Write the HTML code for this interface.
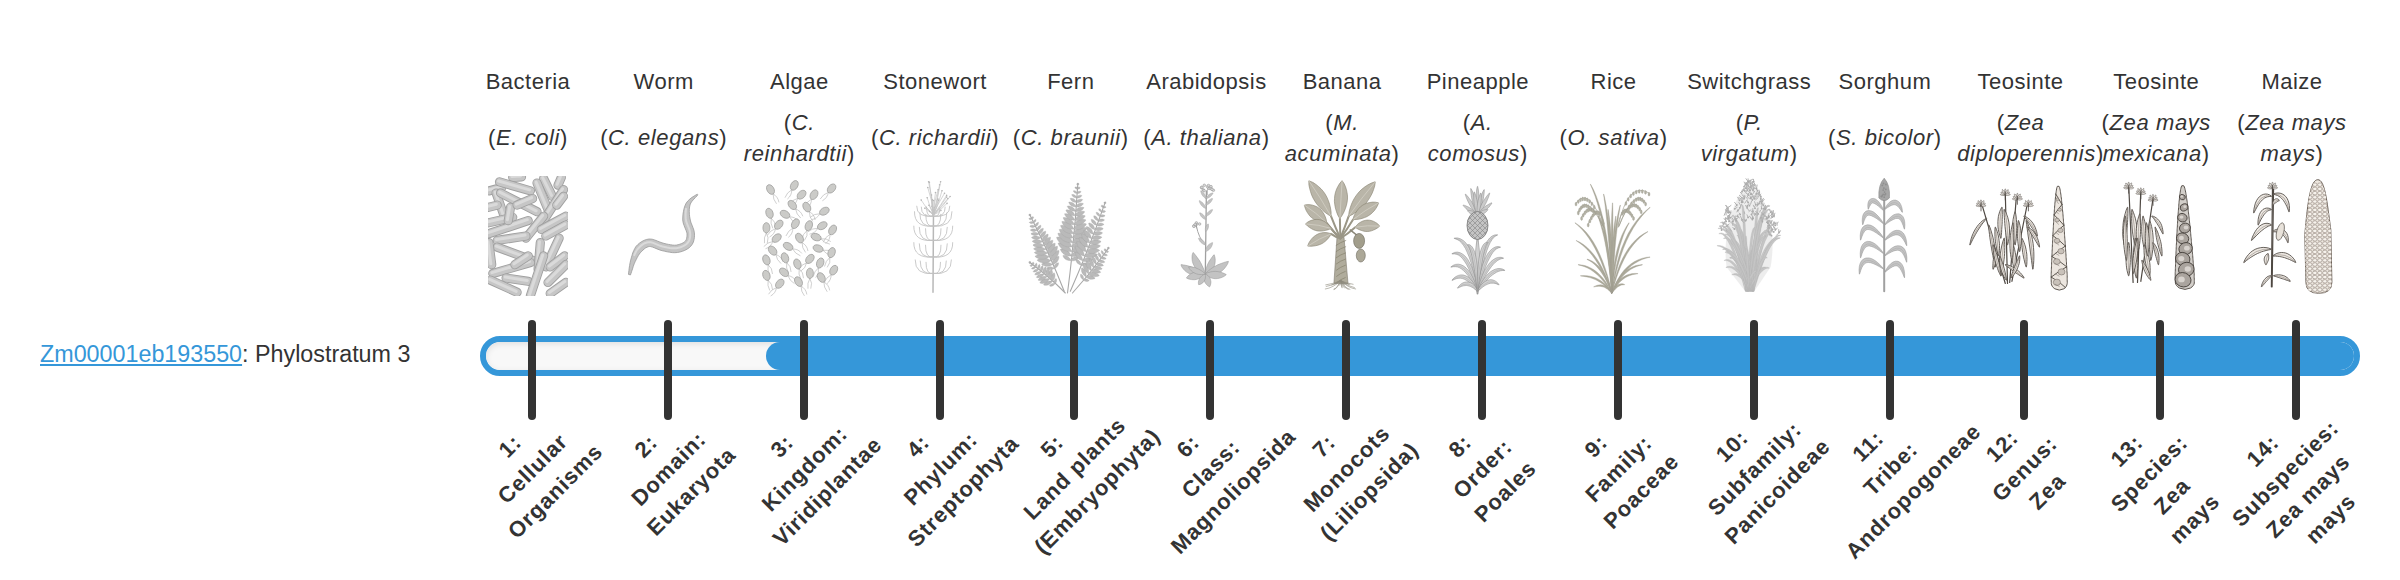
<!DOCTYPE html><html><head><meta charset="utf-8"><style>
*{margin:0;padding:0;box-sizing:border-box}
html,body{width:2400px;height:580px;background:#fff;overflow:hidden}
body{position:relative;font-family:"Liberation Sans",sans-serif;color:#333}
.t{position:absolute;width:200px;margin-left:-100px;text-align:center;font-size:22px;line-height:32px;top:66px;white-space:nowrap;letter-spacing:0.5px}
.s{position:absolute;width:200px;margin-left:-100px;text-align:center;font-size:22px;line-height:31px;white-space:nowrap;letter-spacing:0.6px}
.img{position:absolute;top:172px;width:130px;height:128px;margin-left:-65px}
.bar{position:absolute;left:480px;top:336px;width:1880px;height:40px;border:6px solid #3597d9;border-radius:20px;background:#f7f7f7;overflow:hidden}
.track{position:absolute;left:0;top:0;right:0;bottom:0;border-radius:14px;box-shadow:inset 0 2px 6px rgba(0,0,0,0.10);background:#f8f8f8}
.fill{position:absolute;left:280px;top:0;right:0;bottom:0;background:#3597d9;border-radius:14px 0 0 14px}
.tick{position:absolute;top:320px;width:8px;height:100px;border-radius:4px;background:#333}
.lab{position:absolute;width:600px;transform:rotate(-45deg)}
.lab div{text-align:center;font-weight:bold;font-size:22px;line-height:32px;white-space:nowrap;color:#333;letter-spacing:0.9px}
.left{position:absolute;left:40px;top:338px;font-size:23.3px;line-height:32px;white-space:nowrap;color:#333}
.left a{color:#3597d9;text-decoration:underline}
</style></head><body><div class="left"><a>Zm00001eb193550</a>: Phylostratum 3</div>
<div class="t" style="left:528.00px">Bacteria</div>
<div class="s" style="left:528.00px;top:122.1px">(<i>E. coli</i>)</div>
<div class="t" style="left:663.69px">Worm</div>
<div class="s" style="left:663.69px;top:122.1px">(<i>C. elegans</i>)</div>
<div class="t" style="left:799.38px">Algae</div>
<div class="s" style="left:799.38px;top:106.6px">(<i>C.</i><br><i>reinhardtii</i>)</div>
<div class="t" style="left:935.07px">Stonewort</div>
<div class="s" style="left:935.07px;top:122.1px">(<i>C. richardii</i>)</div>
<div class="t" style="left:1070.76px">Fern</div>
<div class="s" style="left:1070.76px;top:122.1px">(<i>C. braunii</i>)</div>
<div class="t" style="left:1206.45px">Arabidopsis</div>
<div class="s" style="left:1206.45px;top:122.1px">(<i>A. thaliana</i>)</div>
<div class="t" style="left:1342.14px">Banana</div>
<div class="s" style="left:1342.14px;top:106.6px">(<i>M.</i><br><i>acuminata</i>)</div>
<div class="t" style="left:1477.83px">Pineapple</div>
<div class="s" style="left:1477.83px;top:106.6px">(<i>A.</i><br><i>comosus</i>)</div>
<div class="t" style="left:1613.52px">Rice</div>
<div class="s" style="left:1613.52px;top:122.1px">(<i>O. sativa</i>)</div>
<div class="t" style="left:1749.21px">Switchgrass</div>
<div class="s" style="left:1749.21px;top:106.6px">(<i>P.</i><br><i>virgatum</i>)</div>
<div class="t" style="left:1884.90px">Sorghum</div>
<div class="s" style="left:1884.90px;top:122.1px">(<i>S. bicolor</i>)</div>
<div class="t" style="left:2020.59px">Teosinte</div>
<div class="s" style="left:2020.59px;top:106.6px">(<i>Zea</i><br><span style="position:relative;left:10px"><i>diploperennis</i>)</span></div>
<div class="t" style="left:2156.28px">Teosinte</div>
<div class="s" style="left:2156.28px;top:106.6px">(<i>Zea mays</i><br><i>mexicana</i>)</div>
<div class="t" style="left:2291.97px">Maize</div>
<div class="s" style="left:2291.97px;top:106.6px">(<i>Zea mays</i><br><i>mays</i>)</div>
<svg style="position:absolute;left:0;top:0" width="2400" height="580" viewBox="0 0 2400 580"><clipPath id="cb"><rect x="488" y="176" width="80" height="120"/></clipPath><g clip-path="url(#cb)"><line x1="489.5" y1="190.8" x2="501.7" y2="187.5" stroke="#a0a0a0" stroke-width="9.2" stroke-linecap="round" opacity="1"/><line x1="489.5" y1="190.8" x2="501.7" y2="187.5" stroke="#c6c6c6" stroke-width="7.4" stroke-linecap="round" opacity="1"/><line x1="488.6" y1="189.9" x2="500.8" y2="186.6" stroke="#dadada" stroke-width="3" stroke-linecap="round" opacity="1"/><line x1="512.7" y1="177.5" x2="521.5" y2="176.9" stroke="#a0a0a0" stroke-width="9.2" stroke-linecap="round" opacity="1"/><line x1="512.7" y1="177.5" x2="521.5" y2="176.9" stroke="#c6c6c6" stroke-width="7.4" stroke-linecap="round" opacity="1"/><line x1="511.8" y1="176.6" x2="520.6" y2="176.0" stroke="#dadada" stroke-width="3" stroke-linecap="round" opacity="1"/><line x1="543.6" y1="178.6" x2="552.4" y2="196.3" stroke="#a0a0a0" stroke-width="9.2" stroke-linecap="round" opacity="1"/><line x1="543.6" y1="178.6" x2="552.4" y2="196.3" stroke="#c6c6c6" stroke-width="7.4" stroke-linecap="round" opacity="1"/><line x1="542.7" y1="177.7" x2="551.5" y2="195.4" stroke="#dadada" stroke-width="3" stroke-linecap="round" opacity="1"/><line x1="561.3" y1="177.5" x2="558.0" y2="185.2" stroke="#a0a0a0" stroke-width="9.2" stroke-linecap="round" opacity="1"/><line x1="561.3" y1="177.5" x2="558.0" y2="185.2" stroke="#c6c6c6" stroke-width="7.4" stroke-linecap="round" opacity="1"/><line x1="560.4" y1="176.6" x2="557.1" y2="184.3" stroke="#dadada" stroke-width="3" stroke-linecap="round" opacity="1"/><line x1="499.5" y1="181.9" x2="530.4" y2="190.8" stroke="#a0a0a0" stroke-width="9.2" stroke-linecap="round" opacity="1"/><line x1="499.5" y1="181.9" x2="530.4" y2="190.8" stroke="#c6c6c6" stroke-width="7.4" stroke-linecap="round" opacity="1"/><line x1="498.6" y1="181.0" x2="529.5" y2="189.9" stroke="#dadada" stroke-width="3" stroke-linecap="round" opacity="1"/><line x1="496.1" y1="193.0" x2="505.0" y2="218.4" stroke="#a0a0a0" stroke-width="9.2" stroke-linecap="round" opacity="1"/><line x1="496.1" y1="193.0" x2="505.0" y2="218.4" stroke="#c6c6c6" stroke-width="7.4" stroke-linecap="round" opacity="1"/><line x1="495.2" y1="192.1" x2="504.1" y2="217.5" stroke="#dadada" stroke-width="3" stroke-linecap="round" opacity="1"/><line x1="500.6" y1="193.0" x2="537.0" y2="211.7" stroke="#a0a0a0" stroke-width="9.2" stroke-linecap="round" opacity="1"/><line x1="500.6" y1="193.0" x2="537.0" y2="211.7" stroke="#c6c6c6" stroke-width="7.4" stroke-linecap="round" opacity="1"/><line x1="499.7" y1="192.1" x2="536.1" y2="210.8" stroke="#dadada" stroke-width="3" stroke-linecap="round" opacity="1"/><line x1="537.0" y1="183.0" x2="548.0" y2="209.5" stroke="#a0a0a0" stroke-width="9.2" stroke-linecap="round" opacity="1"/><line x1="537.0" y1="183.0" x2="548.0" y2="209.5" stroke="#c6c6c6" stroke-width="7.4" stroke-linecap="round" opacity="1"/><line x1="536.1" y1="182.1" x2="547.1" y2="208.6" stroke="#dadada" stroke-width="3" stroke-linecap="round" opacity="1"/><line x1="563.5" y1="189.7" x2="543.6" y2="220.6" stroke="#a0a0a0" stroke-width="9.2" stroke-linecap="round" opacity="1"/><line x1="563.5" y1="189.7" x2="543.6" y2="220.6" stroke="#c6c6c6" stroke-width="7.4" stroke-linecap="round" opacity="1"/><line x1="562.6" y1="188.8" x2="542.7" y2="219.7" stroke="#dadada" stroke-width="3" stroke-linecap="round" opacity="1"/><line x1="488.4" y1="207.3" x2="497.2" y2="205.1" stroke="#a0a0a0" stroke-width="9.2" stroke-linecap="round" opacity="1"/><line x1="488.4" y1="207.3" x2="497.2" y2="205.1" stroke="#c6c6c6" stroke-width="7.4" stroke-linecap="round" opacity="1"/><line x1="487.5" y1="206.4" x2="496.3" y2="204.2" stroke="#dadada" stroke-width="3" stroke-linecap="round" opacity="1"/><line x1="488.4" y1="222.8" x2="512.7" y2="217.3" stroke="#a0a0a0" stroke-width="9.2" stroke-linecap="round" opacity="1"/><line x1="488.4" y1="222.8" x2="512.7" y2="217.3" stroke="#c6c6c6" stroke-width="7.4" stroke-linecap="round" opacity="1"/><line x1="487.5" y1="221.9" x2="511.8" y2="216.4" stroke="#dadada" stroke-width="3" stroke-linecap="round" opacity="1"/><line x1="488.4" y1="233.8" x2="528.2" y2="220.6" stroke="#a0a0a0" stroke-width="9.2" stroke-linecap="round" opacity="1"/><line x1="488.4" y1="233.8" x2="528.2" y2="220.6" stroke="#c6c6c6" stroke-width="7.4" stroke-linecap="round" opacity="1"/><line x1="487.5" y1="232.9" x2="527.3" y2="219.7" stroke="#dadada" stroke-width="3" stroke-linecap="round" opacity="1"/><line x1="525.9" y1="238.2" x2="543.6" y2="216.2" stroke="#a0a0a0" stroke-width="9.2" stroke-linecap="round" opacity="1"/><line x1="525.9" y1="238.2" x2="543.6" y2="216.2" stroke="#c6c6c6" stroke-width="7.4" stroke-linecap="round" opacity="1"/><line x1="525.0" y1="237.3" x2="542.7" y2="215.3" stroke="#dadada" stroke-width="3" stroke-linecap="round" opacity="1"/><line x1="541.4" y1="229.4" x2="565.7" y2="216.2" stroke="#a0a0a0" stroke-width="9.2" stroke-linecap="round" opacity="1"/><line x1="541.4" y1="229.4" x2="565.7" y2="216.2" stroke="#c6c6c6" stroke-width="7.4" stroke-linecap="round" opacity="1"/><line x1="540.5" y1="228.5" x2="564.8" y2="215.3" stroke="#dadada" stroke-width="3" stroke-linecap="round" opacity="1"/><line x1="545.8" y1="236.0" x2="565.7" y2="225.0" stroke="#a0a0a0" stroke-width="9.2" stroke-linecap="round" opacity="1"/><line x1="545.8" y1="236.0" x2="565.7" y2="225.0" stroke="#c6c6c6" stroke-width="7.4" stroke-linecap="round" opacity="1"/><line x1="544.9" y1="235.1" x2="564.8" y2="224.1" stroke="#dadada" stroke-width="3" stroke-linecap="round" opacity="1"/><line x1="497.2" y1="240.4" x2="525.9" y2="236.0" stroke="#a0a0a0" stroke-width="9.2" stroke-linecap="round" opacity="1"/><line x1="497.2" y1="240.4" x2="525.9" y2="236.0" stroke="#c6c6c6" stroke-width="7.4" stroke-linecap="round" opacity="1"/><line x1="496.3" y1="239.5" x2="525.0" y2="235.1" stroke="#dadada" stroke-width="3" stroke-linecap="round" opacity="1"/><line x1="497.2" y1="247.1" x2="532.6" y2="260.3" stroke="#a0a0a0" stroke-width="9.2" stroke-linecap="round" opacity="1"/><line x1="497.2" y1="247.1" x2="532.6" y2="260.3" stroke="#c6c6c6" stroke-width="7.4" stroke-linecap="round" opacity="1"/><line x1="496.3" y1="246.2" x2="531.7" y2="259.4" stroke="#dadada" stroke-width="3" stroke-linecap="round" opacity="1"/><line x1="488.9" y1="242.6" x2="491.7" y2="264.7" stroke="#a0a0a0" stroke-width="9.2" stroke-linecap="round" opacity="1"/><line x1="488.9" y1="242.6" x2="491.7" y2="264.7" stroke="#c6c6c6" stroke-width="7.4" stroke-linecap="round" opacity="1"/><line x1="488.0" y1="241.7" x2="490.8" y2="263.8" stroke="#dadada" stroke-width="3" stroke-linecap="round" opacity="1"/><line x1="540.3" y1="242.6" x2="538.1" y2="269.1" stroke="#a0a0a0" stroke-width="9.2" stroke-linecap="round" opacity="1"/><line x1="540.3" y1="242.6" x2="538.1" y2="269.1" stroke="#c6c6c6" stroke-width="7.4" stroke-linecap="round" opacity="1"/><line x1="539.4" y1="241.7" x2="537.2" y2="268.2" stroke="#dadada" stroke-width="3" stroke-linecap="round" opacity="1"/><line x1="559.1" y1="238.2" x2="545.8" y2="266.9" stroke="#a0a0a0" stroke-width="9.2" stroke-linecap="round" opacity="1"/><line x1="559.1" y1="238.2" x2="545.8" y2="266.9" stroke="#c6c6c6" stroke-width="7.4" stroke-linecap="round" opacity="1"/><line x1="558.2" y1="237.3" x2="544.9" y2="266.0" stroke="#dadada" stroke-width="3" stroke-linecap="round" opacity="1"/><line x1="564.6" y1="255.9" x2="550.2" y2="266.9" stroke="#a0a0a0" stroke-width="9.2" stroke-linecap="round" opacity="1"/><line x1="564.6" y1="255.9" x2="550.2" y2="266.9" stroke="#c6c6c6" stroke-width="7.4" stroke-linecap="round" opacity="1"/><line x1="563.7" y1="255.0" x2="549.3" y2="266.0" stroke="#dadada" stroke-width="3" stroke-linecap="round" opacity="1"/><line x1="492.8" y1="273.5" x2="530.4" y2="262.5" stroke="#a0a0a0" stroke-width="9.2" stroke-linecap="round" opacity="1"/><line x1="492.8" y1="273.5" x2="530.4" y2="262.5" stroke="#c6c6c6" stroke-width="7.4" stroke-linecap="round" opacity="1"/><line x1="491.9" y1="272.6" x2="529.5" y2="261.6" stroke="#dadada" stroke-width="3" stroke-linecap="round" opacity="1"/><line x1="506.1" y1="278.0" x2="528.2" y2="281.3" stroke="#a0a0a0" stroke-width="9.2" stroke-linecap="round" opacity="1"/><line x1="506.1" y1="278.0" x2="528.2" y2="281.3" stroke="#c6c6c6" stroke-width="7.4" stroke-linecap="round" opacity="1"/><line x1="505.2" y1="277.1" x2="527.3" y2="280.4" stroke="#dadada" stroke-width="3" stroke-linecap="round" opacity="1"/><line x1="530.4" y1="295.6" x2="543.6" y2="255.9" stroke="#a0a0a0" stroke-width="9.2" stroke-linecap="round" opacity="1"/><line x1="530.4" y1="295.6" x2="543.6" y2="255.9" stroke="#c6c6c6" stroke-width="7.4" stroke-linecap="round" opacity="1"/><line x1="529.5" y1="294.7" x2="542.7" y2="255.0" stroke="#dadada" stroke-width="3" stroke-linecap="round" opacity="1"/><line x1="548.0" y1="282.4" x2="565.7" y2="264.7" stroke="#a0a0a0" stroke-width="9.2" stroke-linecap="round" opacity="1"/><line x1="548.0" y1="282.4" x2="565.7" y2="264.7" stroke="#c6c6c6" stroke-width="7.4" stroke-linecap="round" opacity="1"/><line x1="547.1" y1="281.5" x2="564.8" y2="263.8" stroke="#dadada" stroke-width="3" stroke-linecap="round" opacity="1"/><line x1="490.6" y1="280.2" x2="517.1" y2="292.3" stroke="#a0a0a0" stroke-width="9.2" stroke-linecap="round" opacity="1"/><line x1="490.6" y1="280.2" x2="517.1" y2="292.3" stroke="#c6c6c6" stroke-width="7.4" stroke-linecap="round" opacity="1"/><line x1="489.7" y1="279.3" x2="516.2" y2="291.4" stroke="#dadada" stroke-width="3" stroke-linecap="round" opacity="1"/><line x1="550.2" y1="293.4" x2="565.7" y2="282.4" stroke="#a0a0a0" stroke-width="9.2" stroke-linecap="round" opacity="1"/><line x1="550.2" y1="293.4" x2="565.7" y2="282.4" stroke="#c6c6c6" stroke-width="7.4" stroke-linecap="round" opacity="1"/><line x1="549.3" y1="292.5" x2="564.8" y2="281.5" stroke="#dadada" stroke-width="3" stroke-linecap="round" opacity="1"/><line x1="508.3" y1="220.6" x2="510.5" y2="207.3" stroke="#a0a0a0" stroke-width="9.2" stroke-linecap="round" opacity="1"/><line x1="508.3" y1="220.6" x2="510.5" y2="207.3" stroke="#c6c6c6" stroke-width="7.4" stroke-linecap="round" opacity="1"/><line x1="507.4" y1="219.7" x2="509.6" y2="206.4" stroke="#dadada" stroke-width="3" stroke-linecap="round" opacity="1"/><line x1="517.1" y1="205.1" x2="532.6" y2="198.5" stroke="#a0a0a0" stroke-width="9.2" stroke-linecap="round" opacity="1"/><line x1="517.1" y1="205.1" x2="532.6" y2="198.5" stroke="#c6c6c6" stroke-width="7.4" stroke-linecap="round" opacity="1"/><line x1="516.2" y1="204.2" x2="531.7" y2="197.6" stroke="#dadada" stroke-width="3" stroke-linecap="round" opacity="1"/><line x1="556.8" y1="205.1" x2="563.5" y2="196.3" stroke="#a0a0a0" stroke-width="9.2" stroke-linecap="round" opacity="1"/><line x1="556.8" y1="205.1" x2="563.5" y2="196.3" stroke="#c6c6c6" stroke-width="7.4" stroke-linecap="round" opacity="1"/><line x1="555.9" y1="204.2" x2="562.6" y2="195.4" stroke="#dadada" stroke-width="3" stroke-linecap="round" opacity="1"/><line x1="514.9" y1="264.7" x2="528.2" y2="255.9" stroke="#a0a0a0" stroke-width="9.2" stroke-linecap="round" opacity="1"/><line x1="514.9" y1="264.7" x2="528.2" y2="255.9" stroke="#c6c6c6" stroke-width="7.4" stroke-linecap="round" opacity="1"/><line x1="514.0" y1="263.8" x2="527.3" y2="255.0" stroke="#dadada" stroke-width="3" stroke-linecap="round" opacity="1"/></g><path d="M697.3,194.2 L696.0,194.9 L694.2,196.0 L692.1,197.3 L690.0,198.9 L687.9,200.9 L686.2,203.1 L685.0,205.6 L684.1,208.3 L683.5,211.2 L683.0,214.1 L682.8,217.0 L682.7,219.9 L683.2,222.9 L684.1,225.6 L685.1,228.1 L686.0,230.3 L686.7,232.2 L687.0,233.7 L687.0,235.2 L686.9,236.8 L686.7,238.2 L686.4,239.3 L685.9,240.3 L685.3,241.1 L684.4,241.9 L683.2,242.8 L681.7,243.5 L679.9,244.2 L678.1,244.7 L676.4,245.1 L674.7,245.2 L672.8,245.1 L670.7,244.8 L668.5,244.4 L666.2,243.9 L664.0,243.4 L662.0,242.8 L659.8,242.0 L657.4,241.0 L654.8,240.0 L652.1,239.2 L649.1,239.0 L646.4,239.5 L643.9,240.4 L641.7,241.6 L639.6,243.0 L637.8,244.6 L636.1,246.3 L634.8,248.4 L633.7,250.7 L632.7,253.0 L632.0,255.4 L631.3,257.8 L630.7,260.1 L630.1,262.6 L629.6,265.4 L629.2,268.1 L628.9,270.7 L628.6,272.9 L628.5,274.4 L630.5,274.9 L631.0,273.4 L631.7,271.3 L632.5,268.9 L633.3,266.3 L634.2,263.8 L635.2,261.6 L636.2,259.6 L637.2,257.6 L638.3,255.6 L639.4,253.9 L640.6,252.4 L641.8,251.3 L643.0,250.0 L644.3,248.9 L645.6,247.9 L647.0,247.2 L648.3,246.7 L649.5,246.5 L650.8,246.6 L652.5,247.1 L654.6,247.9 L657.0,248.9 L659.5,249.9 L662.2,250.7 L664.6,251.2 L667.1,251.8 L669.6,252.2 L672.2,252.6 L674.8,252.7 L677.4,252.5 L679.9,252.0 L682.4,251.3 L684.7,250.4 L687.0,249.2 L689.1,247.8 L690.9,246.1 L692.3,244.2 L693.4,242.0 L694.0,239.8 L694.4,237.6 L694.5,235.3 L694.4,232.9 L693.9,230.2 L693.0,227.7 L692.1,225.3 L691.1,223.0 L690.5,221.0 L690.1,219.0 L689.7,216.8 L689.4,214.3 L689.3,211.7 L689.3,209.2 L689.6,206.9 L690.0,204.9 L690.8,203.0 L692.1,201.1 L693.8,199.2 L695.4,197.5 L696.9,196.0 L697.8,194.8Z" fill="#c4c4c4" stroke="#999" stroke-width="0.8"/><path d="M686.1,208.2 L685.8,210.9 L685.6,213.6 L685.6,216.3 L685.8,218.9 L686.2,221.3 L687.0,223.7 L688.0,226.1 L688.9,228.4 L689.7,230.6 L690.1,232.7 L690.2,234.7 L690.1,236.6 L689.8,238.4 L689.3,240.1 L688.5,241.6 L687.5,243.0 L686.2,244.3 L684.5,245.4 L682.6,246.4 L680.5,247.2 L678.4,247.8 L676.3,248.2 L674.1,248.3 L671.9,248.2 L669.6,247.9 L667.2,247.5 L664.8,247.0 L662.5,246.5 L660.2,245.8 L657.8,244.8 L655.4,243.8 L653.1,242.9 L650.8,242.3 L648.7,242.2 L646.7,242.5 L644.8,243.2 L643.1,244.2 L641.4,245.4 L639.8,246.7 L638.4,248.2 L637.1,249.8 L635.9,251.7 L634.9,253.7 L634.0,255.9" fill="none" stroke="#dadada" stroke-width="2"/><path d="M773.0,193.8 Q778.1,196.7 778.9,202.0" fill="none" stroke="#b0b0b0" stroke-width="0.6" stroke-linecap="round" opacity="1"/><path d="M773.0,193.8 Q772.9,199.7 776.3,203.5" fill="none" stroke="#b0b0b0" stroke-width="0.6" stroke-linecap="round" opacity="1"/><ellipse cx="770.5" cy="189.5" rx="3.5" ry="5.2" transform="rotate(-30 770.5 189.5)" fill="#cbcbc8" stroke="#9c9c9a" stroke-width="0.7"/><path d="M791.8,189.7 Q791.9,195.5 787.7,198.8" fill="none" stroke="#b0b0b0" stroke-width="0.6" stroke-linecap="round" opacity="1"/><path d="M791.8,189.7 Q786.7,192.5 785.1,197.3" fill="none" stroke="#b0b0b0" stroke-width="0.6" stroke-linecap="round" opacity="1"/><ellipse cx="794.3" cy="185.4" rx="3.5" ry="5.2" transform="rotate(30 794.3 185.4)" fill="#cbcbc8" stroke="#9c9c9a" stroke-width="0.7"/><path d="M798.0,198.2 Q796.6,203.9 791.7,206.0" fill="none" stroke="#b0b0b0" stroke-width="0.6" stroke-linecap="round" opacity="1"/><path d="M798.0,198.2 Q792.4,199.6 789.6,203.9" fill="none" stroke="#b0b0b0" stroke-width="0.6" stroke-linecap="round" opacity="1"/><ellipse cx="801.6" cy="194.7" rx="3.5" ry="5.2" transform="rotate(45 801.6 194.7)" fill="#cbcbc8" stroke="#9c9c9a" stroke-width="0.7"/><path d="M811.5,199.0 Q811.6,204.8 807.4,208.2" fill="none" stroke="#b0b0b0" stroke-width="0.6" stroke-linecap="round" opacity="1"/><path d="M811.5,199.0 Q806.4,201.8 804.8,206.7" fill="none" stroke="#b0b0b0" stroke-width="0.6" stroke-linecap="round" opacity="1"/><ellipse cx="814.0" cy="194.7" rx="3.5" ry="5.2" transform="rotate(30 814.0 194.7)" fill="#cbcbc8" stroke="#9c9c9a" stroke-width="0.7"/><path d="M828.4,192.3 Q827.5,198.0 822.7,200.6" fill="none" stroke="#b0b0b0" stroke-width="0.6" stroke-linecap="round" opacity="1"/><path d="M828.4,192.3 Q822.9,194.2 820.4,198.7" fill="none" stroke="#b0b0b0" stroke-width="0.6" stroke-linecap="round" opacity="1"/><ellipse cx="831.6" cy="188.5" rx="3.5" ry="5.2" transform="rotate(40 831.6 188.5)" fill="#cbcbc8" stroke="#9c9c9a" stroke-width="0.7"/><path d="M771.2,218.0 Q775.7,221.7 775.6,227.1" fill="none" stroke="#b0b0b0" stroke-width="0.6" stroke-linecap="round" opacity="1"/><path d="M771.2,218.0 Q770.1,223.7 772.7,228.1" fill="none" stroke="#b0b0b0" stroke-width="0.6" stroke-linecap="round" opacity="1"/><ellipse cx="769.5" cy="213.3" rx="3.5" ry="5.2" transform="rotate(-20 769.5 213.3)" fill="#cbcbc8" stroke="#9c9c9a" stroke-width="0.7"/><path d="M789.4,216.8 Q795.2,216.7 798.5,221.0" fill="none" stroke="#b0b0b0" stroke-width="0.6" stroke-linecap="round" opacity="1"/><path d="M789.4,216.8 Q792.2,221.9 797.0,223.6" fill="none" stroke="#b0b0b0" stroke-width="0.6" stroke-linecap="round" opacity="1"/><ellipse cx="785.0" cy="214.3" rx="3.5" ry="5.2" transform="rotate(-60 785.0 214.3)" fill="#cbcbc8" stroke="#9c9c9a" stroke-width="0.7"/><path d="M795.5,208.9 Q801.0,210.8 802.7,215.9" fill="none" stroke="#b0b0b0" stroke-width="0.6" stroke-linecap="round" opacity="1"/><path d="M795.5,208.9 Q796.4,214.6 800.4,217.8" fill="none" stroke="#b0b0b0" stroke-width="0.6" stroke-linecap="round" opacity="1"/><ellipse cx="792.3" cy="205.0" rx="3.5" ry="5.2" transform="rotate(-40 792.3 205.0)" fill="#cbcbc8" stroke="#9c9c9a" stroke-width="0.7"/><path d="M809.3,211.4 Q814.4,214.3 815.1,219.6" fill="none" stroke="#b0b0b0" stroke-width="0.6" stroke-linecap="round" opacity="1"/><path d="M809.3,211.4 Q809.2,217.3 812.5,221.1" fill="none" stroke="#b0b0b0" stroke-width="0.6" stroke-linecap="round" opacity="1"/><ellipse cx="806.8" cy="207.1" rx="3.5" ry="5.2" transform="rotate(-30 806.8 207.1)" fill="#cbcbc8" stroke="#9c9c9a" stroke-width="0.7"/><path d="M820.0,213.7 Q817.2,218.8 811.9,219.6" fill="none" stroke="#b0b0b0" stroke-width="0.6" stroke-linecap="round" opacity="1"/><path d="M820.0,213.7 Q814.2,213.6 810.4,217.0" fill="none" stroke="#b0b0b0" stroke-width="0.6" stroke-linecap="round" opacity="1"/><ellipse cx="824.4" cy="211.2" rx="3.5" ry="5.2" transform="rotate(60 824.4 211.2)" fill="#cbcbc8" stroke="#9c9c9a" stroke-width="0.7"/><path d="M766.4,232.8 Q769.4,237.8 767.4,242.8" fill="none" stroke="#b0b0b0" stroke-width="0.6" stroke-linecap="round" opacity="1"/><path d="M766.4,232.8 Q763.4,237.8 764.4,242.8" fill="none" stroke="#b0b0b0" stroke-width="0.6" stroke-linecap="round" opacity="1"/><ellipse cx="766.4" cy="227.8" rx="3.5" ry="5.2" transform="rotate(0 766.4 227.8)" fill="#cbcbc8" stroke="#9c9c9a" stroke-width="0.7"/><path d="M775.6,228.5 Q774.7,234.3 769.9,236.8" fill="none" stroke="#b0b0b0" stroke-width="0.6" stroke-linecap="round" opacity="1"/><path d="M775.6,228.5 Q770.1,230.4 767.6,234.9" fill="none" stroke="#b0b0b0" stroke-width="0.6" stroke-linecap="round" opacity="1"/><ellipse cx="778.8" cy="224.7" rx="3.5" ry="5.2" transform="rotate(40 778.8 224.7)" fill="#cbcbc8" stroke="#9c9c9a" stroke-width="0.7"/><path d="M792.9,228.0 Q793.0,233.8 788.7,237.1" fill="none" stroke="#b0b0b0" stroke-width="0.6" stroke-linecap="round" opacity="1"/><path d="M792.9,228.0 Q787.8,230.8 786.1,235.6" fill="none" stroke="#b0b0b0" stroke-width="0.6" stroke-linecap="round" opacity="1"/><ellipse cx="795.4" cy="223.7" rx="3.5" ry="5.2" transform="rotate(30 795.4 223.7)" fill="#cbcbc8" stroke="#9c9c9a" stroke-width="0.7"/><path d="M807.1,230.4 Q808.2,236.1 804.6,240.2" fill="none" stroke="#b0b0b0" stroke-width="0.6" stroke-linecap="round" opacity="1"/><path d="M807.1,230.4 Q802.6,234.1 801.8,239.1" fill="none" stroke="#b0b0b0" stroke-width="0.6" stroke-linecap="round" opacity="1"/><ellipse cx="808.8" cy="225.7" rx="3.5" ry="5.2" transform="rotate(20 808.8 225.7)" fill="#cbcbc8" stroke="#9c9c9a" stroke-width="0.7"/><path d="M818.0,228.2 Q815.1,233.3 809.8,234.1" fill="none" stroke="#b0b0b0" stroke-width="0.6" stroke-linecap="round" opacity="1"/><path d="M818.0,228.2 Q812.1,228.1 808.3,231.5" fill="none" stroke="#b0b0b0" stroke-width="0.6" stroke-linecap="round" opacity="1"/><ellipse cx="822.3" cy="225.7" rx="3.5" ry="5.2" transform="rotate(60 822.3 225.7)" fill="#cbcbc8" stroke="#9c9c9a" stroke-width="0.7"/><path d="M830.1,234.2 Q830.2,240.0 826.0,243.4" fill="none" stroke="#b0b0b0" stroke-width="0.6" stroke-linecap="round" opacity="1"/><path d="M830.1,234.2 Q825.0,237.0 823.4,241.9" fill="none" stroke="#b0b0b0" stroke-width="0.6" stroke-linecap="round" opacity="1"/><ellipse cx="832.6" cy="229.9" rx="3.5" ry="5.2" transform="rotate(30 832.6 229.9)" fill="#cbcbc8" stroke="#9c9c9a" stroke-width="0.7"/><path d="M772.9,241.4 Q771.0,246.9 765.9,248.6" fill="none" stroke="#b0b0b0" stroke-width="0.6" stroke-linecap="round" opacity="1"/><path d="M772.9,241.4 Q767.2,242.3 764.0,246.3" fill="none" stroke="#b0b0b0" stroke-width="0.6" stroke-linecap="round" opacity="1"/><ellipse cx="776.7" cy="238.1" rx="3.5" ry="5.2" transform="rotate(50 776.7 238.1)" fill="#cbcbc8" stroke="#9c9c9a" stroke-width="0.7"/><path d="M802.0,242.5 Q807.1,245.3 807.9,250.6" fill="none" stroke="#b0b0b0" stroke-width="0.6" stroke-linecap="round" opacity="1"/><path d="M802.0,242.5 Q801.9,248.3 805.3,252.1" fill="none" stroke="#b0b0b0" stroke-width="0.6" stroke-linecap="round" opacity="1"/><ellipse cx="799.5" cy="238.1" rx="3.5" ry="5.2" transform="rotate(-30 799.5 238.1)" fill="#cbcbc8" stroke="#9c9c9a" stroke-width="0.7"/><path d="M820.8,238.8 Q826.5,237.7 830.5,241.3" fill="none" stroke="#b0b0b0" stroke-width="0.6" stroke-linecap="round" opacity="1"/><path d="M820.8,238.8 Q824.4,243.4 829.5,244.1" fill="none" stroke="#b0b0b0" stroke-width="0.6" stroke-linecap="round" opacity="1"/><ellipse cx="816.1" cy="237.1" rx="3.5" ry="5.2" transform="rotate(-70 816.1 237.1)" fill="#cbcbc8" stroke="#9c9c9a" stroke-width="0.7"/><path d="M775.8,254.4 Q781.3,256.3 783.0,261.4" fill="none" stroke="#b0b0b0" stroke-width="0.6" stroke-linecap="round" opacity="1"/><path d="M775.8,254.4 Q776.7,260.2 780.7,263.3" fill="none" stroke="#b0b0b0" stroke-width="0.6" stroke-linecap="round" opacity="1"/><ellipse cx="772.6" cy="250.6" rx="3.5" ry="5.2" transform="rotate(-40 772.6 250.6)" fill="#cbcbc8" stroke="#9c9c9a" stroke-width="0.7"/><path d="M792.5,248.9 Q798.3,248.8 801.6,253.1" fill="none" stroke="#b0b0b0" stroke-width="0.6" stroke-linecap="round" opacity="1"/><path d="M792.5,248.9 Q795.3,254.0 800.1,255.7" fill="none" stroke="#b0b0b0" stroke-width="0.6" stroke-linecap="round" opacity="1"/><ellipse cx="788.1" cy="246.4" rx="3.5" ry="5.2" transform="rotate(-60 788.1 246.4)" fill="#cbcbc8" stroke="#9c9c9a" stroke-width="0.7"/><path d="M822.8,250.2 Q828.6,249.1 832.6,252.7" fill="none" stroke="#b0b0b0" stroke-width="0.6" stroke-linecap="round" opacity="1"/><path d="M822.8,250.2 Q826.5,254.7 831.6,255.5" fill="none" stroke="#b0b0b0" stroke-width="0.6" stroke-linecap="round" opacity="1"/><ellipse cx="818.1" cy="248.5" rx="3.5" ry="5.2" transform="rotate(-70 818.1 248.5)" fill="#cbcbc8" stroke="#9c9c9a" stroke-width="0.7"/><path d="M829.9,257.3 Q831.0,263.1 827.4,267.1" fill="none" stroke="#b0b0b0" stroke-width="0.6" stroke-linecap="round" opacity="1"/><path d="M829.9,257.3 Q825.4,261.0 824.6,266.1" fill="none" stroke="#b0b0b0" stroke-width="0.6" stroke-linecap="round" opacity="1"/><ellipse cx="831.6" cy="252.6" rx="3.5" ry="5.2" transform="rotate(20 831.6 252.6)" fill="#cbcbc8" stroke="#9c9c9a" stroke-width="0.7"/><path d="M768.1,264.6 Q772.6,268.3 772.5,273.6" fill="none" stroke="#b0b0b0" stroke-width="0.6" stroke-linecap="round" opacity="1"/><path d="M768.1,264.6 Q767.0,270.3 769.6,274.7" fill="none" stroke="#b0b0b0" stroke-width="0.6" stroke-linecap="round" opacity="1"/><ellipse cx="766.4" cy="259.9" rx="3.5" ry="5.2" transform="rotate(-20 766.4 259.9)" fill="#cbcbc8" stroke="#9c9c9a" stroke-width="0.7"/><path d="M786.7,262.5 Q791.3,266.2 791.1,271.6" fill="none" stroke="#b0b0b0" stroke-width="0.6" stroke-linecap="round" opacity="1"/><path d="M786.7,262.5 Q785.6,268.2 788.3,272.6" fill="none" stroke="#b0b0b0" stroke-width="0.6" stroke-linecap="round" opacity="1"/><ellipse cx="785.0" cy="257.8" rx="3.5" ry="5.2" transform="rotate(-20 785.0 257.8)" fill="#cbcbc8" stroke="#9c9c9a" stroke-width="0.7"/><path d="M799.2,268.7 Q803.7,272.4 803.5,277.8" fill="none" stroke="#b0b0b0" stroke-width="0.6" stroke-linecap="round" opacity="1"/><path d="M799.2,268.7 Q798.0,274.4 800.7,278.8" fill="none" stroke="#b0b0b0" stroke-width="0.6" stroke-linecap="round" opacity="1"/><ellipse cx="797.4" cy="264.0" rx="3.5" ry="5.2" transform="rotate(-20 797.4 264.0)" fill="#cbcbc8" stroke="#9c9c9a" stroke-width="0.7"/><path d="M806.7,262.7 Q805.7,268.4 801.0,271.0" fill="none" stroke="#b0b0b0" stroke-width="0.6" stroke-linecap="round" opacity="1"/><path d="M806.7,262.7 Q801.1,264.6 798.7,269.1" fill="none" stroke="#b0b0b0" stroke-width="0.6" stroke-linecap="round" opacity="1"/><ellipse cx="809.9" cy="258.9" rx="3.5" ry="5.2" transform="rotate(40 809.9 258.9)" fill="#cbcbc8" stroke="#9c9c9a" stroke-width="0.7"/><path d="M818.5,267.7 Q819.6,273.4 816.0,277.4" fill="none" stroke="#b0b0b0" stroke-width="0.6" stroke-linecap="round" opacity="1"/><path d="M818.5,267.7 Q814.0,271.4 813.2,276.4" fill="none" stroke="#b0b0b0" stroke-width="0.6" stroke-linecap="round" opacity="1"/><ellipse cx="820.2" cy="263.0" rx="3.5" ry="5.2" transform="rotate(20 820.2 263.0)" fill="#cbcbc8" stroke="#9c9c9a" stroke-width="0.7"/><path d="M768.1,280.1 Q772.6,283.8 772.5,289.2" fill="none" stroke="#b0b0b0" stroke-width="0.6" stroke-linecap="round" opacity="1"/><path d="M768.1,280.1 Q767.0,285.8 769.6,290.2" fill="none" stroke="#b0b0b0" stroke-width="0.6" stroke-linecap="round" opacity="1"/><ellipse cx="766.4" cy="275.4" rx="3.5" ry="5.2" transform="rotate(-20 766.4 275.4)" fill="#cbcbc8" stroke="#9c9c9a" stroke-width="0.7"/><path d="M787.8,275.5 Q793.6,276.4 796.1,281.2" fill="none" stroke="#b0b0b0" stroke-width="0.6" stroke-linecap="round" opacity="1"/><path d="M787.8,275.5 Q789.7,281.0 794.2,283.5" fill="none" stroke="#b0b0b0" stroke-width="0.6" stroke-linecap="round" opacity="1"/><ellipse cx="784.0" cy="272.3" rx="3.5" ry="5.2" transform="rotate(-50 784.0 272.3)" fill="#cbcbc8" stroke="#9c9c9a" stroke-width="0.7"/><path d="M809.9,278.3 Q812.9,283.3 810.9,288.3" fill="none" stroke="#b0b0b0" stroke-width="0.6" stroke-linecap="round" opacity="1"/><path d="M809.9,278.3 Q806.9,283.3 807.9,288.3" fill="none" stroke="#b0b0b0" stroke-width="0.6" stroke-linecap="round" opacity="1"/><ellipse cx="809.9" cy="273.3" rx="3.5" ry="5.2" transform="rotate(0 809.9 273.3)" fill="#cbcbc8" stroke="#9c9c9a" stroke-width="0.7"/><path d="M823.8,281.8 Q828.9,284.6 829.6,290.0" fill="none" stroke="#b0b0b0" stroke-width="0.6" stroke-linecap="round" opacity="1"/><path d="M823.8,281.8 Q823.7,287.6 827.0,291.5" fill="none" stroke="#b0b0b0" stroke-width="0.6" stroke-linecap="round" opacity="1"/><ellipse cx="821.3" cy="277.5" rx="3.5" ry="5.2" transform="rotate(-30 821.3 277.5)" fill="#cbcbc8" stroke="#9c9c9a" stroke-width="0.7"/><path d="M831.2,274.6 Q831.3,280.4 827.0,283.7" fill="none" stroke="#b0b0b0" stroke-width="0.6" stroke-linecap="round" opacity="1"/><path d="M831.2,274.6 Q826.1,277.4 824.4,282.2" fill="none" stroke="#b0b0b0" stroke-width="0.6" stroke-linecap="round" opacity="1"/><ellipse cx="833.7" cy="270.2" rx="3.5" ry="5.2" transform="rotate(30 833.7 270.2)" fill="#cbcbc8" stroke="#9c9c9a" stroke-width="0.7"/><path d="M776.6,287.5 Q775.7,293.3 771.0,295.8" fill="none" stroke="#b0b0b0" stroke-width="0.6" stroke-linecap="round" opacity="1"/><path d="M776.6,287.5 Q771.1,289.4 768.7,293.9" fill="none" stroke="#b0b0b0" stroke-width="0.6" stroke-linecap="round" opacity="1"/><ellipse cx="779.8" cy="283.7" rx="3.5" ry="5.2" transform="rotate(40 779.8 283.7)" fill="#cbcbc8" stroke="#9c9c9a" stroke-width="0.7"/><path d="M801.0,286.0 Q806.1,288.8 806.8,294.1" fill="none" stroke="#b0b0b0" stroke-width="0.6" stroke-linecap="round" opacity="1"/><path d="M801.0,286.0 Q800.9,291.8 804.2,295.6" fill="none" stroke="#b0b0b0" stroke-width="0.6" stroke-linecap="round" opacity="1"/><ellipse cx="798.5" cy="281.6" rx="3.5" ry="5.2" transform="rotate(-30 798.5 281.6)" fill="#cbcbc8" stroke="#9c9c9a" stroke-width="0.7"/><line x1="933.0" y1="292.3" x2="933.5" y2="209.5" stroke="#b8b8b8" stroke-width="1.5" stroke-linecap="round" opacity="1"/><path d="M933.3,216.2 Q926.5,217.9 926.6,208.0" fill="none" stroke="#c0c0c0" stroke-width="0.85" stroke-linecap="round" opacity="1"/><path d="M933.3,216.2 Q921.1,217.9 921.3,207.1" fill="none" stroke="#c0c0c0" stroke-width="0.85" stroke-linecap="round" opacity="1"/><path d="M933.3,216.2 Q916.4,217.9 916.7,206.2" fill="none" stroke="#c0c0c0" stroke-width="0.85" stroke-linecap="round" opacity="1"/><path d="M933.3,216.2 Q940.0,217.9 939.9,208.0" fill="none" stroke="#c0c0c0" stroke-width="0.85" stroke-linecap="round" opacity="1"/><path d="M933.3,216.2 Q945.4,217.9 945.2,207.1" fill="none" stroke="#c0c0c0" stroke-width="0.85" stroke-linecap="round" opacity="1"/><path d="M933.3,216.2 Q950.2,217.9 949.8,206.2" fill="none" stroke="#c0c0c0" stroke-width="0.85" stroke-linecap="round" opacity="1"/><path d="M933.3,226.1 Q925.6,227.8 925.8,214.3" fill="none" stroke="#c0c0c0" stroke-width="0.85" stroke-linecap="round" opacity="1"/><path d="M933.3,226.1 Q919.5,227.8 919.8,212.9" fill="none" stroke="#c0c0c0" stroke-width="0.85" stroke-linecap="round" opacity="1"/><path d="M933.3,226.1 Q914.1,227.8 914.5,211.7" fill="none" stroke="#c0c0c0" stroke-width="0.85" stroke-linecap="round" opacity="1"/><path d="M933.3,226.1 Q940.9,227.8 940.8,214.3" fill="none" stroke="#c0c0c0" stroke-width="0.85" stroke-linecap="round" opacity="1"/><path d="M933.3,226.1 Q947.0,227.8 946.8,212.9" fill="none" stroke="#c0c0c0" stroke-width="0.85" stroke-linecap="round" opacity="1"/><path d="M933.3,226.1 Q952.4,227.8 952.0,211.7" fill="none" stroke="#c0c0c0" stroke-width="0.85" stroke-linecap="round" opacity="1"/><path d="M933.3,240.4 Q925.3,242.2 925.5,228.7" fill="none" stroke="#c0c0c0" stroke-width="0.85" stroke-linecap="round" opacity="1"/><path d="M933.3,240.4 Q919.0,242.2 919.3,227.3" fill="none" stroke="#c0c0c0" stroke-width="0.85" stroke-linecap="round" opacity="1"/><path d="M933.3,240.4 Q913.5,242.2 913.8,226.1" fill="none" stroke="#c0c0c0" stroke-width="0.85" stroke-linecap="round" opacity="1"/><path d="M933.3,240.4 Q941.2,242.2 941.0,228.7" fill="none" stroke="#c0c0c0" stroke-width="0.85" stroke-linecap="round" opacity="1"/><path d="M933.3,240.4 Q947.5,242.2 947.3,227.3" fill="none" stroke="#c0c0c0" stroke-width="0.85" stroke-linecap="round" opacity="1"/><path d="M933.3,240.4 Q953.1,242.2 952.7,226.1" fill="none" stroke="#c0c0c0" stroke-width="0.85" stroke-linecap="round" opacity="1"/><path d="M933.3,257.0 Q925.3,258.8 925.5,245.2" fill="none" stroke="#c0c0c0" stroke-width="0.85" stroke-linecap="round" opacity="1"/><path d="M933.3,257.0 Q919.0,258.8 919.3,243.8" fill="none" stroke="#c0c0c0" stroke-width="0.85" stroke-linecap="round" opacity="1"/><path d="M933.3,257.0 Q913.5,258.8 913.8,242.6" fill="none" stroke="#c0c0c0" stroke-width="0.85" stroke-linecap="round" opacity="1"/><path d="M933.3,257.0 Q941.2,258.8 941.0,245.2" fill="none" stroke="#c0c0c0" stroke-width="0.85" stroke-linecap="round" opacity="1"/><path d="M933.3,257.0 Q947.5,258.8 947.3,243.8" fill="none" stroke="#c0c0c0" stroke-width="0.85" stroke-linecap="round" opacity="1"/><path d="M933.3,257.0 Q953.1,258.8 952.7,242.6" fill="none" stroke="#c0c0c0" stroke-width="0.85" stroke-linecap="round" opacity="1"/><path d="M933.3,273.5 Q925.9,275.3 926.0,262.3" fill="none" stroke="#c0c0c0" stroke-width="0.85" stroke-linecap="round" opacity="1"/><path d="M933.3,273.5 Q920.0,275.3 920.2,261.0" fill="none" stroke="#c0c0c0" stroke-width="0.85" stroke-linecap="round" opacity="1"/><path d="M933.3,273.5 Q914.8,275.3 915.2,259.9" fill="none" stroke="#c0c0c0" stroke-width="0.85" stroke-linecap="round" opacity="1"/><path d="M933.3,273.5 Q940.7,275.3 940.5,262.3" fill="none" stroke="#c0c0c0" stroke-width="0.85" stroke-linecap="round" opacity="1"/><path d="M933.3,273.5 Q946.6,275.3 946.3,261.0" fill="none" stroke="#c0c0c0" stroke-width="0.85" stroke-linecap="round" opacity="1"/><path d="M933.3,273.5 Q951.7,275.3 951.4,259.9" fill="none" stroke="#c0c0c0" stroke-width="0.85" stroke-linecap="round" opacity="1"/><path d="M933.3,215.0 Q929.6,206.4 927.2,197.7" fill="none" stroke="#c4c4c4" stroke-width="0.7" stroke-linecap="round" opacity="1"/><circle cx="927.2" cy="197.7" r="0.8" fill="#b5b5b5"/><path d="M933.3,215.0 Q933.9,207.7 938.5,200.4" fill="none" stroke="#c4c4c4" stroke-width="0.7" stroke-linecap="round" opacity="1"/><circle cx="938.5" cy="200.4" r="0.8" fill="#b5b5b5"/><path d="M933.3,215.0 Q932.7,201.3 927.8,187.5" fill="none" stroke="#c4c4c4" stroke-width="0.7" stroke-linecap="round" opacity="1"/><circle cx="927.8" cy="187.5" r="0.8" fill="#b5b5b5"/><path d="M933.3,215.0 Q933.7,211.2 934.3,207.4" fill="none" stroke="#c4c4c4" stroke-width="0.7" stroke-linecap="round" opacity="1"/><circle cx="934.3" cy="207.4" r="0.8" fill="#b5b5b5"/><path d="M933.3,215.0 Q937.0,199.9 939.6,184.7" fill="none" stroke="#c4c4c4" stroke-width="0.7" stroke-linecap="round" opacity="1"/><circle cx="939.6" cy="184.7" r="0.8" fill="#b5b5b5"/><path d="M933.3,215.0 Q941.0,206.0 946.6,197.1" fill="none" stroke="#c4c4c4" stroke-width="0.7" stroke-linecap="round" opacity="1"/><circle cx="946.6" cy="197.1" r="0.8" fill="#b5b5b5"/><path d="M933.3,215.0 Q938.0,198.4 940.6,181.8" fill="none" stroke="#c4c4c4" stroke-width="0.7" stroke-linecap="round" opacity="1"/><circle cx="940.6" cy="181.8" r="0.8" fill="#b5b5b5"/><path d="M933.3,215.0 Q933.6,202.4 938.1,189.7" fill="none" stroke="#c4c4c4" stroke-width="0.7" stroke-linecap="round" opacity="1"/><circle cx="938.1" cy="189.7" r="0.8" fill="#b5b5b5"/><path d="M933.3,215.0 Q940.9,205.2 946.6,195.4" fill="none" stroke="#c4c4c4" stroke-width="0.7" stroke-linecap="round" opacity="1"/><circle cx="946.6" cy="195.4" r="0.8" fill="#b5b5b5"/><path d="M933.3,215.0 Q942.0,209.2 947.0,203.4" fill="none" stroke="#c4c4c4" stroke-width="0.7" stroke-linecap="round" opacity="1"/><circle cx="947.0" cy="203.4" r="0.8" fill="#b5b5b5"/><path d="M933.3,215.0 Q932.4,210.6 932.0,206.2" fill="none" stroke="#c4c4c4" stroke-width="0.7" stroke-linecap="round" opacity="1"/><circle cx="932.0" cy="206.2" r="0.8" fill="#b5b5b5"/><path d="M933.3,215.0 Q932.4,207.8 933.3,200.5" fill="none" stroke="#c4c4c4" stroke-width="0.7" stroke-linecap="round" opacity="1"/><circle cx="933.3" cy="200.5" r="0.8" fill="#b5b5b5"/><path d="M933.3,215.0 Q933.7,203.8 935.5,192.5" fill="none" stroke="#c4c4c4" stroke-width="0.7" stroke-linecap="round" opacity="1"/><circle cx="935.5" cy="192.5" r="0.8" fill="#b5b5b5"/><path d="M933.3,215.0 Q937.4,207.1 937.9,199.1" fill="none" stroke="#c4c4c4" stroke-width="0.7" stroke-linecap="round" opacity="1"/><circle cx="937.9" cy="199.1" r="0.8" fill="#b5b5b5"/><path d="M933.3,215.0 Q938.6,212.8 940.9,210.5" fill="none" stroke="#c4c4c4" stroke-width="0.7" stroke-linecap="round" opacity="1"/><circle cx="940.9" cy="210.5" r="0.8" fill="#b5b5b5"/><path d="M933.3,215.0 Q931.1,211.6 924.8,208.2" fill="none" stroke="#c4c4c4" stroke-width="0.7" stroke-linecap="round" opacity="1"/><circle cx="924.8" cy="208.2" r="0.8" fill="#b5b5b5"/><path d="M933.3,215.0 Q941.5,206.8 947.8,198.6" fill="none" stroke="#c4c4c4" stroke-width="0.7" stroke-linecap="round" opacity="1"/><circle cx="947.8" cy="198.6" r="0.8" fill="#b5b5b5"/><path d="M933.3,215.0 Q930.1,211.2 926.3,207.3" fill="none" stroke="#c4c4c4" stroke-width="0.7" stroke-linecap="round" opacity="1"/><circle cx="926.3" cy="207.3" r="0.8" fill="#b5b5b5"/><path d="M933.3,215.0 Q932.5,198.4 928.6,181.8" fill="none" stroke="#c4c4c4" stroke-width="0.7" stroke-linecap="round" opacity="1"/><circle cx="928.6" cy="181.8" r="0.8" fill="#b5b5b5"/><path d="M933.3,215.0 Q937.4,204.2 944.5,193.3" fill="none" stroke="#c4c4c4" stroke-width="0.7" stroke-linecap="round" opacity="1"/><circle cx="944.5" cy="193.3" r="0.8" fill="#b5b5b5"/><path d="M933.3,215.0 Q932.7,210.1 928.9,205.2" fill="none" stroke="#c4c4c4" stroke-width="0.7" stroke-linecap="round" opacity="1"/><circle cx="928.9" cy="205.2" r="0.8" fill="#b5b5b5"/><path d="M933.3,215.0 Q925.2,207.6 921.2,200.1" fill="none" stroke="#c4c4c4" stroke-width="0.7" stroke-linecap="round" opacity="1"/><circle cx="921.2" cy="200.1" r="0.8" fill="#b5b5b5"/><path d="M933.3,215.0 Q939.3,202.9 942.0,190.7" fill="none" stroke="#c4c4c4" stroke-width="0.7" stroke-linecap="round" opacity="1"/><circle cx="942.0" cy="190.7" r="0.8" fill="#b5b5b5"/><path d="M933.3,215.0 Q943.9,205.8 950.1,196.5" fill="none" stroke="#c4c4c4" stroke-width="0.7" stroke-linecap="round" opacity="1"/><circle cx="950.1" cy="196.5" r="0.8" fill="#b5b5b5"/><path d="M933.3,215.0 Q931.8,198.7 929.4,182.3" fill="none" stroke="#c4c4c4" stroke-width="0.7" stroke-linecap="round" opacity="1"/><circle cx="929.4" cy="182.3" r="0.8" fill="#b5b5b5"/><path d="M933.3,215.0 Q931.3,207.5 932.4,199.9" fill="none" stroke="#c4c4c4" stroke-width="0.7" stroke-linecap="round" opacity="1"/><circle cx="932.4" cy="199.9" r="0.8" fill="#b5b5b5"/><path d="M933.3,215.0 Q933.1,213.3 929.5,211.5" fill="none" stroke="#c4c4c4" stroke-width="0.7" stroke-linecap="round" opacity="1"/><circle cx="929.5" cy="211.5" r="0.8" fill="#b5b5b5"/><path d="M933.3,215.0 Q932.5,205.0 931.5,195.0" fill="none" stroke="#c4c4c4" stroke-width="0.7" stroke-linecap="round" opacity="1"/><circle cx="931.5" cy="195.0" r="0.8" fill="#b5b5b5"/><path d="M1067.5,293.0 Q1074.6,238.7 1077.8,184.1" fill="none" stroke="#a8a8a8" stroke-width="1.1" stroke-linecap="round" opacity="1"/><path d="M1070.7,260.2 L1070.3,259.3 L1069.9,258.6 L1069.4,258.0 L1068.9,257.4 L1068.3,256.9 L1067.7,256.4 L1067.0,256.1 L1066.3,255.8 L1065.6,255.6 L1064.8,255.4 L1063.9,255.4 L1063.0,255.4 L1062.9,255.7 L1063.2,256.5 L1063.6,257.3 L1064.1,257.9 L1064.6,258.5 L1065.2,259.0 L1065.8,259.4 L1066.5,259.8 L1067.2,260.1 L1067.9,260.3 L1068.7,260.4 L1069.6,260.5 L1070.5,260.4Z" fill="#bababa" stroke="#a2a2a2" stroke-width="0.35" opacity="1"/><path d="M1070.6,260.5 L1071.5,260.7 L1072.4,260.8 L1073.2,260.8 L1073.9,260.7 L1074.7,260.6 L1075.4,260.3 L1076.1,260.0 L1076.7,259.6 L1077.4,259.2 L1078.0,258.6 L1078.5,258.0 L1079.0,257.2 L1078.9,256.9 L1078.0,256.7 L1077.2,256.6 L1076.4,256.6 L1075.6,256.7 L1074.9,256.8 L1074.1,257.1 L1073.5,257.4 L1072.8,257.8 L1072.2,258.2 L1071.6,258.8 L1071.0,259.4 L1070.5,260.2Z" fill="#bababa" stroke="#a2a2a2" stroke-width="0.35" opacity="1"/><path d="M1071.1,255.7 L1070.6,254.5 L1070.0,253.5 L1069.3,252.6 L1068.6,251.8 L1067.8,251.1 L1067.0,250.5 L1066.0,250.0 L1065.1,249.6 L1064.0,249.3 L1062.9,249.1 L1061.8,249.0 L1060.5,249.1 L1060.3,249.3 L1060.8,250.5 L1061.4,251.5 L1062.1,252.4 L1062.8,253.2 L1063.6,253.9 L1064.4,254.6 L1065.3,255.1 L1066.3,255.4 L1067.4,255.7 L1068.5,256.0 L1069.6,256.1 L1070.9,256.0Z" fill="#bababa" stroke="#a2a2a2" stroke-width="0.35" opacity="1"/><path d="M1071.1,256.0 L1072.3,256.3 L1073.5,256.4 L1074.6,256.4 L1075.7,256.3 L1076.7,256.1 L1077.7,255.8 L1078.6,255.4 L1079.6,254.8 L1080.4,254.2 L1081.2,253.4 L1082.0,252.6 L1082.7,251.5 L1082.6,251.2 L1081.4,250.9 L1080.2,250.7 L1079.1,250.7 L1078.0,250.8 L1077.0,251.0 L1076.0,251.4 L1075.0,251.8 L1074.1,252.3 L1073.3,253.0 L1072.4,253.8 L1071.6,254.6 L1070.9,255.7Z" fill="#bababa" stroke="#a2a2a2" stroke-width="0.35" opacity="1"/><path d="M1071.5,251.2 L1070.9,249.7 L1070.2,248.5 L1069.3,247.4 L1068.4,246.4 L1067.4,245.5 L1066.4,244.7 L1065.2,244.1 L1064.0,243.6 L1062.7,243.2 L1061.3,243.0 L1059.9,242.9 L1058.3,243.0 L1058.1,243.2 L1058.7,244.7 L1059.5,246.0 L1060.3,247.1 L1061.2,248.1 L1062.2,249.0 L1063.3,249.7 L1064.4,250.3 L1065.6,250.8 L1066.9,251.2 L1068.3,251.5 L1069.7,251.6 L1071.3,251.5Z" fill="#bababa" stroke="#a2a2a2" stroke-width="0.35" opacity="1"/><path d="M1071.5,251.5 L1073.0,251.9 L1074.5,252.1 L1075.9,252.1 L1077.2,251.9 L1078.5,251.7 L1079.8,251.3 L1080.9,250.8 L1082.1,250.1 L1083.2,249.3 L1084.2,248.3 L1085.2,247.2 L1086.0,245.9 L1085.9,245.6 L1084.4,245.2 L1082.9,245.0 L1081.5,245.0 L1080.2,245.2 L1078.9,245.4 L1077.6,245.8 L1076.5,246.3 L1075.3,247.0 L1074.2,247.8 L1073.2,248.8 L1072.2,249.9 L1071.4,251.2Z" fill="#bababa" stroke="#a2a2a2" stroke-width="0.35" opacity="1"/><path d="M1071.9,246.8 L1071.2,245.0 L1070.4,243.6 L1069.4,242.3 L1068.4,241.2 L1067.2,240.1 L1066.0,239.3 L1064.7,238.5 L1063.3,238.0 L1061.8,237.5 L1060.2,237.3 L1058.6,237.1 L1056.7,237.2 L1056.6,237.5 L1057.2,239.2 L1058.1,240.6 L1059.1,241.9 L1060.1,243.1 L1061.2,244.1 L1062.5,245.0 L1063.8,245.7 L1065.2,246.3 L1066.7,246.7 L1068.3,247.0 L1069.9,247.1 L1071.8,247.0Z" fill="#bababa" stroke="#a2a2a2" stroke-width="0.35" opacity="1"/><path d="M1071.9,247.0 L1073.7,247.5 L1075.4,247.7 L1077.0,247.7 L1078.5,247.5 L1080.0,247.2 L1081.4,246.8 L1082.8,246.2 L1084.1,245.4 L1085.3,244.4 L1086.5,243.3 L1087.7,242.1 L1088.7,240.5 L1088.6,240.3 L1086.8,239.8 L1085.1,239.6 L1083.5,239.6 L1081.9,239.8 L1080.4,240.1 L1079.0,240.5 L1077.7,241.1 L1076.4,241.9 L1075.1,242.9 L1073.9,243.9 L1072.8,245.2 L1071.8,246.7Z" fill="#bababa" stroke="#a2a2a2" stroke-width="0.35" opacity="1"/><path d="M1072.4,242.3 L1071.7,240.7 L1070.9,239.3 L1070.0,238.1 L1069.0,237.0 L1067.9,236.0 L1066.8,235.2 L1065.6,234.5 L1064.2,234.0 L1062.8,233.6 L1061.3,233.3 L1059.8,233.2 L1058.0,233.3 L1057.9,233.6 L1058.5,235.2 L1059.3,236.5 L1060.2,237.7 L1061.2,238.8 L1062.3,239.8 L1063.4,240.6 L1064.7,241.3 L1066.0,241.8 L1067.4,242.2 L1068.9,242.5 L1070.5,242.6 L1072.2,242.5Z" fill="#bababa" stroke="#a2a2a2" stroke-width="0.35" opacity="1"/><path d="M1072.3,242.5 L1074.0,243.0 L1075.6,243.1 L1077.1,243.2 L1078.6,243.0 L1080.0,242.7 L1081.3,242.3 L1082.6,241.7 L1083.8,241.0 L1085.0,240.1 L1086.1,239.1 L1087.2,237.9 L1088.1,236.4 L1088.0,236.2 L1086.3,235.7 L1084.8,235.6 L1083.2,235.5 L1081.8,235.7 L1080.4,236.0 L1079.0,236.4 L1077.7,237.0 L1076.5,237.7 L1075.3,238.6 L1074.2,239.6 L1073.2,240.8 L1072.2,242.3Z" fill="#bababa" stroke="#a2a2a2" stroke-width="0.35" opacity="1"/><path d="M1072.8,237.8 L1072.2,236.3 L1071.4,235.0 L1070.6,233.9 L1069.6,232.8 L1068.6,231.9 L1067.6,231.2 L1066.4,230.5 L1065.2,230.0 L1063.8,229.7 L1062.4,229.4 L1061.0,229.3 L1059.3,229.4 L1059.2,229.6 L1059.8,231.1 L1060.5,232.4 L1061.4,233.6 L1062.3,234.6 L1063.3,235.5 L1064.4,236.2 L1065.6,236.9 L1066.8,237.4 L1068.1,237.8 L1069.5,238.0 L1071.0,238.2 L1072.6,238.0Z" fill="#bababa" stroke="#a2a2a2" stroke-width="0.35" opacity="1"/><path d="M1072.8,238.1 L1074.3,238.5 L1075.8,238.6 L1077.2,238.6 L1078.6,238.5 L1079.9,238.2 L1081.2,237.8 L1082.4,237.3 L1083.5,236.6 L1084.6,235.8 L1085.7,234.8 L1086.7,233.7 L1087.6,232.3 L1087.5,232.1 L1085.9,231.6 L1084.4,231.5 L1083.0,231.5 L1081.6,231.6 L1080.3,231.9 L1079.0,232.3 L1077.8,232.8 L1076.7,233.5 L1075.6,234.3 L1074.5,235.3 L1073.5,236.4 L1072.7,237.8Z" fill="#bababa" stroke="#a2a2a2" stroke-width="0.35" opacity="1"/><path d="M1073.2,233.3 L1072.6,231.9 L1071.9,230.7 L1071.1,229.6 L1070.3,228.7 L1069.3,227.8 L1068.3,227.1 L1067.3,226.5 L1066.1,226.1 L1064.9,225.7 L1063.6,225.5 L1062.2,225.3 L1060.7,225.5 L1060.5,225.7 L1061.1,227.1 L1061.8,228.3 L1062.6,229.4 L1063.4,230.3 L1064.4,231.2 L1065.4,231.9 L1066.5,232.5 L1067.6,232.9 L1068.9,233.3 L1070.2,233.5 L1071.5,233.7 L1073.1,233.6Z" fill="#bababa" stroke="#a2a2a2" stroke-width="0.35" opacity="1"/><path d="M1073.2,233.6 L1074.7,234.0 L1076.0,234.1 L1077.4,234.1 L1078.6,234.0 L1079.9,233.8 L1081.1,233.4 L1082.2,232.9 L1083.3,232.2 L1084.3,231.4 L1085.3,230.5 L1086.2,229.5 L1087.0,228.2 L1086.9,228.0 L1085.4,227.6 L1084.1,227.4 L1082.7,227.4 L1081.4,227.5 L1080.2,227.8 L1079.0,228.2 L1077.9,228.7 L1076.8,229.3 L1075.8,230.1 L1074.8,231.0 L1073.9,232.0 L1073.1,233.3Z" fill="#bababa" stroke="#a2a2a2" stroke-width="0.35" opacity="1"/><path d="M1073.6,228.8 L1073.1,227.5 L1072.5,226.4 L1071.7,225.4 L1070.9,224.5 L1070.1,223.8 L1069.1,223.1 L1068.1,222.6 L1067.0,222.1 L1065.9,221.8 L1064.7,221.6 L1063.4,221.4 L1062.0,221.5 L1061.8,221.8 L1062.4,223.1 L1063.0,224.2 L1063.8,225.2 L1064.6,226.1 L1065.4,226.9 L1066.4,227.5 L1067.4,228.1 L1068.4,228.5 L1069.6,228.8 L1070.8,229.1 L1072.1,229.2 L1073.5,229.1Z" fill="#bababa" stroke="#a2a2a2" stroke-width="0.35" opacity="1"/><path d="M1073.6,229.1 L1075.0,229.5 L1076.3,229.6 L1077.5,229.6 L1078.7,229.5 L1079.8,229.3 L1080.9,228.9 L1082.0,228.4 L1083.0,227.8 L1083.9,227.1 L1084.8,226.3 L1085.7,225.3 L1086.4,224.1 L1086.3,223.9 L1085.0,223.5 L1083.7,223.4 L1082.5,223.4 L1081.3,223.5 L1080.1,223.7 L1079.0,224.0 L1078.0,224.5 L1077.0,225.1 L1076.0,225.8 L1075.1,226.7 L1074.3,227.6 L1073.5,228.8Z" fill="#bababa" stroke="#a2a2a2" stroke-width="0.35" opacity="1"/><path d="M1074.1,224.3 L1073.6,223.1 L1073.0,222.1 L1072.3,221.2 L1071.6,220.4 L1070.8,219.7 L1069.9,219.1 L1069.0,218.6 L1068.0,218.2 L1066.9,217.9 L1065.8,217.7 L1064.6,217.5 L1063.3,217.6 L1063.2,217.9 L1063.7,219.1 L1064.3,220.1 L1065.0,221.0 L1065.7,221.8 L1066.5,222.6 L1067.3,223.2 L1068.3,223.7 L1069.3,224.1 L1070.3,224.4 L1071.4,224.6 L1072.6,224.7 L1073.9,224.6Z" fill="#bababa" stroke="#a2a2a2" stroke-width="0.35" opacity="1"/><path d="M1074.0,224.6 L1075.3,224.9 L1076.5,225.1 L1077.6,225.1 L1078.7,225.0 L1079.8,224.8 L1080.8,224.4 L1081.7,224.0 L1082.6,223.5 L1083.5,222.8 L1084.3,222.0 L1085.1,221.2 L1085.8,220.1 L1085.7,219.8 L1084.5,219.4 L1083.3,219.3 L1082.2,219.3 L1081.1,219.4 L1080.0,219.6 L1079.0,219.9 L1078.1,220.4 L1077.1,220.9 L1076.3,221.6 L1075.4,222.4 L1074.6,223.2 L1073.9,224.3Z" fill="#bababa" stroke="#a2a2a2" stroke-width="0.35" opacity="1"/><path d="M1074.5,219.9 L1074.1,218.8 L1073.5,217.8 L1072.9,217.0 L1072.2,216.3 L1071.5,215.6 L1070.7,215.1 L1069.9,214.6 L1069.0,214.2 L1068.0,213.9 L1067.0,213.8 L1065.9,213.7 L1064.7,213.7 L1064.6,214.0 L1065.0,215.1 L1065.6,216.0 L1066.2,216.9 L1066.8,217.6 L1067.6,218.3 L1068.4,218.8 L1069.2,219.3 L1070.1,219.6 L1071.1,219.9 L1072.1,220.1 L1073.2,220.2 L1074.3,220.1Z" fill="#bababa" stroke="#a2a2a2" stroke-width="0.35" opacity="1"/><path d="M1074.5,220.1 L1075.6,220.4 L1076.7,220.5 L1077.7,220.6 L1078.7,220.5 L1079.7,220.3 L1080.6,220.0 L1081.5,219.6 L1082.3,219.1 L1083.1,218.5 L1083.9,217.8 L1084.6,217.0 L1085.2,216.0 L1085.1,215.7 L1084.0,215.4 L1082.9,215.3 L1081.9,215.3 L1080.9,215.4 L1079.9,215.6 L1079.0,215.8 L1078.1,216.2 L1077.3,216.7 L1076.5,217.4 L1075.7,218.1 L1075.0,218.9 L1074.4,219.9Z" fill="#bababa" stroke="#a2a2a2" stroke-width="0.35" opacity="1"/><path d="M1074.9,215.4 L1074.5,214.4 L1074.0,213.6 L1073.5,212.8 L1072.9,212.1 L1072.2,211.5 L1071.5,211.0 L1070.7,210.6 L1069.9,210.3 L1069.1,210.0 L1068.1,209.9 L1067.2,209.8 L1066.1,209.9 L1065.9,210.1 L1066.3,211.1 L1066.8,211.9 L1067.4,212.7 L1068.0,213.4 L1068.7,214.0 L1069.4,214.5 L1070.1,214.9 L1070.9,215.2 L1071.8,215.5 L1072.7,215.6 L1073.7,215.7 L1074.8,215.6Z" fill="#bababa" stroke="#a2a2a2" stroke-width="0.35" opacity="1"/><path d="M1074.9,215.6 L1075.9,215.9 L1076.9,216.0 L1077.8,216.0 L1078.7,215.9 L1079.6,215.8 L1080.4,215.5 L1081.2,215.2 L1082.0,214.7 L1082.7,214.2 L1083.4,213.5 L1084.0,212.8 L1084.6,211.9 L1084.5,211.6 L1083.5,211.3 L1082.5,211.2 L1081.6,211.2 L1080.7,211.3 L1079.8,211.5 L1079.0,211.8 L1078.2,212.1 L1077.4,212.6 L1076.7,213.1 L1076.0,213.7 L1075.4,214.5 L1074.8,215.4Z" fill="#bababa" stroke="#a2a2a2" stroke-width="0.35" opacity="1"/><path d="M1075.4,210.9 L1075.0,210.0 L1074.5,209.3 L1074.1,208.6 L1073.5,208.0 L1072.9,207.5 L1072.3,207.0 L1071.6,206.7 L1070.9,206.4 L1070.1,206.2 L1069.3,206.0 L1068.5,205.9 L1067.5,206.0 L1067.3,206.3 L1067.7,207.1 L1068.1,207.9 L1068.6,208.5 L1069.2,209.1 L1069.8,209.7 L1070.4,210.1 L1071.1,210.5 L1071.8,210.8 L1072.6,211.0 L1073.4,211.1 L1074.2,211.2 L1075.2,211.2Z" fill="#bababa" stroke="#a2a2a2" stroke-width="0.35" opacity="1"/><path d="M1075.3,211.2 L1076.2,211.4 L1077.1,211.5 L1077.9,211.5 L1078.7,211.4 L1079.5,211.3 L1080.2,211.0 L1080.9,210.7 L1081.6,210.3 L1082.3,209.8 L1082.9,209.3 L1083.4,208.6 L1084.0,207.8 L1083.9,207.6 L1082.9,207.3 L1082.1,207.2 L1081.2,207.2 L1080.4,207.3 L1079.7,207.4 L1078.9,207.7 L1078.2,208.0 L1077.6,208.4 L1076.9,208.9 L1076.3,209.4 L1075.7,210.1 L1075.2,210.9Z" fill="#bababa" stroke="#a2a2a2" stroke-width="0.35" opacity="1"/><path d="M1075.8,206.4 L1075.5,205.6 L1075.1,205.0 L1074.6,204.4 L1074.2,203.9 L1073.7,203.4 L1073.1,203.1 L1072.5,202.7 L1071.9,202.5 L1071.2,202.3 L1070.5,202.2 L1069.8,202.1 L1068.9,202.1 L1068.8,202.4 L1069.1,203.2 L1069.5,203.8 L1069.9,204.4 L1070.4,204.9 L1070.9,205.4 L1071.4,205.8 L1072.0,206.1 L1072.7,206.3 L1073.3,206.5 L1074.0,206.7 L1074.8,206.7 L1075.6,206.7Z" fill="#bababa" stroke="#a2a2a2" stroke-width="0.35" opacity="1"/><path d="M1075.8,206.7 L1076.6,206.9 L1077.3,207.0 L1078.0,207.0 L1078.7,206.9 L1079.4,206.8 L1080.0,206.6 L1080.7,206.3 L1081.2,205.9 L1081.8,205.5 L1082.3,205.0 L1082.8,204.5 L1083.3,203.8 L1083.2,203.5 L1082.4,203.3 L1081.6,203.2 L1080.9,203.2 L1080.2,203.3 L1079.5,203.4 L1078.9,203.6 L1078.3,203.9 L1077.7,204.2 L1077.1,204.7 L1076.6,205.1 L1076.1,205.7 L1075.6,206.4Z" fill="#bababa" stroke="#a2a2a2" stroke-width="0.35" opacity="1"/><path d="M1076.2,201.9 L1075.9,201.3 L1075.6,200.7 L1075.2,200.2 L1074.9,199.8 L1074.4,199.4 L1074.0,199.1 L1073.5,198.8 L1072.9,198.6 L1072.3,198.4 L1071.7,198.3 L1071.1,198.3 L1070.4,198.3 L1070.2,198.6 L1070.5,199.2 L1070.8,199.8 L1071.2,200.3 L1071.6,200.7 L1072.0,201.1 L1072.5,201.4 L1073.0,201.7 L1073.5,201.9 L1074.1,202.1 L1074.7,202.2 L1075.3,202.2 L1076.0,202.2Z" fill="#bababa" stroke="#a2a2a2" stroke-width="0.35" opacity="1"/><path d="M1076.2,202.2 L1076.9,202.4 L1077.5,202.5 L1078.1,202.5 L1078.7,202.4 L1079.3,202.3 L1079.8,202.1 L1080.3,201.9 L1080.8,201.6 L1081.3,201.2 L1081.8,200.8 L1082.2,200.3 L1082.6,199.7 L1082.5,199.5 L1081.8,199.3 L1081.1,199.2 L1080.5,199.2 L1079.9,199.3 L1079.4,199.4 L1078.8,199.5 L1078.3,199.8 L1077.8,200.1 L1077.3,200.4 L1076.9,200.9 L1076.5,201.3 L1076.1,201.9Z" fill="#bababa" stroke="#a2a2a2" stroke-width="0.35" opacity="1"/><path d="M1076.6,197.5 L1076.4,196.9 L1076.1,196.5 L1075.9,196.1 L1075.5,195.7 L1075.2,195.4 L1074.8,195.1 L1074.4,194.9 L1074.0,194.7 L1073.5,194.6 L1073.0,194.5 L1072.5,194.5 L1071.9,194.5 L1071.7,194.8 L1072.0,195.3 L1072.2,195.7 L1072.5,196.1 L1072.8,196.5 L1073.2,196.8 L1073.6,197.1 L1074.0,197.3 L1074.4,197.5 L1074.9,197.6 L1075.4,197.7 L1075.9,197.8 L1076.5,197.7Z" fill="#bababa" stroke="#a2a2a2" stroke-width="0.35" opacity="1"/><path d="M1076.6,197.7 L1077.2,197.9 L1077.7,197.9 L1078.2,197.9 L1078.7,197.9 L1079.1,197.8 L1079.6,197.7 L1080.0,197.5 L1080.4,197.2 L1080.8,196.9 L1081.2,196.6 L1081.5,196.2 L1081.8,195.7 L1081.7,195.4 L1081.2,195.3 L1080.6,195.2 L1080.1,195.2 L1079.7,195.3 L1079.2,195.4 L1078.7,195.5 L1078.3,195.7 L1077.9,195.9 L1077.5,196.2 L1077.2,196.6 L1076.8,197.0 L1076.5,197.4Z" fill="#bababa" stroke="#a2a2a2" stroke-width="0.35" opacity="1"/><path d="M1077.1,193.0 L1076.9,192.6 L1076.7,192.2 L1076.5,191.9 L1076.2,191.6 L1076.0,191.4 L1075.7,191.2 L1075.4,191.0 L1075.0,190.9 L1074.7,190.8 L1074.3,190.7 L1073.9,190.7 L1073.5,190.7 L1073.3,191.0 L1073.5,191.4 L1073.7,191.7 L1073.9,192.1 L1074.1,192.3 L1074.4,192.6 L1074.7,192.8 L1075.0,193.0 L1075.3,193.1 L1075.7,193.2 L1076.1,193.2 L1076.5,193.3 L1076.9,193.2Z" fill="#bababa" stroke="#a2a2a2" stroke-width="0.35" opacity="1"/><path d="M1077.0,193.2 L1077.5,193.4 L1077.9,193.4 L1078.2,193.4 L1078.6,193.4 L1079.0,193.3 L1079.3,193.2 L1079.6,193.1 L1079.9,192.9 L1080.2,192.7 L1080.5,192.4 L1080.8,192.1 L1081.0,191.7 L1080.9,191.4 L1080.5,191.3 L1080.1,191.3 L1079.7,191.3 L1079.3,191.3 L1079.0,191.3 L1078.6,191.5 L1078.3,191.6 L1078.0,191.8 L1077.7,192.0 L1077.4,192.3 L1077.2,192.6 L1076.9,193.0Z" fill="#bababa" stroke="#a2a2a2" stroke-width="0.35" opacity="1"/><path d="M1077.5,188.5 L1077.4,188.1 L1077.3,187.9 L1077.2,187.6 L1077.1,187.4 L1076.9,187.2 L1076.7,187.1 L1076.5,187.0 L1076.3,186.9 L1076.0,186.9 L1075.8,186.9 L1075.5,186.9 L1075.1,187.0 L1075.0,187.3 L1075.0,187.6 L1075.1,187.9 L1075.2,188.1 L1075.4,188.4 L1075.5,188.5 L1075.7,188.7 L1075.9,188.8 L1076.2,188.9 L1076.4,188.9 L1076.7,188.9 L1077.0,188.9 L1077.3,188.7Z" fill="#bababa" stroke="#a2a2a2" stroke-width="0.35" opacity="1"/><path d="M1077.5,188.8 L1077.8,188.9 L1078.1,189.0 L1078.3,189.1 L1078.6,189.1 L1078.8,189.1 L1079.1,189.0 L1079.3,188.9 L1079.5,188.8 L1079.6,188.6 L1079.8,188.3 L1080.0,188.1 L1080.1,187.8 L1080.0,187.5 L1079.7,187.3 L1079.4,187.2 L1079.1,187.2 L1078.8,187.1 L1078.6,187.2 L1078.4,187.2 L1078.2,187.3 L1078.0,187.5 L1077.8,187.7 L1077.6,187.9 L1077.5,188.1 L1077.4,188.5Z" fill="#bababa" stroke="#a2a2a2" stroke-width="0.35" opacity="1"/><path d="M1077.9,184.0 L1078.0,183.7 L1078.0,183.5 L1078.0,183.4 L1078.0,183.2 L1078.0,183.1 L1077.9,183.1 L1077.8,183.0 L1077.7,183.1 L1077.6,183.1 L1077.4,183.2 L1077.3,183.3 L1077.1,183.5 L1076.9,183.7 L1076.8,184.0 L1076.8,184.2 L1076.8,184.4 L1076.8,184.5 L1076.8,184.6 L1076.9,184.7 L1077.0,184.7 L1077.1,184.7 L1077.2,184.6 L1077.4,184.6 L1077.5,184.5 L1077.8,184.3Z" fill="#bababa" stroke="#a2a2a2" stroke-width="0.35" opacity="1"/><path d="M1077.9,184.3 L1078.1,184.5 L1078.2,184.6 L1078.3,184.8 L1078.5,184.8 L1078.6,184.9 L1078.6,184.8 L1078.7,184.8 L1078.8,184.7 L1078.8,184.6 L1078.8,184.4 L1078.8,184.2 L1078.8,183.9 L1078.7,183.6 L1078.5,183.4 L1078.4,183.3 L1078.3,183.2 L1078.2,183.1 L1078.0,183.1 L1078.0,183.1 L1077.9,183.1 L1077.8,183.2 L1077.8,183.3 L1077.8,183.5 L1077.8,183.7 L1077.8,184.0Z" fill="#bababa" stroke="#a2a2a2" stroke-width="0.35" opacity="1"/><path d="M1064.2,291.2 Q1048.9,252.3 1029.9,215.0" fill="none" stroke="#a8a8a8" stroke-width="1.1" stroke-linecap="round" opacity="1"/><path d="M1053.9,268.2 L1053.3,267.7 L1052.7,267.4 L1052.1,267.2 L1051.5,267.0 L1050.9,266.8 L1050.3,266.8 L1049.7,266.8 L1049.1,266.9 L1048.5,267.0 L1047.9,267.2 L1047.3,267.5 L1046.7,267.9 L1046.7,268.2 L1047.2,268.7 L1047.8,269.0 L1048.4,269.3 L1049.0,269.5 L1049.6,269.6 L1050.2,269.6 L1050.8,269.6 L1051.4,269.6 L1052.0,269.4 L1052.6,269.2 L1053.3,268.9 L1053.9,268.5Z" fill="#bababa" stroke="#a2a2a2" stroke-width="0.35" opacity="1"/><path d="M1054.0,268.5 L1054.7,268.3 L1055.3,268.0 L1055.9,267.7 L1056.4,267.3 L1056.9,266.9 L1057.3,266.5 L1057.6,266.0 L1057.9,265.5 L1058.2,264.9 L1058.4,264.3 L1058.5,263.6 L1058.6,262.9 L1058.3,262.7 L1057.6,262.9 L1057.0,263.1 L1056.4,263.4 L1055.9,263.8 L1055.5,264.2 L1055.1,264.6 L1054.7,265.1 L1054.4,265.7 L1054.2,266.2 L1054.0,266.9 L1053.8,267.5 L1053.8,268.3Z" fill="#bababa" stroke="#a2a2a2" stroke-width="0.35" opacity="1"/><path d="M1052.2,264.4 L1051.3,263.7 L1050.5,263.2 L1049.6,262.9 L1048.8,262.6 L1047.9,262.4 L1047.0,262.3 L1046.1,262.3 L1045.3,262.4 L1044.4,262.7 L1043.5,263.0 L1042.6,263.4 L1041.7,264.0 L1041.7,264.3 L1042.5,264.9 L1043.4,265.4 L1044.2,265.8 L1045.1,266.1 L1046.0,266.3 L1046.8,266.4 L1047.7,266.3 L1048.6,266.2 L1049.5,266.0 L1050.4,265.7 L1051.3,265.3 L1052.2,264.7Z" fill="#bababa" stroke="#a2a2a2" stroke-width="0.35" opacity="1"/><path d="M1052.3,264.6 L1053.3,264.4 L1054.2,264.0 L1055.1,263.5 L1055.8,263.0 L1056.5,262.4 L1057.1,261.8 L1057.6,261.1 L1058.0,260.3 L1058.4,259.4 L1058.7,258.6 L1058.9,257.6 L1058.9,256.5 L1058.7,256.3 L1057.7,256.6 L1056.8,257.0 L1055.9,257.5 L1055.2,258.0 L1054.5,258.6 L1053.9,259.2 L1053.4,259.9 L1053.0,260.7 L1052.6,261.5 L1052.3,262.4 L1052.1,263.4 L1052.1,264.5Z" fill="#bababa" stroke="#a2a2a2" stroke-width="0.35" opacity="1"/><path d="M1050.5,260.6 L1049.4,259.7 L1048.3,259.1 L1047.2,258.7 L1046.1,258.3 L1045.0,258.1 L1043.9,257.9 L1042.8,258.0 L1041.7,258.1 L1040.6,258.4 L1039.5,258.8 L1038.3,259.3 L1037.2,260.0 L1037.2,260.3 L1038.3,261.2 L1039.3,261.8 L1040.4,262.3 L1041.5,262.6 L1042.6,262.9 L1043.7,263.0 L1044.8,263.0 L1045.9,262.8 L1047.1,262.6 L1048.2,262.2 L1049.3,261.7 L1050.5,260.9Z" fill="#bababa" stroke="#a2a2a2" stroke-width="0.35" opacity="1"/><path d="M1050.6,260.8 L1051.9,260.5 L1053.0,260.0 L1054.1,259.4 L1055.0,258.7 L1055.9,258.0 L1056.6,257.2 L1057.3,256.3 L1057.8,255.3 L1058.3,254.3 L1058.6,253.1 L1058.9,251.9 L1059.0,250.6 L1058.7,250.4 L1057.4,250.7 L1056.3,251.2 L1055.3,251.8 L1054.3,252.4 L1053.5,253.2 L1052.7,254.0 L1052.1,254.9 L1051.5,255.9 L1051.1,256.9 L1050.7,258.1 L1050.4,259.3 L1050.3,260.6Z" fill="#bababa" stroke="#a2a2a2" stroke-width="0.35" opacity="1"/><path d="M1048.8,256.8 L1047.7,255.9 L1046.5,255.3 L1045.4,254.8 L1044.3,254.4 L1043.2,254.2 L1042.0,254.1 L1040.9,254.1 L1039.7,254.2 L1038.6,254.5 L1037.4,254.9 L1036.3,255.4 L1035.1,256.2 L1035.1,256.5 L1036.2,257.4 L1037.3,258.0 L1038.4,258.5 L1039.5,258.9 L1040.7,259.1 L1041.8,259.2 L1043.0,259.2 L1044.1,259.1 L1045.3,258.8 L1046.4,258.4 L1047.6,257.9 L1048.7,257.1Z" fill="#bababa" stroke="#a2a2a2" stroke-width="0.35" opacity="1"/><path d="M1048.9,257.0 L1050.2,256.7 L1051.4,256.2 L1052.5,255.6 L1053.4,254.9 L1054.3,254.1 L1055.1,253.3 L1055.8,252.4 L1056.3,251.3 L1056.8,250.3 L1057.2,249.1 L1057.4,247.8 L1057.5,246.4 L1057.3,246.2 L1055.9,246.6 L1054.8,247.1 L1053.7,247.7 L1052.7,248.4 L1051.8,249.2 L1051.1,250.0 L1050.4,250.9 L1049.8,251.9 L1049.4,253.0 L1049.0,254.2 L1048.7,255.4 L1048.6,256.8Z" fill="#bababa" stroke="#a2a2a2" stroke-width="0.35" opacity="1"/><path d="M1047.0,253.0 L1046.0,252.2 L1045.0,251.6 L1044.0,251.1 L1042.9,250.8 L1041.9,250.6 L1040.8,250.4 L1039.7,250.5 L1038.7,250.6 L1037.6,250.9 L1036.5,251.2 L1035.5,251.7 L1034.4,252.5 L1034.4,252.8 L1035.4,253.6 L1036.4,254.1 L1037.5,254.6 L1038.5,254.9 L1039.5,255.2 L1040.6,255.3 L1041.7,255.3 L1042.7,255.1 L1043.8,254.9 L1044.9,254.5 L1045.9,254.0 L1047.0,253.3Z" fill="#bababa" stroke="#a2a2a2" stroke-width="0.35" opacity="1"/><path d="M1047.2,253.2 L1048.4,252.9 L1049.5,252.4 L1050.5,251.9 L1051.4,251.2 L1052.2,250.5 L1052.9,249.7 L1053.5,248.9 L1054.1,247.9 L1054.5,246.9 L1054.9,245.9 L1055.1,244.7 L1055.2,243.4 L1055.0,243.2 L1053.7,243.5 L1052.6,244.0 L1051.6,244.6 L1050.7,245.2 L1049.9,245.9 L1049.2,246.7 L1048.6,247.5 L1048.0,248.5 L1047.6,249.5 L1047.3,250.6 L1047.0,251.7 L1046.9,253.0Z" fill="#bababa" stroke="#a2a2a2" stroke-width="0.35" opacity="1"/><path d="M1045.3,249.2 L1044.4,248.4 L1043.4,247.9 L1042.5,247.5 L1041.5,247.1 L1040.6,246.9 L1039.6,246.8 L1038.6,246.9 L1037.6,247.0 L1036.6,247.2 L1035.7,247.6 L1034.7,248.0 L1033.7,248.7 L1033.6,249.0 L1034.6,249.7 L1035.5,250.3 L1036.5,250.7 L1037.5,251.0 L1038.4,251.2 L1039.4,251.3 L1040.4,251.3 L1041.4,251.2 L1042.3,250.9 L1043.3,250.6 L1044.3,250.1 L1045.3,249.5Z" fill="#bababa" stroke="#a2a2a2" stroke-width="0.35" opacity="1"/><path d="M1045.4,249.4 L1046.6,249.1 L1047.6,248.7 L1048.5,248.2 L1049.4,247.6 L1050.1,246.9 L1050.8,246.2 L1051.3,245.4 L1051.8,244.6 L1052.2,243.6 L1052.5,242.6 L1052.8,241.6 L1052.8,240.4 L1052.6,240.2 L1051.4,240.5 L1050.4,240.9 L1049.5,241.4 L1048.7,242.0 L1048.0,242.7 L1047.3,243.4 L1046.7,244.2 L1046.2,245.0 L1045.8,246.0 L1045.5,247.0 L1045.3,248.0 L1045.2,249.2Z" fill="#bababa" stroke="#a2a2a2" stroke-width="0.35" opacity="1"/><path d="M1043.6,245.4 L1042.8,244.7 L1041.9,244.2 L1041.0,243.8 L1040.1,243.5 L1039.3,243.3 L1038.4,243.2 L1037.5,243.2 L1036.6,243.4 L1035.7,243.6 L1034.8,243.9 L1033.9,244.3 L1033.0,244.9 L1033.0,245.2 L1033.8,245.9 L1034.7,246.4 L1035.6,246.8 L1036.4,247.1 L1037.3,247.3 L1038.2,247.3 L1039.1,247.3 L1040.0,247.2 L1040.9,247.0 L1041.8,246.7 L1042.7,246.3 L1043.6,245.7Z" fill="#bababa" stroke="#a2a2a2" stroke-width="0.35" opacity="1"/><path d="M1043.7,245.6 L1044.8,245.3 L1045.7,244.9 L1046.5,244.5 L1047.3,243.9 L1048.0,243.3 L1048.6,242.7 L1049.1,242.0 L1049.6,241.2 L1049.9,240.3 L1050.2,239.4 L1050.4,238.4 L1050.5,237.3 L1050.3,237.2 L1049.2,237.4 L1048.3,237.8 L1047.4,238.3 L1046.7,238.8 L1046.0,239.4 L1045.4,240.1 L1044.9,240.8 L1044.4,241.6 L1044.1,242.4 L1043.8,243.3 L1043.6,244.3 L1043.5,245.4Z" fill="#bababa" stroke="#a2a2a2" stroke-width="0.35" opacity="1"/><path d="M1041.9,241.6 L1041.1,240.9 L1040.4,240.5 L1039.6,240.1 L1038.8,239.9 L1038.0,239.7 L1037.2,239.6 L1036.4,239.6 L1035.6,239.8 L1034.8,239.9 L1033.9,240.2 L1033.1,240.6 L1032.3,241.2 L1032.3,241.5 L1033.1,242.1 L1033.8,242.5 L1034.6,242.9 L1035.4,243.1 L1036.2,243.3 L1037.0,243.4 L1037.8,243.4 L1038.6,243.3 L1039.4,243.1 L1040.3,242.8 L1041.1,242.4 L1041.9,241.9Z" fill="#bababa" stroke="#a2a2a2" stroke-width="0.35" opacity="1"/><path d="M1042.0,241.8 L1043.0,241.5 L1043.8,241.2 L1044.6,240.8 L1045.2,240.3 L1045.9,239.7 L1046.4,239.2 L1046.9,238.5 L1047.3,237.8 L1047.6,237.0 L1047.9,236.2 L1048.1,235.3 L1048.1,234.3 L1047.9,234.1 L1046.9,234.4 L1046.1,234.8 L1045.4,235.2 L1044.7,235.7 L1044.0,236.2 L1043.5,236.8 L1043.0,237.4 L1042.6,238.1 L1042.3,238.9 L1042.0,239.7 L1041.8,240.6 L1041.8,241.6Z" fill="#bababa" stroke="#a2a2a2" stroke-width="0.35" opacity="1"/><path d="M1040.2,237.7 L1039.5,237.2 L1038.8,236.8 L1038.1,236.5 L1037.4,236.3 L1036.7,236.1 L1036.0,236.0 L1035.3,236.0 L1034.6,236.1 L1033.8,236.3 L1033.1,236.6 L1032.4,236.9 L1031.6,237.4 L1031.6,237.7 L1032.3,238.2 L1033.0,238.6 L1033.7,238.9 L1034.4,239.2 L1035.1,239.3 L1035.8,239.4 L1036.6,239.4 L1037.3,239.3 L1038.0,239.1 L1038.7,238.9 L1039.5,238.5 L1040.2,238.0Z" fill="#bababa" stroke="#a2a2a2" stroke-width="0.35" opacity="1"/><path d="M1040.3,238.0 L1041.2,237.8 L1041.9,237.4 L1042.6,237.1 L1043.2,236.6 L1043.7,236.2 L1044.2,235.6 L1044.6,235.1 L1045.0,234.4 L1045.3,233.7 L1045.5,233.0 L1045.7,232.2 L1045.7,231.3 L1045.5,231.2 L1044.7,231.4 L1043.9,231.7 L1043.2,232.1 L1042.6,232.5 L1042.1,233.0 L1041.6,233.5 L1041.2,234.1 L1040.8,234.7 L1040.5,235.4 L1040.3,236.1 L1040.1,236.9 L1040.1,237.8Z" fill="#bababa" stroke="#a2a2a2" stroke-width="0.35" opacity="1"/><path d="M1038.5,233.9 L1037.9,233.5 L1037.3,233.1 L1036.7,232.8 L1036.1,232.6 L1035.4,232.5 L1034.8,232.4 L1034.2,232.5 L1033.6,232.5 L1032.9,232.7 L1032.3,232.9 L1031.7,233.2 L1031.0,233.6 L1031.0,233.9 L1031.6,234.4 L1032.2,234.7 L1032.8,235.0 L1033.4,235.2 L1034.1,235.4 L1034.7,235.4 L1035.3,235.4 L1035.9,235.3 L1036.6,235.2 L1037.2,235.0 L1037.8,234.7 L1038.5,234.2Z" fill="#bababa" stroke="#a2a2a2" stroke-width="0.35" opacity="1"/><path d="M1038.6,234.2 L1039.4,234.0 L1040.0,233.7 L1040.6,233.4 L1041.1,233.0 L1041.6,232.6 L1042.0,232.1 L1042.4,231.6 L1042.7,231.1 L1042.9,230.5 L1043.1,229.8 L1043.3,229.2 L1043.3,228.4 L1043.1,228.2 L1042.4,228.4 L1041.7,228.7 L1041.1,229.0 L1040.6,229.4 L1040.1,229.8 L1039.7,230.2 L1039.3,230.8 L1039.0,231.3 L1038.8,231.9 L1038.6,232.5 L1038.4,233.2 L1038.4,234.0Z" fill="#bababa" stroke="#a2a2a2" stroke-width="0.35" opacity="1"/><path d="M1036.8,230.1 L1036.3,229.7 L1035.8,229.4 L1035.2,229.2 L1034.7,229.0 L1034.2,228.9 L1033.6,228.9 L1033.1,228.9 L1032.6,228.9 L1032.0,229.1 L1031.5,229.3 L1031.0,229.5 L1030.4,229.9 L1030.4,230.2 L1030.9,230.6 L1031.4,230.9 L1032.0,231.1 L1032.5,231.3 L1033.0,231.4 L1033.5,231.4 L1034.1,231.4 L1034.6,231.4 L1035.1,231.2 L1035.7,231.0 L1036.2,230.8 L1036.8,230.4Z" fill="#bababa" stroke="#a2a2a2" stroke-width="0.35" opacity="1"/><path d="M1036.9,230.4 L1037.5,230.2 L1038.1,230.0 L1038.6,229.7 L1039.0,229.4 L1039.4,229.0 L1039.8,228.6 L1040.1,228.2 L1040.4,227.7 L1040.6,227.2 L1040.8,226.7 L1040.9,226.1 L1040.9,225.4 L1040.7,225.3 L1040.1,225.4 L1039.5,225.7 L1039.0,225.9 L1038.6,226.3 L1038.2,226.6 L1037.8,227.0 L1037.5,227.4 L1037.2,227.9 L1037.0,228.4 L1036.8,228.9 L1036.7,229.5 L1036.7,230.2Z" fill="#bababa" stroke="#a2a2a2" stroke-width="0.35" opacity="1"/><path d="M1035.1,226.3 L1034.7,226.0 L1034.2,225.8 L1033.8,225.6 L1033.4,225.4 L1032.9,225.3 L1032.5,225.3 L1032.1,225.3 L1031.6,225.3 L1031.2,225.5 L1030.8,225.6 L1030.3,225.8 L1029.9,226.1 L1029.9,226.4 L1030.3,226.7 L1030.7,227.0 L1031.1,227.2 L1031.6,227.3 L1032.0,227.4 L1032.4,227.4 L1032.9,227.4 L1033.3,227.4 L1033.7,227.3 L1034.2,227.1 L1034.6,226.9 L1035.1,226.6Z" fill="#bababa" stroke="#a2a2a2" stroke-width="0.35" opacity="1"/><path d="M1035.2,226.6 L1035.7,226.4 L1036.1,226.2 L1036.6,226.0 L1036.9,225.7 L1037.3,225.5 L1037.5,225.1 L1037.8,224.8 L1038.0,224.4 L1038.2,224.0 L1038.3,223.5 L1038.4,223.1 L1038.5,222.5 L1038.2,222.3 L1037.7,222.5 L1037.3,222.7 L1036.9,222.9 L1036.5,223.2 L1036.2,223.5 L1035.9,223.8 L1035.6,224.1 L1035.4,224.5 L1035.2,224.9 L1035.1,225.4 L1035.0,225.8 L1035.0,226.4Z" fill="#bababa" stroke="#a2a2a2" stroke-width="0.35" opacity="1"/><path d="M1033.4,222.5 L1033.0,222.2 L1032.7,222.0 L1032.4,221.9 L1032.1,221.7 L1031.7,221.7 L1031.4,221.6 L1031.1,221.6 L1030.7,221.7 L1030.4,221.8 L1030.1,221.9 L1029.7,222.1 L1029.4,222.3 L1029.4,222.6 L1029.7,222.9 L1030.0,223.1 L1030.3,223.3 L1030.7,223.4 L1031.0,223.5 L1031.3,223.5 L1031.7,223.5 L1032.0,223.5 L1032.3,223.4 L1032.7,223.2 L1033.0,223.1 L1033.3,222.8Z" fill="#bababa" stroke="#a2a2a2" stroke-width="0.35" opacity="1"/><path d="M1033.5,222.8 L1033.9,222.7 L1034.2,222.5 L1034.6,222.4 L1034.9,222.2 L1035.1,222.0 L1035.4,221.7 L1035.5,221.5 L1035.7,221.2 L1035.8,220.8 L1035.9,220.5 L1036.0,220.1 L1036.0,219.7 L1035.8,219.5 L1035.3,219.6 L1035.0,219.7 L1034.7,219.9 L1034.4,220.1 L1034.1,220.3 L1033.9,220.5 L1033.7,220.8 L1033.5,221.1 L1033.4,221.4 L1033.3,221.8 L1033.2,222.1 L1033.2,222.6Z" fill="#bababa" stroke="#a2a2a2" stroke-width="0.35" opacity="1"/><path d="M1031.7,218.7 L1031.4,218.4 L1031.2,218.2 L1031.0,218.1 L1030.8,218.0 L1030.6,217.9 L1030.4,217.9 L1030.1,217.9 L1029.9,217.9 L1029.7,218.0 L1029.5,218.2 L1029.2,218.3 L1029.0,218.6 L1029.0,218.9 L1029.2,219.2 L1029.4,219.4 L1029.6,219.5 L1029.8,219.6 L1030.1,219.7 L1030.3,219.7 L1030.5,219.7 L1030.7,219.7 L1030.9,219.6 L1031.2,219.4 L1031.4,219.3 L1031.6,219.0Z" fill="#bababa" stroke="#a2a2a2" stroke-width="0.35" opacity="1"/><path d="M1031.8,218.9 L1032.1,218.9 L1032.4,218.9 L1032.7,218.8 L1032.9,218.7 L1033.1,218.6 L1033.2,218.4 L1033.3,218.2 L1033.4,218.0 L1033.5,217.8 L1033.5,217.5 L1033.5,217.2 L1033.4,216.9 L1033.2,216.7 L1032.9,216.7 L1032.6,216.8 L1032.3,216.8 L1032.1,216.9 L1031.9,217.1 L1031.7,217.2 L1031.6,217.4 L1031.5,217.6 L1031.5,217.9 L1031.5,218.1 L1031.5,218.4 L1031.5,218.8Z" fill="#bababa" stroke="#a2a2a2" stroke-width="0.35" opacity="1"/><path d="M1029.9,214.9 L1029.9,214.6 L1029.8,214.4 L1029.7,214.3 L1029.6,214.2 L1029.6,214.1 L1029.5,214.1 L1029.4,214.1 L1029.3,214.2 L1029.2,214.3 L1029.1,214.4 L1029.0,214.6 L1028.9,214.9 L1028.9,215.2 L1029.0,215.4 L1029.1,215.6 L1029.1,215.8 L1029.2,215.9 L1029.3,215.9 L1029.4,216.0 L1029.5,216.0 L1029.6,215.9 L1029.7,215.8 L1029.7,215.6 L1029.8,215.5 L1029.9,215.2Z" fill="#bababa" stroke="#a2a2a2" stroke-width="0.35" opacity="1"/><path d="M1030.0,215.1 L1030.3,215.2 L1030.5,215.3 L1030.7,215.3 L1030.8,215.3 L1030.9,215.3 L1031.0,215.3 L1031.0,215.2 L1031.0,215.1 L1031.0,214.9 L1030.9,214.8 L1030.8,214.6 L1030.7,214.4 L1030.5,214.2 L1030.2,214.1 L1030.0,214.0 L1029.8,214.0 L1029.7,214.0 L1029.6,214.0 L1029.5,214.1 L1029.5,214.1 L1029.5,214.2 L1029.5,214.4 L1029.6,214.5 L1029.7,214.7 L1029.8,215.0Z" fill="#bababa" stroke="#a2a2a2" stroke-width="0.35" opacity="1"/><path d="M1070.3,291.2 Q1089.5,247.8 1105.0,202.9" fill="none" stroke="#a8a8a8" stroke-width="1.1" stroke-linecap="round" opacity="1"/><path d="M1080.8,264.6 L1080.8,263.9 L1080.6,263.2 L1080.4,262.6 L1080.1,262.1 L1079.8,261.5 L1079.4,261.1 L1079.0,260.6 L1078.5,260.3 L1077.9,259.9 L1077.4,259.6 L1076.7,259.4 L1076.0,259.2 L1075.8,259.4 L1075.9,260.2 L1076.0,260.8 L1076.3,261.4 L1076.5,262.0 L1076.9,262.5 L1077.2,263.0 L1077.7,263.4 L1078.1,263.8 L1078.7,264.1 L1079.3,264.4 L1079.9,264.7 L1080.6,264.8Z" fill="#bababa" stroke="#a2a2a2" stroke-width="0.35" opacity="1"/><path d="M1080.7,264.9 L1081.4,265.2 L1082.0,265.5 L1082.6,265.7 L1083.2,265.8 L1083.9,265.8 L1084.5,265.8 L1085.1,265.7 L1085.6,265.6 L1086.2,265.4 L1086.8,265.1 L1087.4,264.7 L1087.9,264.2 L1087.9,263.9 L1087.3,263.5 L1086.6,263.3 L1086.0,263.1 L1085.4,263.0 L1084.8,262.9 L1084.2,263.0 L1083.6,263.0 L1083.0,263.2 L1082.4,263.4 L1081.8,263.7 L1081.3,264.1 L1080.7,264.6Z" fill="#bababa" stroke="#a2a2a2" stroke-width="0.35" opacity="1"/><path d="M1082.6,260.2 L1082.5,259.1 L1082.2,258.2 L1081.9,257.3 L1081.5,256.5 L1081.0,255.7 L1080.5,255.0 L1079.8,254.4 L1079.1,253.9 L1078.4,253.4 L1077.5,253.0 L1076.6,252.6 L1075.5,252.4 L1075.3,252.6 L1075.4,253.7 L1075.7,254.6 L1076.0,255.5 L1076.4,256.3 L1076.9,257.1 L1077.4,257.8 L1078.1,258.4 L1078.8,258.9 L1079.5,259.4 L1080.4,259.8 L1081.3,260.2 L1082.3,260.4Z" fill="#bababa" stroke="#a2a2a2" stroke-width="0.35" opacity="1"/><path d="M1082.5,260.4 L1083.4,261.0 L1084.3,261.4 L1085.2,261.6 L1086.1,261.8 L1087.0,261.9 L1087.9,261.8 L1088.7,261.7 L1089.6,261.5 L1090.4,261.2 L1091.3,260.7 L1092.1,260.2 L1092.9,259.5 L1092.9,259.2 L1092.0,258.7 L1091.1,258.3 L1090.2,258.0 L1089.3,257.9 L1088.4,257.8 L1087.5,257.8 L1086.6,257.9 L1085.8,258.2 L1084.9,258.5 L1084.1,258.9 L1083.3,259.4 L1082.4,260.2Z" fill="#bababa" stroke="#a2a2a2" stroke-width="0.35" opacity="1"/><path d="M1084.3,255.8 L1084.2,254.4 L1083.8,253.2 L1083.4,252.1 L1082.9,251.1 L1082.3,250.1 L1081.6,249.3 L1080.8,248.5 L1080.0,247.8 L1079.0,247.2 L1077.9,246.6 L1076.8,246.2 L1075.4,245.9 L1075.2,246.1 L1075.3,247.5 L1075.7,248.7 L1076.1,249.8 L1076.6,250.8 L1077.2,251.8 L1077.9,252.6 L1078.7,253.4 L1079.5,254.1 L1080.5,254.7 L1081.6,255.3 L1082.7,255.7 L1084.1,256.0Z" fill="#bababa" stroke="#a2a2a2" stroke-width="0.35" opacity="1"/><path d="M1084.2,256.0 L1085.4,256.7 L1086.5,257.2 L1087.7,257.5 L1088.8,257.7 L1089.9,257.8 L1091.0,257.8 L1092.1,257.6 L1093.2,257.4 L1094.3,256.9 L1095.4,256.4 L1096.4,255.7 L1097.4,254.8 L1097.4,254.5 L1096.2,253.8 L1095.1,253.4 L1093.9,253.1 L1092.8,252.8 L1091.7,252.7 L1090.6,252.8 L1089.5,252.9 L1088.4,253.2 L1087.3,253.6 L1086.3,254.2 L1085.2,254.8 L1084.2,255.7Z" fill="#bababa" stroke="#a2a2a2" stroke-width="0.35" opacity="1"/><path d="M1086.0,251.4 L1085.9,250.0 L1085.6,248.7 L1085.1,247.6 L1084.6,246.5 L1084.0,245.5 L1083.3,244.7 L1082.5,243.9 L1081.6,243.1 L1080.6,242.5 L1079.5,242.0 L1078.3,241.5 L1076.9,241.2 L1076.7,241.4 L1076.8,242.8 L1077.1,244.0 L1077.6,245.2 L1078.1,246.3 L1078.7,247.2 L1079.4,248.1 L1080.2,248.9 L1081.1,249.6 L1082.2,250.3 L1083.2,250.8 L1084.4,251.3 L1085.8,251.6Z" fill="#bababa" stroke="#a2a2a2" stroke-width="0.35" opacity="1"/><path d="M1085.9,251.6 L1087.1,252.3 L1088.3,252.8 L1089.5,253.2 L1090.7,253.4 L1091.8,253.5 L1093.0,253.4 L1094.1,253.3 L1095.2,253.0 L1096.3,252.5 L1097.4,252.0 L1098.5,251.3 L1099.6,250.4 L1099.5,250.1 L1098.3,249.4 L1097.1,248.9 L1096.0,248.6 L1094.8,248.3 L1093.6,248.2 L1092.5,248.3 L1091.4,248.4 L1090.3,248.7 L1089.2,249.2 L1088.1,249.7 L1087.0,250.4 L1085.9,251.3Z" fill="#bababa" stroke="#a2a2a2" stroke-width="0.35" opacity="1"/><path d="M1087.8,247.0 L1087.6,245.7 L1087.3,244.5 L1086.9,243.4 L1086.4,242.5 L1085.9,241.5 L1085.2,240.7 L1084.5,240.0 L1083.6,239.3 L1082.7,238.7 L1081.7,238.2 L1080.6,237.8 L1079.3,237.5 L1079.1,237.7 L1079.2,239.0 L1079.5,240.2 L1079.9,241.2 L1080.4,242.2 L1081.0,243.1 L1081.6,244.0 L1082.4,244.7 L1083.2,245.4 L1084.1,245.9 L1085.2,246.5 L1086.3,246.9 L1087.5,247.2Z" fill="#bababa" stroke="#a2a2a2" stroke-width="0.35" opacity="1"/><path d="M1087.7,247.2 L1088.8,247.9 L1089.9,248.3 L1091.0,248.6 L1092.1,248.8 L1093.1,248.9 L1094.2,248.9 L1095.2,248.7 L1096.3,248.5 L1097.3,248.1 L1098.3,247.6 L1099.3,246.9 L1100.3,246.1 L1100.3,245.8 L1099.2,245.1 L1098.1,244.7 L1097.0,244.3 L1095.9,244.1 L1094.8,244.0 L1093.8,244.1 L1092.7,244.2 L1091.7,244.5 L1090.7,244.9 L1089.6,245.4 L1088.6,246.0 L1087.6,246.9Z" fill="#bababa" stroke="#a2a2a2" stroke-width="0.35" opacity="1"/><path d="M1089.5,242.5 L1089.4,241.3 L1089.1,240.3 L1088.7,239.3 L1088.3,238.4 L1087.8,237.6 L1087.1,236.8 L1086.5,236.1 L1085.7,235.5 L1084.8,235.0 L1083.9,234.5 L1082.9,234.1 L1081.7,233.9 L1081.5,234.1 L1081.6,235.3 L1081.9,236.3 L1082.2,237.3 L1082.7,238.2 L1083.2,239.0 L1083.8,239.8 L1084.5,240.5 L1085.3,241.1 L1086.1,241.6 L1087.1,242.1 L1088.1,242.5 L1089.3,242.7Z" fill="#bababa" stroke="#a2a2a2" stroke-width="0.35" opacity="1"/><path d="M1089.4,242.8 L1090.4,243.4 L1091.5,243.8 L1092.5,244.1 L1093.5,244.3 L1094.4,244.4 L1095.4,244.3 L1096.4,244.2 L1097.3,243.9 L1098.3,243.6 L1099.2,243.1 L1100.1,242.5 L1101.0,241.7 L1101.0,241.4 L1100.0,240.8 L1099.0,240.4 L1098.0,240.1 L1097.0,239.9 L1096.0,239.9 L1095.0,239.9 L1094.0,240.0 L1093.1,240.3 L1092.1,240.7 L1091.2,241.1 L1090.3,241.7 L1089.4,242.5Z" fill="#bababa" stroke="#a2a2a2" stroke-width="0.35" opacity="1"/><path d="M1091.2,238.1 L1091.1,237.0 L1090.9,236.1 L1090.5,235.2 L1090.1,234.3 L1089.6,233.6 L1089.1,232.9 L1088.5,232.3 L1087.7,231.7 L1087.0,231.2 L1086.1,230.8 L1085.2,230.4 L1084.1,230.2 L1083.9,230.4 L1084.0,231.5 L1084.2,232.5 L1084.6,233.3 L1085.0,234.2 L1085.5,234.9 L1086.0,235.6 L1086.7,236.3 L1087.4,236.8 L1088.2,237.3 L1089.0,237.7 L1089.9,238.1 L1091.0,238.3Z" fill="#bababa" stroke="#a2a2a2" stroke-width="0.35" opacity="1"/><path d="M1091.1,238.4 L1092.1,238.9 L1093.0,239.3 L1093.9,239.6 L1094.8,239.8 L1095.7,239.8 L1096.6,239.8 L1097.5,239.7 L1098.4,239.4 L1099.2,239.1 L1100.1,238.7 L1100.9,238.1 L1101.8,237.4 L1101.7,237.1 L1100.8,236.6 L1099.9,236.2 L1099.0,235.9 L1098.0,235.7 L1097.1,235.7 L1096.3,235.7 L1095.4,235.8 L1094.5,236.1 L1093.6,236.4 L1092.8,236.8 L1091.9,237.4 L1091.1,238.1Z" fill="#bababa" stroke="#a2a2a2" stroke-width="0.35" opacity="1"/><path d="M1093.0,233.7 L1092.9,232.7 L1092.6,231.9 L1092.3,231.0 L1092.0,230.3 L1091.5,229.6 L1091.0,229.0 L1090.5,228.4 L1089.8,227.9 L1089.1,227.5 L1088.3,227.1 L1087.5,226.8 L1086.5,226.6 L1086.3,226.8 L1086.4,227.7 L1086.6,228.6 L1086.9,229.4 L1087.3,230.2 L1087.7,230.9 L1088.2,231.5 L1088.8,232.0 L1089.5,232.6 L1090.2,233.0 L1090.9,233.4 L1091.8,233.7 L1092.7,233.9Z" fill="#bababa" stroke="#a2a2a2" stroke-width="0.35" opacity="1"/><path d="M1092.9,234.0 L1093.7,234.5 L1094.6,234.8 L1095.4,235.0 L1096.2,235.2 L1097.0,235.3 L1097.8,235.2 L1098.6,235.1 L1099.4,234.9 L1100.2,234.6 L1101.0,234.2 L1101.7,233.8 L1102.5,233.1 L1102.4,232.8 L1101.6,232.3 L1100.8,232.0 L1099.9,231.7 L1099.1,231.6 L1098.3,231.5 L1097.5,231.5 L1096.7,231.6 L1095.9,231.8 L1095.1,232.1 L1094.4,232.5 L1093.6,233.0 L1092.8,233.7Z" fill="#bababa" stroke="#a2a2a2" stroke-width="0.35" opacity="1"/><path d="M1094.7,229.3 L1094.6,228.4 L1094.4,227.6 L1094.1,226.9 L1093.8,226.3 L1093.4,225.6 L1093.0,225.1 L1092.5,224.6 L1091.9,224.1 L1091.3,223.7 L1090.6,223.4 L1089.8,223.1 L1089.0,222.9 L1088.7,223.1 L1088.8,224.0 L1089.0,224.8 L1089.3,225.5 L1089.6,226.2 L1090.0,226.8 L1090.5,227.3 L1091.0,227.8 L1091.6,228.3 L1092.2,228.7 L1092.9,229.0 L1093.6,229.3 L1094.5,229.5Z" fill="#bababa" stroke="#a2a2a2" stroke-width="0.35" opacity="1"/><path d="M1094.6,229.5 L1095.4,230.0 L1096.1,230.3 L1096.8,230.5 L1097.6,230.7 L1098.3,230.7 L1099.0,230.7 L1099.7,230.6 L1100.4,230.4 L1101.1,230.1 L1101.8,229.8 L1102.5,229.4 L1103.1,228.8 L1103.1,228.5 L1102.4,228.0 L1101.6,227.7 L1100.9,227.5 L1100.1,227.4 L1099.4,227.3 L1098.7,227.3 L1098.0,227.4 L1097.3,227.6 L1096.6,227.9 L1095.9,228.2 L1095.2,228.7 L1094.6,229.2Z" fill="#bababa" stroke="#a2a2a2" stroke-width="0.35" opacity="1"/><path d="M1096.4,224.9 L1096.4,224.1 L1096.2,223.4 L1095.9,222.8 L1095.7,222.2 L1095.3,221.7 L1094.9,221.2 L1094.5,220.8 L1094.0,220.4 L1093.4,220.0 L1092.8,219.7 L1092.2,219.5 L1091.4,219.3 L1091.2,219.5 L1091.3,220.3 L1091.5,221.0 L1091.7,221.6 L1092.0,222.2 L1092.3,222.7 L1092.7,223.2 L1093.2,223.6 L1093.7,224.0 L1094.2,224.4 L1094.8,224.7 L1095.5,224.9 L1096.2,225.1Z" fill="#bababa" stroke="#a2a2a2" stroke-width="0.35" opacity="1"/><path d="M1096.3,225.1 L1097.0,225.5 L1097.6,225.8 L1098.3,226.0 L1098.9,226.1 L1099.6,226.1 L1100.2,226.1 L1100.8,226.0 L1101.4,225.9 L1102.0,225.6 L1102.6,225.3 L1103.2,225.0 L1103.8,224.5 L1103.8,224.2 L1103.1,223.8 L1102.5,223.5 L1101.8,223.3 L1101.2,223.2 L1100.5,223.1 L1099.9,223.2 L1099.3,223.3 L1098.7,223.4 L1098.1,223.7 L1097.5,224.0 L1096.9,224.3 L1096.3,224.8Z" fill="#bababa" stroke="#a2a2a2" stroke-width="0.35" opacity="1"/><path d="M1098.2,220.5 L1098.1,219.8 L1097.9,219.2 L1097.7,218.7 L1097.5,218.2 L1097.2,217.8 L1096.9,217.3 L1096.5,217.0 L1096.1,216.6 L1095.6,216.3 L1095.1,216.1 L1094.6,215.9 L1093.9,215.7 L1093.7,215.9 L1093.8,216.6 L1093.9,217.2 L1094.1,217.7 L1094.4,218.2 L1094.6,218.6 L1095.0,219.1 L1095.3,219.4 L1095.8,219.8 L1096.2,220.1 L1096.7,220.3 L1097.3,220.5 L1097.9,220.7Z" fill="#bababa" stroke="#a2a2a2" stroke-width="0.35" opacity="1"/><path d="M1098.1,220.7 L1098.6,221.1 L1099.2,221.3 L1099.7,221.4 L1100.3,221.5 L1100.8,221.6 L1101.3,221.6 L1101.9,221.5 L1102.4,221.3 L1102.9,221.1 L1103.4,220.9 L1103.9,220.6 L1104.4,220.1 L1104.4,219.8 L1103.8,219.5 L1103.3,219.3 L1102.7,219.1 L1102.2,219.0 L1101.6,219.0 L1101.1,219.0 L1100.6,219.1 L1100.1,219.2 L1099.6,219.4 L1099.0,219.7 L1098.5,220.0 L1098.0,220.4Z" fill="#bababa" stroke="#a2a2a2" stroke-width="0.35" opacity="1"/><path d="M1099.9,216.0 L1099.8,215.5 L1099.7,215.0 L1099.6,214.6 L1099.4,214.2 L1099.1,213.8 L1098.9,213.5 L1098.5,213.2 L1098.2,212.9 L1097.8,212.7 L1097.4,212.5 L1096.9,212.3 L1096.4,212.2 L1096.2,212.4 L1096.3,212.9 L1096.4,213.4 L1096.5,213.8 L1096.7,214.2 L1097.0,214.6 L1097.2,214.9 L1097.6,215.2 L1097.9,215.5 L1098.3,215.8 L1098.7,216.0 L1099.2,216.1 L1099.7,216.3Z" fill="#bababa" stroke="#a2a2a2" stroke-width="0.35" opacity="1"/><path d="M1099.8,216.3 L1100.3,216.6 L1100.7,216.8 L1101.2,216.9 L1101.6,217.0 L1102.0,217.0 L1102.5,217.0 L1102.9,216.9 L1103.3,216.8 L1103.8,216.7 L1104.2,216.4 L1104.6,216.2 L1105.0,215.8 L1105.0,215.5 L1104.5,215.3 L1104.0,215.1 L1103.6,214.9 L1103.2,214.9 L1102.7,214.8 L1102.3,214.8 L1101.9,214.9 L1101.4,215.0 L1101.0,215.2 L1100.6,215.4 L1100.2,215.6 L1099.8,216.0Z" fill="#bababa" stroke="#a2a2a2" stroke-width="0.35" opacity="1"/><path d="M1101.6,211.6 L1101.6,211.2 L1101.5,210.8 L1101.4,210.5 L1101.3,210.2 L1101.1,209.9 L1100.9,209.6 L1100.7,209.4 L1100.4,209.2 L1100.1,209.0 L1099.8,208.9 L1099.4,208.7 L1099.0,208.7 L1098.7,208.9 L1098.8,209.3 L1098.9,209.7 L1099.0,210.0 L1099.1,210.3 L1099.3,210.6 L1099.5,210.9 L1099.7,211.1 L1100.0,211.3 L1100.3,211.5 L1100.6,211.6 L1101.0,211.8 L1101.4,211.8Z" fill="#bababa" stroke="#a2a2a2" stroke-width="0.35" opacity="1"/><path d="M1101.5,211.9 L1101.9,212.1 L1102.2,212.3 L1102.6,212.4 L1102.9,212.5 L1103.3,212.5 L1103.6,212.5 L1103.9,212.5 L1104.2,212.4 L1104.6,212.2 L1104.9,212.0 L1105.2,211.8 L1105.5,211.5 L1105.5,211.2 L1105.1,211.0 L1104.8,210.8 L1104.4,210.7 L1104.1,210.6 L1103.8,210.6 L1103.4,210.6 L1103.1,210.7 L1102.8,210.8 L1102.4,210.9 L1102.1,211.1 L1101.8,211.3 L1101.5,211.6Z" fill="#bababa" stroke="#a2a2a2" stroke-width="0.35" opacity="1"/><path d="M1103.4,207.2 L1103.4,206.9 L1103.4,206.6 L1103.4,206.3 L1103.3,206.1 L1103.2,205.9 L1103.1,205.7 L1102.9,205.5 L1102.7,205.4 L1102.5,205.3 L1102.2,205.3 L1101.9,205.2 L1101.6,205.2 L1101.4,205.4 L1101.3,205.8 L1101.3,206.1 L1101.4,206.3 L1101.4,206.6 L1101.5,206.8 L1101.7,207.0 L1101.8,207.1 L1102.0,207.2 L1102.2,207.3 L1102.5,207.4 L1102.8,207.4 L1103.1,207.4Z" fill="#bababa" stroke="#a2a2a2" stroke-width="0.35" opacity="1"/><path d="M1103.3,207.5 L1103.5,207.7 L1103.8,207.9 L1104.0,208.0 L1104.2,208.1 L1104.4,208.1 L1104.7,208.1 L1104.9,208.1 L1105.1,208.0 L1105.3,207.9 L1105.5,207.7 L1105.7,207.5 L1105.9,207.2 L1105.9,206.9 L1105.6,206.7 L1105.4,206.5 L1105.2,206.4 L1104.9,206.3 L1104.7,206.3 L1104.5,206.3 L1104.3,206.3 L1104.1,206.4 L1103.8,206.5 L1103.6,206.7 L1103.4,206.9 L1103.2,207.2Z" fill="#bababa" stroke="#a2a2a2" stroke-width="0.35" opacity="1"/><path d="M1105.1,202.8 L1105.2,202.6 L1105.3,202.4 L1105.4,202.2 L1105.4,202.1 L1105.4,202.0 L1105.4,201.9 L1105.3,201.8 L1105.2,201.8 L1105.0,201.8 L1104.9,201.9 L1104.7,201.9 L1104.4,202.1 L1104.2,202.3 L1104.1,202.5 L1104.0,202.7 L1103.9,202.9 L1103.9,203.0 L1103.9,203.1 L1103.9,203.2 L1104.0,203.2 L1104.1,203.2 L1104.3,203.2 L1104.4,203.2 L1104.6,203.1 L1104.9,203.0Z" fill="#bababa" stroke="#a2a2a2" stroke-width="0.35" opacity="1"/><path d="M1105.0,203.1 L1105.1,203.3 L1105.2,203.5 L1105.3,203.6 L1105.4,203.7 L1105.5,203.8 L1105.6,203.8 L1105.7,203.8 L1105.7,203.7 L1105.8,203.6 L1105.9,203.4 L1105.9,203.2 L1106.0,203.0 L1106.0,202.7 L1105.9,202.4 L1105.8,202.2 L1105.7,202.1 L1105.6,202.0 L1105.5,201.9 L1105.4,201.9 L1105.3,201.9 L1105.2,202.0 L1105.2,202.1 L1105.1,202.3 L1105.0,202.5 L1105.0,202.8Z" fill="#bababa" stroke="#a2a2a2" stroke-width="0.35" opacity="1"/><path d="M1065.3,293.0 Q1048.9,276.2 1029.9,262.5" fill="none" stroke="#a8a8a8" stroke-width="1.1" stroke-linecap="round" opacity="1"/><path d="M1054.6,283.7 L1054.1,283.6 L1053.5,283.5 L1053.1,283.5 L1052.6,283.6 L1052.1,283.7 L1051.7,283.8 L1051.3,284.0 L1050.9,284.3 L1050.5,284.6 L1050.2,284.9 L1049.9,285.3 L1049.6,285.8 L1049.7,286.1 L1050.2,286.2 L1050.7,286.2 L1051.2,286.2 L1051.7,286.2 L1052.1,286.1 L1052.6,285.9 L1053.0,285.7 L1053.4,285.5 L1053.7,285.2 L1054.1,284.8 L1054.4,284.5 L1054.7,284.0Z" fill="#bababa" stroke="#a2a2a2" stroke-width="0.35" opacity="1"/><path d="M1054.8,283.9 L1055.2,283.5 L1055.6,283.1 L1055.9,282.7 L1056.1,282.3 L1056.3,281.9 L1056.4,281.5 L1056.5,281.0 L1056.5,280.6 L1056.5,280.1 L1056.5,279.6 L1056.4,279.1 L1056.1,278.6 L1055.9,278.5 L1055.4,278.9 L1055.1,279.3 L1054.8,279.7 L1054.6,280.1 L1054.4,280.5 L1054.2,280.9 L1054.2,281.4 L1054.1,281.8 L1054.1,282.3 L1054.2,282.8 L1054.3,283.3 L1054.5,283.8Z" fill="#bababa" stroke="#a2a2a2" stroke-width="0.35" opacity="1"/><path d="M1051.9,281.3 L1051.0,281.1 L1050.1,281.1 L1049.3,281.1 L1048.6,281.2 L1047.8,281.3 L1047.1,281.6 L1046.4,281.9 L1045.8,282.3 L1045.2,282.8 L1044.6,283.3 L1044.1,284.0 L1043.6,284.8 L1043.7,285.0 L1044.6,285.3 L1045.5,285.3 L1046.3,285.3 L1047.0,285.2 L1047.8,285.0 L1048.5,284.8 L1049.1,284.5 L1049.8,284.1 L1050.4,283.6 L1050.9,283.0 L1051.5,282.4 L1052.0,281.6Z" fill="#bababa" stroke="#a2a2a2" stroke-width="0.35" opacity="1"/><path d="M1052.1,281.5 L1052.8,280.9 L1053.3,280.3 L1053.8,279.6 L1054.2,279.0 L1054.5,278.3 L1054.7,277.6 L1054.8,276.8 L1054.9,276.1 L1054.9,275.3 L1054.8,274.5 L1054.6,273.7 L1054.2,272.8 L1054.0,272.8 L1053.3,273.4 L1052.7,274.0 L1052.2,274.6 L1051.8,275.3 L1051.5,276.0 L1051.3,276.7 L1051.2,277.4 L1051.1,278.2 L1051.1,279.0 L1051.2,279.8 L1051.4,280.6 L1051.8,281.4Z" fill="#bababa" stroke="#a2a2a2" stroke-width="0.35" opacity="1"/><path d="M1049.1,279.0 L1048.1,278.7 L1047.2,278.6 L1046.3,278.7 L1045.4,278.8 L1044.6,279.0 L1043.8,279.2 L1043.1,279.6 L1042.4,280.0 L1041.7,280.6 L1041.0,281.2 L1040.4,281.9 L1039.9,282.8 L1040.0,283.1 L1041.0,283.3 L1041.9,283.4 L1042.8,283.4 L1043.7,283.3 L1044.5,283.1 L1045.3,282.8 L1046.1,282.4 L1046.8,282.0 L1047.4,281.4 L1048.1,280.8 L1048.7,280.1 L1049.2,279.2Z" fill="#bababa" stroke="#a2a2a2" stroke-width="0.35" opacity="1"/><path d="M1049.3,279.1 L1050.1,278.5 L1050.7,277.8 L1051.2,277.0 L1051.7,276.3 L1052.0,275.5 L1052.3,274.7 L1052.4,273.9 L1052.5,273.1 L1052.5,272.2 L1052.3,271.3 L1052.1,270.4 L1051.8,269.5 L1051.5,269.4 L1050.7,270.0 L1050.1,270.7 L1049.5,271.5 L1049.1,272.2 L1048.8,273.0 L1048.5,273.8 L1048.4,274.6 L1048.3,275.4 L1048.3,276.3 L1048.4,277.2 L1048.6,278.1 L1049.0,279.1Z" fill="#bababa" stroke="#a2a2a2" stroke-width="0.35" opacity="1"/><path d="M1046.4,276.6 L1045.5,276.4 L1044.6,276.3 L1043.8,276.3 L1043.1,276.4 L1042.4,276.6 L1041.7,276.8 L1041.0,277.2 L1040.4,277.6 L1039.8,278.0 L1039.2,278.6 L1038.6,279.2 L1038.2,280.0 L1038.3,280.3 L1039.2,280.5 L1040.0,280.6 L1040.8,280.5 L1041.6,280.4 L1042.3,280.3 L1043.0,280.0 L1043.7,279.7 L1044.3,279.3 L1044.9,278.8 L1045.5,278.3 L1046.0,277.6 L1046.5,276.9Z" fill="#bababa" stroke="#a2a2a2" stroke-width="0.35" opacity="1"/><path d="M1046.6,276.8 L1047.3,276.2 L1047.8,275.6 L1048.3,274.9 L1048.7,274.2 L1049.0,273.6 L1049.2,272.8 L1049.3,272.1 L1049.4,271.4 L1049.4,270.6 L1049.3,269.8 L1049.1,269.0 L1048.7,268.2 L1048.5,268.1 L1047.7,268.7 L1047.2,269.3 L1046.7,269.9 L1046.4,270.6 L1046.0,271.3 L1045.8,272.0 L1045.7,272.7 L1045.6,273.5 L1045.6,274.2 L1045.8,275.0 L1045.9,275.8 L1046.3,276.7Z" fill="#bababa" stroke="#a2a2a2" stroke-width="0.35" opacity="1"/><path d="M1043.6,274.2 L1042.8,274.0 L1042.1,274.0 L1041.4,274.0 L1040.8,274.1 L1040.1,274.2 L1039.5,274.4 L1038.9,274.7 L1038.4,275.1 L1037.8,275.5 L1037.3,276.0 L1036.9,276.5 L1036.5,277.2 L1036.6,277.5 L1037.4,277.7 L1038.1,277.7 L1038.8,277.7 L1039.4,277.6 L1040.1,277.5 L1040.7,277.3 L1041.3,277.0 L1041.8,276.6 L1042.3,276.2 L1042.8,275.7 L1043.3,275.2 L1043.7,274.5Z" fill="#bababa" stroke="#a2a2a2" stroke-width="0.35" opacity="1"/><path d="M1043.8,274.4 L1044.4,273.9 L1044.9,273.3 L1045.3,272.8 L1045.6,272.2 L1045.9,271.6 L1046.1,271.0 L1046.2,270.3 L1046.3,269.7 L1046.3,269.0 L1046.2,268.3 L1046.0,267.6 L1045.7,266.9 L1045.4,266.8 L1044.8,267.3 L1044.3,267.9 L1043.9,268.4 L1043.6,269.0 L1043.3,269.6 L1043.1,270.2 L1043.0,270.9 L1043.0,271.5 L1043.0,272.2 L1043.1,272.9 L1043.2,273.6 L1043.5,274.3Z" fill="#bababa" stroke="#a2a2a2" stroke-width="0.35" opacity="1"/><path d="M1040.9,271.8 L1040.2,271.7 L1039.6,271.6 L1039.0,271.7 L1038.4,271.7 L1037.9,271.8 L1037.4,272.0 L1036.9,272.3 L1036.4,272.6 L1036.0,272.9 L1035.5,273.3 L1035.1,273.8 L1034.8,274.4 L1034.9,274.7 L1035.6,274.8 L1036.2,274.9 L1036.8,274.8 L1037.3,274.8 L1037.9,274.7 L1038.4,274.5 L1038.9,274.2 L1039.4,273.9 L1039.8,273.6 L1040.2,273.2 L1040.6,272.7 L1041.0,272.1Z" fill="#bababa" stroke="#a2a2a2" stroke-width="0.35" opacity="1"/><path d="M1041.1,272.0 L1041.6,271.6 L1042.0,271.1 L1042.3,270.6 L1042.6,270.2 L1042.9,269.6 L1043.0,269.1 L1043.1,268.6 L1043.2,268.0 L1043.1,267.5 L1043.1,266.9 L1042.9,266.3 L1042.7,265.6 L1042.4,265.6 L1041.9,266.0 L1041.5,266.5 L1041.1,266.9 L1040.8,267.4 L1040.6,267.9 L1040.4,268.5 L1040.3,269.0 L1040.3,269.6 L1040.3,270.1 L1040.4,270.7 L1040.5,271.3 L1040.8,271.9Z" fill="#bababa" stroke="#a2a2a2" stroke-width="0.35" opacity="1"/><path d="M1038.1,269.5 L1037.6,269.3 L1037.1,269.3 L1036.6,269.3 L1036.1,269.4 L1035.7,269.5 L1035.3,269.6 L1034.9,269.8 L1034.5,270.1 L1034.1,270.4 L1033.8,270.7 L1033.4,271.1 L1033.2,271.5 L1033.3,271.8 L1033.8,272.0 L1034.3,272.0 L1034.8,272.0 L1035.3,271.9 L1035.7,271.8 L1036.1,271.7 L1036.5,271.5 L1036.9,271.2 L1037.3,270.9 L1037.6,270.6 L1037.9,270.2 L1038.2,269.8Z" fill="#bababa" stroke="#a2a2a2" stroke-width="0.35" opacity="1"/><path d="M1038.3,269.7 L1038.7,269.3 L1039.1,268.9 L1039.4,268.5 L1039.6,268.1 L1039.8,267.7 L1039.9,267.3 L1040.0,266.8 L1040.0,266.4 L1040.0,265.9 L1040.0,265.4 L1039.8,265.0 L1039.6,264.4 L1039.3,264.4 L1038.9,264.7 L1038.6,265.1 L1038.3,265.5 L1038.1,265.9 L1037.9,266.3 L1037.8,266.7 L1037.7,267.2 L1037.6,267.6 L1037.7,268.1 L1037.7,268.6 L1037.8,269.1 L1038.0,269.6Z" fill="#bababa" stroke="#a2a2a2" stroke-width="0.35" opacity="1"/><path d="M1035.4,267.1 L1035.0,267.0 L1034.6,266.9 L1034.2,266.9 L1033.8,267.0 L1033.5,267.0 L1033.2,267.2 L1032.9,267.3 L1032.6,267.5 L1032.3,267.7 L1032.0,268.0 L1031.8,268.3 L1031.6,268.7 L1031.7,269.0 L1032.1,269.1 L1032.5,269.1 L1032.9,269.1 L1033.2,269.1 L1033.6,269.0 L1033.9,268.9 L1034.2,268.8 L1034.5,268.6 L1034.8,268.3 L1035.0,268.1 L1035.3,267.8 L1035.5,267.4Z" fill="#bababa" stroke="#a2a2a2" stroke-width="0.35" opacity="1"/><path d="M1035.6,267.3 L1035.9,267.0 L1036.2,266.7 L1036.4,266.4 L1036.6,266.1 L1036.7,265.8 L1036.9,265.5 L1036.9,265.2 L1036.9,264.8 L1036.9,264.5 L1036.9,264.1 L1036.8,263.7 L1036.6,263.3 L1036.3,263.2 L1035.9,263.5 L1035.7,263.8 L1035.4,264.1 L1035.3,264.4 L1035.1,264.7 L1035.0,265.0 L1034.9,265.4 L1034.9,265.7 L1034.9,266.1 L1035.0,266.4 L1035.1,266.8 L1035.3,267.2Z" fill="#bababa" stroke="#a2a2a2" stroke-width="0.35" opacity="1"/><path d="M1032.6,264.7 L1032.3,264.6 L1032.0,264.5 L1031.8,264.4 L1031.5,264.4 L1031.3,264.5 L1031.1,264.5 L1030.9,264.6 L1030.7,264.8 L1030.5,265.0 L1030.4,265.2 L1030.2,265.4 L1030.1,265.8 L1030.2,266.1 L1030.5,266.2 L1030.8,266.3 L1031.1,266.4 L1031.3,266.4 L1031.6,266.3 L1031.8,266.3 L1032.0,266.2 L1032.2,266.0 L1032.3,265.8 L1032.5,265.6 L1032.6,265.4 L1032.7,265.0Z" fill="#bababa" stroke="#a2a2a2" stroke-width="0.35" opacity="1"/><path d="M1032.8,264.9 L1033.1,264.8 L1033.4,264.6 L1033.6,264.4 L1033.7,264.2 L1033.9,264.0 L1033.9,263.8 L1034.0,263.6 L1034.0,263.3 L1033.9,263.1 L1033.8,262.8 L1033.7,262.6 L1033.5,262.3 L1033.2,262.2 L1032.9,262.4 L1032.6,262.5 L1032.4,262.7 L1032.3,262.9 L1032.2,263.1 L1032.1,263.3 L1032.1,263.5 L1032.1,263.8 L1032.1,264.0 L1032.2,264.3 L1032.3,264.6 L1032.5,264.8Z" fill="#bababa" stroke="#a2a2a2" stroke-width="0.35" opacity="1"/><path d="M1029.9,262.4 L1029.7,262.2 L1029.5,262.0 L1029.4,261.9 L1029.3,261.8 L1029.2,261.8 L1029.1,261.8 L1029.0,261.9 L1029.0,262.0 L1028.9,262.1 L1028.9,262.3 L1028.9,262.5 L1028.9,262.8 L1029.1,263.0 L1029.2,263.3 L1029.4,263.4 L1029.5,263.5 L1029.6,263.6 L1029.7,263.6 L1029.8,263.6 L1029.9,263.5 L1030.0,263.4 L1030.0,263.3 L1030.0,263.1 L1030.0,262.9 L1030.0,262.6Z" fill="#bababa" stroke="#a2a2a2" stroke-width="0.35" opacity="1"/><path d="M1030.1,262.5 L1030.4,262.5 L1030.6,262.5 L1030.7,262.4 L1030.9,262.4 L1030.9,262.3 L1031.0,262.3 L1031.0,262.2 L1030.9,262.1 L1030.9,262.0 L1030.7,261.8 L1030.6,261.7 L1030.3,261.6 L1030.0,261.5 L1029.8,261.5 L1029.5,261.5 L1029.4,261.6 L1029.3,261.6 L1029.2,261.7 L1029.1,261.8 L1029.1,261.9 L1029.2,262.0 L1029.3,262.1 L1029.4,262.2 L1029.5,262.3 L1029.8,262.5Z" fill="#bababa" stroke="#a2a2a2" stroke-width="0.35" opacity="1"/><path d="M1072.5,293.0 Q1092.0,271.8 1108.3,248.2" fill="none" stroke="#a8a8a8" stroke-width="1.1" stroke-linecap="round" opacity="1"/><path d="M1083.4,279.5 L1083.5,278.9 L1083.5,278.3 L1083.5,277.8 L1083.4,277.3 L1083.3,276.8 L1083.1,276.3 L1082.9,275.9 L1082.6,275.5 L1082.3,275.1 L1081.9,274.8 L1081.5,274.4 L1080.9,274.1 L1080.7,274.2 L1080.5,274.8 L1080.5,275.4 L1080.5,275.9 L1080.6,276.4 L1080.8,276.9 L1080.9,277.4 L1081.2,277.8 L1081.5,278.2 L1081.8,278.6 L1082.2,279.0 L1082.6,279.3 L1083.1,279.6Z" fill="#bababa" stroke="#a2a2a2" stroke-width="0.35" opacity="1"/><path d="M1083.2,279.7 L1083.6,280.1 L1084.1,280.5 L1084.5,280.8 L1085.0,281.0 L1085.4,281.2 L1085.9,281.3 L1086.4,281.4 L1086.9,281.4 L1087.4,281.4 L1087.9,281.3 L1088.4,281.1 L1089.0,280.9 L1089.1,280.6 L1088.7,280.2 L1088.2,279.8 L1087.8,279.5 L1087.3,279.3 L1086.9,279.1 L1086.4,279.0 L1085.9,278.9 L1085.4,278.9 L1084.9,278.9 L1084.4,279.0 L1083.9,279.1 L1083.3,279.4Z" fill="#bababa" stroke="#a2a2a2" stroke-width="0.35" opacity="1"/><path d="M1085.9,276.3 L1086.1,275.4 L1086.1,274.5 L1086.1,273.7 L1086.0,272.9 L1085.7,272.1 L1085.5,271.4 L1085.1,270.7 L1084.6,270.0 L1084.1,269.4 L1083.5,268.8 L1082.8,268.3 L1082.0,267.8 L1081.7,267.9 L1081.5,268.9 L1081.5,269.8 L1081.5,270.6 L1081.6,271.4 L1081.9,272.2 L1082.1,272.9 L1082.5,273.6 L1083.0,274.2 L1083.5,274.9 L1084.1,275.4 L1084.8,276.0 L1085.6,276.5Z" fill="#bababa" stroke="#a2a2a2" stroke-width="0.35" opacity="1"/><path d="M1085.7,276.5 L1086.4,277.3 L1087.1,277.8 L1087.8,278.3 L1088.5,278.7 L1089.2,278.9 L1090.0,279.2 L1090.8,279.3 L1091.5,279.3 L1092.4,279.2 L1093.2,279.1 L1094.0,278.9 L1094.9,278.5 L1095.0,278.2 L1094.3,277.5 L1093.7,276.9 L1093.0,276.5 L1092.2,276.1 L1091.5,275.8 L1090.7,275.6 L1090.0,275.5 L1089.2,275.4 L1088.4,275.5 L1087.5,275.6 L1086.7,275.9 L1085.8,276.2Z" fill="#bababa" stroke="#a2a2a2" stroke-width="0.35" opacity="1"/><path d="M1088.4,273.2 L1088.6,272.1 L1088.7,271.0 L1088.6,270.0 L1088.5,269.1 L1088.2,268.2 L1087.9,267.3 L1087.4,266.5 L1086.9,265.7 L1086.3,265.0 L1085.6,264.3 L1084.7,263.7 L1083.7,263.1 L1083.5,263.2 L1083.2,264.4 L1083.2,265.4 L1083.3,266.4 L1083.4,267.3 L1083.7,268.2 L1084.0,269.1 L1084.4,269.9 L1085.0,270.7 L1085.6,271.4 L1086.3,272.1 L1087.1,272.8 L1088.1,273.3Z" fill="#bababa" stroke="#a2a2a2" stroke-width="0.35" opacity="1"/><path d="M1088.2,273.4 L1089.0,274.3 L1089.8,274.9 L1090.6,275.5 L1091.5,275.9 L1092.4,276.3 L1093.3,276.5 L1094.2,276.6 L1095.1,276.7 L1096.1,276.6 L1097.1,276.4 L1098.1,276.2 L1099.1,275.7 L1099.2,275.4 L1098.4,274.6 L1097.6,273.9 L1096.8,273.4 L1095.9,272.9 L1095.0,272.6 L1094.2,272.3 L1093.2,272.2 L1092.3,272.1 L1091.3,272.2 L1090.4,272.4 L1089.4,272.6 L1088.3,273.1Z" fill="#bababa" stroke="#a2a2a2" stroke-width="0.35" opacity="1"/><path d="M1090.9,270.1 L1091.1,269.0 L1091.1,268.1 L1091.1,267.2 L1091.0,266.3 L1090.7,265.5 L1090.4,264.8 L1090.0,264.0 L1089.6,263.3 L1089.0,262.7 L1088.3,262.0 L1087.6,261.5 L1086.7,261.0 L1086.4,261.1 L1086.2,262.1 L1086.2,263.0 L1086.2,263.9 L1086.4,264.8 L1086.6,265.6 L1086.9,266.4 L1087.3,267.1 L1087.8,267.8 L1088.4,268.5 L1089.0,269.1 L1089.7,269.7 L1090.6,270.2Z" fill="#bababa" stroke="#a2a2a2" stroke-width="0.35" opacity="1"/><path d="M1090.7,270.3 L1091.4,271.0 L1092.2,271.6 L1092.9,272.1 L1093.7,272.5 L1094.5,272.8 L1095.3,273.1 L1096.1,273.2 L1097.0,273.2 L1097.8,273.2 L1098.7,273.0 L1099.6,272.8 L1100.6,272.4 L1100.6,272.1 L1099.9,271.3 L1099.2,270.7 L1098.4,270.2 L1097.7,269.8 L1096.9,269.5 L1096.1,269.3 L1095.3,269.1 L1094.4,269.1 L1093.5,269.2 L1092.7,269.3 L1091.8,269.5 L1090.8,270.0Z" fill="#bababa" stroke="#a2a2a2" stroke-width="0.35" opacity="1"/><path d="M1093.4,266.9 L1093.6,266.0 L1093.6,265.2 L1093.6,264.4 L1093.5,263.6 L1093.3,262.9 L1093.0,262.2 L1092.6,261.5 L1092.2,260.9 L1091.7,260.3 L1091.1,259.8 L1090.5,259.3 L1089.7,258.8 L1089.4,258.9 L1089.2,259.9 L1089.2,260.7 L1089.2,261.5 L1089.4,262.2 L1089.5,263.0 L1089.8,263.7 L1090.2,264.3 L1090.6,264.9 L1091.1,265.5 L1091.7,266.1 L1092.3,266.6 L1093.1,267.0Z" fill="#bababa" stroke="#a2a2a2" stroke-width="0.35" opacity="1"/><path d="M1093.2,267.1 L1093.9,267.8 L1094.5,268.3 L1095.2,268.8 L1095.9,269.1 L1096.6,269.4 L1097.3,269.6 L1098.0,269.7 L1098.8,269.8 L1099.5,269.7 L1100.3,269.6 L1101.1,269.4 L1102.0,269.0 L1102.0,268.7 L1101.4,268.0 L1100.8,267.5 L1100.1,267.0 L1099.4,266.7 L1098.7,266.4 L1098.0,266.2 L1097.3,266.1 L1096.5,266.1 L1095.7,266.1 L1095.0,266.2 L1094.2,266.5 L1093.3,266.8Z" fill="#bababa" stroke="#a2a2a2" stroke-width="0.35" opacity="1"/><path d="M1095.9,263.8 L1096.1,263.0 L1096.1,262.3 L1096.1,261.6 L1096.0,260.9 L1095.8,260.3 L1095.5,259.7 L1095.2,259.1 L1094.9,258.5 L1094.4,258.0 L1093.9,257.6 L1093.4,257.1 L1092.6,256.7 L1092.4,256.8 L1092.2,257.6 L1092.2,258.4 L1092.2,259.1 L1092.3,259.7 L1092.5,260.4 L1092.7,261.0 L1093.1,261.5 L1093.4,262.1 L1093.9,262.6 L1094.4,263.1 L1094.9,263.5 L1095.6,263.9Z" fill="#bababa" stroke="#a2a2a2" stroke-width="0.35" opacity="1"/><path d="M1095.8,264.0 L1096.3,264.6 L1096.9,265.0 L1097.4,265.4 L1098.0,265.7 L1098.6,266.0 L1099.3,266.2 L1099.9,266.3 L1100.6,266.3 L1101.2,266.2 L1101.9,266.1 L1102.6,265.9 L1103.4,265.6 L1103.4,265.3 L1102.9,264.7 L1102.3,264.3 L1101.7,263.9 L1101.1,263.6 L1100.5,263.3 L1099.9,263.1 L1099.3,263.0 L1098.6,263.0 L1097.9,263.1 L1097.3,263.2 L1096.5,263.4 L1095.8,263.7Z" fill="#bababa" stroke="#a2a2a2" stroke-width="0.35" opacity="1"/><path d="M1098.4,260.6 L1098.6,260.0 L1098.6,259.4 L1098.5,258.8 L1098.5,258.2 L1098.3,257.7 L1098.1,257.1 L1097.8,256.7 L1097.5,256.2 L1097.2,255.8 L1096.7,255.4 L1096.2,255.0 L1095.6,254.6 L1095.4,254.8 L1095.2,255.4 L1095.2,256.1 L1095.3,256.6 L1095.3,257.2 L1095.5,257.8 L1095.7,258.3 L1095.9,258.8 L1096.3,259.2 L1096.6,259.6 L1097.1,260.1 L1097.6,260.4 L1098.2,260.8Z" fill="#bababa" stroke="#a2a2a2" stroke-width="0.35" opacity="1"/><path d="M1098.3,260.9 L1098.7,261.4 L1099.2,261.7 L1099.7,262.1 L1100.2,262.3 L1100.7,262.6 L1101.2,262.7 L1101.8,262.8 L1102.3,262.8 L1102.9,262.8 L1103.5,262.7 L1104.1,262.5 L1104.7,262.2 L1104.8,261.9 L1104.3,261.4 L1103.8,261.0 L1103.4,260.7 L1102.8,260.4 L1102.3,260.2 L1101.8,260.1 L1101.3,260.0 L1100.7,260.0 L1100.1,260.0 L1099.5,260.1 L1098.9,260.3 L1098.3,260.6Z" fill="#bababa" stroke="#a2a2a2" stroke-width="0.35" opacity="1"/><path d="M1100.9,257.5 L1101.0,257.0 L1101.1,256.5 L1101.0,256.0 L1101.0,255.5 L1100.8,255.1 L1100.7,254.7 L1100.5,254.3 L1100.2,253.9 L1099.9,253.5 L1099.5,253.2 L1099.1,252.9 L1098.7,252.6 L1098.4,252.7 L1098.3,253.3 L1098.3,253.8 L1098.3,254.3 L1098.4,254.7 L1098.5,255.2 L1098.6,255.6 L1098.9,256.0 L1099.1,256.4 L1099.4,256.7 L1099.8,257.0 L1100.2,257.4 L1100.7,257.6Z" fill="#bababa" stroke="#a2a2a2" stroke-width="0.35" opacity="1"/><path d="M1100.8,257.7 L1101.1,258.1 L1101.5,258.4 L1101.9,258.7 L1102.3,258.9 L1102.8,259.1 L1103.2,259.2 L1103.6,259.3 L1104.1,259.3 L1104.6,259.3 L1105.0,259.2 L1105.5,259.1 L1106.0,258.8 L1106.1,258.5 L1105.7,258.1 L1105.3,257.8 L1104.9,257.6 L1104.5,257.3 L1104.1,257.2 L1103.7,257.0 L1103.2,257.0 L1102.8,257.0 L1102.3,257.0 L1101.8,257.1 L1101.3,257.2 L1100.8,257.4Z" fill="#bababa" stroke="#a2a2a2" stroke-width="0.35" opacity="1"/><path d="M1103.4,254.4 L1103.5,253.9 L1103.6,253.6 L1103.5,253.2 L1103.5,252.8 L1103.4,252.5 L1103.3,252.2 L1103.1,251.9 L1102.9,251.6 L1102.7,251.3 L1102.4,251.1 L1102.1,250.8 L1101.7,250.6 L1101.4,250.8 L1101.3,251.2 L1101.3,251.6 L1101.3,251.9 L1101.4,252.3 L1101.4,252.6 L1101.6,253.0 L1101.7,253.3 L1101.9,253.6 L1102.2,253.8 L1102.5,254.1 L1102.8,254.3 L1103.2,254.5Z" fill="#bababa" stroke="#a2a2a2" stroke-width="0.35" opacity="1"/><path d="M1103.3,254.6 L1103.5,254.9 L1103.8,255.2 L1104.1,255.4 L1104.5,255.6 L1104.8,255.7 L1105.1,255.8 L1105.4,255.8 L1105.8,255.8 L1106.2,255.8 L1106.5,255.7 L1106.9,255.6 L1107.3,255.4 L1107.4,255.1 L1107.1,254.8 L1106.8,254.6 L1106.5,254.3 L1106.2,254.2 L1105.8,254.0 L1105.5,253.9 L1105.2,253.9 L1104.8,253.9 L1104.5,253.9 L1104.1,254.0 L1103.7,254.1 L1103.3,254.3Z" fill="#bababa" stroke="#a2a2a2" stroke-width="0.35" opacity="1"/><path d="M1105.9,251.2 L1106.1,250.9 L1106.2,250.6 L1106.2,250.4 L1106.2,250.1 L1106.2,249.9 L1106.1,249.7 L1106.0,249.5 L1105.8,249.3 L1105.6,249.1 L1105.4,249.0 L1105.1,248.8 L1104.8,248.8 L1104.5,248.9 L1104.4,249.2 L1104.3,249.5 L1104.2,249.8 L1104.2,250.0 L1104.3,250.2 L1104.4,250.5 L1104.5,250.7 L1104.6,250.8 L1104.8,251.0 L1105.1,251.1 L1105.3,251.3 L1105.7,251.4Z" fill="#bababa" stroke="#a2a2a2" stroke-width="0.35" opacity="1"/><path d="M1105.8,251.4 L1105.9,251.8 L1106.1,252.0 L1106.3,252.2 L1106.5,252.3 L1106.7,252.4 L1106.9,252.5 L1107.2,252.5 L1107.4,252.5 L1107.6,252.5 L1107.9,252.4 L1108.2,252.2 L1108.4,252.0 L1108.5,251.7 L1108.3,251.4 L1108.2,251.2 L1108.0,251.0 L1107.8,250.8 L1107.5,250.7 L1107.3,250.7 L1107.1,250.6 L1106.9,250.6 L1106.6,250.7 L1106.4,250.8 L1106.1,250.9 L1105.8,251.1Z" fill="#bababa" stroke="#a2a2a2" stroke-width="0.35" opacity="1"/><path d="M1108.4,248.1 L1108.6,247.9 L1108.8,247.8 L1108.9,247.6 L1108.9,247.5 L1109.0,247.4 L1109.0,247.3 L1108.9,247.2 L1108.8,247.2 L1108.7,247.2 L1108.5,247.1 L1108.3,247.1 L1108.0,247.2 L1107.7,247.3 L1107.5,247.5 L1107.4,247.7 L1107.3,247.8 L1107.2,247.9 L1107.2,248.0 L1107.2,248.1 L1107.3,248.2 L1107.4,248.2 L1107.5,248.2 L1107.7,248.3 L1107.9,248.3 L1108.2,248.2Z" fill="#bababa" stroke="#a2a2a2" stroke-width="0.35" opacity="1"/><path d="M1108.3,248.3 L1108.3,248.6 L1108.3,248.8 L1108.4,249.0 L1108.4,249.1 L1108.5,249.2 L1108.6,249.2 L1108.7,249.2 L1108.8,249.1 L1108.9,249.1 L1109.0,248.9 L1109.1,248.8 L1109.3,248.5 L1109.3,248.2 L1109.3,247.9 L1109.2,247.7 L1109.2,247.6 L1109.1,247.5 L1109.1,247.4 L1109.0,247.3 L1108.9,247.3 L1108.8,247.4 L1108.7,247.5 L1108.6,247.6 L1108.5,247.8 L1108.3,248.0Z" fill="#bababa" stroke="#a2a2a2" stroke-width="0.35" opacity="1"/><line x1="1205.3" y1="274.6" x2="1206.4" y2="190.8" stroke="#a0a0a0" stroke-width="1.3" stroke-linecap="round" opacity="1"/><path d="M1205.3,244.8 Q1198.6,238.2 1196.4,226.1" fill="none" stroke="#a5a5a5" stroke-width="1.0" stroke-linecap="round" opacity="1"/><path d="M1206.0,198.4 L1205.9,197.6 L1205.7,196.8 L1205.5,196.0 L1205.2,195.3 L1204.8,194.6 L1204.4,193.9 L1204.0,193.3 L1203.5,192.7 L1202.9,192.2 L1202.3,191.6 L1201.7,191.1 L1201.0,190.7 L1200.7,190.8 L1200.8,191.7 L1201.0,192.5 L1201.3,193.2 L1201.6,194.0 L1201.9,194.7 L1202.3,195.3 L1202.8,195.9 L1203.3,196.5 L1203.8,197.1 L1204.4,197.6 L1205.1,198.1 L1205.8,198.6Z" fill="#c4c4c4" stroke="#9a9a9a" stroke-width="0.4" opacity="1"/><path d="M1206.0,198.6 L1206.8,198.4 L1207.6,198.2 L1208.3,197.9 L1209.0,197.5 L1209.6,197.2 L1210.2,196.7 L1210.8,196.2 L1211.3,195.7 L1211.8,195.1 L1212.3,194.5 L1212.7,193.8 L1213.1,193.1 L1212.9,192.9 L1212.1,193.0 L1211.3,193.3 L1210.6,193.6 L1209.9,193.9 L1209.3,194.3 L1208.7,194.7 L1208.1,195.2 L1207.6,195.8 L1207.1,196.3 L1206.6,197.0 L1206.2,197.6 L1205.8,198.4Z" fill="#c4c4c4" stroke="#9a9a9a" stroke-width="0.4" opacity="1"/><path d="M1205.8,208.3 L1205.6,207.4 L1205.3,206.6 L1204.9,205.8 L1204.5,205.1 L1204.0,204.4 L1203.5,203.7 L1203.0,203.1 L1202.4,202.5 L1201.7,202.0 L1201.0,201.4 L1200.3,201.0 L1199.4,200.6 L1199.2,200.8 L1199.4,201.7 L1199.7,202.5 L1200.1,203.3 L1200.5,204.1 L1200.9,204.8 L1201.5,205.4 L1202.0,206.0 L1202.6,206.6 L1203.3,207.2 L1204.0,207.7 L1204.7,208.1 L1205.6,208.5Z" fill="#c4c4c4" stroke="#9a9a9a" stroke-width="0.4" opacity="1"/><path d="M1206.0,205.2 L1206.9,205.0 L1207.6,204.6 L1208.3,204.2 L1209.0,203.8 L1209.6,203.3 L1210.2,202.8 L1210.7,202.2 L1211.2,201.6 L1211.6,200.9 L1212.0,200.2 L1212.4,199.4 L1212.6,198.6 L1212.4,198.4 L1211.6,198.6 L1210.8,199.0 L1210.1,199.4 L1209.5,199.8 L1208.8,200.3 L1208.3,200.8 L1207.7,201.4 L1207.3,202.0 L1206.8,202.7 L1206.4,203.4 L1206.1,204.2 L1205.8,205.0Z" fill="#c4c4c4" stroke="#9a9a9a" stroke-width="0.4" opacity="1"/><path d="M1205.8,219.4 L1205.6,218.5 L1205.3,217.8 L1205.0,217.1 L1204.6,216.4 L1204.2,215.8 L1203.7,215.2 L1203.2,214.7 L1202.6,214.2 L1202.0,213.8 L1201.4,213.4 L1200.6,213.0 L1199.8,212.7 L1199.6,212.9 L1199.8,213.8 L1200.1,214.5 L1200.4,215.2 L1200.8,215.9 L1201.2,216.5 L1201.7,217.1 L1202.2,217.6 L1202.8,218.1 L1203.4,218.5 L1204.1,218.9 L1204.8,219.3 L1205.6,219.6Z" fill="#c4c4c4" stroke="#9a9a9a" stroke-width="0.4" opacity="1"/><path d="M1206.0,216.3 L1206.9,216.0 L1207.6,215.6 L1208.3,215.2 L1209.0,214.8 L1209.6,214.3 L1210.2,213.8 L1210.7,213.2 L1211.2,212.6 L1211.6,211.9 L1212.0,211.2 L1212.4,210.5 L1212.6,209.6 L1212.4,209.4 L1211.6,209.7 L1210.8,210.0 L1210.1,210.4 L1209.5,210.9 L1208.8,211.4 L1208.3,211.9 L1207.7,212.5 L1207.3,213.1 L1206.8,213.7 L1206.4,214.5 L1206.1,215.2 L1205.8,216.0Z" fill="#c4c4c4" stroke="#9a9a9a" stroke-width="0.4" opacity="1"/><path d="M1205.8,231.6 L1206.4,231.1 L1206.9,230.6 L1207.3,230.0 L1207.7,229.4 L1208.0,228.8 L1208.2,228.1 L1208.4,227.5 L1208.5,226.8 L1208.5,226.1 L1208.5,225.4 L1208.5,224.7 L1208.3,223.9 L1208.0,223.8 L1207.4,224.4 L1206.9,224.9 L1206.5,225.5 L1206.2,226.1 L1205.9,226.7 L1205.6,227.3 L1205.5,228.0 L1205.3,228.7 L1205.3,229.4 L1205.3,230.1 L1205.4,230.8 L1205.6,231.6Z" fill="#c4c4c4" stroke="#9a9a9a" stroke-width="0.4" opacity="1"/><path d="M1205.6,244.7 L1205.3,243.9 L1205.0,243.1 L1204.6,242.4 L1204.1,241.7 L1203.6,241.1 L1203.1,240.5 L1202.5,240.0 L1201.8,239.5 L1201.1,239.1 L1200.4,238.7 L1199.6,238.4 L1198.7,238.1 L1198.5,238.3 L1198.8,239.2 L1199.1,240.0 L1199.6,240.7 L1200.0,241.4 L1200.5,242.0 L1201.0,242.6 L1201.6,243.1 L1202.3,243.6 L1203.0,244.0 L1203.7,244.4 L1204.5,244.7 L1205.4,245.0Z" fill="#c4c4c4" stroke="#9a9a9a" stroke-width="0.4" opacity="1"/><path d="M1205.6,251.6 L1206.6,251.2 L1207.6,250.7 L1208.4,250.2 L1209.2,249.6 L1209.9,248.9 L1210.5,248.2 L1211.0,247.5 L1211.5,246.7 L1211.9,245.8 L1212.3,244.8 L1212.5,243.8 L1212.7,242.7 L1212.4,242.5 L1211.4,242.9 L1210.5,243.4 L1209.6,243.9 L1208.8,244.5 L1208.1,245.2 L1207.5,245.9 L1207.0,246.6 L1206.5,247.5 L1206.1,248.3 L1205.7,249.3 L1205.5,250.3 L1205.4,251.4Z" fill="#c4c4c4" stroke="#9a9a9a" stroke-width="0.4" opacity="1"/><circle cx="1203.4" cy="189.9" r="1.3" fill="#d8d8d8" stroke="#8e8e8e" stroke-width="0.5"/><circle cx="1209.1" cy="188.4" r="1.3" fill="#d8d8d8" stroke="#8e8e8e" stroke-width="0.5"/><circle cx="1204.1" cy="190.7" r="1.3" fill="#d8d8d8" stroke="#8e8e8e" stroke-width="0.5"/><circle cx="1211.2" cy="188.6" r="1.3" fill="#d8d8d8" stroke="#8e8e8e" stroke-width="0.5"/><circle cx="1207.5" cy="186.7" r="1.3" fill="#d8d8d8" stroke="#8e8e8e" stroke-width="0.5"/><circle cx="1201.5" cy="187.6" r="1.3" fill="#d8d8d8" stroke="#8e8e8e" stroke-width="0.5"/><circle cx="1208.5" cy="185.5" r="1.3" fill="#d8d8d8" stroke="#8e8e8e" stroke-width="0.5"/><circle cx="1211.0" cy="186.6" r="1.3" fill="#d8d8d8" stroke="#8e8e8e" stroke-width="0.5"/><circle cx="1204.3" cy="185.3" r="1.3" fill="#d8d8d8" stroke="#8e8e8e" stroke-width="0.5"/><circle cx="1213.4" cy="190.3" r="1.3" fill="#d8d8d8" stroke="#8e8e8e" stroke-width="0.5"/><circle cx="1212.0" cy="189.4" r="1.3" fill="#d8d8d8" stroke="#8e8e8e" stroke-width="0.5"/><circle cx="1201.9" cy="187.3" r="1.3" fill="#d8d8d8" stroke="#8e8e8e" stroke-width="0.5"/><line x1="1207.5" y1="188.6" x2="1207.5" y2="194.6" stroke="#999" stroke-width="0.6" stroke-linecap="round" opacity="1"/><circle cx="1196.4" cy="222.9" r="1.3" fill="#d8d8d8" stroke="#8e8e8e" stroke-width="0.5"/><circle cx="1199.6" cy="224.0" r="1.3" fill="#d8d8d8" stroke="#8e8e8e" stroke-width="0.5"/><circle cx="1194.0" cy="225.9" r="1.3" fill="#d8d8d8" stroke="#8e8e8e" stroke-width="0.5"/><circle cx="1193.8" cy="226.3" r="1.3" fill="#d8d8d8" stroke="#8e8e8e" stroke-width="0.5"/><circle cx="1196.1" cy="224.8" r="1.3" fill="#d8d8d8" stroke="#8e8e8e" stroke-width="0.5"/><circle cx="1195.3" cy="224.5" r="1.3" fill="#d8d8d8" stroke="#8e8e8e" stroke-width="0.5"/><line x1="1196.4" y1="224.5" x2="1196.4" y2="228.0" stroke="#999" stroke-width="0.6" stroke-linecap="round" opacity="1"/><path d="M1205.3,273.8 L1203.1,272.4 L1201.0,271.2 L1199.0,270.1 L1197.1,269.1 L1195.2,268.3 L1193.3,267.5 L1191.4,266.8 L1189.5,266.3 L1187.6,265.7 L1185.6,265.3 L1183.4,264.9 L1181.1,264.6 L1180.9,264.8 L1181.9,267.1 L1183.3,268.9 L1184.8,270.6 L1186.6,272.1 L1188.6,273.3 L1190.7,274.3 L1193.0,275.0 L1195.3,275.4 L1197.7,275.6 L1200.2,275.4 L1202.7,275.0 L1205.2,274.1Z" fill="#c3c3c3" stroke="#939393" stroke-width="0.5" opacity="1"/><path d="M1205.4,273.9 L1204.6,271.5 L1203.8,269.4 L1203.0,267.4 L1202.1,265.6 L1201.3,263.8 L1200.4,262.2 L1199.5,260.6 L1198.4,259.1 L1197.3,257.5 L1196.1,255.9 L1194.8,254.3 L1193.3,252.5 L1193.0,252.6 L1192.2,254.9 L1192.0,257.2 L1192.1,259.4 L1192.4,261.6 L1193.1,263.8 L1194.1,265.8 L1195.3,267.7 L1196.8,269.4 L1198.6,270.9 L1200.5,272.2 L1202.7,273.4 L1205.1,274.1Z" fill="#c3c3c3" stroke="#939393" stroke-width="0.5" opacity="1"/><path d="M1205.4,274.1 L1207.3,273.6 L1209.0,272.7 L1210.5,271.6 L1211.8,270.3 L1212.9,268.7 L1213.9,267.1 L1214.5,265.3 L1215.0,263.3 L1215.2,261.3 L1215.2,259.2 L1214.9,257.0 L1214.2,254.8 L1213.9,254.8 L1212.5,256.5 L1211.3,258.2 L1210.2,259.8 L1209.2,261.3 L1208.4,262.8 L1207.7,264.2 L1207.1,265.7 L1206.6,267.2 L1206.1,268.7 L1205.7,270.3 L1205.4,272.0 L1205.1,273.9Z" fill="#c3c3c3" stroke="#939393" stroke-width="0.5" opacity="1"/><path d="M1205.3,274.1 L1207.6,274.9 L1210.0,275.1 L1212.3,275.0 L1214.6,274.6 L1216.8,273.9 L1219.0,272.9 L1221.0,271.7 L1222.9,270.1 L1224.6,268.3 L1226.1,266.3 L1227.5,264.1 L1228.5,261.5 L1228.3,261.3 L1225.7,261.9 L1223.3,262.7 L1221.1,263.5 L1219.0,264.3 L1217.1,265.2 L1215.3,266.1 L1213.5,267.1 L1211.8,268.2 L1210.2,269.4 L1208.6,270.7 L1206.9,272.1 L1205.2,273.8Z" fill="#c3c3c3" stroke="#939393" stroke-width="0.5" opacity="1"/><path d="M1205.2,274.1 L1206.7,275.6 L1208.3,276.6 L1210.0,277.5 L1211.7,278.1 L1213.5,278.5 L1215.3,278.7 L1217.2,278.6 L1219.0,278.3 L1220.9,277.8 L1222.7,277.1 L1224.5,276.1 L1226.2,274.8 L1226.2,274.5 L1224.3,273.5 L1222.5,272.8 L1220.7,272.2 L1218.9,271.8 L1217.2,271.5 L1215.6,271.4 L1213.9,271.4 L1212.3,271.6 L1210.6,271.9 L1208.9,272.4 L1207.1,272.9 L1205.3,273.8Z" fill="#c3c3c3" stroke="#939393" stroke-width="0.5" opacity="1"/><path d="M1205.2,273.8 L1203.4,273.0 L1201.6,272.5 L1199.8,272.1 L1198.1,272.0 L1196.5,272.1 L1194.8,272.3 L1193.3,272.7 L1191.8,273.3 L1190.3,274.2 L1189.0,275.1 L1187.7,276.3 L1186.5,277.8 L1186.5,278.1 L1188.3,278.9 L1190.0,279.3 L1191.6,279.6 L1193.2,279.7 L1194.8,279.7 L1196.4,279.4 L1197.9,279.0 L1199.4,278.4 L1200.9,277.6 L1202.4,276.7 L1203.8,275.6 L1205.3,274.1Z" fill="#c3c3c3" stroke="#939393" stroke-width="0.5" opacity="1"/><path d="M1205.1,274.0 L1204.5,275.4 L1204.2,276.7 L1204.1,277.9 L1204.1,279.1 L1204.2,280.2 L1204.5,281.3 L1204.9,282.3 L1205.5,283.3 L1206.3,284.3 L1207.2,285.2 L1208.2,286.1 L1209.5,286.8 L1209.8,286.7 L1210.4,285.3 L1210.7,284.0 L1210.9,282.7 L1210.9,281.5 L1210.7,280.4 L1210.4,279.3 L1210.0,278.2 L1209.4,277.2 L1208.6,276.3 L1207.8,275.4 L1206.7,274.6 L1205.4,273.9Z" fill="#c3c3c3" stroke="#939393" stroke-width="0.5" opacity="1"/><path d="M1205.1,273.9 L1203.8,274.5 L1202.8,275.2 L1201.8,275.9 L1201.0,276.7 L1200.3,277.5 L1199.7,278.3 L1199.2,279.2 L1198.9,280.1 L1198.6,281.1 L1198.4,282.1 L1198.4,283.2 L1198.5,284.5 L1198.8,284.7 L1200.0,284.4 L1201.0,284.0 L1202.0,283.4 L1202.8,282.8 L1203.6,282.0 L1204.2,281.1 L1204.7,280.2 L1205.1,279.1 L1205.4,278.0 L1205.5,276.8 L1205.6,275.5 L1205.4,274.1Z" fill="#c3c3c3" stroke="#939393" stroke-width="0.5" opacity="1"/><path d="M1205.3,273.8 L1203.9,272.6 L1202.5,271.5 L1201.2,270.6 L1199.8,269.8 L1198.5,269.1 L1197.2,268.5 L1195.9,267.9 L1194.5,267.5 L1193.2,267.2 L1191.8,267.0 L1190.3,266.8 L1188.8,266.8 L1188.6,267.0 L1189.3,268.5 L1190.2,269.7 L1191.3,270.8 L1192.4,271.8 L1193.7,272.6 L1195.1,273.3 L1196.6,273.9 L1198.2,274.3 L1199.8,274.5 L1201.6,274.6 L1203.3,274.5 L1205.2,274.1Z" fill="#c3c3c3" stroke="#939393" stroke-width="0.5" opacity="1"/><path d="M1333.9,283.6 L1348.0,283.6 L1344.0,237.2 L1337.0,237.2Z" fill="#b0ac9c" stroke="#7f7b6f" stroke-width="0.6"/><path d="M1336.1,245.4 Q1340.3,242.3 1345.8,240.5" fill="none" stroke="#86826f" stroke-width="0.7" stroke-linecap="round" opacity="1"/><path d="M1336.2,251.5 Q1340.3,248.4 1345.7,246.7" fill="none" stroke="#86826f" stroke-width="0.7" stroke-linecap="round" opacity="1"/><path d="M1336.3,257.7 Q1340.3,254.6 1345.6,252.9" fill="none" stroke="#86826f" stroke-width="0.7" stroke-linecap="round" opacity="1"/><path d="M1336.4,263.9 Q1340.3,260.8 1345.5,259.1" fill="none" stroke="#86826f" stroke-width="0.7" stroke-linecap="round" opacity="1"/><path d="M1336.5,270.1 Q1340.3,267.0 1345.4,265.2" fill="none" stroke="#86826f" stroke-width="0.7" stroke-linecap="round" opacity="1"/><path d="M1336.6,276.3 Q1340.3,273.2 1345.3,271.4" fill="none" stroke="#86826f" stroke-width="0.7" stroke-linecap="round" opacity="1"/><path d="M1336.8,282.5 Q1340.3,279.4 1345.2,277.6" fill="none" stroke="#86826f" stroke-width="0.7" stroke-linecap="round" opacity="1"/><path d="M1340.3,238.3 Q1335.7,228.3 1331.0,216.2" fill="none" stroke="#9a9686" stroke-width="2.0" stroke-linecap="round" opacity="1"/><path d="M1331.1,216.1 L1331.1,211.9 L1330.5,208.0 L1329.6,204.2 L1328.4,200.7 L1327.0,197.4 L1325.3,194.3 L1323.3,191.4 L1321.0,188.8 L1318.4,186.4 L1315.6,184.2 L1312.6,182.3 L1309.0,180.8 L1308.8,180.9 L1308.9,184.8 L1309.6,188.3 L1310.5,191.6 L1311.6,194.9 L1313.0,198.0 L1314.7,200.9 L1316.6,203.8 L1318.9,206.5 L1321.4,209.1 L1324.2,211.7 L1327.3,214.1 L1330.9,216.3Z" fill="#b9b5a8" stroke="#86826f" stroke-width="0.6" opacity="1"/><path d="M1331.0,216.2 Q1320.0,196.7 1308.9,180.8" fill="none" stroke="#d6d3c9" stroke-width="0.7" stroke-linecap="round" opacity="1"/><path d="M1340.3,238.3 Q1344.5,228.3 1348.7,216.2" fill="none" stroke="#9a9686" stroke-width="2.0" stroke-linecap="round" opacity="1"/><path d="M1348.8,216.3 L1352.7,214.4 L1356.1,212.1 L1359.2,209.8 L1362.0,207.3 L1364.6,204.7 L1366.9,202.0 L1368.9,199.1 L1370.7,196.1 L1372.3,192.9 L1373.6,189.5 L1374.7,186.0 L1375.3,182.0 L1375.1,181.8 L1371.3,183.1 L1368.0,184.8 L1364.9,186.8 L1362.0,189.1 L1359.4,191.6 L1357.0,194.4 L1354.9,197.4 L1353.1,200.6 L1351.5,204.1 L1350.2,207.8 L1349.1,211.8 L1348.6,216.1Z" fill="#b9b5a8" stroke="#86826f" stroke-width="0.6" opacity="1"/><path d="M1348.7,216.2 Q1361.9,197.3 1375.2,181.9" fill="none" stroke="#d6d3c9" stroke-width="0.7" stroke-linecap="round" opacity="1"/><path d="M1340.3,238.3 Q1333.4,231.7 1326.6,222.8" fill="none" stroke="#9a9686" stroke-width="2.0" stroke-linecap="round" opacity="1"/><path d="M1326.7,222.7 L1326.2,219.5 L1325.3,216.8 L1324.1,214.3 L1322.7,212.1 L1321.1,210.1 L1319.3,208.4 L1317.3,207.0 L1315.1,206.0 L1312.7,205.2 L1310.2,204.7 L1307.5,204.6 L1304.6,205.0 L1304.4,205.3 L1305.2,208.1 L1306.2,210.5 L1307.4,212.6 L1308.7,214.5 L1310.1,216.3 L1311.8,217.8 L1313.7,219.1 L1315.8,220.2 L1318.1,221.2 L1320.6,222.0 L1323.3,222.6 L1326.5,222.9Z" fill="#b9b5a8" stroke="#86826f" stroke-width="0.6" opacity="1"/><path d="M1326.6,222.8 Q1315.5,212.2 1304.5,205.1" fill="none" stroke="#d6d3c9" stroke-width="0.7" stroke-linecap="round" opacity="1"/><path d="M1340.3,238.3 Q1346.7,230.0 1353.1,219.5" fill="none" stroke="#9a9686" stroke-width="2.0" stroke-linecap="round" opacity="1"/><path d="M1353.2,219.6 L1356.5,219.5 L1359.4,219.1 L1362.1,218.4 L1364.6,217.6 L1367.0,216.6 L1369.1,215.3 L1371.0,213.9 L1372.8,212.2 L1374.5,210.4 L1376.0,208.3 L1377.4,205.9 L1378.6,203.1 L1378.4,202.8 L1375.4,202.2 L1372.6,202.1 L1369.9,202.5 L1367.3,203.1 L1364.8,204.0 L1362.5,205.3 L1360.4,206.9 L1358.5,208.8 L1356.8,211.0 L1355.3,213.4 L1353.9,216.2 L1353.0,219.4Z" fill="#b9b5a8" stroke="#86826f" stroke-width="0.6" opacity="1"/><path d="M1353.1,219.5 Q1365.8,209.5 1378.5,202.9" fill="none" stroke="#d6d3c9" stroke-width="0.7" stroke-linecap="round" opacity="1"/><path d="M1340.3,238.3 Q1335.7,234.4 1331.0,228.3" fill="none" stroke="#9a9686" stroke-width="2.0" stroke-linecap="round" opacity="1"/><path d="M1331.1,228.2 L1329.5,225.7 L1327.6,223.9 L1325.7,222.3 L1323.6,221.1 L1321.5,220.2 L1319.3,219.6 L1317.0,219.4 L1314.7,219.5 L1312.4,220.0 L1310.1,220.8 L1307.8,222.0 L1305.6,223.8 L1305.6,224.1 L1307.6,226.1 L1309.6,227.5 L1311.5,228.7 L1313.4,229.7 L1315.4,230.4 L1317.3,230.9 L1319.4,231.1 L1321.4,231.1 L1323.6,230.8 L1325.9,230.3 L1328.3,229.7 L1331.0,228.5Z" fill="#b9b5a8" stroke="#86826f" stroke-width="0.6" opacity="1"/><path d="M1331.0,228.3 Q1318.3,224.4 1305.6,223.9" fill="none" stroke="#d6d3c9" stroke-width="0.7" stroke-linecap="round" opacity="1"/><path d="M1340.3,238.3 Q1347.8,233.9 1355.3,227.2" fill="none" stroke="#9a9686" stroke-width="2.0" stroke-linecap="round" opacity="1"/><path d="M1355.3,227.4 L1357.7,228.9 L1359.8,229.9 L1361.9,230.6 L1363.9,231.2 L1365.8,231.5 L1367.7,231.5 L1369.6,231.3 L1371.5,230.8 L1373.4,230.1 L1375.4,229.2 L1377.4,228.0 L1379.6,226.3 L1379.6,226.0 L1377.8,223.9 L1375.7,222.5 L1373.7,221.4 L1371.5,220.6 L1369.4,220.2 L1367.2,220.1 L1365.1,220.4 L1362.9,221.0 L1360.9,222.0 L1358.9,223.2 L1357.0,224.9 L1355.3,227.1Z" fill="#b9b5a8" stroke="#86826f" stroke-width="0.6" opacity="1"/><path d="M1355.3,227.2 Q1367.5,224.9 1379.6,226.1" fill="none" stroke="#d6d3c9" stroke-width="0.7" stroke-linecap="round" opacity="1"/><path d="M1340.3,238.3 Q1335.7,237.2 1331.0,233.9" fill="none" stroke="#9a9686" stroke-width="2.0" stroke-linecap="round" opacity="1"/><path d="M1331.0,233.7 L1328.4,232.9 L1326.0,232.6 L1323.6,232.6 L1321.3,232.9 L1319.1,233.5 L1317.0,234.5 L1315.1,235.7 L1313.2,237.2 L1311.6,238.9 L1310.1,240.9 L1308.7,243.2 L1307.7,245.9 L1307.9,246.1 L1310.8,246.3 L1313.3,246.1 L1315.7,245.7 L1317.9,245.2 L1319.9,244.5 L1321.8,243.7 L1323.6,242.6 L1325.3,241.3 L1326.8,239.9 L1328.3,238.2 L1329.8,236.3 L1331.1,234.0Z" fill="#b9b5a8" stroke="#86826f" stroke-width="0.6" opacity="1"/><path d="M1331.0,233.9 Q1319.4,238.2 1307.8,246.0" fill="none" stroke="#d6d3c9" stroke-width="0.7" stroke-linecap="round" opacity="1"/><path d="M1340.3,238.3 Q1340.1,229.4 1339.9,218.4" fill="none" stroke="#9a9686" stroke-width="2.0" stroke-linecap="round" opacity="1"/><path d="M1340.0,218.4 L1342.3,215.1 L1344.0,211.9 L1345.4,208.6 L1346.4,205.4 L1347.1,202.3 L1347.5,199.1 L1347.5,196.0 L1347.1,192.9 L1346.5,189.9 L1345.5,186.8 L1344.2,183.8 L1342.2,180.8 L1341.9,180.8 L1339.6,183.6 L1337.9,186.4 L1336.5,189.3 L1335.5,192.2 L1334.8,195.3 L1334.5,198.4 L1334.4,201.5 L1334.8,204.8 L1335.4,208.1 L1336.4,211.4 L1337.7,214.9 L1339.7,218.4Z" fill="#b9b5a8" stroke="#86826f" stroke-width="0.6" opacity="1"/><path d="M1339.9,218.4 Q1341.0,197.9 1342.1,180.8" fill="none" stroke="#d6d3c9" stroke-width="0.7" stroke-linecap="round" opacity="1"/><line x1="1350.2" y1="229.9" x2="1358.0" y2="236.1" stroke="#8b8778" stroke-width="1.4" stroke-linecap="round" opacity="1"/><ellipse cx="1359.1" cy="240.9" rx="5.5" ry="7.5" fill="#a29e8c" stroke="#6f6b5f" stroke-width="0.6"/><ellipse cx="1360.8" cy="255.5" rx="4.5" ry="6.5" fill="#aca898" stroke="#6f6b5f" stroke-width="0.6"/><path d="M1340.7,280.7 Q1342.6,287.2 1344.5,288.2" fill="none" stroke="#8d897c" stroke-width="0.6" stroke-linecap="round" opacity="1"/><path d="M1340.7,280.7 Q1345.3,288.4 1349.9,289.4" fill="none" stroke="#8d897c" stroke-width="0.6" stroke-linecap="round" opacity="1"/><path d="M1340.7,280.7 Q1344.4,288.3 1348.2,289.3" fill="none" stroke="#8d897c" stroke-width="0.6" stroke-linecap="round" opacity="1"/><path d="M1340.7,280.7 Q1333.5,285.5 1326.2,286.5" fill="none" stroke="#8d897c" stroke-width="0.6" stroke-linecap="round" opacity="1"/><path d="M1340.7,280.7 Q1347.6,286.6 1354.4,287.6" fill="none" stroke="#8d897c" stroke-width="0.6" stroke-linecap="round" opacity="1"/><path d="M1340.7,280.7 Q1346.9,283.3 1353.1,284.3" fill="none" stroke="#8d897c" stroke-width="0.6" stroke-linecap="round" opacity="1"/><path d="M1340.7,280.7 Q1340.3,284.1 1339.8,285.1" fill="none" stroke="#8d897c" stroke-width="0.6" stroke-linecap="round" opacity="1"/><path d="M1340.7,280.7 Q1341.4,286.1 1342.1,287.1" fill="none" stroke="#8d897c" stroke-width="0.6" stroke-linecap="round" opacity="1"/><path d="M1340.7,280.7 Q1333.2,283.9 1325.7,284.9" fill="none" stroke="#8d897c" stroke-width="0.6" stroke-linecap="round" opacity="1"/><path d="M1340.7,280.7 Q1337.3,288.2 1333.9,289.2" fill="none" stroke="#8d897c" stroke-width="0.6" stroke-linecap="round" opacity="1"/><path d="M1340.7,280.7 Q1344.8,283.6 1349.0,284.6" fill="none" stroke="#8d897c" stroke-width="0.6" stroke-linecap="round" opacity="1"/><path d="M1340.7,280.7 Q1345.3,283.4 1349.9,284.4" fill="none" stroke="#8d897c" stroke-width="0.6" stroke-linecap="round" opacity="1"/><path d="M1340.7,280.7 Q1342.6,283.4 1344.4,284.4" fill="none" stroke="#8d897c" stroke-width="0.6" stroke-linecap="round" opacity="1"/><path d="M1340.7,280.7 Q1333.0,288.0 1325.3,289.0" fill="none" stroke="#8d897c" stroke-width="0.6" stroke-linecap="round" opacity="1"/><path d="M1340.7,280.7 Q1336.2,283.9 1331.7,284.9" fill="none" stroke="#8d897c" stroke-width="0.6" stroke-linecap="round" opacity="1"/><path d="M1340.7,280.7 Q1348.2,288.0 1355.7,289.0" fill="none" stroke="#8d897c" stroke-width="0.6" stroke-linecap="round" opacity="1"/><path d="M1340.7,280.7 Q1337.5,288.5 1334.2,289.5" fill="none" stroke="#8d897c" stroke-width="0.6" stroke-linecap="round" opacity="1"/><path d="M1340.7,280.7 Q1341.3,286.8 1341.9,287.8" fill="none" stroke="#8d897c" stroke-width="0.6" stroke-linecap="round" opacity="1"/><line x1="1477.5" y1="238.3" x2="1477.5" y2="293.5" stroke="#9a9a9a" stroke-width="1.8" stroke-linecap="round" opacity="1"/><path d="M1477.7,293.5 L1478.5,288.9 L1479.1,284.3 L1479.5,279.7 L1479.9,275.1 L1480.1,270.5 L1480.2,265.9 L1480.1,261.3 L1479.9,256.7 L1479.5,252.1 L1479.1,247.5 L1478.5,242.9 L1477.7,238.3 L1477.4,238.3 L1476.5,242.9 L1475.9,247.5 L1475.5,252.1 L1475.1,256.7 L1474.9,261.3 L1474.9,265.9 L1474.9,270.5 L1475.1,275.1 L1475.5,279.7 L1475.9,284.3 L1476.5,288.9 L1477.4,293.5Z" fill="#d0d0d0" stroke="#8a8a8a" stroke-width="0.5" opacity="1"/><path d="M1477.7,291.3 L1477.2,282.7 L1476.4,274.9 L1475.4,267.8 L1474.1,261.4 L1472.5,255.7 L1470.6,250.8 L1468.5,246.6 L1466.1,243.2 L1463.3,240.5 L1460.4,238.8 L1457.4,237.9 L1454.3,238.1 L1454.3,238.4 L1457.0,239.4 L1459.3,240.7 L1461.4,242.7 L1463.4,245.2 L1465.4,248.4 L1467.2,252.3 L1469.1,256.9 L1470.9,262.3 L1472.6,268.4 L1474.2,275.3 L1475.8,282.9 L1477.4,291.3Z" fill="#d2d2d2" stroke="#858585" stroke-width="0.5" opacity="1"/><path d="M1477.5,291.3 Q1472.0,238.3 1454.3,238.3" fill="none" stroke="#a0a0a0" stroke-width="0.4" stroke-linecap="round" opacity="1"/><path d="M1477.6,291.3 L1476.5,284.3 L1475.1,278.0 L1473.5,272.3 L1471.8,267.3 L1469.8,263.0 L1467.7,259.3 L1465.4,256.4 L1462.8,254.2 L1460.1,252.7 L1457.3,252.1 L1454.6,252.4 L1452.1,253.6 L1452.1,253.9 L1454.7,253.9 L1456.9,254.4 L1458.9,255.3 L1460.8,256.8 L1462.7,258.8 L1464.6,261.4 L1466.7,264.7 L1468.7,268.7 L1470.8,273.3 L1473.0,278.6 L1475.1,284.7 L1477.4,291.3Z" fill="#d2d2d2" stroke="#858585" stroke-width="0.5" opacity="1"/><path d="M1477.5,291.3 Q1467.6,248.2 1452.1,253.7" fill="none" stroke="#a0a0a0" stroke-width="0.4" stroke-linecap="round" opacity="1"/><path d="M1477.6,291.3 L1476.1,286.0 L1474.4,281.2 L1472.5,277.1 L1470.5,273.4 L1468.4,270.4 L1466.0,267.9 L1463.6,266.0 L1460.9,264.7 L1458.3,264.2 L1455.6,264.4 L1453.2,265.3 L1450.9,266.9 L1451.0,267.1 L1453.6,266.7 L1455.8,266.7 L1457.8,267.0 L1459.7,267.8 L1461.6,269.0 L1463.5,270.6 L1465.6,272.7 L1467.8,275.3 L1470.0,278.5 L1472.4,282.2 L1474.8,286.5 L1477.4,291.4Z" fill="#d2d2d2" stroke="#858585" stroke-width="0.5" opacity="1"/><path d="M1477.5,291.3 Q1465.4,259.3 1451.0,267.0" fill="none" stroke="#a0a0a0" stroke-width="0.4" stroke-linecap="round" opacity="1"/><path d="M1477.6,291.2 L1476.1,287.5 L1474.3,284.2 L1472.4,281.4 L1470.4,279.0 L1468.2,277.1 L1465.8,275.8 L1463.3,275.0 L1460.8,274.9 L1458.4,275.4 L1456.0,276.5 L1453.9,278.0 L1452.0,280.1 L1452.2,280.4 L1454.7,279.3 L1456.9,278.5 L1459.0,278.2 L1460.8,278.2 L1462.6,278.6 L1464.3,279.2 L1466.2,280.2 L1468.2,281.5 L1470.3,283.3 L1472.5,285.5 L1474.9,288.2 L1477.4,291.4Z" fill="#d2d2d2" stroke="#858585" stroke-width="0.5" opacity="1"/><path d="M1477.5,291.3 Q1465.4,269.2 1452.1,280.3" fill="none" stroke="#a0a0a0" stroke-width="0.4" stroke-linecap="round" opacity="1"/><path d="M1477.6,291.2 L1476.6,288.8 L1475.3,286.7 L1473.8,285.0 L1472.2,283.6 L1470.4,282.6 L1468.4,282.0 L1466.4,281.9 L1464.4,282.3 L1462.5,283.1 L1460.7,284.3 L1459.0,285.9 L1457.5,287.9 L1457.7,288.1 L1459.9,287.1 L1461.8,286.3 L1463.5,285.8 L1465.1,285.6 L1466.5,285.5 L1467.8,285.7 L1469.1,286.0 L1470.5,286.5 L1472.1,287.3 L1473.7,288.3 L1475.4,289.7 L1477.4,291.4Z" fill="#d2d2d2" stroke="#858585" stroke-width="0.5" opacity="1"/><path d="M1477.5,291.3 Q1468.7,278.1 1457.6,288.0" fill="none" stroke="#a0a0a0" stroke-width="0.4" stroke-linecap="round" opacity="1"/><path d="M1477.7,291.3 L1479.2,282.6 L1480.7,274.6 L1482.2,267.3 L1483.8,260.9 L1485.4,255.2 L1487.0,250.2 L1488.6,246.0 L1490.2,242.6 L1491.9,239.8 L1493.5,237.7 L1495.3,236.2 L1497.4,235.1 L1497.4,234.8 L1494.8,234.9 L1492.2,236.0 L1489.7,238.0 L1487.4,240.9 L1485.3,244.5 L1483.5,249.0 L1481.9,254.2 L1480.5,260.1 L1479.4,266.8 L1478.5,274.2 L1477.8,282.4 L1477.4,291.3Z" fill="#d2d2d2" stroke="#858585" stroke-width="0.5" opacity="1"/><path d="M1477.5,291.3 Q1483.0,236.1 1497.4,235.0" fill="none" stroke="#a0a0a0" stroke-width="0.4" stroke-linecap="round" opacity="1"/><path d="M1477.7,291.3 L1479.7,284.2 L1481.7,277.8 L1483.6,272.0 L1485.5,266.8 L1487.4,262.3 L1489.3,258.5 L1491.1,255.2 L1492.8,252.6 L1494.5,250.6 L1496.3,249.0 L1498.1,248.0 L1500.3,247.3 L1500.3,247.0 L1497.8,246.5 L1495.3,247.0 L1492.7,248.4 L1490.3,250.5 L1488.0,253.3 L1486.0,256.8 L1484.1,260.9 L1482.4,265.7 L1480.9,271.2 L1479.5,277.2 L1478.3,283.9 L1477.4,291.3Z" fill="#d2d2d2" stroke="#858585" stroke-width="0.5" opacity="1"/><path d="M1477.5,291.3 Q1486.3,246.0 1500.3,247.1" fill="none" stroke="#a0a0a0" stroke-width="0.4" stroke-linecap="round" opacity="1"/><path d="M1477.6,291.4 L1480.2,285.9 L1482.6,281.0 L1485.0,276.6 L1487.2,272.7 L1489.4,269.4 L1491.5,266.5 L1493.5,264.1 L1495.4,262.2 L1497.3,260.7 L1499.2,259.6 L1501.1,258.8 L1503.3,258.3 L1503.4,258.0 L1501.0,257.3 L1498.5,257.4 L1495.9,258.1 L1493.4,259.6 L1490.9,261.6 L1488.6,264.2 L1486.4,267.4 L1484.3,271.1 L1482.4,275.4 L1480.6,280.1 L1478.9,285.4 L1477.4,291.3Z" fill="#d2d2d2" stroke="#858585" stroke-width="0.5" opacity="1"/><path d="M1477.5,291.3 Q1489.7,256.0 1503.4,258.2" fill="none" stroke="#a0a0a0" stroke-width="0.4" stroke-linecap="round" opacity="1"/><path d="M1477.6,291.4 L1480.5,287.7 L1483.2,284.3 L1485.7,281.4 L1488.1,278.8 L1490.4,276.6 L1492.6,274.8 L1494.7,273.4 L1496.6,272.2 L1498.5,271.4 L1500.4,270.8 L1502.4,270.5 L1504.6,270.5 L1504.7,270.2 L1502.6,269.1 L1500.3,268.6 L1497.9,268.6 L1495.3,269.2 L1492.8,270.3 L1490.3,271.9 L1488.0,274.0 L1485.7,276.6 L1483.5,279.6 L1481.3,283.0 L1479.3,286.9 L1477.4,291.2Z" fill="#d2d2d2" stroke="#858585" stroke-width="0.5" opacity="1"/><path d="M1477.5,291.3 Q1491.9,265.9 1504.7,270.3" fill="none" stroke="#a0a0a0" stroke-width="0.4" stroke-linecap="round" opacity="1"/><path d="M1477.6,291.4 L1479.9,289.4 L1482.0,287.6 L1483.9,286.2 L1485.7,285.1 L1487.4,284.3 L1488.9,283.7 L1490.4,283.3 L1491.8,283.2 L1493.3,283.2 L1495.0,283.4 L1496.8,284.0 L1498.8,284.8 L1499.0,284.6 L1497.6,282.8 L1495.9,281.4 L1494.1,280.4 L1492.1,279.8 L1489.9,279.7 L1487.8,280.2 L1485.8,281.0 L1483.9,282.3 L1482.0,284.0 L1480.4,286.1 L1478.8,288.4 L1477.4,291.2Z" fill="#d2d2d2" stroke="#858585" stroke-width="0.5" opacity="1"/><path d="M1477.5,291.3 Q1488.6,275.8 1498.9,284.7" fill="none" stroke="#a0a0a0" stroke-width="0.4" stroke-linecap="round" opacity="1"/><path d="M1477.7,291.3 L1477.8,283.9 L1477.7,277.0 L1477.5,270.9 L1477.1,265.3 L1476.5,260.4 L1475.7,256.1 L1474.8,252.5 L1473.7,249.5 L1472.3,247.1 L1470.8,245.5 L1469.2,244.6 L1467.6,244.8 L1467.5,245.1 L1468.5,245.9 L1469.1,246.9 L1469.8,248.5 L1470.5,250.7 L1471.3,253.5 L1472.1,256.9 L1472.9,261.0 L1473.8,265.7 L1474.6,271.2 L1475.5,277.2 L1476.4,283.9 L1477.4,291.3Z" fill="#d2d2d2" stroke="#858585" stroke-width="0.5" opacity="1"/><path d="M1477.5,291.3 Q1475.3,244.9 1467.6,244.9" fill="none" stroke="#a0a0a0" stroke-width="0.4" stroke-linecap="round" opacity="1"/><path d="M1477.7,291.3 L1478.7,283.6 L1479.7,276.6 L1480.7,270.2 L1481.6,264.5 L1482.5,259.5 L1483.3,255.2 L1484.2,251.6 L1485.0,248.7 L1485.7,246.4 L1486.4,244.8 L1487.0,243.7 L1487.9,242.8 L1487.8,242.6 L1486.3,242.4 L1484.6,243.3 L1483.1,245.1 L1481.8,247.5 L1480.7,250.7 L1479.7,254.5 L1478.9,258.9 L1478.3,264.1 L1477.8,269.9 L1477.5,276.4 L1477.3,283.5 L1477.4,291.3Z" fill="#d2d2d2" stroke="#858585" stroke-width="0.5" opacity="1"/><path d="M1477.5,291.3 Q1480.4,242.7 1487.9,242.7" fill="none" stroke="#a0a0a0" stroke-width="0.4" stroke-linecap="round" opacity="1"/><path d="M1477.6,215.0 L1477.1,213.0 L1476.4,211.1 L1475.6,209.2 L1474.7,207.3 L1473.8,205.5 L1472.9,203.8 L1471.8,202.0 L1470.7,200.3 L1469.5,198.7 L1468.3,197.1 L1466.9,195.5 L1465.5,194.0 L1465.2,194.2 L1465.8,196.2 L1466.5,198.1 L1467.3,200.0 L1468.1,201.8 L1469.0,203.6 L1470.0,205.4 L1471.0,207.1 L1472.2,208.8 L1473.4,210.5 L1474.6,212.1 L1475.9,213.7 L1477.4,215.2Z" fill="#cbcbcb" stroke="#8a8a8a" stroke-width="0.5" opacity="1"/><path d="M1477.6,215.0 L1477.6,212.7 L1477.4,210.4 L1477.1,208.1 L1476.7,205.9 L1476.3,203.6 L1475.8,201.4 L1475.2,199.2 L1474.5,197.0 L1473.8,194.9 L1473.0,192.7 L1472.1,190.6 L1471.0,188.5 L1470.7,188.6 L1470.8,190.9 L1471.0,193.2 L1471.3,195.5 L1471.6,197.8 L1472.1,200.0 L1472.6,202.2 L1473.2,204.4 L1473.9,206.6 L1474.6,208.8 L1475.4,210.9 L1476.3,213.0 L1477.4,215.1Z" fill="#cbcbcb" stroke="#8a8a8a" stroke-width="0.5" opacity="1"/><path d="M1477.7,215.1 L1478.2,212.7 L1478.5,210.3 L1478.8,207.9 L1479.0,205.5 L1479.1,203.1 L1479.2,200.7 L1479.1,198.3 L1479.0,195.9 L1478.8,193.5 L1478.5,191.1 L1478.2,188.8 L1477.7,186.4 L1477.4,186.4 L1476.8,188.8 L1476.5,191.1 L1476.2,193.5 L1476.0,195.9 L1475.9,198.3 L1475.9,200.7 L1475.9,203.1 L1476.0,205.5 L1476.2,207.9 L1476.5,210.3 L1476.8,212.7 L1477.4,215.1Z" fill="#cbcbcb" stroke="#8a8a8a" stroke-width="0.5" opacity="1"/><path d="M1477.6,215.1 L1478.7,213.1 L1479.6,211.1 L1480.4,209.1 L1481.2,207.0 L1481.8,204.9 L1482.4,202.8 L1482.9,200.7 L1483.4,198.5 L1483.7,196.4 L1484.0,194.2 L1484.2,192.0 L1484.3,189.7 L1484.0,189.6 L1482.9,191.6 L1482.0,193.7 L1481.2,195.7 L1480.5,197.8 L1479.8,199.9 L1479.2,202.0 L1478.7,204.1 L1478.3,206.2 L1477.9,208.4 L1477.6,210.6 L1477.4,212.8 L1477.4,215.0Z" fill="#cbcbcb" stroke="#8a8a8a" stroke-width="0.5" opacity="1"/><path d="M1477.6,215.2 L1479.1,213.6 L1480.4,211.9 L1481.7,210.2 L1482.9,208.4 L1484.0,206.7 L1485.0,204.8 L1486.0,203.0 L1486.9,201.1 L1487.7,199.1 L1488.5,197.2 L1489.2,195.1 L1489.8,193.1 L1489.5,192.9 L1488.1,194.5 L1486.7,196.2 L1485.5,197.9 L1484.3,199.6 L1483.2,201.4 L1482.1,203.2 L1481.2,205.1 L1480.3,207.0 L1479.4,208.9 L1478.6,210.9 L1477.9,212.9 L1477.4,215.0Z" fill="#cbcbcb" stroke="#8a8a8a" stroke-width="0.5" opacity="1"/><path d="M1477.6,215.0 L1476.7,213.7 L1475.7,212.6 L1474.6,211.5 L1473.6,210.5 L1472.4,209.6 L1471.3,208.8 L1470.0,208.0 L1468.8,207.2 L1467.5,206.6 L1466.1,206.0 L1464.7,205.4 L1463.2,205.0 L1463.1,205.3 L1464.0,206.5 L1465.0,207.6 L1466.0,208.7 L1467.1,209.7 L1468.2,210.6 L1469.4,211.5 L1470.6,212.3 L1471.9,213.0 L1473.2,213.7 L1474.5,214.3 L1475.9,214.8 L1477.4,215.2Z" fill="#cbcbcb" stroke="#8a8a8a" stroke-width="0.5" opacity="1"/><path d="M1477.6,215.2 L1479.1,214.6 L1480.6,213.8 L1481.9,213.0 L1483.3,212.2 L1484.5,211.2 L1485.7,210.3 L1486.9,209.2 L1488.0,208.1 L1489.1,207.0 L1490.1,205.7 L1491.1,204.4 L1492.0,203.0 L1491.8,202.8 L1490.2,203.4 L1488.8,204.2 L1487.4,205.0 L1486.1,205.8 L1484.8,206.8 L1483.6,207.7 L1482.4,208.8 L1481.3,209.9 L1480.3,211.1 L1479.2,212.3 L1478.3,213.6 L1477.4,215.0Z" fill="#cbcbcb" stroke="#8a8a8a" stroke-width="0.5" opacity="1"/><path d="M1477.6,214.9 L1476.9,214.1 L1476.3,213.4 L1475.5,212.8 L1474.8,212.3 L1474.0,211.8 L1473.2,211.4 L1472.4,211.0 L1471.5,210.8 L1470.6,210.6 L1469.6,210.5 L1468.7,210.4 L1467.6,210.5 L1467.5,210.8 L1468.1,211.6 L1468.8,212.3 L1469.5,212.9 L1470.3,213.5 L1471.1,214.0 L1471.9,214.4 L1472.7,214.7 L1473.6,215.0 L1474.5,215.2 L1475.4,215.3 L1476.4,215.3 L1477.4,215.2Z" fill="#cbcbcb" stroke="#8a8a8a" stroke-width="0.5" opacity="1"/><path d="M1477.6,215.2 L1478.7,215.2 L1479.7,215.1 L1480.7,214.8 L1481.7,214.6 L1482.6,214.2 L1483.5,213.8 L1484.3,213.3 L1485.1,212.7 L1485.9,212.1 L1486.6,211.4 L1487.3,210.6 L1488.0,209.7 L1487.8,209.4 L1486.7,209.4 L1485.7,209.6 L1484.7,209.8 L1483.7,210.1 L1482.8,210.4 L1481.9,210.9 L1481.1,211.4 L1480.3,211.9 L1479.5,212.6 L1478.8,213.3 L1478.1,214.0 L1477.4,215.0Z" fill="#cbcbcb" stroke="#8a8a8a" stroke-width="0.5" opacity="1"/><path d="M1477.7,215.1 L1477.9,213.1 L1478.0,211.1 L1477.9,209.1 L1477.9,207.1 L1477.7,205.2 L1477.5,203.3 L1477.2,201.3 L1476.8,199.4 L1476.3,197.5 L1475.7,195.6 L1475.1,193.7 L1474.3,191.9 L1474.0,191.9 L1473.8,193.9 L1473.7,195.9 L1473.7,197.9 L1473.8,199.8 L1474.0,201.8 L1474.2,203.7 L1474.5,205.6 L1474.9,207.6 L1475.4,209.5 L1475.9,211.4 L1476.6,213.2 L1477.4,215.1Z" fill="#cbcbcb" stroke="#8a8a8a" stroke-width="0.5" opacity="1"/><path d="M1477.7,215.1 L1478.4,213.3 L1479.1,211.6 L1479.6,209.8 L1480.1,207.9 L1480.5,206.1 L1480.8,204.3 L1481.0,202.4 L1481.2,200.6 L1481.3,198.7 L1481.3,196.8 L1481.2,194.9 L1481.0,193.0 L1480.7,193.0 L1479.9,194.7 L1479.3,196.5 L1478.7,198.3 L1478.2,200.1 L1477.8,202.0 L1477.5,203.8 L1477.3,205.6 L1477.1,207.5 L1477.1,209.4 L1477.1,211.3 L1477.1,213.1 L1477.4,215.1Z" fill="#cbcbcb" stroke="#8a8a8a" stroke-width="0.5" opacity="1"/><ellipse cx="1477.5" cy="225.5" rx="10.5" ry="14" fill="#c4c4c4" stroke="#777" stroke-width="0.8"/><clipPath id="cp"><ellipse cx="1477.5" cy="225.5" rx="10.5" ry="14"/></clipPath><g clip-path="url(#cp)"><line x1="1443.5" y1="211.5" x2="1471.5" y2="239.5" stroke="#858585" stroke-width="0.6" stroke-linecap="round" opacity="1"/><line x1="1471.5" y1="211.5" x2="1443.5" y2="239.5" stroke="#858585" stroke-width="0.6" stroke-linecap="round" opacity="1"/><line x1="1448.5" y1="211.5" x2="1476.5" y2="239.5" stroke="#858585" stroke-width="0.6" stroke-linecap="round" opacity="1"/><line x1="1476.5" y1="211.5" x2="1448.5" y2="239.5" stroke="#858585" stroke-width="0.6" stroke-linecap="round" opacity="1"/><line x1="1453.5" y1="211.5" x2="1481.5" y2="239.5" stroke="#858585" stroke-width="0.6" stroke-linecap="round" opacity="1"/><line x1="1481.5" y1="211.5" x2="1453.5" y2="239.5" stroke="#858585" stroke-width="0.6" stroke-linecap="round" opacity="1"/><line x1="1458.5" y1="211.5" x2="1486.5" y2="239.5" stroke="#858585" stroke-width="0.6" stroke-linecap="round" opacity="1"/><line x1="1486.5" y1="211.5" x2="1458.5" y2="239.5" stroke="#858585" stroke-width="0.6" stroke-linecap="round" opacity="1"/><line x1="1463.5" y1="211.5" x2="1491.5" y2="239.5" stroke="#858585" stroke-width="0.6" stroke-linecap="round" opacity="1"/><line x1="1491.5" y1="211.5" x2="1463.5" y2="239.5" stroke="#858585" stroke-width="0.6" stroke-linecap="round" opacity="1"/><line x1="1468.5" y1="211.5" x2="1496.5" y2="239.5" stroke="#858585" stroke-width="0.6" stroke-linecap="round" opacity="1"/><line x1="1496.5" y1="211.5" x2="1468.5" y2="239.5" stroke="#858585" stroke-width="0.6" stroke-linecap="round" opacity="1"/><line x1="1473.5" y1="211.5" x2="1501.5" y2="239.5" stroke="#858585" stroke-width="0.6" stroke-linecap="round" opacity="1"/><line x1="1501.5" y1="211.5" x2="1473.5" y2="239.5" stroke="#858585" stroke-width="0.6" stroke-linecap="round" opacity="1"/><line x1="1478.5" y1="211.5" x2="1506.5" y2="239.5" stroke="#858585" stroke-width="0.6" stroke-linecap="round" opacity="1"/><line x1="1506.5" y1="211.5" x2="1478.5" y2="239.5" stroke="#858585" stroke-width="0.6" stroke-linecap="round" opacity="1"/><line x1="1483.5" y1="211.5" x2="1511.5" y2="239.5" stroke="#858585" stroke-width="0.6" stroke-linecap="round" opacity="1"/><line x1="1511.5" y1="211.5" x2="1483.5" y2="239.5" stroke="#858585" stroke-width="0.6" stroke-linecap="round" opacity="1"/></g><path d="M1612.0,293.1 L1611.4,280.5 L1610.5,268.6 L1609.4,257.4 L1608.1,246.7 L1606.6,236.6 L1604.9,227.2 L1603.0,218.4 L1600.9,210.3 L1598.6,202.8 L1596.2,195.9 L1593.5,189.6 L1590.5,184.1 L1590.3,184.2 L1592.7,190.0 L1595.1,196.3 L1597.3,203.2 L1599.4,210.7 L1601.3,218.8 L1603.2,227.6 L1604.9,236.9 L1606.5,246.9 L1608.0,257.5 L1609.3,268.8 L1610.5,280.6 L1611.7,293.1Z" fill="#acaa9a" stroke="#9a988a" stroke-width="0.35" opacity="1"/><path d="M1612.0,293.1 L1612.0,282.3 L1611.8,272.0 L1611.5,262.2 L1611.1,252.8 L1610.5,243.8 L1609.9,235.3 L1609.2,227.3 L1608.3,219.7 L1607.4,212.6 L1606.3,206.0 L1605.1,199.8 L1603.8,194.1 L1603.5,194.1 L1604.3,199.9 L1605.2,206.1 L1605.9,212.8 L1606.7,219.9 L1607.4,227.5 L1608.1,235.5 L1608.8,243.9 L1609.4,252.9 L1610.0,262.2 L1610.6,272.1 L1611.1,282.3 L1611.7,293.1Z" fill="#acaa9a" stroke="#9a988a" stroke-width="0.35" opacity="1"/><path d="M1612.0,293.1 L1612.2,284.1 L1612.4,275.4 L1612.6,266.9 L1612.7,258.7 L1612.8,250.8 L1612.9,243.2 L1612.9,235.8 L1613.0,228.7 L1612.9,221.8 L1612.9,215.3 L1612.8,209.0 L1612.7,202.9 L1612.4,202.9 L1612.0,209.0 L1611.7,215.2 L1611.5,221.8 L1611.3,228.7 L1611.2,235.8 L1611.1,243.1 L1611.1,250.8 L1611.1,258.7 L1611.2,266.9 L1611.3,275.4 L1611.4,284.1 L1611.7,293.1Z" fill="#acaa9a" stroke="#9a988a" stroke-width="0.35" opacity="1"/><path d="M1612.0,293.0 L1609.9,284.1 L1607.6,275.7 L1605.1,267.9 L1602.4,260.6 L1599.6,253.9 L1596.6,247.7 L1593.4,242.1 L1590.0,237.0 L1586.5,232.6 L1582.8,228.7 L1579.0,225.4 L1575.0,222.7 L1574.9,222.9 L1578.5,226.0 L1582.0,229.5 L1585.4,233.5 L1588.7,238.0 L1591.9,243.0 L1595.0,248.5 L1598.0,254.6 L1600.9,261.2 L1603.7,268.4 L1606.5,276.1 L1609.1,284.3 L1611.7,293.1Z" fill="#acaa9a" stroke="#9a988a" stroke-width="0.35" opacity="1"/><path d="M1612.0,293.0 L1609.9,286.2 L1607.6,279.9 L1605.1,273.9 L1602.5,268.4 L1599.7,263.3 L1596.8,258.7 L1593.7,254.5 L1590.4,250.7 L1587.1,247.4 L1583.5,244.6 L1579.9,242.2 L1576.1,240.4 L1576.0,240.6 L1579.5,242.9 L1582.8,245.5 L1586.1,248.4 L1589.2,251.8 L1592.3,255.5 L1595.3,259.7 L1598.2,264.2 L1601.1,269.2 L1603.8,274.5 L1606.5,280.3 L1609.1,286.5 L1611.7,293.1Z" fill="#acaa9a" stroke="#9a988a" stroke-width="0.35" opacity="1"/><path d="M1612.0,293.0 L1610.6,288.4 L1609.1,284.1 L1607.5,280.0 L1605.7,276.4 L1603.8,273.0 L1601.7,270.0 L1599.6,267.3 L1597.3,264.9 L1594.9,262.9 L1592.4,261.3 L1589.8,260.0 L1587.2,259.1 L1587.0,259.4 L1589.4,260.7 L1591.8,262.2 L1594.0,264.0 L1596.1,266.1 L1598.2,268.4 L1600.3,271.0 L1602.3,273.9 L1604.2,277.1 L1606.2,280.7 L1608.0,284.5 L1609.9,288.7 L1611.7,293.1Z" fill="#acaa9a" stroke="#9a988a" stroke-width="0.35" opacity="1"/><path d="M1612.0,293.0 L1610.2,290.1 L1608.2,287.4 L1606.1,285.0 L1603.8,282.9 L1601.3,281.0 L1598.7,279.4 L1595.9,278.0 L1593.1,277.0 L1590.1,276.2 L1587.0,275.7 L1583.8,275.6 L1580.5,275.7 L1580.5,276.0 L1583.7,276.4 L1586.8,276.9 L1589.7,277.6 L1592.5,278.5 L1595.2,279.6 L1597.8,280.9 L1600.3,282.4 L1602.7,284.1 L1605.1,286.1 L1607.3,288.2 L1609.5,290.6 L1611.7,293.2Z" fill="#acaa9a" stroke="#9a988a" stroke-width="0.35" opacity="1"/><path d="M1612.0,293.0 L1611.0,291.2 L1609.8,289.6 L1608.5,288.2 L1607.1,287.0 L1605.7,286.1 L1604.1,285.4 L1602.4,285.0 L1600.7,284.8 L1599.0,284.9 L1597.2,285.3 L1595.4,285.9 L1593.7,286.8 L1593.8,287.0 L1595.7,286.6 L1597.4,286.4 L1599.0,286.3 L1600.6,286.4 L1602.1,286.7 L1603.5,287.1 L1604.9,287.6 L1606.2,288.4 L1607.6,289.3 L1609.0,290.4 L1610.3,291.7 L1611.7,293.2Z" fill="#acaa9a" stroke="#9a988a" stroke-width="0.35" opacity="1"/><path d="M1612.0,293.1 L1613.8,283.2 L1615.8,273.8 L1618.1,264.9 L1620.6,256.5 L1623.4,248.6 L1626.4,241.3 L1629.7,234.5 L1633.3,228.1 L1637.1,222.2 L1641.2,216.9 L1645.5,211.9 L1650.2,207.5 L1650.0,207.2 L1645.0,211.4 L1640.3,216.1 L1635.9,221.4 L1631.9,227.2 L1628.1,233.6 L1624.8,240.6 L1621.7,248.0 L1619.0,256.0 L1616.7,264.5 L1614.7,273.5 L1613.0,283.0 L1611.7,293.1Z" fill="#acaa9a" stroke="#9a988a" stroke-width="0.35" opacity="1"/><path d="M1612.0,293.1 L1614.1,285.4 L1616.3,278.2 L1618.7,271.4 L1621.3,265.2 L1624.0,259.4 L1626.9,254.1 L1630.0,249.3 L1633.2,244.9 L1636.6,241.0 L1640.2,237.5 L1643.9,234.4 L1647.9,231.8 L1647.8,231.5 L1643.5,233.8 L1639.4,236.6 L1635.6,240.0 L1631.9,243.9 L1628.5,248.3 L1625.4,253.2 L1622.5,258.6 L1619.8,264.5 L1617.4,270.9 L1615.2,277.8 L1613.3,285.2 L1611.7,293.0Z" fill="#acaa9a" stroke="#9a988a" stroke-width="0.35" opacity="1"/><path d="M1612.0,293.1 L1614.4,288.0 L1617.0,283.3 L1619.6,278.9 L1622.4,275.0 L1625.4,271.5 L1628.4,268.4 L1631.6,265.6 L1635.0,263.2 L1638.5,261.2 L1642.1,259.5 L1646.0,258.2 L1650.1,257.2 L1650.0,256.9 L1645.8,257.4 L1641.8,258.4 L1637.8,259.9 L1634.1,261.8 L1630.5,264.2 L1627.2,267.1 L1624.0,270.3 L1621.1,274.1 L1618.4,278.2 L1616.0,282.7 L1613.7,287.7 L1611.7,293.0Z" fill="#acaa9a" stroke="#9a988a" stroke-width="0.35" opacity="1"/><path d="M1612.0,293.1 L1613.7,290.2 L1615.4,287.4 L1617.2,285.0 L1619.1,282.8 L1621.0,280.9 L1623.1,279.2 L1625.2,277.8 L1627.5,276.5 L1629.9,275.5 L1632.4,274.7 L1635.1,274.2 L1637.9,273.8 L1637.9,273.5 L1635.0,273.4 L1632.2,273.6 L1629.4,274.2 L1626.8,275.0 L1624.3,276.3 L1622.0,277.8 L1619.9,279.6 L1617.9,281.7 L1616.0,284.1 L1614.4,286.8 L1612.9,289.8 L1611.7,293.0Z" fill="#acaa9a" stroke="#9a988a" stroke-width="0.35" opacity="1"/><path d="M1612.0,293.2 L1613.2,291.6 L1614.4,290.2 L1615.5,289.0 L1616.6,288.0 L1617.6,287.1 L1618.6,286.4 L1619.6,285.9 L1620.5,285.4 L1621.5,285.1 L1622.5,284.9 L1623.5,284.8 L1624.6,284.8 L1624.7,284.5 L1623.6,284.0 L1622.5,283.7 L1621.3,283.7 L1620.0,283.9 L1618.8,284.3 L1617.6,284.9 L1616.5,285.8 L1615.4,286.9 L1614.4,288.1 L1613.4,289.6 L1612.5,291.2 L1611.7,293.0Z" fill="#acaa9a" stroke="#9a988a" stroke-width="0.35" opacity="1"/><path d="M1612.0,293.1 L1612.8,285.3 L1613.7,277.8 L1614.7,270.7 L1615.8,264.0 L1617.1,257.6 L1618.5,251.6 L1619.9,246.0 L1621.6,240.7 L1623.3,235.8 L1625.1,231.2 L1627.1,226.9 L1629.2,222.9 L1628.9,222.7 L1626.4,226.5 L1624.1,230.7 L1621.9,235.2 L1620.0,240.2 L1618.3,245.5 L1616.7,251.2 L1615.4,257.3 L1614.2,263.7 L1613.3,270.5 L1612.5,277.7 L1612.0,285.2 L1611.7,293.1Z" fill="#acaa9a" stroke="#9a988a" stroke-width="0.35" opacity="1"/><path d="M1612.0,293.1 L1612.6,283.4 L1613.1,274.2 L1613.7,265.4 L1614.4,257.0 L1615.0,249.1 L1615.7,241.6 L1616.4,234.5 L1617.2,227.8 L1617.9,221.5 L1618.7,215.7 L1619.6,210.2 L1620.4,205.2 L1620.1,205.1 L1618.8,210.1 L1617.6,215.5 L1616.5,221.3 L1615.5,227.6 L1614.7,234.3 L1613.9,241.4 L1613.3,249.0 L1612.7,256.9 L1612.3,265.3 L1612.0,274.2 L1611.8,283.4 L1611.7,293.1Z" fill="#acaa9a" stroke="#9a988a" stroke-width="0.35" opacity="1"/><path d="M1612.0,293.1 L1611.7,284.8 L1611.3,276.9 L1610.7,269.3 L1610.0,262.0 L1609.0,255.1 L1608.0,248.5 L1606.8,242.2 L1605.4,236.3 L1603.8,230.7 L1602.1,225.5 L1600.3,220.6 L1598.3,216.1 L1598.0,216.2 L1599.5,220.9 L1601.0,225.9 L1602.4,231.1 L1603.8,236.7 L1605.0,242.6 L1606.2,248.8 L1607.3,255.4 L1608.3,262.3 L1609.3,269.5 L1610.1,277.0 L1610.9,284.9 L1611.7,293.1Z" fill="#acaa9a" stroke="#9a988a" stroke-width="0.35" opacity="1"/><path d="M1612.0,293.1 L1612.2,284.1 L1612.2,275.5 L1612.2,267.3 L1612.0,259.4 L1611.9,251.9 L1611.6,244.8 L1611.2,238.0 L1610.8,231.6 L1610.3,225.5 L1609.7,219.8 L1609.0,214.5 L1608.2,209.5 L1607.9,209.6 L1608.2,214.6 L1608.5,219.9 L1608.8,225.6 L1609.2,231.7 L1609.5,238.1 L1609.8,244.8 L1610.1,252.0 L1610.4,259.5 L1610.7,267.3 L1611.0,275.5 L1611.3,284.1 L1611.7,293.1Z" fill="#acaa9a" stroke="#9a988a" stroke-width="0.35" opacity="1"/><path d="M1612.0,293.1 L1612.4,284.9 L1612.7,277.0 L1613.1,269.4 L1613.4,262.2 L1613.7,255.3 L1614.1,248.7 L1614.4,242.5 L1614.7,236.6 L1615.0,231.0 L1615.4,225.7 L1615.7,220.8 L1616.0,216.2 L1615.7,216.2 L1614.9,220.7 L1614.2,225.6 L1613.6,230.9 L1613.1,236.5 L1612.6,242.4 L1612.3,248.6 L1612.0,255.2 L1611.8,262.1 L1611.6,269.4 L1611.6,276.9 L1611.6,284.8 L1611.7,293.1Z" fill="#acaa9a" stroke="#9a988a" stroke-width="0.35" opacity="1"/><path d="M1612.0,293.0 L1609.9,288.7 L1607.6,284.7 L1605.2,281.1 L1602.6,277.8 L1600.0,274.9 L1597.2,272.3 L1594.3,270.1 L1591.2,268.2 L1588.1,266.7 L1584.9,265.6 L1581.6,264.9 L1578.3,264.6 L1578.2,264.9 L1581.4,265.7 L1584.5,266.7 L1587.5,268.0 L1590.4,269.6 L1593.2,271.5 L1596.0,273.7 L1598.7,276.1 L1601.4,278.9 L1604.0,282.0 L1606.6,285.4 L1609.2,289.1 L1611.7,293.2Z" fill="#acaa9a" stroke="#9a988a" stroke-width="0.35" opacity="1"/><path d="M1612.0,293.1 L1614.0,289.1 L1616.1,285.3 L1618.3,281.9 L1620.6,278.8 L1622.9,276.1 L1625.4,273.6 L1627.9,271.5 L1630.5,269.6 L1633.3,268.0 L1636.1,266.7 L1639.2,265.7 L1642.4,264.9 L1642.3,264.6 L1639.0,264.9 L1635.8,265.6 L1632.7,266.7 L1629.7,268.2 L1626.8,270.1 L1624.2,272.3 L1621.6,274.9 L1619.3,277.9 L1617.1,281.1 L1615.1,284.8 L1613.3,288.7 L1611.7,293.0Z" fill="#acaa9a" stroke="#9a988a" stroke-width="0.35" opacity="1"/><path d="M1603.7,227.2 Q1589.3,185.3 1576.0,202.9" fill="none" stroke="#9f9d8f" stroke-width="0.7" stroke-linecap="round" opacity="1"/><ellipse cx="1594.2" cy="207.1" rx="1.0" ry="1.9" fill="#b3b1a3" stroke="#96948a" stroke-width="0.3"/><ellipse cx="1591.9" cy="203.8" rx="1.0" ry="1.9" fill="#b3b1a3" stroke="#96948a" stroke-width="0.3"/><ellipse cx="1589.6" cy="201.4" rx="1.0" ry="1.9" fill="#b3b1a3" stroke="#96948a" stroke-width="0.3"/><ellipse cx="1587.3" cy="199.8" rx="1.0" ry="1.9" fill="#b3b1a3" stroke="#96948a" stroke-width="0.3"/><ellipse cx="1585.0" cy="199.0" rx="1.0" ry="1.9" fill="#b3b1a3" stroke="#96948a" stroke-width="0.3"/><ellipse cx="1582.7" cy="199.0" rx="1.0" ry="1.9" fill="#b3b1a3" stroke="#96948a" stroke-width="0.3"/><ellipse cx="1580.5" cy="199.9" rx="1.0" ry="1.9" fill="#b3b1a3" stroke="#96948a" stroke-width="0.3"/><ellipse cx="1578.3" cy="201.6" rx="1.0" ry="1.9" fill="#b3b1a3" stroke="#96948a" stroke-width="0.3"/><ellipse cx="1576.0" cy="204.1" rx="1.0" ry="1.9" fill="#b3b1a3" stroke="#96948a" stroke-width="0.3"/><path d="M1602.6,225.0 Q1591.5,196.3 1581.6,217.3" fill="none" stroke="#9f9d8f" stroke-width="0.7" stroke-linecap="round" opacity="1"/><ellipse cx="1595.3" cy="212.6" rx="1.0" ry="1.9" fill="#b3b1a3" stroke="#96948a" stroke-width="0.3"/><ellipse cx="1593.5" cy="210.9" rx="1.0" ry="1.9" fill="#b3b1a3" stroke="#96948a" stroke-width="0.3"/><ellipse cx="1591.8" cy="209.9" rx="1.0" ry="1.9" fill="#b3b1a3" stroke="#96948a" stroke-width="0.3"/><ellipse cx="1590.0" cy="209.6" rx="1.0" ry="1.9" fill="#b3b1a3" stroke="#96948a" stroke-width="0.3"/><ellipse cx="1588.3" cy="210.0" rx="1.0" ry="1.9" fill="#b3b1a3" stroke="#96948a" stroke-width="0.3"/><ellipse cx="1586.6" cy="211.1" rx="1.0" ry="1.9" fill="#b3b1a3" stroke="#96948a" stroke-width="0.3"/><ellipse cx="1584.9" cy="212.9" rx="1.0" ry="1.9" fill="#b3b1a3" stroke="#96948a" stroke-width="0.3"/><ellipse cx="1583.2" cy="215.3" rx="1.0" ry="1.9" fill="#b3b1a3" stroke="#96948a" stroke-width="0.3"/><ellipse cx="1581.6" cy="218.5" rx="1.0" ry="1.9" fill="#b3b1a3" stroke="#96948a" stroke-width="0.3"/><path d="M1604.3,223.9 Q1598.1,198.5 1588.2,223.9" fill="none" stroke="#9f9d8f" stroke-width="0.7" stroke-linecap="round" opacity="1"/><ellipse cx="1599.8" cy="213.8" rx="1.0" ry="1.9" fill="#b3b1a3" stroke="#96948a" stroke-width="0.3"/><ellipse cx="1598.5" cy="212.8" rx="1.0" ry="1.9" fill="#b3b1a3" stroke="#96948a" stroke-width="0.3"/><ellipse cx="1597.2" cy="212.4" rx="1.0" ry="1.9" fill="#b3b1a3" stroke="#96948a" stroke-width="0.3"/><ellipse cx="1595.8" cy="212.8" rx="1.0" ry="1.9" fill="#b3b1a3" stroke="#96948a" stroke-width="0.3"/><ellipse cx="1594.4" cy="213.8" rx="1.0" ry="1.9" fill="#b3b1a3" stroke="#96948a" stroke-width="0.3"/><ellipse cx="1592.9" cy="215.6" rx="1.0" ry="1.9" fill="#b3b1a3" stroke="#96948a" stroke-width="0.3"/><ellipse cx="1591.4" cy="218.1" rx="1.0" ry="1.9" fill="#b3b1a3" stroke="#96948a" stroke-width="0.3"/><ellipse cx="1589.8" cy="221.2" rx="1.0" ry="1.9" fill="#b3b1a3" stroke="#96948a" stroke-width="0.3"/><ellipse cx="1588.2" cy="225.1" rx="1.0" ry="1.9" fill="#b3b1a3" stroke="#96948a" stroke-width="0.3"/><path d="M1603.0,226.1 Q1586.0,191.9 1578.3,211.8" fill="none" stroke="#9f9d8f" stroke-width="0.7" stroke-linecap="round" opacity="1"/><ellipse cx="1592.7" cy="210.5" rx="1.0" ry="1.9" fill="#b3b1a3" stroke="#96948a" stroke-width="0.3"/><ellipse cx="1590.4" cy="208.2" rx="1.0" ry="1.9" fill="#b3b1a3" stroke="#96948a" stroke-width="0.3"/><ellipse cx="1588.3" cy="206.6" rx="1.0" ry="1.9" fill="#b3b1a3" stroke="#96948a" stroke-width="0.3"/><ellipse cx="1586.3" cy="205.8" rx="1.0" ry="1.9" fill="#b3b1a3" stroke="#96948a" stroke-width="0.3"/><ellipse cx="1584.4" cy="205.7" rx="1.0" ry="1.9" fill="#b3b1a3" stroke="#96948a" stroke-width="0.3"/><ellipse cx="1582.7" cy="206.4" rx="1.0" ry="1.9" fill="#b3b1a3" stroke="#96948a" stroke-width="0.3"/><ellipse cx="1581.1" cy="207.8" rx="1.0" ry="1.9" fill="#b3b1a3" stroke="#96948a" stroke-width="0.3"/><ellipse cx="1579.6" cy="210.0" rx="1.0" ry="1.9" fill="#b3b1a3" stroke="#96948a" stroke-width="0.3"/><ellipse cx="1578.3" cy="213.0" rx="1.0" ry="1.9" fill="#b3b1a3" stroke="#96948a" stroke-width="0.3"/><path d="M1618.0,227.2 Q1628.0,179.7 1649.0,193.0" fill="none" stroke="#9f9d8f" stroke-width="0.7" stroke-linecap="round" opacity="1"/><ellipse cx="1625.9" cy="203.5" rx="1.0" ry="1.9" fill="#b3b1a3" stroke="#96948a" stroke-width="0.3"/><ellipse cx="1628.2" cy="199.4" rx="1.0" ry="1.9" fill="#b3b1a3" stroke="#96948a" stroke-width="0.3"/><ellipse cx="1630.7" cy="196.1" rx="1.0" ry="1.9" fill="#b3b1a3" stroke="#96948a" stroke-width="0.3"/><ellipse cx="1633.4" cy="193.7" rx="1.0" ry="1.9" fill="#b3b1a3" stroke="#96948a" stroke-width="0.3"/><ellipse cx="1636.2" cy="192.1" rx="1.0" ry="1.9" fill="#b3b1a3" stroke="#96948a" stroke-width="0.3"/><ellipse cx="1639.2" cy="191.4" rx="1.0" ry="1.9" fill="#b3b1a3" stroke="#96948a" stroke-width="0.3"/><ellipse cx="1642.3" cy="191.5" rx="1.0" ry="1.9" fill="#b3b1a3" stroke="#96948a" stroke-width="0.3"/><ellipse cx="1645.5" cy="192.4" rx="1.0" ry="1.9" fill="#b3b1a3" stroke="#96948a" stroke-width="0.3"/><ellipse cx="1649.0" cy="194.2" rx="1.0" ry="1.9" fill="#b3b1a3" stroke="#96948a" stroke-width="0.3"/><path d="M1619.1,226.1 Q1631.3,191.9 1641.2,210.7" fill="none" stroke="#9f9d8f" stroke-width="0.7" stroke-linecap="round" opacity="1"/><ellipse cx="1627.0" cy="210.4" rx="1.0" ry="1.9" fill="#b3b1a3" stroke="#96948a" stroke-width="0.3"/><ellipse cx="1628.9" cy="208.0" rx="1.0" ry="1.9" fill="#b3b1a3" stroke="#96948a" stroke-width="0.3"/><ellipse cx="1630.7" cy="206.3" rx="1.0" ry="1.9" fill="#b3b1a3" stroke="#96948a" stroke-width="0.3"/><ellipse cx="1632.6" cy="205.4" rx="1.0" ry="1.9" fill="#b3b1a3" stroke="#96948a" stroke-width="0.3"/><ellipse cx="1634.4" cy="205.2" rx="1.0" ry="1.9" fill="#b3b1a3" stroke="#96948a" stroke-width="0.3"/><ellipse cx="1636.1" cy="205.8" rx="1.0" ry="1.9" fill="#b3b1a3" stroke="#96948a" stroke-width="0.3"/><ellipse cx="1637.9" cy="207.1" rx="1.0" ry="1.9" fill="#b3b1a3" stroke="#96948a" stroke-width="0.3"/><ellipse cx="1639.6" cy="209.1" rx="1.0" ry="1.9" fill="#b3b1a3" stroke="#96948a" stroke-width="0.3"/><ellipse cx="1641.2" cy="211.9" rx="1.0" ry="1.9" fill="#b3b1a3" stroke="#96948a" stroke-width="0.3"/><path d="M1618.0,225.0 Q1623.6,198.5 1633.5,217.3" fill="none" stroke="#9f9d8f" stroke-width="0.7" stroke-linecap="round" opacity="1"/><ellipse cx="1622.2" cy="213.6" rx="1.0" ry="1.9" fill="#b3b1a3" stroke="#96948a" stroke-width="0.3"/><ellipse cx="1623.4" cy="212.0" rx="1.0" ry="1.9" fill="#b3b1a3" stroke="#96948a" stroke-width="0.3"/><ellipse cx="1624.7" cy="211.0" rx="1.0" ry="1.9" fill="#b3b1a3" stroke="#96948a" stroke-width="0.3"/><ellipse cx="1626.0" cy="210.7" rx="1.0" ry="1.9" fill="#b3b1a3" stroke="#96948a" stroke-width="0.3"/><ellipse cx="1627.4" cy="211.0" rx="1.0" ry="1.9" fill="#b3b1a3" stroke="#96948a" stroke-width="0.3"/><ellipse cx="1628.8" cy="211.9" rx="1.0" ry="1.9" fill="#b3b1a3" stroke="#96948a" stroke-width="0.3"/><ellipse cx="1630.3" cy="213.5" rx="1.0" ry="1.9" fill="#b3b1a3" stroke="#96948a" stroke-width="0.3"/><ellipse cx="1631.9" cy="215.7" rx="1.0" ry="1.9" fill="#b3b1a3" stroke="#96948a" stroke-width="0.3"/><ellipse cx="1633.5" cy="218.5" rx="1.0" ry="1.9" fill="#b3b1a3" stroke="#96948a" stroke-width="0.3"/><path d="M1618.5,226.8 Q1635.7,185.3 1645.6,202.9" fill="none" stroke="#9f9d8f" stroke-width="0.7" stroke-linecap="round" opacity="1"/><ellipse cx="1629.1" cy="206.9" rx="1.0" ry="1.9" fill="#b3b1a3" stroke="#96948a" stroke-width="0.3"/><ellipse cx="1631.6" cy="203.7" rx="1.0" ry="1.9" fill="#b3b1a3" stroke="#96948a" stroke-width="0.3"/><ellipse cx="1633.9" cy="201.3" rx="1.0" ry="1.9" fill="#b3b1a3" stroke="#96948a" stroke-width="0.3"/><ellipse cx="1636.1" cy="199.7" rx="1.0" ry="1.9" fill="#b3b1a3" stroke="#96948a" stroke-width="0.3"/><ellipse cx="1638.2" cy="198.9" rx="1.0" ry="1.9" fill="#b3b1a3" stroke="#96948a" stroke-width="0.3"/><ellipse cx="1640.2" cy="199.0" rx="1.0" ry="1.9" fill="#b3b1a3" stroke="#96948a" stroke-width="0.3"/><ellipse cx="1642.1" cy="199.9" rx="1.0" ry="1.9" fill="#b3b1a3" stroke="#96948a" stroke-width="0.3"/><ellipse cx="1643.9" cy="201.6" rx="1.0" ry="1.9" fill="#b3b1a3" stroke="#96948a" stroke-width="0.3"/><ellipse cx="1645.6" cy="204.1" rx="1.0" ry="1.9" fill="#b3b1a3" stroke="#96948a" stroke-width="0.3"/><path d="M1750.3,180.8 C1766.2,196.3 1777.3,229.4 1770.6,266.9 L1755.2,290.1 L1744.2,290.1 L1726.5,266.9 C1722.1,229.4 1734.2,196.3 1750.3,180.8Z" fill="#e6e6e6" stroke="none" opacity="0.7"/><path d="M1747.7,291.2 L1746.4,285.2 L1745.1,279.9 L1743.7,275.0 L1742.3,270.8 L1740.9,267.1 L1739.4,264.0 L1737.9,261.4 L1736.3,259.5 L1734.7,258.1 L1733.1,257.3 L1731.5,257.3 L1730.1,257.9 L1730.2,258.2 L1731.5,258.2 L1732.6,258.6 L1733.7,259.4 L1734.8,260.8 L1736.1,262.6 L1737.5,265.0 L1738.9,268.0 L1740.4,271.5 L1742.1,275.6 L1743.7,280.3 L1745.5,285.5 L1747.4,291.2Z" fill="#c5c5c5" stroke="#b0b0b0" stroke-width="0.3" opacity="1"/><path d="M1753.1,291.2 L1752.6,284.9 L1752.1,279.1 L1751.5,274.0 L1750.9,269.4 L1750.2,265.4 L1749.5,262.1 L1748.8,259.3 L1748.0,257.1 L1747.1,255.4 L1746.2,254.4 L1745.1,254.0 L1744.3,254.5 L1744.4,254.8 L1745.0,254.9 L1745.2,255.3 L1745.6,256.2 L1746.1,257.7 L1746.7,259.9 L1747.4,262.6 L1748.1,265.9 L1748.9,269.8 L1749.8,274.2 L1750.7,279.3 L1751.7,285.0 L1752.8,291.2Z" fill="#c5c5c5" stroke="#b0b0b0" stroke-width="0.3" opacity="1"/><path d="M1747.3,291.2 L1748.3,280.5 L1749.3,270.9 L1750.2,262.2 L1751.0,254.4 L1751.7,247.7 L1752.4,242.0 L1753.0,237.2 L1753.6,233.4 L1754.1,230.6 L1754.5,228.9 L1754.7,228.1 L1755.1,228.0 L1755.1,227.7 L1754.3,227.3 L1753.3,228.3 L1752.4,230.2 L1751.7,233.0 L1750.9,236.9 L1750.2,241.7 L1749.6,247.5 L1749.0,254.3 L1748.4,262.0 L1747.9,270.8 L1747.4,280.5 L1747.0,291.2Z" fill="#c5c5c5" stroke="#b0b0b0" stroke-width="0.3" opacity="1"/><path d="M1754.2,291.2 L1754.0,288.9 L1753.6,286.9 L1753.2,285.2 L1752.8,283.7 L1752.3,282.4 L1751.8,281.4 L1751.1,280.6 L1750.3,280.1 L1749.4,279.9 L1748.6,280.2 L1748.0,280.9 L1747.8,281.7 L1748.0,281.9 L1748.7,281.6 L1749.2,281.5 L1749.3,281.6 L1749.3,281.8 L1749.6,282.1 L1749.9,282.6 L1750.4,283.4 L1751.0,284.4 L1751.6,285.7 L1752.3,287.3 L1753.1,289.2 L1753.9,291.2Z" fill="#c5c5c5" stroke="#b0b0b0" stroke-width="0.3" opacity="1"/><path d="M1753.2,291.2 L1755.4,280.0 L1757.5,269.8 L1759.4,260.6 L1761.3,252.5 L1763.1,245.5 L1764.9,239.5 L1766.5,234.6 L1768.0,230.8 L1769.5,228.0 L1770.8,226.3 L1772.0,225.5 L1773.4,225.5 L1773.5,225.2 L1771.9,224.6 L1769.9,225.2 L1768.1,227.0 L1766.2,229.9 L1764.5,233.9 L1762.7,238.9 L1761.0,245.0 L1759.4,252.1 L1757.7,260.3 L1756.1,269.5 L1754.5,279.8 L1753.0,291.2Z" fill="#c5c5c5" stroke="#b0b0b0" stroke-width="0.3" opacity="1"/><path d="M1752.4,291.2 L1751.0,279.9 L1749.6,269.7 L1748.1,260.5 L1746.6,252.3 L1745.1,245.2 L1743.5,239.1 L1742.0,234.1 L1740.3,230.1 L1738.7,227.1 L1736.9,225.1 L1735.1,224.3 L1733.6,224.8 L1733.6,225.1 L1734.9,225.2 L1736.0,226.1 L1737.2,228.0 L1738.5,230.9 L1739.9,234.8 L1741.4,239.7 L1743.0,245.7 L1744.7,252.7 L1746.4,260.8 L1748.2,269.9 L1750.1,280.1 L1752.1,291.2Z" fill="#c5c5c5" stroke="#b0b0b0" stroke-width="0.3" opacity="1"/><path d="M1750.4,291.2 L1753.3,282.4 L1756.1,274.3 L1758.9,267.0 L1761.5,260.6 L1764.0,255.0 L1766.4,250.3 L1768.8,246.4 L1771.0,243.3 L1773.1,241.0 L1775.1,239.4 L1777.1,238.6 L1779.3,238.5 L1779.3,238.2 L1777.0,237.7 L1774.5,238.2 L1772.0,239.6 L1769.5,242.0 L1767.0,245.2 L1764.5,249.2 L1762.1,254.1 L1759.6,259.9 L1757.2,266.4 L1754.8,273.8 L1752.4,282.1 L1750.1,291.2Z" fill="#c5c5c5" stroke="#b0b0b0" stroke-width="0.3" opacity="1"/><path d="M1751.2,291.2 L1753.5,281.4 L1755.6,272.4 L1757.7,264.3 L1759.7,257.1 L1761.6,250.9 L1763.5,245.5 L1765.2,241.1 L1766.9,237.6 L1768.4,234.9 L1769.9,233.2 L1771.2,232.2 L1772.8,232.0 L1772.8,231.7 L1771.0,231.3 L1769.0,232.1 L1767.1,233.9 L1765.1,236.6 L1763.3,240.2 L1761.4,244.8 L1759.6,250.2 L1757.8,256.6 L1756.0,263.9 L1754.3,272.1 L1752.6,281.2 L1750.9,291.2Z" fill="#c5c5c5" stroke="#b0b0b0" stroke-width="0.3" opacity="1"/><path d="M1752.0,291.2 L1753.6,278.9 L1755.0,267.7 L1756.3,257.6 L1757.6,248.6 L1758.8,240.7 L1760.0,233.8 L1761.1,228.1 L1762.1,223.5 L1763.0,219.9 L1763.8,217.5 L1764.5,216.2 L1765.3,215.7 L1765.2,215.4 L1763.9,215.4 L1762.6,216.9 L1761.3,219.4 L1760.1,223.0 L1759.0,227.7 L1757.8,233.4 L1756.7,240.3 L1755.6,248.3 L1754.6,257.4 L1753.6,267.6 L1752.6,278.8 L1751.7,291.2Z" fill="#c5c5c5" stroke="#b0b0b0" stroke-width="0.3" opacity="1"/><path d="M1747.0,291.2 L1749.0,281.4 L1750.9,272.5 L1752.7,264.5 L1754.5,257.4 L1756.2,251.2 L1757.7,245.9 L1759.3,241.6 L1760.7,238.1 L1762.0,235.5 L1763.2,233.9 L1764.3,233.0 L1765.6,232.8 L1765.6,232.5 L1764.1,232.1 L1762.3,232.8 L1760.6,234.6 L1758.9,237.2 L1757.3,240.8 L1755.7,245.3 L1754.1,250.7 L1752.5,256.9 L1751.0,264.1 L1749.5,272.2 L1748.1,281.3 L1746.7,291.2Z" fill="#c5c5c5" stroke="#b0b0b0" stroke-width="0.3" opacity="1"/><path d="M1748.9,291.2 L1750.7,278.7 L1752.5,267.2 L1754.1,256.9 L1755.7,247.8 L1757.2,239.8 L1758.6,232.9 L1760.0,227.2 L1761.3,222.6 L1762.5,219.2 L1763.5,216.9 L1764.5,215.7 L1765.6,215.4 L1765.5,215.1 L1764.1,214.8 L1762.4,216.0 L1760.9,218.4 L1759.4,222.0 L1757.9,226.6 L1756.5,232.4 L1755.1,239.4 L1753.7,247.4 L1752.4,256.7 L1751.1,267.0 L1749.8,278.5 L1748.6,291.2Z" fill="#c5c5c5" stroke="#b0b0b0" stroke-width="0.3" opacity="1"/><path d="M1753.2,291.2 L1752.9,285.5 L1752.5,280.4 L1752.1,275.8 L1751.6,271.7 L1751.1,268.2 L1750.6,265.3 L1750.0,262.8 L1749.3,260.9 L1748.6,259.6 L1747.8,258.7 L1746.7,258.5 L1746.2,259.2 L1746.3,259.4 L1746.8,259.5 L1746.8,259.7 L1747.1,260.4 L1747.4,261.6 L1747.9,263.4 L1748.4,265.7 L1749.0,268.6 L1749.7,272.0 L1750.4,276.0 L1751.2,280.5 L1752.0,285.6 L1752.9,291.2Z" fill="#c5c5c5" stroke="#b0b0b0" stroke-width="0.3" opacity="1"/><path d="M1753.8,291.2 L1756.6,282.4 L1759.2,274.2 L1761.7,266.9 L1764.2,260.3 L1766.5,254.6 L1768.8,249.6 L1771.0,245.4 L1773.0,241.9 L1775.0,239.2 L1776.9,237.3 L1778.7,236.0 L1780.6,235.4 L1780.6,235.1 L1778.4,235.1 L1776.1,236.1 L1773.7,238.0 L1771.4,240.8 L1769.1,244.3 L1766.8,248.6 L1764.6,253.7 L1762.3,259.6 L1760.1,266.3 L1757.9,273.8 L1755.7,282.1 L1753.5,291.2Z" fill="#c5c5c5" stroke="#b0b0b0" stroke-width="0.3" opacity="1"/><path d="M1746.6,291.3 L1748.7,287.5 L1750.6,284.0 L1752.4,280.9 L1754.2,278.1 L1755.9,275.7 L1757.5,273.6 L1759.0,271.8 L1760.4,270.4 L1761.7,269.3 L1763.0,268.5 L1764.4,267.9 L1765.7,267.5 L1765.7,267.2 L1764.2,267.0 L1762.6,267.2 L1760.8,267.8 L1759.1,268.9 L1757.4,270.4 L1755.7,272.2 L1754.1,274.5 L1752.5,277.1 L1750.9,280.0 L1749.4,283.4 L1747.8,287.1 L1746.4,291.1Z" fill="#c5c5c5" stroke="#b0b0b0" stroke-width="0.3" opacity="1"/><path d="M1749.1,291.2 L1749.9,287.5 L1750.7,284.2 L1751.4,281.3 L1752.0,278.8 L1752.6,276.6 L1753.1,274.9 L1753.5,273.6 L1753.9,272.7 L1754.0,272.3 L1754.0,272.1 L1754.1,272.0 L1754.7,272.3 L1755.0,272.1 L1754.7,271.2 L1753.9,270.7 L1752.9,271.0 L1752.2,271.7 L1751.5,272.8 L1751.0,274.3 L1750.5,276.1 L1750.0,278.3 L1749.6,281.0 L1749.3,284.0 L1749.0,287.4 L1748.8,291.2Z" fill="#c5c5c5" stroke="#b0b0b0" stroke-width="0.3" opacity="1"/><path d="M1748.7,291.1 L1746.8,285.5 L1744.8,280.4 L1742.8,275.9 L1740.8,271.9 L1738.7,268.4 L1736.6,265.5 L1734.5,263.2 L1732.4,261.4 L1730.2,260.2 L1728.1,259.6 L1726.0,259.6 L1724.2,260.3 L1724.2,260.6 L1726.1,260.6 L1727.8,260.9 L1729.5,261.7 L1731.2,263.0 L1733.0,264.7 L1734.9,266.9 L1736.9,269.6 L1739.0,272.9 L1741.2,276.7 L1743.5,281.0 L1745.9,285.9 L1748.4,291.3Z" fill="#c5c5c5" stroke="#b0b0b0" stroke-width="0.3" opacity="1"/><path d="M1747.5,291.2 L1746.2,283.0 L1744.9,275.6 L1743.5,268.9 L1742.1,263.0 L1740.7,257.8 L1739.2,253.4 L1737.7,249.7 L1736.2,246.8 L1734.6,244.7 L1733.0,243.3 L1731.3,242.8 L1729.9,243.3 L1729.9,243.6 L1731.2,243.8 L1732.2,244.4 L1733.3,245.8 L1734.5,247.8 L1735.8,250.6 L1737.2,254.1 L1738.6,258.4 L1740.2,263.5 L1741.8,269.3 L1743.5,275.9 L1745.3,283.2 L1747.2,291.2Z" fill="#c5c5c5" stroke="#b0b0b0" stroke-width="0.3" opacity="1"/><path d="M1748.6,291.2 L1749.6,286.3 L1750.5,281.9 L1751.3,277.9 L1752.0,274.3 L1752.7,271.2 L1753.4,268.5 L1754.0,266.3 L1754.5,264.5 L1754.9,263.2 L1755.3,262.3 L1755.5,261.8 L1755.9,261.5 L1755.8,261.2 L1755.1,261.0 L1754.2,261.4 L1753.4,262.4 L1752.6,263.8 L1751.9,265.7 L1751.3,268.0 L1750.6,270.8 L1750.1,274.0 L1749.6,277.6 L1749.1,281.7 L1748.6,286.2 L1748.3,291.2Z" fill="#c5c5c5" stroke="#b0b0b0" stroke-width="0.3" opacity="1"/><path d="M1752.4,291.2 L1751.8,283.9 L1751.2,277.3 L1750.6,271.3 L1749.9,266.0 L1749.2,261.4 L1748.4,257.4 L1747.6,254.1 L1746.8,251.5 L1745.9,249.5 L1744.9,248.1 L1743.8,247.5 L1742.9,247.9 L1743.0,248.2 L1743.5,248.4 L1743.8,249.0 L1744.3,250.2 L1744.9,252.1 L1745.5,254.6 L1746.3,257.9 L1747.1,261.8 L1747.9,266.3 L1748.9,271.5 L1749.8,277.4 L1750.9,284.0 L1752.1,291.2Z" fill="#c5c5c5" stroke="#b0b0b0" stroke-width="0.3" opacity="1"/><path d="M1750.6,291.1 L1748.7,286.5 L1746.7,282.3 L1744.6,278.6 L1742.6,275.4 L1740.5,272.6 L1738.4,270.3 L1736.2,268.5 L1734.0,267.2 L1731.9,266.4 L1729.7,266.2 L1727.7,266.5 L1725.9,267.3 L1726.0,267.6 L1727.9,267.4 L1729.6,267.6 L1731.3,268.1 L1733.1,269.0 L1734.9,270.2 L1736.8,271.9 L1738.9,274.0 L1741.0,276.6 L1743.2,279.6 L1745.5,283.0 L1747.9,286.9 L1750.4,291.3Z" fill="#c5c5c5" stroke="#b0b0b0" stroke-width="0.3" opacity="1"/><path d="M1751.1,291.1 L1748.3,283.7 L1745.5,276.8 L1742.7,270.7 L1739.8,265.2 L1737.0,260.3 L1734.1,256.2 L1731.3,252.6 L1728.4,249.8 L1725.5,247.7 L1722.6,246.2 L1719.9,245.5 L1717.2,245.6 L1717.2,245.9 L1719.7,246.5 L1722.1,247.5 L1724.5,249.1 L1727.0,251.3 L1729.6,254.1 L1732.4,257.5 L1735.2,261.5 L1738.1,266.2 L1741.1,271.5 L1744.2,277.4 L1747.4,284.0 L1750.8,291.3Z" fill="#c5c5c5" stroke="#b0b0b0" stroke-width="0.3" opacity="1"/><path d="M1748.1,291.2 L1745.8,280.2 L1743.5,270.3 L1741.2,261.3 L1738.9,253.3 L1736.6,246.3 L1734.2,240.3 L1731.9,235.3 L1729.5,231.3 L1727.1,228.3 L1724.6,226.3 L1722.2,225.4 L1720.0,225.7 L1720.0,226.0 L1722.0,226.4 L1723.8,227.5 L1725.8,229.5 L1727.8,232.4 L1730.0,236.3 L1732.2,241.2 L1734.6,247.1 L1737.0,253.9 L1739.6,261.8 L1742.2,270.6 L1744.9,280.4 L1747.8,291.2Z" fill="#c5c5c5" stroke="#b0b0b0" stroke-width="0.3" opacity="1"/><path d="M1752.9,291.2 L1753.8,277.5 L1754.5,265.0 L1755.2,253.8 L1755.8,243.7 L1756.3,235.0 L1756.8,227.4 L1757.3,221.1 L1757.6,216.0 L1758.0,212.2 L1758.2,209.6 L1758.4,208.3 L1758.5,208.0 L1758.4,207.7 L1757.6,207.8 L1756.9,209.3 L1756.2,211.9 L1755.7,215.8 L1755.1,220.9 L1754.6,227.3 L1754.2,234.8 L1753.8,243.6 L1753.4,253.7 L1753.1,265.0 L1752.8,277.5 L1752.6,291.2Z" fill="#c5c5c5" stroke="#b0b0b0" stroke-width="0.3" opacity="1"/><path d="M1754.0,291.2 L1754.7,283.7 L1755.3,276.8 L1755.9,270.6 L1756.4,265.1 L1756.8,260.3 L1757.2,256.1 L1757.6,252.6 L1757.8,249.8 L1758.1,247.7 L1758.2,246.2 L1758.3,245.4 L1758.3,245.2 L1758.2,244.9 L1757.5,244.9 L1756.9,245.8 L1756.3,247.3 L1755.9,249.5 L1755.4,252.4 L1755.0,255.9 L1754.7,260.1 L1754.4,265.0 L1754.1,270.5 L1753.9,276.7 L1753.7,283.6 L1753.7,291.2Z" fill="#c5c5c5" stroke="#b0b0b0" stroke-width="0.3" opacity="1"/><path d="M1752.5,291.2 L1750.3,281.8 L1748.0,273.2 L1745.8,265.4 L1743.5,258.5 L1741.2,252.5 L1738.9,247.2 L1736.6,242.9 L1734.2,239.3 L1731.9,236.6 L1729.5,234.8 L1727.1,233.9 L1724.9,234.0 L1724.9,234.3 L1726.9,234.8 L1728.7,235.9 L1730.6,237.8 L1732.6,240.5 L1734.7,243.9 L1736.9,248.2 L1739.2,253.3 L1741.6,259.2 L1744.1,266.0 L1746.7,273.6 L1749.4,282.0 L1752.2,291.2Z" fill="#c5c5c5" stroke="#b0b0b0" stroke-width="0.3" opacity="1"/><path d="M1751.4,291.2 L1752.5,287.8 L1753.5,284.8 L1754.4,282.0 L1755.3,279.5 L1756.1,277.4 L1756.8,275.6 L1757.4,274.1 L1758.0,273.0 L1758.5,272.1 L1758.9,271.5 L1759.2,271.1 L1759.8,270.9 L1759.8,270.6 L1759.1,270.2 L1758.1,270.3 L1757.2,270.9 L1756.3,271.9 L1755.5,273.2 L1754.8,274.8 L1754.0,276.7 L1753.4,278.9 L1752.7,281.5 L1752.2,284.4 L1751.6,287.6 L1751.1,291.2Z" fill="#c5c5c5" stroke="#b0b0b0" stroke-width="0.3" opacity="1"/><path d="M1752.2,291.2 L1753.0,284.5 L1753.7,278.4 L1754.4,272.9 L1754.9,268.0 L1755.5,263.8 L1755.9,260.1 L1756.3,257.1 L1756.7,254.7 L1757.0,252.9 L1757.2,251.7 L1757.2,251.2 L1757.3,251.0 L1757.3,250.7 L1756.7,250.5 L1755.9,251.2 L1755.3,252.4 L1754.7,254.3 L1754.2,256.8 L1753.8,259.8 L1753.3,263.5 L1753.0,267.8 L1752.6,272.8 L1752.3,278.3 L1752.1,284.4 L1751.9,291.2Z" fill="#c5c5c5" stroke="#b0b0b0" stroke-width="0.3" opacity="1"/><path d="M1745.7,291.2 L1746.1,282.3 L1746.3,274.2 L1746.5,266.9 L1746.7,260.3 L1746.8,254.6 L1746.8,249.6 L1746.8,245.3 L1746.8,241.9 L1746.7,239.2 L1746.5,237.3 L1746.3,236.2 L1746.0,235.8 L1745.7,235.8 L1745.4,236.2 L1745.1,237.3 L1744.9,239.2 L1744.8,241.9 L1744.7,245.3 L1744.6,249.5 L1744.6,254.5 L1744.7,260.3 L1744.8,266.9 L1744.9,274.2 L1745.1,282.3 L1745.4,291.2Z" fill="#c5c5c5" stroke="#b0b0b0" stroke-width="0.3" opacity="1"/><path d="M1753.5,291.2 L1754.2,285.1 L1754.7,279.6 L1755.1,274.7 L1755.5,270.3 L1755.9,266.5 L1756.2,263.3 L1756.4,260.6 L1756.6,258.5 L1756.7,257.0 L1756.8,256.1 L1756.6,255.9 L1756.5,255.7 L1756.7,255.5 L1756.1,255.0 L1755.5,255.6 L1755.0,256.7 L1754.6,258.2 L1754.3,260.4 L1754.0,263.1 L1753.7,266.3 L1753.5,270.2 L1753.4,274.6 L1753.3,279.5 L1753.2,285.1 L1753.2,291.2Z" fill="#c5c5c5" stroke="#b0b0b0" stroke-width="0.3" opacity="1"/><path d="M1750.3,291.2 L1752.2,280.8 L1754.0,271.4 L1755.7,263.0 L1757.3,255.5 L1758.9,249.1 L1760.4,243.6 L1761.8,239.1 L1763.1,235.6 L1764.3,233.1 L1765.4,231.6 L1766.3,230.9 L1767.6,231.0 L1767.7,230.7 L1766.3,230.0 L1764.5,230.5 L1762.9,232.2 L1761.3,234.8 L1759.8,238.4 L1758.3,243.0 L1756.8,248.6 L1755.4,255.1 L1754.0,262.7 L1752.6,271.2 L1751.3,280.7 L1750.0,291.2Z" fill="#c5c5c5" stroke="#b0b0b0" stroke-width="0.3" opacity="1"/><path d="M1746.7,291.2 L1749.2,278.0 L1751.5,265.9 L1753.7,255.0 L1755.9,245.3 L1758.0,236.8 L1760.0,229.4 L1761.9,223.2 L1763.7,218.1 L1765.4,214.3 L1767.0,211.6 L1768.5,210.0 L1770.1,209.3 L1770.1,209.0 L1768.1,209.1 L1766.0,210.7 L1763.9,213.4 L1761.9,217.4 L1759.8,222.5 L1757.9,228.8 L1755.9,236.2 L1754.0,244.9 L1752.0,254.7 L1750.1,265.7 L1748.2,277.8 L1746.4,291.2Z" fill="#c5c5c5" stroke="#b0b0b0" stroke-width="0.3" opacity="1"/><path d="M1748.1,291.2 L1747.4,282.1 L1746.7,273.8 L1745.9,266.3 L1745.1,259.7 L1744.2,253.8 L1743.3,248.7 L1742.4,244.3 L1741.4,240.8 L1740.4,238.1 L1739.4,236.2 L1738.2,235.1 L1737.2,235.0 L1737.1,235.3 L1737.6,235.8 L1738.2,236.9 L1738.8,238.7 L1739.5,241.4 L1740.3,244.8 L1741.2,249.1 L1742.1,254.1 L1743.1,259.9 L1744.2,266.6 L1745.3,274.0 L1746.5,282.2 L1747.8,291.2Z" fill="#c5c5c5" stroke="#b0b0b0" stroke-width="0.3" opacity="1"/><path d="M1749.7,291.2 L1750.3,284.2 L1750.8,277.9 L1751.3,272.3 L1751.6,267.2 L1752.0,262.9 L1752.2,259.2 L1752.5,256.1 L1752.6,253.7 L1752.7,251.9 L1752.8,250.8 L1752.6,250.6 L1752.5,250.4 L1752.6,250.2 L1752.1,249.8 L1751.4,250.5 L1751.0,251.6 L1750.6,253.4 L1750.3,255.9 L1750.1,259.0 L1749.8,262.7 L1749.6,267.1 L1749.5,272.2 L1749.4,277.9 L1749.4,284.2 L1749.4,291.2Z" fill="#c5c5c5" stroke="#b0b0b0" stroke-width="0.3" opacity="1"/><path d="M1746.5,291.2 L1747.6,286.7 L1748.6,282.6 L1749.5,279.1 L1750.3,275.9 L1751.1,273.3 L1751.8,271.1 L1752.5,269.4 L1753.0,268.2 L1753.4,267.5 L1753.6,267.2 L1753.9,267.0 L1754.7,267.3 L1754.9,267.1 L1754.4,266.2 L1753.4,265.8 L1752.3,266.2 L1751.3,267.2 L1750.5,268.6 L1749.8,270.4 L1749.1,272.7 L1748.4,275.5 L1747.8,278.7 L1747.2,282.4 L1746.7,286.5 L1746.2,291.2Z" fill="#c5c5c5" stroke="#b0b0b0" stroke-width="0.3" opacity="1"/><path d="M1751.9,291.1 L1750.4,287.8 L1748.8,284.8 L1747.1,282.1 L1745.5,279.8 L1743.8,277.8 L1742.0,276.2 L1740.3,274.9 L1738.5,274.1 L1736.7,273.6 L1734.9,273.5 L1733.3,273.9 L1731.8,274.7 L1731.9,275.0 L1733.5,274.8 L1734.9,274.9 L1736.3,275.3 L1737.7,275.9 L1739.1,276.8 L1740.6,277.9 L1742.2,279.3 L1743.9,281.1 L1745.7,283.1 L1747.6,285.5 L1749.6,288.3 L1751.7,291.3Z" fill="#c5c5c5" stroke="#b0b0b0" stroke-width="0.3" opacity="1"/><path d="M1746.2,291.2 L1746.2,288.2 L1746.2,285.6 L1746.1,283.3 L1746.0,281.3 L1745.8,279.6 L1745.5,278.2 L1745.2,277.1 L1744.9,276.3 L1744.3,275.7 L1743.2,275.6 L1742.8,276.3 L1742.9,277.1 L1743.2,277.2 L1743.7,276.8 L1743.8,276.9 L1743.1,277.0 L1743.1,277.1 L1743.2,277.7 L1743.4,278.7 L1743.7,279.9 L1744.0,281.6 L1744.4,283.5 L1744.8,285.7 L1745.3,288.3 L1745.9,291.2Z" fill="#c5c5c5" stroke="#b0b0b0" stroke-width="0.3" opacity="1"/><path d="M1747.3,291.2 L1746.4,285.4 L1745.5,280.3 L1744.6,275.7 L1743.6,271.7 L1742.6,268.2 L1741.5,265.3 L1740.4,263.0 L1739.2,261.2 L1737.9,260.0 L1736.6,259.4 L1735.3,259.6 L1734.4,260.5 L1734.5,260.7 L1735.5,260.5 L1736.2,260.7 L1736.8,261.3 L1737.6,262.3 L1738.5,264.0 L1739.5,266.1 L1740.5,268.9 L1741.7,272.2 L1742.9,276.1 L1744.2,280.6 L1745.5,285.6 L1747.0,291.2Z" fill="#c5c5c5" stroke="#b0b0b0" stroke-width="0.3" opacity="1"/><path d="M1749.3,291.2 L1747.2,283.6 L1745.0,276.8 L1742.8,270.7 L1740.6,265.4 L1738.4,260.7 L1736.2,256.8 L1733.9,253.6 L1731.6,251.1 L1729.3,249.4 L1726.9,248.5 L1724.7,248.5 L1722.6,249.3 L1722.7,249.6 L1724.7,249.4 L1726.5,249.9 L1728.3,250.9 L1730.2,252.6 L1732.2,254.9 L1734.3,258.0 L1736.5,261.7 L1738.8,266.2 L1741.2,271.4 L1743.7,277.3 L1746.3,283.9 L1749.0,291.3Z" fill="#c5c5c5" stroke="#b0b0b0" stroke-width="0.3" opacity="1"/><path d="M1746.4,291.2 L1748.5,279.0 L1750.4,267.8 L1752.2,257.7 L1754.0,248.7 L1755.7,240.8 L1757.3,234.0 L1758.8,228.3 L1760.3,223.7 L1761.6,220.2 L1762.9,217.8 L1764.0,216.4 L1765.3,215.9 L1765.2,215.6 L1763.6,215.6 L1761.8,216.9 L1760.1,219.4 L1758.4,223.0 L1756.8,227.7 L1755.2,233.5 L1753.6,240.4 L1752.0,248.3 L1750.5,257.4 L1749.0,267.6 L1747.5,278.8 L1746.1,291.2Z" fill="#c5c5c5" stroke="#b0b0b0" stroke-width="0.3" opacity="1"/><path d="M1753.9,291.2 L1752.7,280.3 L1751.4,270.4 L1750.0,261.5 L1748.7,253.7 L1747.3,246.8 L1745.9,241.0 L1744.4,236.2 L1742.9,232.5 L1741.4,229.7 L1739.8,227.9 L1738.1,227.3 L1736.7,228.0 L1736.7,228.3 L1737.9,228.2 L1738.8,229.0 L1739.9,230.6 L1741.1,233.2 L1742.4,236.9 L1743.7,241.6 L1745.2,247.3 L1746.7,254.1 L1748.3,261.8 L1750.0,270.6 L1751.7,280.4 L1753.6,291.2Z" fill="#c5c5c5" stroke="#b0b0b0" stroke-width="0.3" opacity="1"/><path d="M1746.9,291.2 L1749.3,276.9 L1751.5,263.8 L1753.7,252.2 L1755.8,241.8 L1757.8,232.8 L1759.8,225.1 L1761.6,218.7 L1763.4,213.7 L1765.0,210.0 L1766.5,207.6 L1767.9,206.5 L1769.5,206.5 L1769.6,206.2 L1767.7,205.6 L1765.6,206.6 L1763.5,209.1 L1761.5,212.9 L1759.6,218.0 L1757.6,224.5 L1755.7,232.3 L1753.9,241.4 L1752.0,251.8 L1750.2,263.6 L1748.3,276.7 L1746.6,291.2Z" fill="#c5c5c5" stroke="#b0b0b0" stroke-width="0.3" opacity="1"/><path d="M1752.5,291.2 L1755.4,282.8 L1758.1,275.1 L1760.7,268.1 L1763.2,261.9 L1765.6,256.4 L1768.0,251.6 L1770.2,247.6 L1772.4,244.3 L1774.4,241.8 L1776.4,239.9 L1778.3,238.7 L1780.2,238.0 L1780.2,237.8 L1778.0,237.8 L1775.6,238.7 L1773.2,240.5 L1770.8,243.1 L1768.4,246.5 L1766.0,250.6 L1763.7,255.5 L1761.4,261.1 L1759.1,267.5 L1756.8,274.6 L1754.5,282.5 L1752.3,291.2Z" fill="#c5c5c5" stroke="#b0b0b0" stroke-width="0.3" opacity="1"/><path d="M1746.2,291.2 L1748.4,282.3 L1750.4,274.2 L1752.3,266.9 L1754.2,260.4 L1756.0,254.7 L1757.6,249.8 L1759.3,245.7 L1760.8,242.4 L1762.2,239.8 L1763.5,238.1 L1764.8,237.1 L1766.1,236.6 L1766.1,236.3 L1764.5,236.2 L1762.6,237.0 L1760.8,238.8 L1759.0,241.4 L1757.3,244.8 L1755.6,249.0 L1753.9,254.0 L1752.3,259.9 L1750.6,266.5 L1749.0,273.9 L1747.5,282.1 L1745.9,291.2Z" fill="#c5c5c5" stroke="#b0b0b0" stroke-width="0.3" opacity="1"/><path d="M1752.3,291.2 L1750.8,282.5 L1749.1,274.5 L1747.5,267.4 L1745.8,261.1 L1744.1,255.6 L1742.3,250.8 L1740.6,246.9 L1738.8,243.8 L1736.9,241.4 L1735.0,239.9 L1733.1,239.3 L1731.5,239.7 L1731.5,240.0 L1733.0,240.3 L1734.2,241.1 L1735.6,242.6 L1737.1,244.8 L1738.6,247.8 L1740.3,251.7 L1742.0,256.3 L1743.9,261.7 L1745.8,267.9 L1747.8,274.9 L1749.8,282.7 L1752.0,291.2Z" fill="#c5c5c5" stroke="#b0b0b0" stroke-width="0.3" opacity="1"/><path d="M1747.8,291.2 L1745.7,279.3 L1743.4,268.6 L1741.2,259.0 L1738.9,250.5 L1736.7,243.0 L1734.4,236.7 L1732.1,231.5 L1729.7,227.4 L1727.3,224.3 L1724.9,222.5 L1722.5,221.8 L1720.4,222.5 L1720.4,222.8 L1722.4,222.7 L1724.2,223.6 L1726.0,225.5 L1728.0,228.4 L1730.1,232.4 L1732.3,237.5 L1734.6,243.7 L1737.0,251.0 L1739.5,259.4 L1742.1,268.9 L1744.7,279.5 L1747.5,291.2Z" fill="#c5c5c5" stroke="#b0b0b0" stroke-width="0.3" opacity="1"/><path d="M1748.7,291.2 L1750.3,279.3 L1751.7,268.4 L1753.1,258.6 L1754.4,249.9 L1755.6,242.1 L1756.8,235.5 L1757.9,229.9 L1758.9,225.3 L1759.9,221.8 L1760.8,219.4 L1761.5,217.9 L1762.3,217.4 L1762.2,217.1 L1760.9,217.2 L1759.5,218.7 L1758.2,221.2 L1757.0,224.8 L1755.8,229.4 L1754.7,235.1 L1753.5,241.8 L1752.4,249.6 L1751.4,258.4 L1750.3,268.3 L1749.3,279.2 L1748.4,291.2Z" fill="#c5c5c5" stroke="#b0b0b0" stroke-width="0.3" opacity="1"/><path d="M1750.5,291.2 L1751.1,289.0 L1751.6,287.0 L1752.0,285.3 L1752.4,283.8 L1752.7,282.5 L1753.0,281.4 L1753.2,280.5 L1753.4,280.0 L1753.4,279.6 L1753.2,279.5 L1752.9,279.3 L1753.3,279.2 L1753.5,279.0 L1753.4,278.5 L1752.6,278.3 L1752.0,278.6 L1751.5,279.2 L1751.2,279.9 L1750.9,280.8 L1750.6,282.0 L1750.5,283.4 L1750.3,285.0 L1750.2,286.8 L1750.2,288.9 L1750.2,291.2Z" fill="#c5c5c5" stroke="#b0b0b0" stroke-width="0.3" opacity="1"/><path d="M1749.6,291.2 L1748.6,279.3 L1747.5,268.5 L1746.3,258.8 L1745.2,250.2 L1744.0,242.6 L1742.7,236.1 L1741.5,230.6 L1740.2,226.2 L1738.8,222.9 L1737.4,220.7 L1735.9,219.5 L1734.6,219.7 L1734.6,220.0 L1735.5,220.3 L1736.3,221.5 L1737.2,223.6 L1738.3,226.8 L1739.4,231.2 L1740.6,236.5 L1741.8,243.0 L1743.2,250.5 L1744.6,259.1 L1746.1,268.7 L1747.6,279.4 L1749.3,291.2Z" fill="#c5c5c5" stroke="#b0b0b0" stroke-width="0.3" opacity="1"/><path d="M1746.5,291.2 L1746.4,276.8 L1746.3,263.7 L1746.1,251.9 L1745.8,241.4 L1745.5,232.3 L1745.2,224.5 L1744.8,218.0 L1744.4,212.8 L1743.9,209.0 L1743.4,206.4 L1742.8,205.1 L1742.0,205.4 L1742.1,205.7 L1742.0,205.6 L1742.0,206.7 L1742.2,209.2 L1742.4,213.0 L1742.7,218.1 L1743.0,224.6 L1743.4,232.4 L1743.8,241.5 L1744.3,251.9 L1744.9,263.7 L1745.5,276.8 L1746.2,291.2Z" fill="#c5c5c5" stroke="#b0b0b0" stroke-width="0.3" opacity="1"/><path d="M1749.8,291.2 L1749.4,283.2 L1748.8,276.0 L1748.3,269.5 L1747.7,263.8 L1747.1,258.8 L1746.4,254.6 L1745.7,251.1 L1744.9,248.4 L1744.1,246.4 L1743.2,245.1 L1742.1,244.6 L1741.3,245.3 L1741.5,245.5 L1742.0,245.6 L1742.1,246.0 L1742.5,247.1 L1743.0,248.9 L1743.6,251.6 L1744.2,255.0 L1744.9,259.1 L1745.7,264.1 L1746.6,269.7 L1747.5,276.1 L1748.4,283.3 L1749.5,291.2Z" fill="#c5c5c5" stroke="#b0b0b0" stroke-width="0.3" opacity="1"/><path d="M1751.1,291.2 L1748.9,282.0 L1746.7,273.8 L1744.4,266.3 L1742.2,259.7 L1739.9,254.0 L1737.6,249.1 L1735.2,245.0 L1732.9,241.8 L1730.5,239.5 L1728.1,238.0 L1725.7,237.5 L1723.6,238.1 L1723.6,238.4 L1725.6,238.5 L1727.5,239.3 L1729.3,240.8 L1731.3,243.1 L1733.4,246.2 L1735.6,250.1 L1737.9,254.9 L1740.3,260.5 L1742.8,266.9 L1745.4,274.2 L1748.0,282.3 L1750.8,291.2Z" fill="#c5c5c5" stroke="#b0b0b0" stroke-width="0.3" opacity="1"/><path d="M1748.0,291.2 L1746.4,284.6 L1744.7,278.6 L1743.0,273.3 L1741.3,268.5 L1739.5,264.4 L1737.7,260.8 L1735.9,257.9 L1734.0,255.5 L1732.1,253.8 L1730.2,252.8 L1728.3,252.4 L1726.6,252.8 L1726.6,253.1 L1728.2,253.3 L1729.6,254.0 L1731.0,255.1 L1732.5,256.8 L1734.1,259.1 L1735.8,261.9 L1737.5,265.3 L1739.4,269.3 L1741.4,273.9 L1743.4,279.1 L1745.5,284.9 L1747.7,291.2Z" fill="#c5c5c5" stroke="#b0b0b0" stroke-width="0.3" opacity="1"/><path d="M1752.0,291.2 L1750.4,280.0 L1748.7,269.7 L1747.0,260.5 L1745.2,252.2 L1743.5,245.0 L1741.7,238.7 L1739.9,233.4 L1738.0,229.2 L1736.2,225.9 L1734.2,223.6 L1732.3,222.4 L1730.5,222.4 L1730.4,222.7 L1731.9,223.3 L1733.2,224.6 L1734.7,226.8 L1736.2,230.0 L1737.9,234.2 L1739.6,239.4 L1741.4,245.5 L1743.3,252.7 L1745.3,260.8 L1747.3,270.0 L1749.5,280.1 L1751.7,291.2Z" fill="#c5c5c5" stroke="#b0b0b0" stroke-width="0.3" opacity="1"/><path d="M1750.1,291.2 L1752.2,276.9 L1754.2,263.8 L1756.1,252.1 L1758.0,241.7 L1759.8,232.7 L1761.4,224.9 L1763.0,218.5 L1764.6,213.4 L1766.0,209.7 L1767.3,207.3 L1768.4,206.1 L1769.8,206.0 L1769.8,205.7 L1768.2,205.2 L1766.2,206.4 L1764.4,208.9 L1762.7,212.8 L1761.0,217.9 L1759.3,224.4 L1757.6,232.3 L1756.0,241.4 L1754.4,251.9 L1752.8,263.6 L1751.3,276.7 L1749.8,291.2Z" fill="#c5c5c5" stroke="#b0b0b0" stroke-width="0.3" opacity="1"/><path d="M1751.2,291.2 L1752.1,284.6 L1753.0,278.6 L1753.8,273.1 L1754.6,268.4 L1755.2,264.2 L1755.9,260.7 L1756.4,257.8 L1756.9,255.5 L1757.3,253.8 L1757.7,252.8 L1757.8,252.4 L1758.2,252.2 L1758.2,252.0 L1757.5,251.5 L1756.5,252.0 L1755.7,253.2 L1755.0,254.9 L1754.3,257.3 L1753.7,260.3 L1753.1,263.9 L1752.6,268.1 L1752.1,272.9 L1751.6,278.4 L1751.2,284.5 L1750.9,291.2Z" fill="#c5c5c5" stroke="#b0b0b0" stroke-width="0.3" opacity="1"/><path d="M1745.5,291.2 L1743.4,281.2 L1741.3,272.2 L1739.1,264.1 L1736.9,256.9 L1734.7,250.6 L1732.5,245.3 L1730.2,240.9 L1727.9,237.4 L1725.6,234.9 L1723.3,233.4 L1720.9,232.9 L1718.9,233.5 L1718.9,233.8 L1720.9,233.8 L1722.6,234.6 L1724.4,236.2 L1726.3,238.6 L1728.3,242.0 L1730.5,246.2 L1732.7,251.4 L1735.0,257.5 L1737.4,264.6 L1739.9,272.5 L1742.5,281.4 L1745.2,291.2Z" fill="#c5c5c5" stroke="#b0b0b0" stroke-width="0.3" opacity="1"/><path d="M1752.7,291.2 L1751.0,285.2 L1749.1,279.8 L1747.2,275.0 L1745.3,270.7 L1743.4,267.0 L1741.5,263.9 L1739.5,261.3 L1737.5,259.3 L1735.4,257.9 L1733.4,257.1 L1731.4,257.0 L1729.7,257.6 L1729.7,257.9 L1731.4,258.0 L1733.0,258.4 L1734.5,259.4 L1736.1,260.8 L1737.8,262.7 L1739.7,265.1 L1741.6,268.1 L1743.6,271.6 L1745.6,275.7 L1747.8,280.3 L1750.1,285.5 L1752.5,291.3Z" fill="#c5c5c5" stroke="#b0b0b0" stroke-width="0.3" opacity="1"/><path d="M1747.7,291.2 L1746.6,279.0 L1745.5,267.9 L1744.4,257.8 L1743.2,248.8 L1742.0,240.9 L1740.7,234.0 L1739.4,228.2 L1738.1,223.4 L1736.8,219.7 L1735.4,217.1 L1734.0,215.6 L1732.6,215.3 L1732.4,215.6 L1733.3,216.3 L1734.2,217.8 L1735.2,220.4 L1736.2,224.0 L1737.4,228.7 L1738.6,234.4 L1739.8,241.2 L1741.2,249.1 L1742.6,258.1 L1744.1,268.1 L1745.7,279.1 L1747.4,291.2Z" fill="#c5c5c5" stroke="#b0b0b0" stroke-width="0.3" opacity="1"/><path d="M1751.1,291.2 L1749.0,284.1 L1746.9,277.7 L1744.8,272.0 L1742.7,267.0 L1740.5,262.6 L1738.3,259.0 L1736.1,256.0 L1733.9,253.7 L1731.6,252.1 L1729.3,251.3 L1727.1,251.3 L1725.2,252.1 L1725.2,252.4 L1727.2,252.3 L1729.0,252.7 L1730.7,253.6 L1732.5,255.2 L1734.5,257.3 L1736.5,260.2 L1738.6,263.7 L1740.9,267.8 L1743.2,272.7 L1745.6,278.2 L1748.1,284.4 L1750.8,291.3Z" fill="#c5c5c5" stroke="#b0b0b0" stroke-width="0.3" opacity="1"/><path d="M1748.8,291.3 L1750.9,287.3 L1753.0,283.7 L1754.9,280.5 L1756.8,277.6 L1758.6,275.2 L1760.3,273.2 L1761.9,271.5 L1763.4,270.2 L1764.8,269.2 L1766.3,268.6 L1767.7,268.3 L1769.2,268.2 L1769.3,267.9 L1767.7,267.3 L1766.0,267.2 L1764.1,267.6 L1762.3,268.5 L1760.4,269.9 L1758.6,271.7 L1756.9,273.9 L1755.1,276.5 L1753.4,279.6 L1751.7,283.0 L1750.1,286.9 L1748.5,291.1Z" fill="#c5c5c5" stroke="#b0b0b0" stroke-width="0.3" opacity="1"/><path d="M1746.0,291.2 L1747.4,287.6 L1748.7,284.4 L1749.9,281.5 L1751.0,279.0 L1752.1,276.9 L1753.1,275.1 L1753.9,273.8 L1754.7,272.8 L1755.4,272.1 L1756.1,271.7 L1756.8,271.5 L1757.7,271.6 L1757.8,271.4 L1757.0,270.6 L1755.9,270.3 L1754.6,270.6 L1753.4,271.3 L1752.2,272.5 L1751.2,274.0 L1750.1,275.9 L1749.2,278.2 L1748.2,280.9 L1747.3,283.9 L1746.5,287.4 L1745.7,291.2Z" fill="#c5c5c5" stroke="#b0b0b0" stroke-width="0.3" opacity="1"/><path d="M1753.5,291.2 L1755.0,285.3 L1756.5,280.0 L1757.9,275.3 L1759.2,271.1 L1760.4,267.6 L1761.6,264.6 L1762.7,262.1 L1763.7,260.3 L1764.6,259.1 L1765.3,258.3 L1766.1,258.0 L1767.1,258.1 L1767.3,257.8 L1766.2,257.0 L1764.8,257.0 L1763.4,257.8 L1762.1,259.2 L1760.8,261.2 L1759.6,263.7 L1758.4,266.8 L1757.3,270.6 L1756.2,274.8 L1755.1,279.7 L1754.1,285.1 L1753.2,291.2Z" fill="#c5c5c5" stroke="#b0b0b0" stroke-width="0.3" opacity="1"/><path d="M1753.6,291.2 L1750.7,280.6 L1747.7,271.1 L1744.8,262.4 L1741.8,254.8 L1738.8,248.0 L1735.8,242.3 L1732.8,237.4 L1729.8,233.5 L1726.8,230.6 L1723.7,228.7 L1720.8,227.9 L1718.0,228.2 L1718.0,228.5 L1720.6,228.8 L1723.1,230.0 L1725.6,232.0 L1728.3,234.8 L1731.0,238.6 L1733.9,243.3 L1736.9,249.0 L1739.9,255.6 L1743.1,263.1 L1746.4,271.5 L1749.8,280.9 L1753.3,291.2Z" fill="#c5c5c5" stroke="#b0b0b0" stroke-width="0.3" opacity="1"/><path d="M1749.0,291.2 L1749.1,284.2 L1749.0,277.9 L1748.9,272.1 L1748.7,267.0 L1748.5,262.5 L1748.3,258.7 L1748.0,255.4 L1747.6,252.8 L1747.2,250.8 L1746.8,249.4 L1746.3,248.6 L1745.7,248.6 L1745.6,248.8 L1745.5,249.1 L1745.5,249.7 L1745.5,251.0 L1745.7,253.0 L1745.8,255.6 L1746.1,258.8 L1746.4,262.7 L1746.7,267.1 L1747.1,272.2 L1747.6,277.9 L1748.1,284.3 L1748.7,291.2Z" fill="#c5c5c5" stroke="#b0b0b0" stroke-width="0.3" opacity="1"/><line x1="1748.2" y1="186.0" x2="1747.1" y2="182.5" stroke="#b5b5b5" stroke-width="1.0" stroke-linecap="round" opacity="1"/><circle cx="1748.2" cy="186.0" r="0.9" fill="#aaaaaa"/><line x1="1742.1" y1="219.9" x2="1740.6" y2="216.4" stroke="#b5b5b5" stroke-width="1.0" stroke-linecap="round" opacity="1"/><circle cx="1742.1" cy="219.9" r="0.9" fill="#aaaaaa"/><line x1="1746.3" y1="184.6" x2="1744.0" y2="182.4" stroke="#b5b5b5" stroke-width="1.0" stroke-linecap="round" opacity="1"/><circle cx="1746.3" cy="184.6" r="0.9" fill="#aaaaaa"/><line x1="1744.1" y1="186.6" x2="1745.1" y2="185.1" stroke="#b5b5b5" stroke-width="1.0" stroke-linecap="round" opacity="1"/><circle cx="1744.1" cy="186.6" r="0.9" fill="#aaaaaa"/><line x1="1761.1" y1="204.1" x2="1762.0" y2="201.2" stroke="#b5b5b5" stroke-width="1.0" stroke-linecap="round" opacity="1"/><line x1="1762.9" y1="214.0" x2="1761.1" y2="212.6" stroke="#b5b5b5" stroke-width="1.0" stroke-linecap="round" opacity="1"/><line x1="1750.9" y1="202.1" x2="1752.4" y2="200.4" stroke="#b5b5b5" stroke-width="1.0" stroke-linecap="round" opacity="1"/><line x1="1748.5" y1="198.1" x2="1747.2" y2="196.1" stroke="#b5b5b5" stroke-width="1.0" stroke-linecap="round" opacity="1"/><line x1="1761.6" y1="203.6" x2="1760.4" y2="200.7" stroke="#b5b5b5" stroke-width="1.0" stroke-linecap="round" opacity="1"/><circle cx="1761.6" cy="203.6" r="0.9" fill="#aaaaaa"/><line x1="1739.8" y1="207.8" x2="1741.7" y2="204.3" stroke="#b5b5b5" stroke-width="1.0" stroke-linecap="round" opacity="1"/><circle cx="1739.8" cy="207.8" r="0.9" fill="#aaaaaa"/><line x1="1740.2" y1="214.5" x2="1739.2" y2="213.0" stroke="#b5b5b5" stroke-width="1.0" stroke-linecap="round" opacity="1"/><circle cx="1740.2" cy="214.5" r="0.9" fill="#aaaaaa"/><line x1="1752.5" y1="184.2" x2="1752.9" y2="182.0" stroke="#b5b5b5" stroke-width="1.0" stroke-linecap="round" opacity="1"/><line x1="1747.6" y1="189.8" x2="1746.9" y2="188.4" stroke="#b5b5b5" stroke-width="1.0" stroke-linecap="round" opacity="1"/><line x1="1746.5" y1="183.5" x2="1748.1" y2="180.4" stroke="#b5b5b5" stroke-width="1.0" stroke-linecap="round" opacity="1"/><circle cx="1746.5" cy="183.5" r="0.9" fill="#aaaaaa"/><line x1="1742.0" y1="197.9" x2="1739.4" y2="195.4" stroke="#b5b5b5" stroke-width="1.0" stroke-linecap="round" opacity="1"/><circle cx="1742.0" cy="197.9" r="0.9" fill="#aaaaaa"/><line x1="1755.4" y1="186.2" x2="1752.9" y2="184.1" stroke="#b5b5b5" stroke-width="1.0" stroke-linecap="round" opacity="1"/><line x1="1736.9" y1="211.9" x2="1738.2" y2="209.3" stroke="#b5b5b5" stroke-width="1.0" stroke-linecap="round" opacity="1"/><line x1="1762.3" y1="220.3" x2="1762.9" y2="217.3" stroke="#b5b5b5" stroke-width="1.0" stroke-linecap="round" opacity="1"/><circle cx="1762.3" cy="220.3" r="0.9" fill="#aaaaaa"/><line x1="1759.1" y1="203.5" x2="1759.7" y2="201.3" stroke="#b5b5b5" stroke-width="1.0" stroke-linecap="round" opacity="1"/><circle cx="1759.1" cy="203.5" r="0.9" fill="#aaaaaa"/><line x1="1744.7" y1="213.7" x2="1744.3" y2="211.8" stroke="#b5b5b5" stroke-width="1.0" stroke-linecap="round" opacity="1"/><line x1="1757.8" y1="197.0" x2="1758.3" y2="194.4" stroke="#b5b5b5" stroke-width="1.0" stroke-linecap="round" opacity="1"/><line x1="1751.2" y1="198.7" x2="1752.5" y2="195.8" stroke="#b5b5b5" stroke-width="1.0" stroke-linecap="round" opacity="1"/><line x1="1752.6" y1="218.1" x2="1752.9" y2="216.3" stroke="#b5b5b5" stroke-width="1.0" stroke-linecap="round" opacity="1"/><circle cx="1752.6" cy="218.1" r="0.9" fill="#aaaaaa"/><line x1="1750.3" y1="198.4" x2="1752.4" y2="197.0" stroke="#b5b5b5" stroke-width="1.0" stroke-linecap="round" opacity="1"/><circle cx="1750.3" cy="198.4" r="0.9" fill="#aaaaaa"/><line x1="1748.9" y1="211.6" x2="1750.8" y2="209.9" stroke="#b5b5b5" stroke-width="1.0" stroke-linecap="round" opacity="1"/><line x1="1751.9" y1="198.3" x2="1749.6" y2="196.1" stroke="#b5b5b5" stroke-width="1.0" stroke-linecap="round" opacity="1"/><line x1="1752.5" y1="211.4" x2="1752.1" y2="210.0" stroke="#b5b5b5" stroke-width="1.0" stroke-linecap="round" opacity="1"/><line x1="1755.7" y1="198.9" x2="1756.3" y2="196.7" stroke="#b5b5b5" stroke-width="1.0" stroke-linecap="round" opacity="1"/><line x1="1755.7" y1="185.4" x2="1753.5" y2="182.0" stroke="#b5b5b5" stroke-width="1.0" stroke-linecap="round" opacity="1"/><line x1="1760.8" y1="199.0" x2="1760.9" y2="196.6" stroke="#b5b5b5" stroke-width="1.0" stroke-linecap="round" opacity="1"/><circle cx="1760.8" cy="199.0" r="0.9" fill="#aaaaaa"/><line x1="1755.3" y1="214.1" x2="1753.9" y2="212.5" stroke="#b5b5b5" stroke-width="1.0" stroke-linecap="round" opacity="1"/><circle cx="1755.3" cy="214.1" r="0.9" fill="#aaaaaa"/><line x1="1765.1" y1="220.0" x2="1765.0" y2="218.6" stroke="#b5b5b5" stroke-width="1.0" stroke-linecap="round" opacity="1"/><line x1="1753.7" y1="188.4" x2="1753.7" y2="185.0" stroke="#b5b5b5" stroke-width="1.0" stroke-linecap="round" opacity="1"/><circle cx="1753.7" cy="188.4" r="0.9" fill="#aaaaaa"/><line x1="1758.2" y1="213.9" x2="1755.6" y2="211.3" stroke="#b5b5b5" stroke-width="1.0" stroke-linecap="round" opacity="1"/><circle cx="1758.2" cy="213.9" r="0.9" fill="#aaaaaa"/><line x1="1765.3" y1="209.7" x2="1766.2" y2="207.2" stroke="#b5b5b5" stroke-width="1.0" stroke-linecap="round" opacity="1"/><line x1="1749.8" y1="190.4" x2="1747.8" y2="187.5" stroke="#b5b5b5" stroke-width="1.0" stroke-linecap="round" opacity="1"/><circle cx="1749.8" cy="190.4" r="0.9" fill="#aaaaaa"/><line x1="1741.7" y1="202.4" x2="1742.1" y2="201.0" stroke="#b5b5b5" stroke-width="1.0" stroke-linecap="round" opacity="1"/><circle cx="1741.7" cy="202.4" r="0.9" fill="#aaaaaa"/><line x1="1756.9" y1="206.6" x2="1759.0" y2="203.8" stroke="#b5b5b5" stroke-width="1.0" stroke-linecap="round" opacity="1"/><line x1="1751.9" y1="185.9" x2="1752.6" y2="184.2" stroke="#b5b5b5" stroke-width="1.0" stroke-linecap="round" opacity="1"/><circle cx="1751.9" cy="185.9" r="0.9" fill="#aaaaaa"/><line x1="1750.7" y1="190.1" x2="1752.2" y2="187.2" stroke="#b5b5b5" stroke-width="1.0" stroke-linecap="round" opacity="1"/><line x1="1752.3" y1="183.1" x2="1752.4" y2="181.4" stroke="#b5b5b5" stroke-width="1.0" stroke-linecap="round" opacity="1"/><line x1="1747.2" y1="190.3" x2="1746.9" y2="187.3" stroke="#b5b5b5" stroke-width="1.0" stroke-linecap="round" opacity="1"/><circle cx="1747.2" cy="190.3" r="0.9" fill="#aaaaaa"/><line x1="1744.0" y1="198.8" x2="1744.9" y2="195.6" stroke="#b5b5b5" stroke-width="1.0" stroke-linecap="round" opacity="1"/><circle cx="1744.0" cy="198.8" r="0.9" fill="#aaaaaa"/><line x1="1749.1" y1="210.7" x2="1747.6" y2="208.8" stroke="#b5b5b5" stroke-width="1.0" stroke-linecap="round" opacity="1"/><line x1="1754.0" y1="214.5" x2="1751.3" y2="211.4" stroke="#b5b5b5" stroke-width="1.0" stroke-linecap="round" opacity="1"/><line x1="1744.3" y1="197.9" x2="1744.0" y2="195.1" stroke="#b5b5b5" stroke-width="1.0" stroke-linecap="round" opacity="1"/><circle cx="1744.3" cy="197.9" r="0.9" fill="#aaaaaa"/><line x1="1754.9" y1="185.7" x2="1754.6" y2="184.2" stroke="#b5b5b5" stroke-width="1.0" stroke-linecap="round" opacity="1"/><line x1="1748.9" y1="184.4" x2="1749.5" y2="181.6" stroke="#b5b5b5" stroke-width="1.0" stroke-linecap="round" opacity="1"/><line x1="1751.3" y1="187.3" x2="1753.3" y2="184.9" stroke="#b5b5b5" stroke-width="1.0" stroke-linecap="round" opacity="1"/><line x1="1755.7" y1="199.8" x2="1758.1" y2="197.7" stroke="#b5b5b5" stroke-width="1.0" stroke-linecap="round" opacity="1"/><line x1="1758.2" y1="194.6" x2="1759.6" y2="191.4" stroke="#b5b5b5" stroke-width="1.0" stroke-linecap="round" opacity="1"/><line x1="1763.4" y1="205.4" x2="1761.6" y2="202.8" stroke="#b5b5b5" stroke-width="1.0" stroke-linecap="round" opacity="1"/><circle cx="1763.4" cy="205.4" r="0.9" fill="#aaaaaa"/><line x1="1755.7" y1="204.8" x2="1754.6" y2="201.7" stroke="#b5b5b5" stroke-width="1.0" stroke-linecap="round" opacity="1"/><circle cx="1755.7" cy="204.8" r="0.9" fill="#aaaaaa"/><line x1="1745.9" y1="188.2" x2="1746.3" y2="186.1" stroke="#b5b5b5" stroke-width="1.0" stroke-linecap="round" opacity="1"/><circle cx="1745.9" cy="188.2" r="0.9" fill="#aaaaaa"/><line x1="1759.3" y1="192.9" x2="1759.1" y2="190.1" stroke="#b5b5b5" stroke-width="1.0" stroke-linecap="round" opacity="1"/><circle cx="1759.3" cy="192.9" r="0.9" fill="#aaaaaa"/><line x1="1751.3" y1="182.8" x2="1749.8" y2="181.2" stroke="#b5b5b5" stroke-width="1.0" stroke-linecap="round" opacity="1"/><line x1="1734.8" y1="208.8" x2="1737.1" y2="207.4" stroke="#b5b5b5" stroke-width="1.0" stroke-linecap="round" opacity="1"/><circle cx="1734.8" cy="208.8" r="0.9" fill="#aaaaaa"/><line x1="1756.2" y1="193.9" x2="1757.5" y2="190.9" stroke="#b5b5b5" stroke-width="1.0" stroke-linecap="round" opacity="1"/><circle cx="1756.2" cy="193.9" r="0.9" fill="#aaaaaa"/><line x1="1735.9" y1="219.0" x2="1738.4" y2="217.5" stroke="#b5b5b5" stroke-width="1.0" stroke-linecap="round" opacity="1"/><circle cx="1735.9" cy="219.0" r="0.9" fill="#aaaaaa"/><line x1="1759.6" y1="212.1" x2="1760.5" y2="210.2" stroke="#b5b5b5" stroke-width="1.0" stroke-linecap="round" opacity="1"/><line x1="1742.6" y1="201.9" x2="1740.4" y2="198.4" stroke="#b5b5b5" stroke-width="1.0" stroke-linecap="round" opacity="1"/><circle cx="1742.6" cy="201.9" r="0.9" fill="#aaaaaa"/><line x1="1748.1" y1="189.2" x2="1750.2" y2="186.0" stroke="#b5b5b5" stroke-width="1.0" stroke-linecap="round" opacity="1"/><line x1="1735.5" y1="206.9" x2="1736.8" y2="205.1" stroke="#b5b5b5" stroke-width="1.0" stroke-linecap="round" opacity="1"/><line x1="1732.5" y1="221.5" x2="1733.7" y2="219.6" stroke="#b5b5b5" stroke-width="1.0" stroke-linecap="round" opacity="1"/><circle cx="1732.5" cy="221.5" r="0.9" fill="#aaaaaa"/><line x1="1748.1" y1="217.4" x2="1747.0" y2="214.8" stroke="#b5b5b5" stroke-width="1.0" stroke-linecap="round" opacity="1"/><circle cx="1748.1" cy="217.4" r="0.9" fill="#aaaaaa"/><line x1="1753.8" y1="198.0" x2="1755.7" y2="196.4" stroke="#b5b5b5" stroke-width="1.0" stroke-linecap="round" opacity="1"/><line x1="1747.3" y1="184.3" x2="1746.4" y2="182.6" stroke="#b5b5b5" stroke-width="1.0" stroke-linecap="round" opacity="1"/><circle cx="1747.3" cy="184.3" r="0.9" fill="#aaaaaa"/><line x1="1747.2" y1="207.9" x2="1745.5" y2="205.5" stroke="#b5b5b5" stroke-width="1.0" stroke-linecap="round" opacity="1"/><circle cx="1747.2" cy="207.9" r="0.9" fill="#aaaaaa"/><line x1="1765.2" y1="209.1" x2="1765.0" y2="206.8" stroke="#b5b5b5" stroke-width="1.0" stroke-linecap="round" opacity="1"/><circle cx="1765.2" cy="209.1" r="0.9" fill="#aaaaaa"/><line x1="1748.5" y1="195.5" x2="1746.8" y2="193.5" stroke="#b5b5b5" stroke-width="1.0" stroke-linecap="round" opacity="1"/><line x1="1739.5" y1="200.4" x2="1737.6" y2="197.2" stroke="#b5b5b5" stroke-width="1.0" stroke-linecap="round" opacity="1"/><circle cx="1739.5" cy="200.4" r="0.9" fill="#aaaaaa"/><line x1="1754.6" y1="215.5" x2="1755.3" y2="213.3" stroke="#b5b5b5" stroke-width="1.0" stroke-linecap="round" opacity="1"/><line x1="1750.7" y1="197.6" x2="1753.1" y2="196.0" stroke="#b5b5b5" stroke-width="1.0" stroke-linecap="round" opacity="1"/><circle cx="1750.7" cy="197.6" r="0.9" fill="#aaaaaa"/><line x1="1767.0" y1="218.6" x2="1768.6" y2="215.4" stroke="#b5b5b5" stroke-width="1.0" stroke-linecap="round" opacity="1"/><circle cx="1767.0" cy="218.6" r="0.9" fill="#aaaaaa"/><line x1="1737.9" y1="210.7" x2="1739.7" y2="208.5" stroke="#b5b5b5" stroke-width="1.0" stroke-linecap="round" opacity="1"/><circle cx="1737.9" cy="210.7" r="0.9" fill="#aaaaaa"/><line x1="1742.5" y1="202.1" x2="1742.9" y2="198.9" stroke="#b5b5b5" stroke-width="1.0" stroke-linecap="round" opacity="1"/><circle cx="1742.5" cy="202.1" r="0.9" fill="#aaaaaa"/><line x1="1747.2" y1="198.6" x2="1745.5" y2="196.7" stroke="#b5b5b5" stroke-width="1.0" stroke-linecap="round" opacity="1"/><line x1="1745.2" y1="221.3" x2="1744.1" y2="219.2" stroke="#b5b5b5" stroke-width="1.0" stroke-linecap="round" opacity="1"/><line x1="1744.9" y1="191.0" x2="1743.9" y2="189.5" stroke="#b5b5b5" stroke-width="1.0" stroke-linecap="round" opacity="1"/><circle cx="1744.9" cy="191.0" r="0.9" fill="#aaaaaa"/><line x1="1752.7" y1="189.7" x2="1755.0" y2="187.8" stroke="#b5b5b5" stroke-width="1.0" stroke-linecap="round" opacity="1"/><circle cx="1752.7" cy="189.7" r="0.9" fill="#aaaaaa"/><line x1="1736.8" y1="205.0" x2="1734.6" y2="202.4" stroke="#b5b5b5" stroke-width="1.0" stroke-linecap="round" opacity="1"/><circle cx="1736.8" cy="205.0" r="0.9" fill="#aaaaaa"/><line x1="1748.6" y1="194.9" x2="1746.0" y2="193.0" stroke="#b5b5b5" stroke-width="1.0" stroke-linecap="round" opacity="1"/><circle cx="1748.6" cy="194.9" r="0.9" fill="#aaaaaa"/><line x1="1743.4" y1="190.0" x2="1745.0" y2="188.6" stroke="#b5b5b5" stroke-width="1.0" stroke-linecap="round" opacity="1"/><circle cx="1743.4" cy="190.0" r="0.9" fill="#aaaaaa"/><line x1="1746.4" y1="187.1" x2="1747.7" y2="183.7" stroke="#b5b5b5" stroke-width="1.0" stroke-linecap="round" opacity="1"/><line x1="1751.2" y1="194.0" x2="1750.8" y2="192.5" stroke="#b5b5b5" stroke-width="1.0" stroke-linecap="round" opacity="1"/><circle cx="1751.2" cy="194.0" r="0.9" fill="#aaaaaa"/><line x1="1747.3" y1="206.0" x2="1748.8" y2="203.7" stroke="#b5b5b5" stroke-width="1.0" stroke-linecap="round" opacity="1"/><circle cx="1747.3" cy="206.0" r="0.9" fill="#aaaaaa"/><line x1="1753.1" y1="218.3" x2="1751.8" y2="214.9" stroke="#b5b5b5" stroke-width="1.0" stroke-linecap="round" opacity="1"/><circle cx="1753.1" cy="218.3" r="0.9" fill="#aaaaaa"/><line x1="1749.4" y1="205.7" x2="1751.3" y2="202.7" stroke="#b5b5b5" stroke-width="1.0" stroke-linecap="round" opacity="1"/><circle cx="1749.4" cy="205.7" r="0.9" fill="#aaaaaa"/><line x1="1756.1" y1="195.5" x2="1757.9" y2="192.8" stroke="#b5b5b5" stroke-width="1.0" stroke-linecap="round" opacity="1"/><line x1="1748.1" y1="202.4" x2="1747.1" y2="200.5" stroke="#b5b5b5" stroke-width="1.0" stroke-linecap="round" opacity="1"/><circle cx="1748.1" cy="202.4" r="0.9" fill="#aaaaaa"/><line x1="1752.4" y1="219.5" x2="1750.2" y2="217.7" stroke="#b5b5b5" stroke-width="1.0" stroke-linecap="round" opacity="1"/><circle cx="1752.4" cy="219.5" r="0.9" fill="#aaaaaa"/><line x1="1763.1" y1="214.4" x2="1764.5" y2="212.5" stroke="#b5b5b5" stroke-width="1.0" stroke-linecap="round" opacity="1"/><circle cx="1763.1" cy="214.4" r="0.9" fill="#aaaaaa"/><line x1="1745.8" y1="220.5" x2="1746.6" y2="219.1" stroke="#b5b5b5" stroke-width="1.0" stroke-linecap="round" opacity="1"/><circle cx="1745.8" cy="220.5" r="0.9" fill="#aaaaaa"/><line x1="1761.0" y1="201.5" x2="1763.5" y2="198.5" stroke="#b5b5b5" stroke-width="1.0" stroke-linecap="round" opacity="1"/><circle cx="1761.0" cy="201.5" r="0.9" fill="#aaaaaa"/><line x1="1766.1" y1="217.3" x2="1763.9" y2="215.0" stroke="#b5b5b5" stroke-width="1.0" stroke-linecap="round" opacity="1"/><line x1="1745.5" y1="192.9" x2="1747.0" y2="191.1" stroke="#b5b5b5" stroke-width="1.0" stroke-linecap="round" opacity="1"/><line x1="1750.1" y1="180.6" x2="1752.6" y2="179.3" stroke="#b5b5b5" stroke-width="1.0" stroke-linecap="round" opacity="1"/><circle cx="1750.1" cy="180.6" r="0.9" fill="#aaaaaa"/><line x1="1766.5" y1="218.5" x2="1766.5" y2="216.5" stroke="#b5b5b5" stroke-width="1.0" stroke-linecap="round" opacity="1"/><circle cx="1766.5" cy="218.5" r="0.9" fill="#aaaaaa"/><line x1="1753.0" y1="211.3" x2="1752.8" y2="208.5" stroke="#b5b5b5" stroke-width="1.0" stroke-linecap="round" opacity="1"/><circle cx="1753.0" cy="211.3" r="0.9" fill="#aaaaaa"/><line x1="1758.6" y1="196.5" x2="1760.8" y2="194.1" stroke="#b5b5b5" stroke-width="1.0" stroke-linecap="round" opacity="1"/><line x1="1751.2" y1="217.8" x2="1749.3" y2="216.2" stroke="#b5b5b5" stroke-width="1.0" stroke-linecap="round" opacity="1"/><line x1="1750.9" y1="194.4" x2="1748.4" y2="191.0" stroke="#b5b5b5" stroke-width="1.0" stroke-linecap="round" opacity="1"/><circle cx="1750.9" cy="194.4" r="0.9" fill="#aaaaaa"/><line x1="1754.1" y1="207.0" x2="1753.3" y2="205.2" stroke="#b5b5b5" stroke-width="1.0" stroke-linecap="round" opacity="1"/><line x1="1742.0" y1="193.8" x2="1740.3" y2="192.4" stroke="#b5b5b5" stroke-width="1.0" stroke-linecap="round" opacity="1"/><line x1="1756.5" y1="188.5" x2="1757.1" y2="185.0" stroke="#b5b5b5" stroke-width="1.0" stroke-linecap="round" opacity="1"/><circle cx="1756.5" cy="188.5" r="0.9" fill="#aaaaaa"/><line x1="1743.3" y1="190.7" x2="1744.0" y2="187.8" stroke="#b5b5b5" stroke-width="1.0" stroke-linecap="round" opacity="1"/><line x1="1734.6" y1="218.9" x2="1735.4" y2="216.0" stroke="#b5b5b5" stroke-width="1.0" stroke-linecap="round" opacity="1"/><line x1="1757.5" y1="190.5" x2="1755.0" y2="187.9" stroke="#b5b5b5" stroke-width="1.0" stroke-linecap="round" opacity="1"/><circle cx="1757.5" cy="190.5" r="0.9" fill="#aaaaaa"/><line x1="1741.7" y1="202.1" x2="1741.1" y2="200.0" stroke="#b5b5b5" stroke-width="1.0" stroke-linecap="round" opacity="1"/><circle cx="1741.7" cy="202.1" r="0.9" fill="#aaaaaa"/><line x1="1744.0" y1="197.2" x2="1742.2" y2="194.8" stroke="#b5b5b5" stroke-width="1.0" stroke-linecap="round" opacity="1"/><line x1="1737.3" y1="216.2" x2="1738.0" y2="214.6" stroke="#b5b5b5" stroke-width="1.0" stroke-linecap="round" opacity="1"/><circle cx="1737.3" cy="216.2" r="0.9" fill="#aaaaaa"/><line x1="1743.6" y1="222.6" x2="1741.5" y2="220.0" stroke="#b5b5b5" stroke-width="1.0" stroke-linecap="round" opacity="1"/><line x1="1762.1" y1="201.7" x2="1762.1" y2="199.6" stroke="#b5b5b5" stroke-width="1.0" stroke-linecap="round" opacity="1"/><circle cx="1762.1" cy="201.7" r="0.9" fill="#aaaaaa"/><line x1="1757.3" y1="204.8" x2="1757.3" y2="202.6" stroke="#b5b5b5" stroke-width="1.0" stroke-linecap="round" opacity="1"/><circle cx="1757.3" cy="204.8" r="0.9" fill="#aaaaaa"/><line x1="1768.6" y1="216.1" x2="1769.1" y2="213.2" stroke="#b5b5b5" stroke-width="1.0" stroke-linecap="round" opacity="1"/><circle cx="1768.6" cy="216.1" r="0.9" fill="#aaaaaa"/><line x1="1744.7" y1="186.5" x2="1745.3" y2="183.2" stroke="#b5b5b5" stroke-width="1.0" stroke-linecap="round" opacity="1"/><line x1="1761.7" y1="208.7" x2="1761.3" y2="206.4" stroke="#b5b5b5" stroke-width="1.0" stroke-linecap="round" opacity="1"/><circle cx="1761.7" cy="208.7" r="0.9" fill="#aaaaaa"/><line x1="1757.3" y1="215.5" x2="1757.4" y2="212.5" stroke="#b5b5b5" stroke-width="1.0" stroke-linecap="round" opacity="1"/><line x1="1748.3" y1="181.7" x2="1748.1" y2="178.8" stroke="#b5b5b5" stroke-width="1.0" stroke-linecap="round" opacity="1"/><circle cx="1748.3" cy="181.7" r="0.9" fill="#aaaaaa"/><line x1="1754.2" y1="198.8" x2="1753.1" y2="196.0" stroke="#b5b5b5" stroke-width="1.0" stroke-linecap="round" opacity="1"/><circle cx="1754.2" cy="198.8" r="0.9" fill="#aaaaaa"/><line x1="1753.5" y1="197.5" x2="1755.4" y2="195.0" stroke="#b5b5b5" stroke-width="1.0" stroke-linecap="round" opacity="1"/><line x1="1755.0" y1="208.3" x2="1754.7" y2="206.3" stroke="#b5b5b5" stroke-width="1.0" stroke-linecap="round" opacity="1"/><circle cx="1755.0" cy="208.3" r="0.9" fill="#aaaaaa"/><line x1="1760.9" y1="217.9" x2="1761.7" y2="214.9" stroke="#b5b5b5" stroke-width="1.0" stroke-linecap="round" opacity="1"/><circle cx="1760.9" cy="217.9" r="0.9" fill="#aaaaaa"/><line x1="1750.8" y1="187.3" x2="1750.6" y2="184.6" stroke="#b5b5b5" stroke-width="1.0" stroke-linecap="round" opacity="1"/><line x1="1747.5" y1="196.6" x2="1748.6" y2="193.3" stroke="#b5b5b5" stroke-width="1.0" stroke-linecap="round" opacity="1"/><line x1="1761.7" y1="205.3" x2="1764.0" y2="203.9" stroke="#b5b5b5" stroke-width="1.0" stroke-linecap="round" opacity="1"/><line x1="1750.8" y1="183.8" x2="1750.8" y2="180.3" stroke="#b5b5b5" stroke-width="1.0" stroke-linecap="round" opacity="1"/><circle cx="1750.8" cy="183.8" r="0.9" fill="#aaaaaa"/><line x1="1753.7" y1="181.6" x2="1753.5" y2="179.3" stroke="#b5b5b5" stroke-width="1.0" stroke-linecap="round" opacity="1"/><circle cx="1753.7" cy="181.6" r="0.9" fill="#aaaaaa"/><line x1="1742.0" y1="191.7" x2="1742.3" y2="189.9" stroke="#b5b5b5" stroke-width="1.0" stroke-linecap="round" opacity="1"/><circle cx="1742.0" cy="191.7" r="0.9" fill="#aaaaaa"/><line x1="1770.5" y1="222.6" x2="1769.5" y2="220.5" stroke="#b5b5b5" stroke-width="1.0" stroke-linecap="round" opacity="1"/><circle cx="1770.5" cy="222.6" r="0.9" fill="#aaaaaa"/><line x1="1740.9" y1="205.9" x2="1738.9" y2="202.5" stroke="#b5b5b5" stroke-width="1.0" stroke-linecap="round" opacity="1"/><line x1="1739.3" y1="218.0" x2="1737.6" y2="215.4" stroke="#b5b5b5" stroke-width="1.0" stroke-linecap="round" opacity="1"/><line x1="1750.4" y1="187.4" x2="1750.7" y2="185.0" stroke="#b5b5b5" stroke-width="1.0" stroke-linecap="round" opacity="1"/><circle cx="1750.4" cy="187.4" r="0.9" fill="#aaaaaa"/><line x1="1741.0" y1="199.0" x2="1738.8" y2="197.5" stroke="#b5b5b5" stroke-width="1.0" stroke-linecap="round" opacity="1"/><line x1="1753.2" y1="190.5" x2="1751.2" y2="187.2" stroke="#b5b5b5" stroke-width="1.0" stroke-linecap="round" opacity="1"/><circle cx="1753.2" cy="190.5" r="0.9" fill="#aaaaaa"/><line x1="1751.5" y1="214.4" x2="1753.6" y2="211.1" stroke="#b5b5b5" stroke-width="1.0" stroke-linecap="round" opacity="1"/><circle cx="1751.5" cy="214.4" r="0.9" fill="#aaaaaa"/><line x1="1748.4" y1="181.9" x2="1746.0" y2="178.7" stroke="#b5b5b5" stroke-width="1.0" stroke-linecap="round" opacity="1"/><circle cx="1748.4" cy="181.9" r="0.9" fill="#aaaaaa"/><line x1="1764.5" y1="208.8" x2="1765.6" y2="205.3" stroke="#b5b5b5" stroke-width="1.0" stroke-linecap="round" opacity="1"/><line x1="1760.7" y1="196.5" x2="1759.2" y2="193.9" stroke="#b5b5b5" stroke-width="1.0" stroke-linecap="round" opacity="1"/><circle cx="1760.7" cy="196.5" r="0.9" fill="#aaaaaa"/><line x1="1744.8" y1="203.2" x2="1747.2" y2="199.7" stroke="#b5b5b5" stroke-width="1.0" stroke-linecap="round" opacity="1"/><line x1="1762.0" y1="201.1" x2="1764.3" y2="199.7" stroke="#b5b5b5" stroke-width="1.0" stroke-linecap="round" opacity="1"/><line x1="1746.0" y1="184.4" x2="1744.7" y2="182.2" stroke="#b5b5b5" stroke-width="1.0" stroke-linecap="round" opacity="1"/><circle cx="1746.0" cy="184.4" r="0.9" fill="#aaaaaa"/><line x1="1736.1" y1="220.8" x2="1736.9" y2="218.4" stroke="#b5b5b5" stroke-width="1.0" stroke-linecap="round" opacity="1"/><circle cx="1736.1" cy="220.8" r="0.9" fill="#aaaaaa"/><line x1="1767.7" y1="222.6" x2="1766.9" y2="219.4" stroke="#b5b5b5" stroke-width="1.0" stroke-linecap="round" opacity="1"/><circle cx="1767.7" cy="222.6" r="0.9" fill="#aaaaaa"/><line x1="1763.9" y1="208.7" x2="1764.6" y2="206.6" stroke="#b5b5b5" stroke-width="1.0" stroke-linecap="round" opacity="1"/><circle cx="1763.9" cy="208.7" r="0.9" fill="#aaaaaa"/><line x1="1752.3" y1="199.8" x2="1751.1" y2="197.2" stroke="#b5b5b5" stroke-width="1.0" stroke-linecap="round" opacity="1"/><circle cx="1752.3" cy="199.8" r="0.9" fill="#aaaaaa"/><line x1="1750.0" y1="190.6" x2="1749.9" y2="187.7" stroke="#b5b5b5" stroke-width="1.0" stroke-linecap="round" opacity="1"/><circle cx="1750.0" cy="190.6" r="0.9" fill="#aaaaaa"/><line x1="1754.5" y1="191.8" x2="1753.3" y2="190.2" stroke="#b5b5b5" stroke-width="1.0" stroke-linecap="round" opacity="1"/><line x1="1752.2" y1="194.8" x2="1754.6" y2="191.3" stroke="#b5b5b5" stroke-width="1.0" stroke-linecap="round" opacity="1"/><line x1="1762.4" y1="221.6" x2="1761.6" y2="218.2" stroke="#b5b5b5" stroke-width="1.0" stroke-linecap="round" opacity="1"/><circle cx="1762.4" cy="221.6" r="0.9" fill="#aaaaaa"/><line x1="1727.6" y1="212.4" x2="1725.6" y2="209.7" stroke="#b5b5b5" stroke-width="1.0" stroke-linecap="round" opacity="1"/><line x1="1729.1" y1="212.4" x2="1726.9" y2="210.0" stroke="#b5b5b5" stroke-width="1.0" stroke-linecap="round" opacity="1"/><circle cx="1729.1" cy="212.4" r="0.9" fill="#aaaaaa"/><line x1="1721.6" y1="230.1" x2="1721.0" y2="227.2" stroke="#b5b5b5" stroke-width="1.0" stroke-linecap="round" opacity="1"/><circle cx="1721.6" cy="230.1" r="0.9" fill="#aaaaaa"/><line x1="1721.6" y1="227.4" x2="1719.4" y2="226.1" stroke="#b5b5b5" stroke-width="1.0" stroke-linecap="round" opacity="1"/><line x1="1728.0" y1="219.0" x2="1727.8" y2="215.7" stroke="#b5b5b5" stroke-width="1.0" stroke-linecap="round" opacity="1"/><circle cx="1728.0" cy="219.0" r="0.9" fill="#aaaaaa"/><line x1="1726.3" y1="210.9" x2="1728.1" y2="207.8" stroke="#b5b5b5" stroke-width="1.0" stroke-linecap="round" opacity="1"/><circle cx="1726.3" cy="210.9" r="0.9" fill="#aaaaaa"/><line x1="1728.5" y1="207.3" x2="1731.0" y2="205.4" stroke="#b5b5b5" stroke-width="1.0" stroke-linecap="round" opacity="1"/><line x1="1727.6" y1="208.5" x2="1725.9" y2="205.6" stroke="#b5b5b5" stroke-width="1.0" stroke-linecap="round" opacity="1"/><circle cx="1727.6" cy="208.5" r="0.9" fill="#aaaaaa"/><line x1="1725.6" y1="221.0" x2="1725.5" y2="217.6" stroke="#b5b5b5" stroke-width="1.0" stroke-linecap="round" opacity="1"/><line x1="1731.4" y1="231.0" x2="1730.0" y2="229.1" stroke="#b5b5b5" stroke-width="1.0" stroke-linecap="round" opacity="1"/><line x1="1722.3" y1="226.2" x2="1724.0" y2="224.2" stroke="#b5b5b5" stroke-width="1.0" stroke-linecap="round" opacity="1"/><line x1="1734.4" y1="229.0" x2="1732.7" y2="227.3" stroke="#b5b5b5" stroke-width="1.0" stroke-linecap="round" opacity="1"/><circle cx="1734.4" cy="229.0" r="0.9" fill="#aaaaaa"/><line x1="1733.4" y1="222.0" x2="1734.2" y2="219.0" stroke="#b5b5b5" stroke-width="1.0" stroke-linecap="round" opacity="1"/><line x1="1726.3" y1="218.9" x2="1727.9" y2="216.2" stroke="#b5b5b5" stroke-width="1.0" stroke-linecap="round" opacity="1"/><line x1="1727.0" y1="231.5" x2="1726.2" y2="229.9" stroke="#b5b5b5" stroke-width="1.0" stroke-linecap="round" opacity="1"/><line x1="1726.1" y1="215.0" x2="1726.1" y2="212.0" stroke="#b5b5b5" stroke-width="1.0" stroke-linecap="round" opacity="1"/><line x1="1729.2" y1="218.5" x2="1729.8" y2="215.2" stroke="#b5b5b5" stroke-width="1.0" stroke-linecap="round" opacity="1"/><line x1="1723.5" y1="227.9" x2="1725.4" y2="226.6" stroke="#b5b5b5" stroke-width="1.0" stroke-linecap="round" opacity="1"/><line x1="1727.8" y1="207.7" x2="1726.6" y2="206.0" stroke="#b5b5b5" stroke-width="1.0" stroke-linecap="round" opacity="1"/><line x1="1728.5" y1="210.7" x2="1726.3" y2="208.9" stroke="#b5b5b5" stroke-width="1.0" stroke-linecap="round" opacity="1"/><circle cx="1728.5" cy="210.7" r="0.9" fill="#aaaaaa"/><line x1="1729.5" y1="221.2" x2="1728.7" y2="217.9" stroke="#b5b5b5" stroke-width="1.0" stroke-linecap="round" opacity="1"/><circle cx="1729.5" cy="221.2" r="0.9" fill="#aaaaaa"/><line x1="1727.0" y1="212.0" x2="1727.5" y2="209.2" stroke="#b5b5b5" stroke-width="1.0" stroke-linecap="round" opacity="1"/><line x1="1728.8" y1="215.8" x2="1729.8" y2="214.1" stroke="#b5b5b5" stroke-width="1.0" stroke-linecap="round" opacity="1"/><circle cx="1728.8" cy="215.8" r="0.9" fill="#aaaaaa"/><line x1="1728.6" y1="218.1" x2="1728.8" y2="216.4" stroke="#b5b5b5" stroke-width="1.0" stroke-linecap="round" opacity="1"/><circle cx="1728.6" cy="218.1" r="0.9" fill="#aaaaaa"/><line x1="1724.2" y1="215.3" x2="1725.6" y2="212.0" stroke="#b5b5b5" stroke-width="1.0" stroke-linecap="round" opacity="1"/><line x1="1728.2" y1="212.7" x2="1725.7" y2="210.9" stroke="#b5b5b5" stroke-width="1.0" stroke-linecap="round" opacity="1"/><circle cx="1728.2" cy="212.7" r="0.9" fill="#aaaaaa"/><line x1="1728.6" y1="221.8" x2="1728.8" y2="220.2" stroke="#b5b5b5" stroke-width="1.0" stroke-linecap="round" opacity="1"/><line x1="1732.9" y1="225.5" x2="1732.3" y2="223.2" stroke="#b5b5b5" stroke-width="1.0" stroke-linecap="round" opacity="1"/><line x1="1727.9" y1="208.4" x2="1725.8" y2="205.3" stroke="#b5b5b5" stroke-width="1.0" stroke-linecap="round" opacity="1"/><line x1="1725.9" y1="209.1" x2="1728.2" y2="207.1" stroke="#b5b5b5" stroke-width="1.0" stroke-linecap="round" opacity="1"/><line x1="1726.2" y1="221.4" x2="1724.1" y2="218.5" stroke="#b5b5b5" stroke-width="1.0" stroke-linecap="round" opacity="1"/><circle cx="1726.2" cy="221.4" r="0.9" fill="#aaaaaa"/><line x1="1730.6" y1="217.7" x2="1732.9" y2="215.7" stroke="#b5b5b5" stroke-width="1.0" stroke-linecap="round" opacity="1"/><circle cx="1730.6" cy="217.7" r="0.9" fill="#aaaaaa"/><line x1="1726.9" y1="226.1" x2="1728.9" y2="224.0" stroke="#b5b5b5" stroke-width="1.0" stroke-linecap="round" opacity="1"/><circle cx="1726.9" cy="226.1" r="0.9" fill="#aaaaaa"/><line x1="1730.6" y1="214.2" x2="1731.0" y2="210.8" stroke="#b5b5b5" stroke-width="1.0" stroke-linecap="round" opacity="1"/><line x1="1723.3" y1="223.8" x2="1722.8" y2="222.5" stroke="#b5b5b5" stroke-width="1.0" stroke-linecap="round" opacity="1"/><circle cx="1723.3" cy="223.8" r="0.9" fill="#aaaaaa"/><line x1="1730.4" y1="212.6" x2="1728.6" y2="210.5" stroke="#b5b5b5" stroke-width="1.0" stroke-linecap="round" opacity="1"/><circle cx="1730.4" cy="212.6" r="0.9" fill="#aaaaaa"/><line x1="1728.6" y1="211.0" x2="1728.1" y2="208.6" stroke="#b5b5b5" stroke-width="1.0" stroke-linecap="round" opacity="1"/><line x1="1723.7" y1="224.2" x2="1725.0" y2="221.4" stroke="#b5b5b5" stroke-width="1.0" stroke-linecap="round" opacity="1"/><line x1="1732.1" y1="219.5" x2="1732.7" y2="218.0" stroke="#b5b5b5" stroke-width="1.0" stroke-linecap="round" opacity="1"/><line x1="1724.5" y1="223.3" x2="1726.0" y2="220.0" stroke="#b5b5b5" stroke-width="1.0" stroke-linecap="round" opacity="1"/><line x1="1775.2" y1="223.3" x2="1773.0" y2="221.9" stroke="#b5b5b5" stroke-width="1.0" stroke-linecap="round" opacity="1"/><circle cx="1775.2" cy="223.3" r="0.9" fill="#aaaaaa"/><line x1="1773.3" y1="224.3" x2="1774.2" y2="221.9" stroke="#b5b5b5" stroke-width="1.0" stroke-linecap="round" opacity="1"/><circle cx="1773.3" cy="224.3" r="0.9" fill="#aaaaaa"/><line x1="1772.6" y1="229.5" x2="1771.0" y2="226.9" stroke="#b5b5b5" stroke-width="1.0" stroke-linecap="round" opacity="1"/><circle cx="1772.6" cy="229.5" r="0.9" fill="#aaaaaa"/><line x1="1774.8" y1="231.0" x2="1777.3" y2="228.0" stroke="#b5b5b5" stroke-width="1.0" stroke-linecap="round" opacity="1"/><line x1="1769.0" y1="228.0" x2="1769.3" y2="224.5" stroke="#b5b5b5" stroke-width="1.0" stroke-linecap="round" opacity="1"/><circle cx="1769.0" cy="228.0" r="0.9" fill="#aaaaaa"/><line x1="1771.1" y1="222.1" x2="1772.2" y2="220.3" stroke="#b5b5b5" stroke-width="1.0" stroke-linecap="round" opacity="1"/><line x1="1773.8" y1="214.5" x2="1771.6" y2="211.7" stroke="#b5b5b5" stroke-width="1.0" stroke-linecap="round" opacity="1"/><line x1="1769.1" y1="225.2" x2="1768.3" y2="221.9" stroke="#b5b5b5" stroke-width="1.0" stroke-linecap="round" opacity="1"/><circle cx="1769.1" cy="225.2" r="0.9" fill="#aaaaaa"/><line x1="1777.1" y1="225.4" x2="1777.0" y2="222.3" stroke="#b5b5b5" stroke-width="1.0" stroke-linecap="round" opacity="1"/><line x1="1773.7" y1="231.9" x2="1771.7" y2="230.1" stroke="#b5b5b5" stroke-width="1.0" stroke-linecap="round" opacity="1"/><circle cx="1773.7" cy="231.9" r="0.9" fill="#aaaaaa"/><line x1="1772.3" y1="217.1" x2="1771.9" y2="215.0" stroke="#b5b5b5" stroke-width="1.0" stroke-linecap="round" opacity="1"/><circle cx="1772.3" cy="217.1" r="0.9" fill="#aaaaaa"/><line x1="1771.5" y1="235.7" x2="1769.9" y2="232.9" stroke="#b5b5b5" stroke-width="1.0" stroke-linecap="round" opacity="1"/><circle cx="1771.5" cy="235.7" r="0.9" fill="#aaaaaa"/><line x1="1774.0" y1="215.3" x2="1774.9" y2="213.2" stroke="#b5b5b5" stroke-width="1.0" stroke-linecap="round" opacity="1"/><circle cx="1774.0" cy="215.3" r="0.9" fill="#aaaaaa"/><line x1="1768.1" y1="229.4" x2="1767.2" y2="227.4" stroke="#b5b5b5" stroke-width="1.0" stroke-linecap="round" opacity="1"/><line x1="1768.7" y1="217.6" x2="1770.5" y2="215.2" stroke="#b5b5b5" stroke-width="1.0" stroke-linecap="round" opacity="1"/><circle cx="1768.7" cy="217.6" r="0.9" fill="#aaaaaa"/><line x1="1773.2" y1="213.3" x2="1773.2" y2="210.7" stroke="#b5b5b5" stroke-width="1.0" stroke-linecap="round" opacity="1"/><line x1="1770.7" y1="212.3" x2="1769.2" y2="209.4" stroke="#b5b5b5" stroke-width="1.0" stroke-linecap="round" opacity="1"/><circle cx="1770.7" cy="212.3" r="0.9" fill="#aaaaaa"/><line x1="1775.2" y1="225.4" x2="1774.7" y2="222.6" stroke="#b5b5b5" stroke-width="1.0" stroke-linecap="round" opacity="1"/><circle cx="1775.2" cy="225.4" r="0.9" fill="#aaaaaa"/><line x1="1770.4" y1="223.4" x2="1771.3" y2="221.3" stroke="#b5b5b5" stroke-width="1.0" stroke-linecap="round" opacity="1"/><line x1="1778.8" y1="233.6" x2="1780.5" y2="230.7" stroke="#b5b5b5" stroke-width="1.0" stroke-linecap="round" opacity="1"/><line x1="1767.0" y1="222.2" x2="1768.6" y2="220.1" stroke="#b5b5b5" stroke-width="1.0" stroke-linecap="round" opacity="1"/><circle cx="1767.0" cy="222.2" r="0.9" fill="#aaaaaa"/><line x1="1770.0" y1="234.8" x2="1768.1" y2="231.4" stroke="#b5b5b5" stroke-width="1.0" stroke-linecap="round" opacity="1"/><circle cx="1770.0" cy="234.8" r="0.9" fill="#aaaaaa"/><line x1="1772.4" y1="213.0" x2="1770.7" y2="210.1" stroke="#b5b5b5" stroke-width="1.0" stroke-linecap="round" opacity="1"/><circle cx="1772.4" cy="213.0" r="0.9" fill="#aaaaaa"/><line x1="1770.9" y1="218.8" x2="1771.6" y2="215.9" stroke="#b5b5b5" stroke-width="1.0" stroke-linecap="round" opacity="1"/><line x1="1773.9" y1="216.4" x2="1771.5" y2="214.2" stroke="#b5b5b5" stroke-width="1.0" stroke-linecap="round" opacity="1"/><circle cx="1773.9" cy="216.4" r="0.9" fill="#aaaaaa"/><line x1="1771.3" y1="230.4" x2="1771.0" y2="227.0" stroke="#b5b5b5" stroke-width="1.0" stroke-linecap="round" opacity="1"/><circle cx="1771.3" cy="230.4" r="0.9" fill="#aaaaaa"/><line x1="1774.3" y1="227.6" x2="1772.1" y2="224.6" stroke="#b5b5b5" stroke-width="1.0" stroke-linecap="round" opacity="1"/><circle cx="1774.3" cy="227.6" r="0.9" fill="#aaaaaa"/><line x1="1775.3" y1="229.5" x2="1774.4" y2="227.3" stroke="#b5b5b5" stroke-width="1.0" stroke-linecap="round" opacity="1"/><circle cx="1775.3" cy="229.5" r="0.9" fill="#aaaaaa"/><line x1="1772.0" y1="214.2" x2="1773.2" y2="210.7" stroke="#b5b5b5" stroke-width="1.0" stroke-linecap="round" opacity="1"/><circle cx="1772.0" cy="214.2" r="0.9" fill="#aaaaaa"/><line x1="1773.4" y1="225.0" x2="1774.8" y2="222.3" stroke="#b5b5b5" stroke-width="1.0" stroke-linecap="round" opacity="1"/><line x1="1779.0" y1="232.2" x2="1778.7" y2="229.6" stroke="#b5b5b5" stroke-width="1.0" stroke-linecap="round" opacity="1"/><circle cx="1779.0" cy="232.2" r="0.9" fill="#aaaaaa"/><line x1="1771.9" y1="224.2" x2="1771.1" y2="220.8" stroke="#b5b5b5" stroke-width="1.0" stroke-linecap="round" opacity="1"/><line x1="1768.7" y1="231.7" x2="1769.1" y2="228.4" stroke="#b5b5b5" stroke-width="1.0" stroke-linecap="round" opacity="1"/><circle cx="1768.7" cy="231.7" r="0.9" fill="#aaaaaa"/><line x1="1768.0" y1="226.0" x2="1770.3" y2="223.4" stroke="#b5b5b5" stroke-width="1.0" stroke-linecap="round" opacity="1"/><circle cx="1768.0" cy="226.0" r="0.9" fill="#aaaaaa"/><line x1="1768.1" y1="232.6" x2="1768.3" y2="230.4" stroke="#b5b5b5" stroke-width="1.0" stroke-linecap="round" opacity="1"/><line x1="1776.6" y1="223.9" x2="1778.3" y2="222.3" stroke="#b5b5b5" stroke-width="1.0" stroke-linecap="round" opacity="1"/><line x1="1768.0" y1="223.7" x2="1770.0" y2="220.5" stroke="#b5b5b5" stroke-width="1.0" stroke-linecap="round" opacity="1"/><line x1="1767.9" y1="223.6" x2="1768.7" y2="220.4" stroke="#b5b5b5" stroke-width="1.0" stroke-linecap="round" opacity="1"/><circle cx="1767.9" cy="223.6" r="0.9" fill="#aaaaaa"/><line x1="1771.5" y1="230.2" x2="1770.9" y2="226.7" stroke="#b5b5b5" stroke-width="1.0" stroke-linecap="round" opacity="1"/><line x1="1776.5" y1="235.3" x2="1778.2" y2="233.5" stroke="#b5b5b5" stroke-width="1.0" stroke-linecap="round" opacity="1"/><line x1="1884.2" y1="291.2" x2="1884.2" y2="198.5" stroke="#a0a0a0" stroke-width="2.0" stroke-linecap="round" opacity="1"/><path d="M1884.2,178.2 Q1890.3,184.8 1889.4,198.0 Q1884.2,203.3 1878.9,198.0 Q1878.0,184.8 1884.2,178.2Z" fill="#a6a6a6" stroke="#858585" stroke-width="0.6"/><circle cx="1883.9" cy="188.1" r="0.9" fill="#8f8f8f"/><circle cx="1881.3" cy="196.3" r="0.9" fill="#8f8f8f"/><circle cx="1884.6" cy="192.1" r="0.9" fill="#8f8f8f"/><circle cx="1885.8" cy="189.4" r="0.9" fill="#8f8f8f"/><circle cx="1885.9" cy="184.5" r="0.9" fill="#8f8f8f"/><circle cx="1884.2" cy="197.2" r="0.9" fill="#8f8f8f"/><circle cx="1884.9" cy="194.8" r="0.9" fill="#8f8f8f"/><circle cx="1883.2" cy="194.3" r="0.9" fill="#8f8f8f"/><circle cx="1885.5" cy="193.9" r="0.9" fill="#8f8f8f"/><circle cx="1883.5" cy="183.4" r="0.9" fill="#8f8f8f"/><circle cx="1882.3" cy="185.4" r="0.9" fill="#8f8f8f"/><circle cx="1882.4" cy="195.3" r="0.9" fill="#8f8f8f"/><circle cx="1881.8" cy="196.6" r="0.9" fill="#8f8f8f"/><circle cx="1883.2" cy="190.1" r="0.9" fill="#8f8f8f"/><path d="M1883.8,210.5 L1882.3,207.2 L1880.6,204.3 L1878.9,202.0 L1877.2,200.3 L1875.4,199.0 L1873.3,198.4 L1871.2,198.7 L1869.4,199.9 L1868.4,201.7 L1867.9,203.8 L1867.8,206.2 L1868.1,209.1 L1868.4,209.1 L1869.5,206.6 L1870.6,204.7 L1871.5,203.5 L1872.3,203.0 L1872.6,203.0 L1872.9,203.0 L1873.6,203.2 L1874.8,203.7 L1876.5,204.7 L1878.5,206.2 L1880.8,208.3 L1883.6,210.7Z" fill="#c4c4c4" stroke="#929292" stroke-width="0.5" opacity="1"/><path d="M1883.7,210.6 Q1870.2,191.5 1868.3,209.1" fill="none" stroke="#a8a8a8" stroke-width="0.5" stroke-linecap="round" opacity="1"/><path d="M1883.8,223.8 L1881.2,219.8 L1878.6,216.6 L1876.1,214.1 L1873.7,212.1 L1871.2,210.9 L1868.6,210.5 L1866.1,211.1 L1864.2,212.8 L1863.0,215.0 L1862.4,217.7 L1862.2,220.9 L1862.6,224.5 L1862.9,224.6 L1864.0,221.1 L1865.1,218.5 L1866.2,216.7 L1867.2,215.7 L1868.0,215.3 L1868.8,215.2 L1869.9,215.3 L1871.7,215.9 L1874.0,217.0 L1876.8,218.7 L1879.9,221.1 L1883.6,224.0Z" fill="#c4c4c4" stroke="#929292" stroke-width="0.5" opacity="1"/><path d="M1883.7,223.9 Q1864.2,201.5 1862.7,224.5" fill="none" stroke="#a8a8a8" stroke-width="0.5" stroke-linecap="round" opacity="1"/><path d="M1883.8,238.1 L1881.0,234.1 L1878.2,230.8 L1875.5,228.2 L1872.9,226.3 L1870.2,225.1 L1867.4,224.8 L1864.8,225.6 L1862.7,227.3 L1861.3,229.7 L1860.5,232.6 L1860.2,236.0 L1860.4,240.0 L1860.7,240.0 L1862.0,236.4 L1863.2,233.5 L1864.5,231.5 L1865.7,230.3 L1866.8,229.7 L1867.8,229.5 L1869.1,229.6 L1871.0,230.1 L1873.5,231.2 L1876.4,233.0 L1879.8,235.4 L1883.6,238.3Z" fill="#c4c4c4" stroke="#929292" stroke-width="0.5" opacity="1"/><path d="M1883.7,238.2 Q1863.1,215.3 1860.5,240.0" fill="none" stroke="#a8a8a8" stroke-width="0.5" stroke-linecap="round" opacity="1"/><path d="M1883.8,253.6 L1881.0,249.7 L1878.2,246.6 L1875.5,244.2 L1872.8,242.5 L1870.0,241.5 L1867.2,241.4 L1864.6,242.4 L1862.6,244.4 L1861.3,246.9 L1860.5,249.9 L1860.2,253.5 L1860.4,257.6 L1860.7,257.7 L1862.0,253.8 L1863.2,250.8 L1864.6,248.5 L1865.8,247.1 L1867.0,246.4 L1868.0,246.1 L1869.3,246.0 L1871.2,246.4 L1873.6,247.3 L1876.5,248.8 L1879.8,251.0 L1883.6,253.8Z" fill="#c4c4c4" stroke="#929292" stroke-width="0.5" opacity="1"/><path d="M1883.7,253.7 Q1863.1,231.8 1860.5,257.7" fill="none" stroke="#a8a8a8" stroke-width="0.5" stroke-linecap="round" opacity="1"/><path d="M1883.8,269.0 L1880.7,265.4 L1877.6,262.5 L1874.7,260.3 L1871.8,258.7 L1868.9,257.9 L1866.0,258.0 L1863.4,259.0 L1861.4,261.0 L1860.1,263.5 L1859.3,266.5 L1859.0,270.0 L1859.3,274.0 L1859.6,274.0 L1860.8,270.3 L1862.0,267.3 L1863.3,265.2 L1864.6,263.8 L1865.8,263.0 L1867.0,262.6 L1868.4,262.5 L1870.4,262.7 L1873.0,263.5 L1876.1,264.9 L1879.6,266.8 L1883.6,269.2Z" fill="#c4c4c4" stroke="#929292" stroke-width="0.5" opacity="1"/><path d="M1883.7,269.1 Q1861.4,249.0 1859.4,274.0" fill="none" stroke="#a8a8a8" stroke-width="0.5" stroke-linecap="round" opacity="1"/><path d="M1884.7,209.6 L1887.3,207.8 L1889.5,206.4 L1891.3,205.4 L1892.9,204.9 L1894.0,204.7 L1894.8,204.8 L1895.6,205.0 L1896.5,205.4 L1897.7,206.3 L1899.0,207.7 L1900.5,209.7 L1902.1,212.2 L1902.4,212.1 L1902.2,209.1 L1901.5,206.4 L1900.6,204.2 L1899.4,202.3 L1897.6,200.9 L1895.5,200.1 L1893.3,200.2 L1891.2,201.0 L1889.3,202.4 L1887.6,204.2 L1885.9,206.6 L1884.5,209.4Z" fill="#c4c4c4" stroke="#929292" stroke-width="0.5" opacity="1"/><path d="M1884.6,209.5 Q1897.0,194.1 1902.3,212.2" fill="none" stroke="#a8a8a8" stroke-width="0.5" stroke-linecap="round" opacity="1"/><path d="M1884.7,225.1 L1888.1,222.6 L1891.0,220.7 L1893.5,219.4 L1895.6,218.6 L1897.1,218.4 L1898.0,218.5 L1898.8,218.7 L1899.7,219.3 L1900.8,220.6 L1902.0,222.7 L1903.1,225.5 L1904.3,229.0 L1904.6,228.9 L1904.9,225.2 L1904.7,221.9 L1904.1,219.1 L1903.0,216.7 L1901.3,214.9 L1899.0,213.8 L1896.4,213.9 L1893.9,214.7 L1891.6,216.3 L1889.2,218.5 L1886.8,221.4 L1884.5,224.9Z" fill="#c4c4c4" stroke="#929292" stroke-width="0.5" opacity="1"/><path d="M1884.6,225.0 Q1902.5,205.3 1904.5,229.0" fill="none" stroke="#a8a8a8" stroke-width="0.5" stroke-linecap="round" opacity="1"/><path d="M1884.7,240.5 L1887.9,238.4 L1890.7,236.7 L1893.1,235.6 L1895.2,235.0 L1896.7,234.9 L1898.0,235.0 L1899.1,235.4 L1900.3,236.2 L1901.8,237.5 L1903.3,239.5 L1904.9,242.2 L1906.5,245.5 L1906.8,245.5 L1906.6,241.7 L1905.9,238.4 L1904.8,235.6 L1903.4,233.2 L1901.4,231.4 L1899.0,230.4 L1896.4,230.3 L1893.8,231.0 L1891.4,232.4 L1889.0,234.4 L1886.7,237.1 L1884.5,240.3Z" fill="#c4c4c4" stroke="#929292" stroke-width="0.5" opacity="1"/><path d="M1884.6,240.4 Q1901.4,222.4 1906.7,245.5" fill="none" stroke="#a8a8a8" stroke-width="0.5" stroke-linecap="round" opacity="1"/><path d="M1884.7,256.0 L1888.2,253.8 L1891.3,252.1 L1893.9,250.9 L1896.1,250.4 L1897.7,250.2 L1899.0,250.4 L1900.0,250.9 L1901.2,251.7 L1902.5,253.2 L1903.9,255.5 L1905.2,258.4 L1906.5,262.1 L1906.8,262.0 L1906.9,258.1 L1906.5,254.6 L1905.7,251.6 L1904.5,249.1 L1902.6,247.1 L1900.2,245.9 L1897.6,245.7 L1894.9,246.3 L1892.3,247.7 L1889.7,249.7 L1887.1,252.4 L1884.5,255.8Z" fill="#c4c4c4" stroke="#929292" stroke-width="0.5" opacity="1"/><path d="M1884.6,255.9 Q1903.6,237.3 1906.7,262.1" fill="none" stroke="#a8a8a8" stroke-width="0.5" stroke-linecap="round" opacity="1"/><path d="M1884.7,272.5 L1887.8,270.0 L1890.5,268.0 L1892.7,266.7 L1894.6,266.0 L1895.9,265.8 L1896.8,265.9 L1897.7,266.2 L1898.7,267.0 L1900.0,268.5 L1901.4,270.8 L1902.8,273.8 L1904.3,277.5 L1904.6,277.5 L1904.6,273.4 L1904.1,269.9 L1903.3,266.9 L1902.0,264.4 L1900.3,262.5 L1898.0,261.3 L1895.4,261.2 L1892.9,262.1 L1890.7,263.7 L1888.5,265.9 L1886.5,268.8 L1884.5,272.3Z" fill="#c4c4c4" stroke="#929292" stroke-width="0.5" opacity="1"/><path d="M1884.6,272.4 Q1900.3,252.2 1904.5,277.5" fill="none" stroke="#a8a8a8" stroke-width="0.5" stroke-linecap="round" opacity="1"/><line x1="2005.3" y1="283.5" x2="1982.1" y2="205.1" stroke="#4e4842" stroke-width="1.2" stroke-linecap="round" opacity="1"/><line x1="2007.5" y1="283.5" x2="2005.3" y2="193.0" stroke="#4e4842" stroke-width="1.2" stroke-linecap="round" opacity="1"/><line x1="2009.7" y1="282.4" x2="2016.3" y2="197.4" stroke="#4e4842" stroke-width="1.2" stroke-linecap="round" opacity="1"/><line x1="2011.9" y1="281.3" x2="2027.3" y2="204.0" stroke="#4e4842" stroke-width="1.2" stroke-linecap="round" opacity="1"/><path d="M1986.4,218.2 L1984.3,219.5 L1982.3,220.9 L1980.5,222.6 L1978.7,224.4 L1977.1,226.5 L1975.6,228.7 L1974.3,231.0 L1973.1,233.5 L1972.0,236.1 L1971.1,238.9 L1970.4,241.8 L1969.8,244.8 L1970.1,244.9 L1971.4,242.2 L1972.7,239.5 L1974.0,237.0 L1975.4,234.6 L1976.7,232.3 L1978.0,230.1 L1979.4,228.0 L1980.7,226.0 L1982.1,224.0 L1983.6,222.2 L1985.1,220.3 L1986.6,218.5Z" fill="#ede8e2" stroke="#4e4842" stroke-width="0.85" opacity="1"/><path d="M1986.5,218.4 Q1975.5,227.2 1969.9,244.8" fill="none" stroke="#7a736c" stroke-width="0.5" stroke-linecap="round" opacity="1"/><path d="M1988.6,225.0 L1988.8,228.1 L1989.1,231.3 L1989.5,234.5 L1989.9,237.8 L1990.4,241.1 L1990.9,244.6 L1991.5,248.1 L1992.1,251.7 L1992.8,255.4 L1993.5,259.1 L1994.3,263.0 L1995.2,266.9 L1995.5,266.9 L1995.6,262.9 L1995.5,258.9 L1995.4,255.0 L1995.1,251.3 L1994.7,247.6 L1994.2,244.0 L1993.6,240.6 L1992.9,237.2 L1992.0,234.0 L1991.1,230.8 L1990.1,227.8 L1988.8,224.9Z" fill="#ede8e2" stroke="#4e4842" stroke-width="0.85" opacity="1"/><path d="M1988.7,225.0 Q1993.1,242.6 1995.3,266.9" fill="none" stroke="#7a736c" stroke-width="0.5" stroke-linecap="round" opacity="1"/><path d="M2001.8,207.3 L2000.6,209.4 L1999.7,211.6 L1999.0,214.0 L1998.4,216.4 L1998.1,219.0 L1997.9,221.6 L1997.9,224.3 L1998.0,227.0 L1998.4,229.8 L1999.0,232.6 L1999.7,235.4 L2000.7,238.2 L2001.0,238.2 L2001.3,235.2 L2001.6,232.4 L2001.7,229.6 L2001.9,226.9 L2002.1,224.3 L2002.2,221.7 L2002.2,219.3 L2002.3,216.8 L2002.3,214.4 L2002.3,212.1 L2002.2,209.7 L2002.1,207.4Z" fill="#ede8e2" stroke="#4e4842" stroke-width="0.85" opacity="1"/><path d="M2001.9,207.3 Q1998.6,220.6 2000.8,238.2" fill="none" stroke="#7a736c" stroke-width="0.5" stroke-linecap="round" opacity="1"/><path d="M2004.0,209.6 L2004.0,212.3 L2004.2,215.1 L2004.4,217.8 L2004.6,220.6 L2004.8,223.4 L2005.0,226.3 L2005.3,229.2 L2005.7,232.2 L2006.0,235.2 L2006.4,238.3 L2006.8,241.5 L2007.3,244.8 L2007.6,244.9 L2008.4,241.6 L2009.0,238.4 L2009.3,235.2 L2009.5,232.0 L2009.5,228.9 L2009.3,225.9 L2009.0,222.9 L2008.4,220.0 L2007.7,217.2 L2006.7,214.5 L2005.7,211.9 L2004.3,209.5Z" fill="#ede8e2" stroke="#4e4842" stroke-width="0.85" opacity="1"/><path d="M2004.2,209.5 Q2008.6,225.0 2007.5,244.8" fill="none" stroke="#7a736c" stroke-width="0.5" stroke-linecap="round" opacity="1"/><path d="M2015.0,211.7 L2014.2,214.3 L2013.6,216.9 L2013.1,219.5 L2012.8,222.2 L2012.6,225.0 L2012.5,227.7 L2012.6,230.5 L2012.8,233.4 L2013.1,236.2 L2013.6,239.1 L2014.2,242.0 L2015.0,244.9 L2015.3,244.8 L2015.8,241.9 L2016.2,239.0 L2016.4,236.1 L2016.6,233.3 L2016.7,230.5 L2016.8,227.7 L2016.7,225.0 L2016.6,222.3 L2016.4,219.7 L2016.2,217.0 L2015.8,214.4 L2015.3,211.7Z" fill="#ede8e2" stroke="#4e4842" stroke-width="0.85" opacity="1"/><path d="M2015.2,211.7 Q2014.1,227.2 2015.2,244.8" fill="none" stroke="#7a736c" stroke-width="0.5" stroke-linecap="round" opacity="1"/><path d="M2023.9,216.3 L2025.0,217.8 L2026.1,219.3 L2027.2,220.8 L2028.3,222.3 L2029.3,223.8 L2030.4,225.3 L2031.4,227.0 L2032.5,228.6 L2033.6,230.4 L2034.7,232.2 L2035.9,234.1 L2037.1,236.1 L2037.4,236.0 L2037.1,233.6 L2036.6,231.4 L2035.9,229.3 L2035.1,227.2 L2034.2,225.3 L2033.1,223.5 L2031.9,221.9 L2030.6,220.3 L2029.1,219.0 L2027.5,217.8 L2025.9,216.8 L2024.1,216.0Z" fill="#ede8e2" stroke="#4e4842" stroke-width="0.85" opacity="1"/><path d="M2024.0,216.2 Q2032.8,222.8 2037.3,236.0" fill="none" stroke="#7a736c" stroke-width="0.5" stroke-linecap="round" opacity="1"/><path d="M2026.1,220.6 L2026.6,224.5 L2027.1,228.3 L2027.7,232.2 L2028.2,236.1 L2028.8,240.0 L2029.3,244.0 L2029.9,248.0 L2030.4,252.1 L2031.0,256.3 L2031.5,260.5 L2032.1,264.8 L2032.7,269.1 L2033.0,269.1 L2033.5,264.7 L2033.8,260.4 L2033.9,256.1 L2033.8,251.8 L2033.5,247.6 L2033.1,243.5 L2032.4,239.4 L2031.6,235.5 L2030.6,231.6 L2029.4,227.8 L2028.0,224.1 L2026.4,220.5Z" fill="#ede8e2" stroke="#4e4842" stroke-width="0.85" opacity="1"/><path d="M2026.2,220.6 Q2032.8,242.6 2032.8,269.1" fill="none" stroke="#7a736c" stroke-width="0.5" stroke-linecap="round" opacity="1"/><path d="M2004.0,238.2 L2003.0,241.1 L2002.2,244.0 L2001.5,247.0 L2000.9,250.1 L2000.4,253.1 L2000.1,256.2 L1999.9,259.4 L1999.8,262.6 L1999.8,265.8 L1999.9,269.1 L2000.2,272.4 L2000.7,275.7 L2001.0,275.8 L2001.9,272.5 L2002.5,269.3 L2003.1,266.1 L2003.6,262.9 L2004.0,259.8 L2004.4,256.6 L2004.6,253.5 L2004.7,250.4 L2004.8,247.4 L2004.7,244.3 L2004.6,241.3 L2004.3,238.2Z" fill="#ede8e2" stroke="#4e4842" stroke-width="0.85" opacity="1"/><path d="M2004.2,238.2 Q2001.9,255.9 2000.8,275.8" fill="none" stroke="#7a736c" stroke-width="0.5" stroke-linecap="round" opacity="1"/><path d="M2010.6,238.3 L2010.5,241.3 L2010.5,244.3 L2010.6,247.2 L2010.8,250.0 L2011.1,252.9 L2011.4,255.6 L2011.8,258.3 L2012.3,261.0 L2012.8,263.6 L2013.5,266.2 L2014.2,268.8 L2015.0,271.3 L2015.3,271.3 L2015.8,268.7 L2016.1,266.0 L2016.2,263.3 L2016.1,260.6 L2016.0,257.8 L2015.7,255.0 L2015.2,252.3 L2014.6,249.5 L2013.9,246.7 L2013.1,243.8 L2012.1,241.0 L2010.9,238.2Z" fill="#ede8e2" stroke="#4e4842" stroke-width="0.85" opacity="1"/><path d="M2010.8,238.2 Q2014.1,255.9 2015.2,271.3" fill="none" stroke="#7a736c" stroke-width="0.5" stroke-linecap="round" opacity="1"/><path d="M1997.4,244.8 L1996.5,246.9 L1995.8,249.0 L1995.2,251.1 L1994.6,253.2 L1994.1,255.2 L1993.7,257.2 L1993.4,259.3 L1993.1,261.3 L1993.0,263.2 L1992.9,265.2 L1992.8,267.1 L1993.0,269.1 L1993.3,269.2 L1994.1,267.4 L1994.8,265.6 L1995.5,263.7 L1996.0,261.8 L1996.5,259.8 L1996.9,257.8 L1997.3,255.8 L1997.5,253.7 L1997.7,251.6 L1997.8,249.4 L1997.8,247.1 L1997.7,244.9Z" fill="#ede8e2" stroke="#4e4842" stroke-width="0.85" opacity="1"/><path d="M1997.5,244.8 Q1995.3,258.1 1993.1,269.1" fill="none" stroke="#7a736c" stroke-width="0.5" stroke-linecap="round" opacity="1"/><path d="M2021.7,238.3 L2021.6,240.6 L2021.7,242.9 L2021.9,245.3 L2022.1,247.6 L2022.4,250.0 L2022.7,252.3 L2023.1,254.7 L2023.5,257.1 L2024.1,259.5 L2024.6,261.9 L2025.3,264.4 L2026.1,266.9 L2026.4,266.9 L2026.8,264.3 L2026.9,261.7 L2027.0,259.2 L2026.9,256.7 L2026.8,254.2 L2026.4,251.7 L2026.0,249.3 L2025.5,247.0 L2024.8,244.7 L2024.0,242.5 L2023.1,240.3 L2022.0,238.2Z" fill="#ede8e2" stroke="#4e4842" stroke-width="0.85" opacity="1"/><path d="M2021.8,238.2 Q2025.1,251.5 2026.2,266.9" fill="none" stroke="#7a736c" stroke-width="0.5" stroke-linecap="round" opacity="1"/><path d="M2005.2,264.9 L2006.6,266.1 L2008.1,267.2 L2009.5,268.3 L2011.0,269.4 L2012.5,270.5 L2014.0,271.6 L2015.5,272.7 L2017.1,273.7 L2018.7,274.8 L2020.4,275.9 L2022.1,277.0 L2023.9,278.1 L2024.1,277.9 L2023.0,276.0 L2021.7,274.4 L2020.4,272.8 L2018.9,271.4 L2017.4,270.1 L2015.9,268.9 L2014.2,267.8 L2012.5,266.9 L2010.8,266.1 L2009.0,265.4 L2007.2,264.9 L2005.3,264.6Z" fill="#ede8e2" stroke="#4e4842" stroke-width="0.85" opacity="1"/><path d="M2005.3,264.7 Q2015.2,269.1 2024.0,278.0" fill="none" stroke="#7a736c" stroke-width="0.5" stroke-linecap="round" opacity="1"/><path d="M1999.6,255.9 L1999.5,258.2 L1999.5,260.4 L1999.7,262.6 L2000.0,264.8 L2000.4,266.9 L2000.9,269.0 L2001.5,271.0 L2002.2,273.0 L2003.1,274.9 L2004.0,276.8 L2005.0,278.5 L2006.2,280.2 L2006.5,280.1 L2006.3,278.1 L2005.9,276.1 L2005.5,274.1 L2005.1,272.1 L2004.6,270.1 L2004.1,268.1 L2003.5,266.1 L2002.9,264.1 L2002.2,262.1 L2001.5,260.0 L2000.8,258.0 L1999.9,255.9Z" fill="#ede8e2" stroke="#4e4842" stroke-width="0.85" opacity="1"/><path d="M1999.7,255.9 Q2001.9,269.1 2006.4,280.2" fill="none" stroke="#7a736c" stroke-width="0.5" stroke-linecap="round" opacity="1"/><path d="M1995.2,227.2 L1994.9,229.5 L1994.9,231.8 L1994.9,234.2 L1995.0,236.5 L1995.1,238.8 L1995.4,241.2 L1995.7,243.6 L1996.1,246.0 L1996.5,248.4 L1997.1,250.9 L1997.7,253.4 L1998.5,255.9 L1998.8,255.9 L1999.2,253.3 L1999.4,250.7 L1999.5,248.2 L1999.5,245.7 L1999.4,243.2 L1999.1,240.8 L1998.8,238.4 L1998.4,236.0 L1997.8,233.7 L1997.2,231.5 L1996.4,229.3 L1995.5,227.2Z" fill="#ede8e2" stroke="#4e4842" stroke-width="0.85" opacity="1"/><path d="M1995.3,227.2 Q1997.5,240.4 1998.6,255.9" fill="none" stroke="#7a736c" stroke-width="0.5" stroke-linecap="round" opacity="1"/><path d="M2018.3,220.6 L2017.9,223.2 L2017.7,225.8 L2017.5,228.4 L2017.4,230.9 L2017.4,233.5 L2017.4,236.1 L2017.6,238.6 L2017.8,241.2 L2018.1,243.8 L2018.4,246.3 L2018.9,248.9 L2019.5,251.5 L2019.8,251.5 L2020.3,248.9 L2020.7,246.3 L2021.0,243.7 L2021.2,241.1 L2021.3,238.5 L2021.2,235.9 L2021.1,233.4 L2020.8,230.8 L2020.5,228.2 L2020.0,225.6 L2019.4,223.1 L2018.6,220.6Z" fill="#ede8e2" stroke="#4e4842" stroke-width="0.85" opacity="1"/><path d="M2018.5,220.6 Q2019.6,236.0 2019.6,251.5" fill="none" stroke="#7a736c" stroke-width="0.5" stroke-linecap="round" opacity="1"/><path d="M2012.8,222.8 L2012.0,226.0 L2011.3,229.3 L2010.8,232.5 L2010.4,235.7 L2010.1,238.9 L2009.9,242.0 L2009.9,245.2 L2010.0,248.3 L2010.2,251.3 L2010.6,254.4 L2011.0,257.4 L2011.7,260.3 L2012.0,260.3 L2012.5,257.3 L2012.9,254.3 L2013.2,251.3 L2013.4,248.3 L2013.6,245.2 L2013.7,242.1 L2013.8,239.0 L2013.8,235.9 L2013.7,232.7 L2013.6,229.4 L2013.4,226.1 L2013.1,222.8Z" fill="#ede8e2" stroke="#4e4842" stroke-width="0.85" opacity="1"/><path d="M2013.0,222.8 Q2011.2,242.6 2011.9,260.3" fill="none" stroke="#7a736c" stroke-width="0.5" stroke-linecap="round" opacity="1"/><path d="M2027.2,227.3 L2028.1,228.8 L2029.1,230.3 L2030.0,231.7 L2030.9,233.2 L2031.9,234.8 L2032.8,236.3 L2033.8,237.9 L2034.8,239.6 L2035.9,241.4 L2037.0,243.2 L2038.1,245.1 L2039.3,247.1 L2039.6,247.0 L2039.3,244.7 L2038.8,242.4 L2038.2,240.3 L2037.5,238.3 L2036.6,236.4 L2035.6,234.6 L2034.5,233.0 L2033.3,231.4 L2032.0,230.1 L2030.6,228.9 L2029.1,227.9 L2027.4,227.1Z" fill="#ede8e2" stroke="#4e4842" stroke-width="0.85" opacity="1"/><path d="M2027.3,227.2 Q2035.1,233.8 2039.5,247.1" fill="none" stroke="#7a736c" stroke-width="0.5" stroke-linecap="round" opacity="1"/><path d="M1993.0,244.9 L1993.0,247.6 L1993.3,250.2 L1993.6,252.9 L1994.0,255.5 L1994.5,258.1 L1995.1,260.7 L1995.8,263.3 L1996.6,265.8 L1997.5,268.4 L1998.4,270.9 L1999.5,273.4 L2000.7,275.8 L2001.0,275.7 L2000.7,273.0 L2000.4,270.3 L1999.9,267.7 L1999.5,265.1 L1998.9,262.5 L1998.3,259.9 L1997.6,257.3 L1996.9,254.8 L1996.1,252.3 L1995.2,249.8 L1994.3,247.3 L1993.3,244.8Z" fill="#ede8e2" stroke="#4e4842" stroke-width="0.85" opacity="1"/><path d="M1993.1,244.8 Q1996.4,260.3 2000.8,275.8" fill="none" stroke="#7a736c" stroke-width="0.5" stroke-linecap="round" opacity="1"/><path d="M2019.5,255.9 L2018.6,257.6 L2017.8,259.3 L2017.0,261.0 L2016.2,262.8 L2015.5,264.5 L2014.8,266.3 L2014.0,268.1 L2013.3,270.0 L2012.7,271.9 L2012.0,273.8 L2011.3,275.8 L2010.6,277.9 L2010.9,278.0 L2012.4,276.4 L2013.8,274.8 L2015.0,273.0 L2016.0,271.2 L2017.0,269.4 L2017.8,267.5 L2018.5,265.6 L2019.1,263.7 L2019.5,261.8 L2019.7,259.8 L2019.8,257.9 L2019.7,255.9Z" fill="#ede8e2" stroke="#4e4842" stroke-width="0.85" opacity="1"/><path d="M2019.6,255.9 Q2017.4,266.9 2010.8,278.0" fill="none" stroke="#7a736c" stroke-width="0.5" stroke-linecap="round" opacity="1"/><path d="M1981.0,205.8 L1980.6,205.5 L1980.2,205.3 L1979.8,205.1 L1979.4,205.0 L1979.0,204.9 L1978.5,204.9 L1978.1,204.9 L1977.7,204.9 L1977.3,205.0 L1976.9,205.1 L1976.4,205.2 L1976.0,205.4 L1976.0,205.7 L1976.4,206.0 L1976.8,206.2 L1977.2,206.3 L1977.6,206.4 L1978.0,206.5 L1978.4,206.6 L1978.8,206.6 L1979.3,206.6 L1979.7,206.5 L1980.1,206.4 L1980.5,206.3 L1981.0,206.1Z" fill="#f3efea" stroke="#4e4842" stroke-width="0.5" opacity="1"/><path d="M1981.1,205.8 L1980.8,205.4 L1980.6,205.0 L1980.3,204.7 L1980.0,204.4 L1979.7,204.1 L1979.3,203.8 L1979.0,203.6 L1978.6,203.5 L1978.2,203.3 L1977.8,203.2 L1977.3,203.1 L1976.8,203.1 L1976.7,203.3 L1976.9,203.8 L1977.2,204.1 L1977.4,204.5 L1977.7,204.8 L1978.1,205.0 L1978.4,205.3 L1978.8,205.5 L1979.2,205.7 L1979.6,205.8 L1980.0,205.9 L1980.4,206.0 L1980.9,206.0Z" fill="#f3efea" stroke="#4e4842" stroke-width="0.5" opacity="1"/><path d="M1981.1,205.8 L1981.1,205.3 L1981.0,204.8 L1980.8,204.3 L1980.7,203.8 L1980.5,203.3 L1980.3,202.9 L1980.0,202.4 L1979.7,202.0 L1979.4,201.6 L1979.1,201.3 L1978.7,200.9 L1978.2,200.6 L1978.0,200.7 L1978.0,201.3 L1978.1,201.8 L1978.2,202.3 L1978.4,202.8 L1978.6,203.2 L1978.8,203.7 L1979.0,204.1 L1979.3,204.5 L1979.7,204.9 L1980.0,205.3 L1980.4,205.7 L1980.8,206.0Z" fill="#f3efea" stroke="#4e4842" stroke-width="0.5" opacity="1"/><path d="M1981.1,205.9 L1981.4,205.4 L1981.5,204.9 L1981.7,204.4 L1981.7,203.9 L1981.8,203.4 L1981.8,202.9 L1981.8,202.4 L1981.7,201.9 L1981.7,201.4 L1981.5,200.9 L1981.4,200.4 L1981.1,199.9 L1980.8,199.9 L1980.6,200.4 L1980.4,200.9 L1980.3,201.4 L1980.2,201.9 L1980.1,202.4 L1980.1,202.9 L1980.1,203.4 L1980.2,203.9 L1980.3,204.4 L1980.4,204.9 L1980.6,205.4 L1980.8,205.9Z" fill="#f3efea" stroke="#4e4842" stroke-width="0.5" opacity="1"/><path d="M1981.1,206.0 L1981.6,205.7 L1981.9,205.3 L1982.3,204.9 L1982.6,204.5 L1982.9,204.1 L1983.2,203.7 L1983.4,203.2 L1983.6,202.8 L1983.7,202.3 L1983.9,201.8 L1983.9,201.3 L1984.0,200.7 L1983.7,200.6 L1983.3,200.9 L1982.9,201.3 L1982.5,201.6 L1982.2,202.0 L1981.9,202.4 L1981.7,202.9 L1981.4,203.3 L1981.3,203.8 L1981.1,204.3 L1981.0,204.8 L1980.9,205.3 L1980.8,205.8Z" fill="#f3efea" stroke="#4e4842" stroke-width="0.5" opacity="1"/><path d="M1981.1,206.0 L1981.5,206.0 L1982.0,205.9 L1982.4,205.8 L1982.8,205.7 L1983.2,205.5 L1983.5,205.3 L1983.9,205.0 L1984.2,204.8 L1984.5,204.5 L1984.8,204.1 L1985.0,203.8 L1985.3,203.3 L1985.1,203.1 L1984.6,203.1 L1984.2,203.2 L1983.8,203.3 L1983.4,203.5 L1983.0,203.6 L1982.6,203.8 L1982.3,204.1 L1982.0,204.4 L1981.7,204.7 L1981.4,205.0 L1981.1,205.4 L1980.9,205.8Z" fill="#f3efea" stroke="#4e4842" stroke-width="0.5" opacity="1"/><path d="M1981.0,206.1 L1981.4,206.3 L1981.8,206.4 L1982.3,206.5 L1982.7,206.6 L1983.1,206.6 L1983.5,206.6 L1983.9,206.5 L1984.4,206.4 L1984.8,206.3 L1985.2,206.2 L1985.6,206.0 L1986.0,205.7 L1985.9,205.4 L1985.5,205.2 L1985.1,205.1 L1984.7,205.0 L1984.2,204.9 L1983.8,204.9 L1983.4,204.9 L1983.0,204.9 L1982.6,205.0 L1982.2,205.1 L1981.8,205.3 L1981.4,205.5 L1981.0,205.8Z" fill="#f3efea" stroke="#4e4842" stroke-width="0.5" opacity="1"/><line x1="1981.0" y1="202.9" x2="1981.0" y2="210.9" stroke="#4e4842" stroke-width="0.8" stroke-linecap="round" opacity="1"/><path d="M2005.3,194.7 L2004.9,194.5 L2004.5,194.3 L2004.1,194.1 L2003.6,194.0 L2003.2,193.9 L2002.8,193.8 L2002.4,193.8 L2002.0,193.9 L2001.6,193.9 L2001.1,194.0 L2000.7,194.2 L2000.3,194.4 L2000.3,194.7 L2000.7,194.9 L2001.1,195.1 L2001.5,195.3 L2001.9,195.4 L2002.3,195.5 L2002.7,195.5 L2003.1,195.5 L2003.5,195.5 L2004.0,195.5 L2004.4,195.4 L2004.8,195.2 L2005.2,195.0Z" fill="#f3efea" stroke="#4e4842" stroke-width="0.5" opacity="1"/><path d="M2005.3,194.7 L2005.1,194.3 L2004.9,194.0 L2004.6,193.6 L2004.3,193.3 L2003.9,193.0 L2003.6,192.8 L2003.2,192.6 L2002.9,192.4 L2002.5,192.3 L2002.0,192.2 L2001.6,192.1 L2001.1,192.0 L2001.0,192.3 L2001.2,192.7 L2001.4,193.1 L2001.7,193.4 L2002.0,193.7 L2002.4,194.0 L2002.7,194.2 L2003.1,194.4 L2003.4,194.6 L2003.8,194.8 L2004.3,194.9 L2004.7,195.0 L2005.2,195.0Z" fill="#f3efea" stroke="#4e4842" stroke-width="0.5" opacity="1"/><path d="M2005.4,194.8 L2005.4,194.2 L2005.3,193.7 L2005.1,193.2 L2005.0,192.7 L2004.8,192.3 L2004.6,191.8 L2004.3,191.4 L2004.0,191.0 L2003.7,190.6 L2003.3,190.2 L2003.0,189.9 L2002.5,189.5 L2002.2,189.7 L2002.3,190.2 L2002.4,190.7 L2002.5,191.2 L2002.7,191.7 L2002.8,192.2 L2003.1,192.6 L2003.3,193.1 L2003.6,193.5 L2003.9,193.9 L2004.3,194.3 L2004.7,194.6 L2005.1,194.9Z" fill="#f3efea" stroke="#4e4842" stroke-width="0.5" opacity="1"/><path d="M2005.4,194.9 L2005.6,194.4 L2005.8,193.9 L2005.9,193.4 L2006.0,192.9 L2006.1,192.4 L2006.1,191.9 L2006.1,191.4 L2006.0,190.9 L2005.9,190.4 L2005.8,189.9 L2005.6,189.4 L2005.4,188.9 L2005.1,188.9 L2004.9,189.4 L2004.7,189.9 L2004.6,190.4 L2004.5,190.9 L2004.4,191.4 L2004.4,191.9 L2004.4,192.4 L2004.5,192.9 L2004.6,193.4 L2004.7,193.9 L2004.9,194.4 L2005.1,194.9Z" fill="#f3efea" stroke="#4e4842" stroke-width="0.5" opacity="1"/><path d="M2005.4,194.9 L2005.8,194.6 L2006.2,194.3 L2006.6,193.9 L2006.9,193.5 L2007.2,193.1 L2007.4,192.6 L2007.7,192.2 L2007.9,191.7 L2008.0,191.2 L2008.1,190.7 L2008.2,190.2 L2008.3,189.7 L2008.0,189.5 L2007.6,189.9 L2007.2,190.2 L2006.8,190.6 L2006.5,191.0 L2006.2,191.4 L2005.9,191.8 L2005.7,192.3 L2005.5,192.7 L2005.4,193.2 L2005.2,193.7 L2005.2,194.2 L2005.1,194.8Z" fill="#f3efea" stroke="#4e4842" stroke-width="0.5" opacity="1"/><path d="M2005.3,195.0 L2005.8,195.0 L2006.3,194.9 L2006.7,194.8 L2007.1,194.6 L2007.5,194.4 L2007.8,194.2 L2008.2,194.0 L2008.5,193.7 L2008.8,193.4 L2009.1,193.1 L2009.3,192.7 L2009.5,192.3 L2009.4,192.0 L2008.9,192.1 L2008.5,192.2 L2008.0,192.3 L2007.6,192.4 L2007.3,192.6 L2006.9,192.8 L2006.6,193.0 L2006.2,193.3 L2005.9,193.6 L2005.7,194.0 L2005.4,194.3 L2005.2,194.7Z" fill="#f3efea" stroke="#4e4842" stroke-width="0.5" opacity="1"/><path d="M2005.3,195.0 L2005.7,195.2 L2006.1,195.4 L2006.5,195.5 L2007.0,195.5 L2007.4,195.5 L2007.8,195.5 L2008.2,195.5 L2008.6,195.4 L2009.0,195.3 L2009.4,195.1 L2009.9,194.9 L2010.3,194.7 L2010.2,194.4 L2009.8,194.2 L2009.4,194.0 L2008.9,193.9 L2008.5,193.9 L2008.1,193.8 L2007.7,193.8 L2007.3,193.9 L2006.9,194.0 L2006.5,194.1 L2006.0,194.3 L2005.6,194.5 L2005.2,194.7Z" fill="#f3efea" stroke="#4e4842" stroke-width="0.5" opacity="1"/><line x1="2005.3" y1="191.9" x2="2005.3" y2="199.9" stroke="#4e4842" stroke-width="0.8" stroke-linecap="round" opacity="1"/><path d="M2017.4,199.1 L2017.0,198.9 L2016.6,198.7 L2016.2,198.5 L2015.8,198.4 L2015.4,198.3 L2015.0,198.3 L2014.5,198.2 L2014.1,198.3 L2013.7,198.3 L2013.3,198.4 L2012.9,198.6 L2012.4,198.8 L2012.4,199.1 L2012.8,199.3 L2013.2,199.5 L2013.6,199.7 L2014.0,199.8 L2014.4,199.9 L2014.8,200.0 L2015.3,200.0 L2015.7,199.9 L2016.1,199.9 L2016.5,199.8 L2017.0,199.6 L2017.4,199.4Z" fill="#f3efea" stroke="#4e4842" stroke-width="0.5" opacity="1"/><path d="M2017.5,199.2 L2017.3,198.7 L2017.0,198.4 L2016.7,198.0 L2016.4,197.7 L2016.1,197.5 L2015.8,197.2 L2015.4,197.0 L2015.0,196.8 L2014.6,196.7 L2014.2,196.6 L2013.7,196.5 L2013.3,196.5 L2013.1,196.7 L2013.3,197.1 L2013.6,197.5 L2013.9,197.8 L2014.2,198.1 L2014.5,198.4 L2014.8,198.6 L2015.2,198.9 L2015.6,199.0 L2016.0,199.2 L2016.4,199.3 L2016.8,199.4 L2017.3,199.4Z" fill="#f3efea" stroke="#4e4842" stroke-width="0.5" opacity="1"/><path d="M2017.5,199.2 L2017.5,198.7 L2017.4,198.1 L2017.3,197.6 L2017.1,197.2 L2016.9,196.7 L2016.7,196.2 L2016.4,195.8 L2016.2,195.4 L2015.8,195.0 L2015.5,194.6 L2015.1,194.3 L2014.7,193.9 L2014.4,194.1 L2014.4,194.6 L2014.5,195.2 L2014.6,195.7 L2014.8,196.1 L2015.0,196.6 L2015.2,197.1 L2015.5,197.5 L2015.8,197.9 L2016.1,198.3 L2016.4,198.7 L2016.8,199.0 L2017.3,199.4Z" fill="#f3efea" stroke="#4e4842" stroke-width="0.5" opacity="1"/><path d="M2017.5,199.3 L2017.8,198.8 L2017.9,198.3 L2018.1,197.8 L2018.2,197.3 L2018.2,196.8 L2018.2,196.3 L2018.2,195.8 L2018.2,195.3 L2018.1,194.8 L2017.9,194.3 L2017.8,193.8 L2017.5,193.3 L2017.2,193.3 L2017.0,193.8 L2016.8,194.3 L2016.7,194.8 L2016.6,195.3 L2016.6,195.8 L2016.5,196.3 L2016.6,196.8 L2016.6,197.3 L2016.7,197.8 L2016.8,198.3 L2017.0,198.8 L2017.2,199.3Z" fill="#f3efea" stroke="#4e4842" stroke-width="0.5" opacity="1"/><path d="M2017.5,199.4 L2018.0,199.0 L2018.4,198.7 L2018.7,198.3 L2019.0,197.9 L2019.3,197.5 L2019.6,197.1 L2019.8,196.6 L2020.0,196.1 L2020.1,195.7 L2020.3,195.2 L2020.4,194.6 L2020.4,194.1 L2020.1,193.9 L2019.7,194.3 L2019.3,194.6 L2019.0,195.0 L2018.6,195.4 L2018.3,195.8 L2018.1,196.2 L2017.9,196.7 L2017.7,197.2 L2017.5,197.6 L2017.4,198.1 L2017.3,198.7 L2017.3,199.2Z" fill="#f3efea" stroke="#4e4842" stroke-width="0.5" opacity="1"/><path d="M2017.5,199.4 L2018.0,199.4 L2018.4,199.3 L2018.8,199.2 L2019.2,199.0 L2019.6,198.9 L2020.0,198.6 L2020.3,198.4 L2020.6,198.1 L2020.9,197.8 L2021.2,197.5 L2021.5,197.1 L2021.7,196.7 L2021.5,196.5 L2021.0,196.5 L2020.6,196.6 L2020.2,196.7 L2019.8,196.8 L2019.4,197.0 L2019.0,197.2 L2018.7,197.5 L2018.4,197.7 L2018.1,198.0 L2017.8,198.4 L2017.5,198.7 L2017.3,199.2Z" fill="#f3efea" stroke="#4e4842" stroke-width="0.5" opacity="1"/><path d="M2017.4,199.4 L2017.8,199.6 L2018.3,199.8 L2018.7,199.9 L2019.1,199.9 L2019.5,200.0 L2019.9,200.0 L2020.4,199.9 L2020.8,199.8 L2021.2,199.7 L2021.6,199.5 L2022.0,199.3 L2022.4,199.1 L2022.4,198.8 L2021.9,198.6 L2021.5,198.4 L2021.1,198.3 L2020.7,198.3 L2020.2,198.2 L2019.8,198.3 L2019.4,198.3 L2019.0,198.4 L2018.6,198.5 L2018.2,198.7 L2017.8,198.9 L2017.4,199.1Z" fill="#f3efea" stroke="#4e4842" stroke-width="0.5" opacity="1"/><line x1="2017.4" y1="196.3" x2="2017.4" y2="204.3" stroke="#4e4842" stroke-width="0.8" stroke-linecap="round" opacity="1"/><path d="M2028.4,205.8 L2028.0,205.5 L2027.6,205.3 L2027.2,205.1 L2026.8,205.0 L2026.4,204.9 L2026.0,204.9 L2025.6,204.9 L2025.2,204.9 L2024.7,205.0 L2024.3,205.1 L2023.9,205.2 L2023.5,205.4 L2023.4,205.7 L2023.8,206.0 L2024.2,206.2 L2024.6,206.3 L2025.1,206.4 L2025.5,206.5 L2025.9,206.6 L2026.3,206.6 L2026.7,206.6 L2027.1,206.5 L2027.6,206.4 L2028.0,206.3 L2028.4,206.1Z" fill="#f3efea" stroke="#4e4842" stroke-width="0.5" opacity="1"/><path d="M2028.5,205.8 L2028.3,205.4 L2028.0,205.0 L2027.7,204.7 L2027.4,204.4 L2027.1,204.1 L2026.8,203.8 L2026.4,203.6 L2026.0,203.5 L2025.6,203.3 L2025.2,203.2 L2024.8,203.1 L2024.3,203.1 L2024.1,203.3 L2024.4,203.8 L2024.6,204.1 L2024.9,204.5 L2025.2,204.8 L2025.5,205.0 L2025.9,205.3 L2026.2,205.5 L2026.6,205.7 L2027.0,205.8 L2027.4,205.9 L2027.9,206.0 L2028.4,206.0Z" fill="#f3efea" stroke="#4e4842" stroke-width="0.5" opacity="1"/><path d="M2028.6,205.8 L2028.5,205.3 L2028.4,204.8 L2028.3,204.3 L2028.2,203.8 L2028.0,203.3 L2027.7,202.9 L2027.5,202.4 L2027.2,202.0 L2026.9,201.6 L2026.5,201.3 L2026.1,200.9 L2025.7,200.6 L2025.4,200.7 L2025.5,201.3 L2025.6,201.8 L2025.7,202.3 L2025.8,202.8 L2026.0,203.2 L2026.2,203.7 L2026.5,204.1 L2026.8,204.5 L2027.1,204.9 L2027.5,205.3 L2027.9,205.7 L2028.3,206.0Z" fill="#f3efea" stroke="#4e4842" stroke-width="0.5" opacity="1"/><path d="M2028.6,205.9 L2028.8,205.4 L2029.0,204.9 L2029.1,204.4 L2029.2,203.9 L2029.3,203.4 L2029.3,202.9 L2029.3,202.4 L2029.2,201.9 L2029.1,201.4 L2029.0,200.9 L2028.8,200.4 L2028.6,199.9 L2028.3,199.9 L2028.0,200.4 L2027.9,200.9 L2027.8,201.4 L2027.7,201.9 L2027.6,202.4 L2027.6,202.9 L2027.6,203.4 L2027.7,203.9 L2027.8,204.4 L2027.9,204.9 L2028.0,205.4 L2028.3,205.9Z" fill="#f3efea" stroke="#4e4842" stroke-width="0.5" opacity="1"/><path d="M2028.6,206.0 L2029.0,205.7 L2029.4,205.3 L2029.7,204.9 L2030.1,204.5 L2030.4,204.1 L2030.6,203.7 L2030.8,203.2 L2031.0,202.8 L2031.2,202.3 L2031.3,201.8 L2031.4,201.3 L2031.4,200.7 L2031.2,200.6 L2030.7,200.9 L2030.3,201.3 L2030.0,201.6 L2029.7,202.0 L2029.4,202.4 L2029.1,202.9 L2028.9,203.3 L2028.7,203.8 L2028.6,204.3 L2028.4,204.8 L2028.3,205.3 L2028.3,205.8Z" fill="#f3efea" stroke="#4e4842" stroke-width="0.5" opacity="1"/><path d="M2028.5,206.0 L2029.0,206.0 L2029.4,205.9 L2029.9,205.8 L2030.3,205.7 L2030.6,205.5 L2031.0,205.3 L2031.3,205.0 L2031.7,204.8 L2032.0,204.5 L2032.2,204.1 L2032.5,203.8 L2032.7,203.3 L2032.6,203.1 L2032.1,203.1 L2031.6,203.2 L2031.2,203.3 L2030.8,203.5 L2030.4,203.6 L2030.1,203.8 L2029.7,204.1 L2029.4,204.4 L2029.1,204.7 L2028.8,205.0 L2028.6,205.4 L2028.4,205.8Z" fill="#f3efea" stroke="#4e4842" stroke-width="0.5" opacity="1"/><path d="M2028.4,206.1 L2028.9,206.3 L2029.3,206.4 L2029.7,206.5 L2030.1,206.6 L2030.6,206.6 L2031.0,206.6 L2031.4,206.5 L2031.8,206.4 L2032.2,206.3 L2032.6,206.2 L2033.0,206.0 L2033.4,205.7 L2033.4,205.4 L2033.0,205.2 L2032.5,205.1 L2032.1,205.0 L2031.7,204.9 L2031.3,204.9 L2030.9,204.9 L2030.5,204.9 L2030.0,205.0 L2029.6,205.1 L2029.2,205.3 L2028.8,205.5 L2028.4,205.8Z" fill="#f3efea" stroke="#4e4842" stroke-width="0.5" opacity="1"/><line x1="2028.4" y1="202.9" x2="2028.4" y2="210.9" stroke="#4e4842" stroke-width="0.8" stroke-linecap="round" opacity="1"/><path d="M2059.0,186.3 L2059.6,187.6 L2059.9,188.9 L2060.2,190.2 L2060.4,191.5 L2060.6,192.8 L2060.8,194.1 L2061.0,195.4 L2061.1,196.7 L2061.3,198.0 L2061.5,199.3 L2061.6,200.6 L2061.7,201.9 L2061.9,203.2 L2062.0,204.5 L2062.1,205.8 L2062.3,207.1 L2062.4,208.4 L2062.5,209.7 L2062.6,211.0 L2062.8,212.3 L2062.9,213.6 L2063.0,214.9 L2063.1,216.2 L2063.2,217.5 L2063.3,218.8 L2063.4,220.1 L2063.5,221.4 L2063.6,222.7 L2063.8,224.0 L2063.9,225.3 L2064.0,226.6 L2064.1,227.8 L2064.2,229.1 L2064.3,230.4 L2064.4,231.7 L2064.4,233.0 L2064.5,234.3 L2064.6,235.6 L2064.7,236.9 L2064.8,238.2 L2064.9,239.5 L2065.0,240.8 L2065.1,242.1 L2065.2,243.4 L2065.3,244.7 L2065.4,246.0 L2065.5,247.3 L2065.5,248.6 L2065.6,249.9 L2065.7,251.2 L2065.8,252.5 L2065.9,253.8 L2066.0,255.1 L2066.0,256.4 L2066.1,257.7 L2066.2,259.0 L2066.3,260.3 L2066.4,261.6 L2066.5,262.9 L2066.5,264.2 L2066.6,265.5 L2066.7,266.8 L2066.8,268.1 L2066.9,269.4 L2066.9,270.6 L2067.0,271.9 L2067.1,273.2 L2067.2,274.5 L2067.2,275.8 L2067.2,277.1 L2067.2,278.4 L2067.2,279.7 L2067.2,281.0 L2067.3,282.3 L2067.2,283.6 L2066.9,284.9 L2066.4,286.2 L2065.4,287.5 L2063.9,288.8 L2059.3,290.1 L2059.3,290.1 L2054.8,288.8 L2053.2,287.5 L2052.2,286.2 L2051.6,284.9 L2051.3,283.6 L2051.3,282.3 L2051.2,281.0 L2051.2,279.7 L2051.2,278.4 L2051.2,277.1 L2051.2,275.8 L2051.2,274.5 L2051.2,273.2 L2051.3,271.9 L2051.3,270.6 L2051.4,269.4 L2051.4,268.1 L2051.5,266.8 L2051.5,265.5 L2051.6,264.2 L2051.6,262.9 L2051.7,261.6 L2051.7,260.3 L2051.8,259.0 L2051.9,257.7 L2051.9,256.4 L2052.0,255.1 L2052.0,253.8 L2052.1,252.5 L2052.1,251.2 L2052.2,249.9 L2052.3,248.6 L2052.3,247.3 L2052.4,246.0 L2052.4,244.7 L2052.5,243.4 L2052.6,242.1 L2052.6,240.8 L2052.7,239.5 L2052.7,238.2 L2052.8,236.9 L2052.9,235.6 L2052.9,234.3 L2053.0,233.0 L2053.1,231.7 L2053.2,230.4 L2053.2,229.1 L2053.3,227.8 L2053.4,226.6 L2053.4,225.3 L2053.5,224.0 L2053.6,222.7 L2053.7,221.4 L2053.7,220.1 L2053.8,218.8 L2053.9,217.5 L2054.0,216.2 L2054.1,214.9 L2054.2,213.6 L2054.3,212.3 L2054.3,211.0 L2054.4,209.7 L2054.5,208.4 L2054.6,207.1 L2054.7,205.8 L2054.8,204.5 L2054.9,203.2 L2055.1,201.9 L2055.2,200.6 L2055.3,199.3 L2055.4,198.0 L2055.6,196.7 L2055.7,195.4 L2055.8,194.1 L2056.0,192.8 L2056.2,191.5 L2056.4,190.2 L2056.6,188.9 L2056.9,187.6 L2057.4,186.3Z" fill="#ece6df" stroke="#5c5650" stroke-width="1"/><path d="M2055.8,194.1 Q2058.4,198.3 2062.0,204.5" fill="none" stroke="#4e4842" stroke-width="0.9" stroke-linecap="round" opacity="1"/><ellipse cx="2057.4" cy="199.3" rx="1.4" ry="1.5" fill="#c9c2ba" stroke="#6a635c" stroke-width="0.5"/><line x1="2056.8" y1="201.3" x2="2058.4" y2="203.5" stroke="#7a736c" stroke-width="0.5" stroke-linecap="round" opacity="1"/><path d="M2062.0,204.5 Q2058.5,208.7 2054.1,214.9" fill="none" stroke="#4e4842" stroke-width="0.9" stroke-linecap="round" opacity="1"/><ellipse cx="2059.7" cy="209.7" rx="1.8" ry="1.6" fill="#c9c2ba" stroke="#6a635c" stroke-width="0.5"/><line x1="2056.5" y1="211.7" x2="2058.5" y2="213.9" stroke="#7a736c" stroke-width="0.5" stroke-linecap="round" opacity="1"/><path d="M2054.1,214.9 Q2058.6,219.1 2063.9,225.3" fill="none" stroke="#4e4842" stroke-width="0.9" stroke-linecap="round" opacity="1"/><ellipse cx="2057.1" cy="220.1" rx="2.2" ry="1.9" fill="#c9c2ba" stroke="#6a635c" stroke-width="0.5"/><line x1="2056.2" y1="222.1" x2="2058.6" y2="224.3" stroke="#7a736c" stroke-width="0.5" stroke-linecap="round" opacity="1"/><path d="M2063.9,225.3 Q2058.7,229.4 2052.9,235.6" fill="none" stroke="#4e4842" stroke-width="0.9" stroke-linecap="round" opacity="1"/><ellipse cx="2060.4" cy="230.4" rx="2.5" ry="2.2" fill="#c9c2ba" stroke="#6a635c" stroke-width="0.5"/><line x1="2055.9" y1="232.4" x2="2058.7" y2="234.6" stroke="#7a736c" stroke-width="0.5" stroke-linecap="round" opacity="1"/><path d="M2052.9,235.6 Q2058.8,239.8 2065.4,246.0" fill="none" stroke="#4e4842" stroke-width="0.9" stroke-linecap="round" opacity="1"/><ellipse cx="2057.0" cy="240.8" rx="2.8" ry="2.5" fill="#c9c2ba" stroke="#6a635c" stroke-width="0.5"/><line x1="2055.7" y1="242.8" x2="2058.8" y2="245.0" stroke="#7a736c" stroke-width="0.5" stroke-linecap="round" opacity="1"/><path d="M2065.4,246.0 Q2058.9,250.2 2051.9,256.4" fill="none" stroke="#4e4842" stroke-width="0.9" stroke-linecap="round" opacity="1"/><ellipse cx="2061.0" cy="251.2" rx="3.1" ry="2.7" fill="#c9c2ba" stroke="#6a635c" stroke-width="0.5"/><line x1="2055.5" y1="253.2" x2="2058.9" y2="255.4" stroke="#7a736c" stroke-width="0.5" stroke-linecap="round" opacity="1"/><path d="M2051.9,256.4 Q2059.0,260.6 2066.7,266.8" fill="none" stroke="#4e4842" stroke-width="0.9" stroke-linecap="round" opacity="1"/><ellipse cx="2056.8" cy="261.6" rx="3.3" ry="2.9" fill="#c9c2ba" stroke="#6a635c" stroke-width="0.5"/><line x1="2055.4" y1="263.6" x2="2059.0" y2="265.8" stroke="#7a736c" stroke-width="0.5" stroke-linecap="round" opacity="1"/><path d="M2066.7,266.8 Q2059.1,270.9 2051.2,277.1" fill="none" stroke="#4e4842" stroke-width="0.9" stroke-linecap="round" opacity="1"/><ellipse cx="2061.5" cy="271.9" rx="3.5" ry="3.1" fill="#c9c2ba" stroke="#6a635c" stroke-width="0.5"/><line x1="2055.2" y1="273.9" x2="2059.1" y2="276.1" stroke="#7a736c" stroke-width="0.5" stroke-linecap="round" opacity="1"/><path d="M2051.2,277.1 Q2059.3,281.3 2065.4,287.5" fill="none" stroke="#4e4842" stroke-width="0.9" stroke-linecap="round" opacity="1"/><ellipse cx="2056.9" cy="282.3" rx="3.6" ry="3.2" fill="#c9c2ba" stroke="#6a635c" stroke-width="0.5"/><line x1="2055.3" y1="284.3" x2="2059.3" y2="286.5" stroke="#7a736c" stroke-width="0.5" stroke-linecap="round" opacity="1"/><line x1="2133.1" y1="282.4" x2="2128.7" y2="185.2" stroke="#4e4842" stroke-width="1.2" stroke-linecap="round" opacity="1"/><line x1="2137.5" y1="282.4" x2="2140.8" y2="190.8" stroke="#4e4842" stroke-width="1.2" stroke-linecap="round" opacity="1"/><line x1="2140.8" y1="281.3" x2="2153.0" y2="198.5" stroke="#4e4842" stroke-width="1.2" stroke-linecap="round" opacity="1"/><path d="M2127.4,207.3 L2126.2,210.1 L2125.3,213.1 L2124.5,216.1 L2123.8,219.1 L2123.3,222.2 L2123.0,225.3 L2122.8,228.5 L2122.7,231.7 L2122.8,235.0 L2123.1,238.2 L2123.5,241.5 L2124.1,244.8 L2124.4,244.8 L2125.1,241.6 L2125.7,238.3 L2126.2,235.1 L2126.6,232.0 L2126.9,228.8 L2127.3,225.7 L2127.5,222.6 L2127.7,219.6 L2127.8,216.5 L2127.9,213.5 L2127.9,210.4 L2127.7,207.3Z" fill="#ede8e2" stroke="#4e4842" stroke-width="0.85" opacity="1"/><path d="M2127.6,207.3 Q2124.3,225.0 2124.3,244.8" fill="none" stroke="#7a736c" stroke-width="0.5" stroke-linecap="round" opacity="1"/><path d="M2131.9,209.6 L2131.6,212.6 L2131.6,215.7 L2131.6,218.7 L2131.7,221.8 L2131.9,224.9 L2132.1,228.0 L2132.4,231.1 L2132.8,234.2 L2133.3,237.3 L2133.8,240.5 L2134.4,243.8 L2135.2,247.1 L2135.5,247.1 L2136.2,243.7 L2136.7,240.5 L2137.0,237.2 L2137.1,233.9 L2137.1,230.7 L2136.9,227.5 L2136.5,224.4 L2136.0,221.3 L2135.3,218.2 L2134.4,215.3 L2133.4,212.3 L2132.2,209.5Z" fill="#ede8e2" stroke="#4e4842" stroke-width="0.85" opacity="1"/><path d="M2132.0,209.5 Q2135.3,227.2 2135.3,247.1" fill="none" stroke="#7a736c" stroke-width="0.5" stroke-linecap="round" opacity="1"/><path d="M2139.6,213.9 L2138.6,216.8 L2137.8,219.7 L2137.2,222.6 L2136.7,225.6 L2136.4,228.6 L2136.2,231.5 L2136.2,234.5 L2136.3,237.5 L2136.6,240.5 L2137.1,243.4 L2137.6,246.4 L2138.5,249.3 L2138.8,249.3 L2139.3,246.3 L2139.7,243.3 L2140.0,240.4 L2140.2,237.5 L2140.4,234.6 L2140.5,231.7 L2140.6,228.8 L2140.6,225.8 L2140.5,222.9 L2140.4,220.0 L2140.2,217.0 L2139.9,214.0Z" fill="#ede8e2" stroke="#4e4842" stroke-width="0.85" opacity="1"/><path d="M2139.7,213.9 Q2137.5,231.6 2138.6,249.3" fill="none" stroke="#7a736c" stroke-width="0.5" stroke-linecap="round" opacity="1"/><path d="M2142.9,216.2 L2142.4,218.8 L2142.1,221.4 L2141.9,224.0 L2141.7,226.5 L2141.7,229.1 L2141.7,231.7 L2141.9,234.2 L2142.1,236.8 L2142.4,239.4 L2142.8,241.9 L2143.3,244.5 L2144.0,247.1 L2144.3,247.1 L2145.0,244.5 L2145.4,241.9 L2145.7,239.3 L2146.0,236.7 L2146.1,234.1 L2146.0,231.5 L2145.9,228.9 L2145.6,226.4 L2145.2,223.8 L2144.7,221.2 L2144.0,218.7 L2143.2,216.1Z" fill="#ede8e2" stroke="#4e4842" stroke-width="0.85" opacity="1"/><path d="M2143.0,216.2 Q2144.2,231.6 2144.2,247.1" fill="none" stroke="#7a736c" stroke-width="0.5" stroke-linecap="round" opacity="1"/><path d="M2151.8,216.3 L2152.8,217.5 L2153.7,218.6 L2154.6,219.8 L2155.4,221.0 L2156.2,222.3 L2157.1,223.6 L2158.0,225.1 L2158.9,226.6 L2159.8,228.2 L2160.7,230.0 L2161.7,231.8 L2162.8,233.8 L2163.1,233.8 L2163.0,231.5 L2162.6,229.3 L2162.2,227.3 L2161.6,225.3 L2160.8,223.5 L2159.9,221.9 L2158.8,220.4 L2157.7,219.1 L2156.4,218.0 L2155.0,217.1 L2153.5,216.4 L2152.0,216.0Z" fill="#ede8e2" stroke="#4e4842" stroke-width="0.85" opacity="1"/><path d="M2151.9,216.2 Q2159.6,220.6 2162.9,233.8" fill="none" stroke="#7a736c" stroke-width="0.5" stroke-linecap="round" opacity="1"/><path d="M2149.5,220.6 L2149.2,223.6 L2149.0,226.7 L2148.9,229.8 L2148.8,232.9 L2148.8,236.1 L2148.9,239.4 L2149.0,242.7 L2149.2,246.1 L2149.5,249.5 L2149.8,253.0 L2150.1,256.6 L2150.6,260.3 L2150.9,260.3 L2151.8,256.7 L2152.3,253.1 L2152.8,249.6 L2153.1,246.1 L2153.2,242.6 L2153.2,239.3 L2153.0,236.0 L2152.7,232.7 L2152.2,229.5 L2151.6,226.5 L2150.8,223.5 L2149.8,220.5Z" fill="#ede8e2" stroke="#4e4842" stroke-width="0.85" opacity="1"/><path d="M2149.7,220.6 Q2151.9,238.2 2150.8,260.3" fill="none" stroke="#7a736c" stroke-width="0.5" stroke-linecap="round" opacity="1"/><path d="M2128.5,242.6 L2127.7,245.5 L2127.1,248.4 L2126.6,251.3 L2126.3,254.1 L2126.1,257.0 L2126.0,259.7 L2126.1,262.5 L2126.3,265.2 L2126.6,267.9 L2127.1,270.6 L2127.7,273.2 L2128.5,275.8 L2128.8,275.7 L2129.4,273.1 L2129.7,270.5 L2129.9,267.8 L2130.1,265.2 L2130.3,262.5 L2130.3,259.7 L2130.3,257.0 L2130.1,254.2 L2129.9,251.4 L2129.7,248.5 L2129.4,245.6 L2128.8,242.6Z" fill="#ede8e2" stroke="#4e4842" stroke-width="0.85" opacity="1"/><path d="M2128.7,242.6 Q2127.6,260.3 2128.7,275.8" fill="none" stroke="#7a736c" stroke-width="0.5" stroke-linecap="round" opacity="1"/><path d="M2135.2,238.2 L2134.5,241.9 L2134.1,245.5 L2133.7,249.0 L2133.5,252.5 L2133.4,255.9 L2133.4,259.3 L2133.6,262.5 L2133.9,265.8 L2134.3,268.9 L2134.8,272.0 L2135.4,275.0 L2136.3,278.0 L2136.6,278.0 L2137.1,274.9 L2137.4,271.9 L2137.6,268.8 L2137.7,265.6 L2137.8,262.4 L2137.7,259.1 L2137.6,255.8 L2137.4,252.4 L2137.1,249.0 L2136.6,245.4 L2136.2,241.9 L2135.5,238.2Z" fill="#ede8e2" stroke="#4e4842" stroke-width="0.85" opacity="1"/><path d="M2135.3,238.2 Q2135.3,260.3 2136.4,278.0" fill="none" stroke="#7a736c" stroke-width="0.5" stroke-linecap="round" opacity="1"/><path d="M2144.0,244.9 L2143.9,247.6 L2144.0,250.3 L2144.1,252.9 L2144.3,255.5 L2144.7,258.1 L2145.1,260.7 L2145.6,263.2 L2146.2,265.8 L2146.9,268.3 L2147.6,270.8 L2148.5,273.3 L2149.5,275.8 L2149.8,275.7 L2150.1,273.1 L2150.2,270.4 L2150.1,267.8 L2150.0,265.1 L2149.7,262.5 L2149.3,259.9 L2148.8,257.3 L2148.1,254.8 L2147.4,252.3 L2146.5,249.7 L2145.5,247.3 L2144.3,244.8Z" fill="#ede8e2" stroke="#4e4842" stroke-width="0.85" opacity="1"/><path d="M2144.2,244.8 Q2147.5,260.3 2149.7,275.8" fill="none" stroke="#7a736c" stroke-width="0.5" stroke-linecap="round" opacity="1"/><path d="M2152.8,242.7 L2153.1,244.4 L2153.4,246.1 L2153.8,247.8 L2154.1,249.5 L2154.5,251.2 L2155.0,253.0 L2155.4,254.8 L2155.9,256.6 L2156.5,258.6 L2157.0,260.6 L2157.6,262.6 L2158.3,264.7 L2158.6,264.7 L2158.9,262.5 L2159.0,260.3 L2159.0,258.2 L2158.9,256.1 L2158.6,254.1 L2158.2,252.2 L2157.6,250.3 L2157.0,248.6 L2156.2,246.9 L2155.3,245.3 L2154.3,243.9 L2153.1,242.6Z" fill="#ede8e2" stroke="#4e4842" stroke-width="0.85" opacity="1"/><path d="M2153.0,242.6 Q2157.4,251.5 2158.5,264.7" fill="none" stroke="#7a736c" stroke-width="0.5" stroke-linecap="round" opacity="1"/><path d="M2125.2,216.1 L2124.5,219.8 L2124.1,223.5 L2123.7,227.2 L2123.5,230.9 L2123.4,234.6 L2123.4,238.3 L2123.6,242.0 L2123.9,245.7 L2124.3,249.3 L2124.8,253.0 L2125.5,256.7 L2126.3,260.3 L2126.6,260.3 L2127.0,256.6 L2127.1,252.9 L2127.2,249.2 L2127.3,245.5 L2127.3,241.8 L2127.2,238.2 L2127.1,234.5 L2126.9,230.9 L2126.7,227.2 L2126.4,223.5 L2126.0,219.8 L2125.5,216.2Z" fill="#ede8e2" stroke="#4e4842" stroke-width="0.85" opacity="1"/><path d="M2125.4,216.2 Q2124.7,238.2 2126.5,260.3" fill="none" stroke="#7a736c" stroke-width="0.5" stroke-linecap="round" opacity="1"/><path d="M2146.2,222.8 L2145.8,225.4 L2145.5,228.1 L2145.4,230.7 L2145.3,233.4 L2145.2,236.1 L2145.3,238.8 L2145.4,241.6 L2145.6,244.4 L2145.9,247.2 L2146.3,250.1 L2146.7,253.0 L2147.3,255.9 L2147.6,255.9 L2148.2,253.0 L2148.6,250.0 L2148.9,247.2 L2149.0,244.3 L2149.1,241.5 L2149.1,238.7 L2148.9,236.0 L2148.7,233.2 L2148.3,230.6 L2147.8,227.9 L2147.3,225.3 L2146.5,222.8Z" fill="#ede8e2" stroke="#4e4842" stroke-width="0.85" opacity="1"/><path d="M2146.4,222.8 Q2147.5,238.2 2147.5,255.9" fill="none" stroke="#7a736c" stroke-width="0.5" stroke-linecap="round" opacity="1"/><path d="M2137.4,238.2 L2136.4,241.1 L2135.6,244.0 L2135.0,246.9 L2134.4,249.8 L2133.9,252.7 L2133.4,255.6 L2133.1,258.6 L2132.9,261.6 L2132.8,264.5 L2132.7,267.5 L2132.7,270.5 L2133.0,273.5 L2133.3,273.6 L2134.2,270.7 L2135.0,267.8 L2135.7,264.9 L2136.3,262.0 L2136.8,259.1 L2137.2,256.1 L2137.5,253.2 L2137.8,250.2 L2137.9,247.2 L2137.9,244.3 L2137.9,241.3 L2137.7,238.2Z" fill="#ede8e2" stroke="#4e4842" stroke-width="0.85" opacity="1"/><path d="M2137.5,238.2 Q2135.3,255.9 2133.1,273.5" fill="none" stroke="#7a736c" stroke-width="0.5" stroke-linecap="round" opacity="1"/><path d="M2155.0,227.2 L2155.3,229.9 L2155.6,232.5 L2156.0,235.1 L2156.4,237.6 L2156.9,240.1 L2157.4,242.5 L2158.0,244.8 L2158.6,247.1 L2159.3,249.4 L2160.0,251.6 L2160.8,253.8 L2161.7,255.9 L2162.0,255.9 L2162.1,253.5 L2162.0,251.2 L2161.8,248.9 L2161.5,246.5 L2161.2,244.1 L2160.7,241.7 L2160.0,239.3 L2159.3,236.9 L2158.5,234.5 L2157.6,232.0 L2156.5,229.6 L2155.3,227.1Z" fill="#ede8e2" stroke="#4e4842" stroke-width="0.85" opacity="1"/><path d="M2155.2,227.2 Q2159.6,242.6 2161.8,255.9" fill="none" stroke="#7a736c" stroke-width="0.5" stroke-linecap="round" opacity="1"/><path d="M2141.8,260.4 L2142.1,262.4 L2142.5,264.3 L2143.0,266.2 L2143.5,268.0 L2144.1,269.8 L2144.8,271.5 L2145.6,273.1 L2146.5,274.7 L2147.4,276.2 L2148.4,277.6 L2149.4,279.0 L2150.6,280.2 L2150.9,280.1 L2150.6,278.4 L2150.2,276.7 L2149.7,275.1 L2149.2,273.4 L2148.6,271.8 L2147.9,270.1 L2147.1,268.5 L2146.3,266.8 L2145.3,265.2 L2144.3,263.5 L2143.3,261.9 L2142.1,260.2Z" fill="#ede8e2" stroke="#4e4842" stroke-width="0.85" opacity="1"/><path d="M2141.9,260.3 Q2146.4,271.3 2150.8,280.2" fill="none" stroke="#7a736c" stroke-width="0.5" stroke-linecap="round" opacity="1"/><path d="M2128.7,188.1 L2128.3,187.8 L2127.9,187.6 L2127.5,187.5 L2127.1,187.4 L2126.7,187.3 L2126.3,187.2 L2125.8,187.2 L2125.4,187.2 L2125.0,187.3 L2124.6,187.4 L2124.2,187.5 L2123.7,187.7 L2123.7,188.0 L2124.1,188.3 L2124.5,188.5 L2124.9,188.7 L2125.3,188.8 L2125.7,188.9 L2126.1,188.9 L2126.6,188.9 L2127.0,188.9 L2127.4,188.8 L2127.8,188.7 L2128.3,188.6 L2128.7,188.4Z" fill="#f3efea" stroke="#4e4842" stroke-width="0.5" opacity="1"/><path d="M2128.8,188.1 L2128.6,187.7 L2128.3,187.3 L2128.0,187.0 L2127.7,186.7 L2127.4,186.4 L2127.1,186.2 L2126.7,186.0 L2126.3,185.8 L2125.9,185.6 L2125.5,185.5 L2125.1,185.4 L2124.6,185.4 L2124.4,185.7 L2124.6,186.1 L2124.9,186.5 L2125.2,186.8 L2125.5,187.1 L2125.8,187.4 L2126.1,187.6 L2126.5,187.8 L2126.9,188.0 L2127.3,188.1 L2127.7,188.3 L2128.1,188.3 L2128.6,188.4Z" fill="#f3efea" stroke="#4e4842" stroke-width="0.5" opacity="1"/><path d="M2128.8,188.2 L2128.8,187.6 L2128.7,187.1 L2128.6,186.6 L2128.4,186.1 L2128.2,185.7 L2128.0,185.2 L2127.7,184.8 L2127.5,184.4 L2127.1,184.0 L2126.8,183.6 L2126.4,183.2 L2126.0,182.9 L2125.7,183.1 L2125.7,183.6 L2125.8,184.1 L2125.9,184.6 L2126.1,185.1 L2126.3,185.6 L2126.5,186.0 L2126.8,186.4 L2127.1,186.9 L2127.4,187.3 L2127.7,187.6 L2128.1,188.0 L2128.6,188.3Z" fill="#f3efea" stroke="#4e4842" stroke-width="0.5" opacity="1"/><path d="M2128.8,188.2 L2129.1,187.7 L2129.2,187.2 L2129.4,186.7 L2129.5,186.2 L2129.5,185.7 L2129.5,185.2 L2129.5,184.7 L2129.5,184.2 L2129.4,183.7 L2129.2,183.2 L2129.1,182.7 L2128.8,182.2 L2128.5,182.2 L2128.3,182.7 L2128.1,183.2 L2128.0,183.7 L2127.9,184.2 L2127.9,184.7 L2127.8,185.2 L2127.9,185.7 L2127.9,186.2 L2128.0,186.7 L2128.1,187.2 L2128.3,187.7 L2128.5,188.2Z" fill="#f3efea" stroke="#4e4842" stroke-width="0.5" opacity="1"/><path d="M2128.8,188.3 L2129.3,188.0 L2129.7,187.6 L2130.0,187.3 L2130.3,186.9 L2130.6,186.4 L2130.9,186.0 L2131.1,185.6 L2131.3,185.1 L2131.5,184.6 L2131.6,184.1 L2131.7,183.6 L2131.7,183.1 L2131.4,182.9 L2131.0,183.2 L2130.6,183.6 L2130.3,184.0 L2129.9,184.4 L2129.6,184.8 L2129.4,185.2 L2129.2,185.7 L2129.0,186.1 L2128.8,186.6 L2128.7,187.1 L2128.6,187.6 L2128.6,188.2Z" fill="#f3efea" stroke="#4e4842" stroke-width="0.5" opacity="1"/><path d="M2128.8,188.4 L2129.3,188.3 L2129.7,188.3 L2130.1,188.1 L2130.5,188.0 L2130.9,187.8 L2131.3,187.6 L2131.6,187.4 L2131.9,187.1 L2132.2,186.8 L2132.5,186.5 L2132.8,186.1 L2133.0,185.7 L2132.8,185.4 L2132.3,185.4 L2131.9,185.5 L2131.5,185.6 L2131.1,185.8 L2130.7,186.0 L2130.3,186.2 L2130.0,186.4 L2129.7,186.7 L2129.4,187.0 L2129.1,187.3 L2128.8,187.7 L2128.6,188.1Z" fill="#f3efea" stroke="#4e4842" stroke-width="0.5" opacity="1"/><path d="M2128.7,188.4 L2129.1,188.6 L2129.6,188.7 L2130.0,188.8 L2130.4,188.9 L2130.8,188.9 L2131.3,188.9 L2131.7,188.9 L2132.1,188.8 L2132.5,188.7 L2132.9,188.5 L2133.3,188.3 L2133.7,188.0 L2133.7,187.7 L2133.2,187.5 L2132.8,187.4 L2132.4,187.3 L2132.0,187.2 L2131.5,187.2 L2131.1,187.2 L2130.7,187.3 L2130.3,187.4 L2129.9,187.5 L2129.5,187.6 L2129.1,187.8 L2128.7,188.1Z" fill="#f3efea" stroke="#4e4842" stroke-width="0.5" opacity="1"/><line x1="2128.7" y1="185.2" x2="2128.7" y2="193.2" stroke="#4e4842" stroke-width="0.8" stroke-linecap="round" opacity="1"/><path d="M2140.8,193.6 L2140.5,193.3 L2140.0,193.2 L2139.6,193.0 L2139.2,192.9 L2138.8,192.8 L2138.4,192.7 L2138.0,192.7 L2137.6,192.8 L2137.1,192.8 L2136.7,192.9 L2136.3,193.1 L2135.9,193.3 L2135.8,193.6 L2136.2,193.8 L2136.6,194.0 L2137.1,194.2 L2137.5,194.3 L2137.9,194.4 L2138.3,194.4 L2138.7,194.4 L2139.1,194.4 L2139.5,194.4 L2140.0,194.3 L2140.4,194.1 L2140.8,193.9Z" fill="#f3efea" stroke="#4e4842" stroke-width="0.5" opacity="1"/><path d="M2140.9,193.6 L2140.7,193.2 L2140.4,192.8 L2140.2,192.5 L2139.9,192.2 L2139.5,191.9 L2139.2,191.7 L2138.8,191.5 L2138.5,191.3 L2138.1,191.2 L2137.6,191.0 L2137.2,191.0 L2136.7,190.9 L2136.6,191.2 L2136.8,191.6 L2137.0,192.0 L2137.3,192.3 L2137.6,192.6 L2137.9,192.9 L2138.3,193.1 L2138.6,193.3 L2139.0,193.5 L2139.4,193.7 L2139.8,193.8 L2140.3,193.9 L2140.8,193.9Z" fill="#f3efea" stroke="#4e4842" stroke-width="0.5" opacity="1"/><path d="M2141.0,193.7 L2140.9,193.1 L2140.8,192.6 L2140.7,192.1 L2140.6,191.6 L2140.4,191.2 L2140.1,190.7 L2139.9,190.3 L2139.6,189.9 L2139.3,189.5 L2138.9,189.1 L2138.5,188.8 L2138.1,188.4 L2137.8,188.6 L2137.9,189.1 L2138.0,189.6 L2138.1,190.1 L2138.2,190.6 L2138.4,191.1 L2138.7,191.5 L2138.9,192.0 L2139.2,192.4 L2139.5,192.8 L2139.9,193.2 L2140.3,193.5 L2140.7,193.8Z" fill="#f3efea" stroke="#4e4842" stroke-width="0.5" opacity="1"/><path d="M2141.0,193.8 L2141.2,193.3 L2141.4,192.8 L2141.5,192.3 L2141.6,191.8 L2141.7,191.3 L2141.7,190.8 L2141.7,190.3 L2141.6,189.8 L2141.5,189.3 L2141.4,188.8 L2141.2,188.3 L2141.0,187.8 L2140.7,187.8 L2140.5,188.3 L2140.3,188.8 L2140.2,189.3 L2140.1,189.8 L2140.0,190.3 L2140.0,190.8 L2140.0,191.3 L2140.1,191.8 L2140.2,192.3 L2140.3,192.8 L2140.5,193.3 L2140.7,193.8Z" fill="#f3efea" stroke="#4e4842" stroke-width="0.5" opacity="1"/><path d="M2141.0,193.8 L2141.4,193.5 L2141.8,193.2 L2142.2,192.8 L2142.5,192.4 L2142.8,192.0 L2143.0,191.5 L2143.2,191.1 L2143.4,190.6 L2143.6,190.1 L2143.7,189.6 L2143.8,189.1 L2143.8,188.6 L2143.6,188.4 L2143.1,188.8 L2142.8,189.1 L2142.4,189.5 L2142.1,189.9 L2141.8,190.3 L2141.5,190.7 L2141.3,191.2 L2141.1,191.6 L2141.0,192.1 L2140.8,192.6 L2140.7,193.1 L2140.7,193.7Z" fill="#f3efea" stroke="#4e4842" stroke-width="0.5" opacity="1"/><path d="M2140.9,193.9 L2141.4,193.9 L2141.8,193.8 L2142.3,193.7 L2142.7,193.5 L2143.0,193.3 L2143.4,193.1 L2143.7,192.9 L2144.1,192.6 L2144.4,192.3 L2144.6,192.0 L2144.9,191.6 L2145.1,191.2 L2145.0,190.9 L2144.5,191.0 L2144.0,191.0 L2143.6,191.2 L2143.2,191.3 L2142.8,191.5 L2142.5,191.7 L2142.1,191.9 L2141.8,192.2 L2141.5,192.5 L2141.2,192.8 L2141.0,193.2 L2140.8,193.6Z" fill="#f3efea" stroke="#4e4842" stroke-width="0.5" opacity="1"/><path d="M2140.8,193.9 L2141.3,194.1 L2141.7,194.3 L2142.1,194.4 L2142.6,194.4 L2143.0,194.4 L2143.4,194.4 L2143.8,194.4 L2144.2,194.3 L2144.6,194.2 L2145.0,194.0 L2145.4,193.8 L2145.8,193.6 L2145.8,193.3 L2145.4,193.1 L2145.0,192.9 L2144.5,192.8 L2144.1,192.8 L2143.7,192.7 L2143.3,192.7 L2142.9,192.8 L2142.4,192.9 L2142.0,193.0 L2141.6,193.2 L2141.2,193.3 L2140.8,193.6Z" fill="#f3efea" stroke="#4e4842" stroke-width="0.5" opacity="1"/><line x1="2140.8" y1="190.8" x2="2140.8" y2="198.8" stroke="#4e4842" stroke-width="0.8" stroke-linecap="round" opacity="1"/><path d="M2153.0,200.2 L2152.6,200.0 L2152.2,199.8 L2151.8,199.6 L2151.4,199.5 L2151.0,199.4 L2150.5,199.4 L2150.1,199.4 L2149.7,199.4 L2149.3,199.4 L2148.9,199.5 L2148.4,199.7 L2148.0,199.9 L2148.0,200.2 L2148.4,200.4 L2148.8,200.6 L2149.2,200.8 L2149.6,200.9 L2150.0,201.0 L2150.4,201.1 L2150.8,201.1 L2151.3,201.0 L2151.7,201.0 L2152.1,200.9 L2152.5,200.7 L2153.0,200.5Z" fill="#f3efea" stroke="#4e4842" stroke-width="0.5" opacity="1"/><path d="M2153.1,200.3 L2152.8,199.8 L2152.6,199.5 L2152.3,199.1 L2152.0,198.8 L2151.7,198.6 L2151.3,198.3 L2151.0,198.1 L2150.6,197.9 L2150.2,197.8 L2149.8,197.7 L2149.3,197.6 L2148.9,197.6 L2148.7,197.8 L2148.9,198.2 L2149.2,198.6 L2149.5,198.9 L2149.8,199.2 L2150.1,199.5 L2150.4,199.8 L2150.8,200.0 L2151.2,200.1 L2151.6,200.3 L2152.0,200.4 L2152.4,200.5 L2152.9,200.5Z" fill="#f3efea" stroke="#4e4842" stroke-width="0.5" opacity="1"/><path d="M2153.1,200.3 L2153.1,199.8 L2153.0,199.2 L2152.9,198.7 L2152.7,198.3 L2152.5,197.8 L2152.3,197.3 L2152.0,196.9 L2151.7,196.5 L2151.4,196.1 L2151.1,195.7 L2150.7,195.4 L2150.2,195.0 L2150.0,195.2 L2150.0,195.7 L2150.1,196.3 L2150.2,196.8 L2150.4,197.2 L2150.6,197.7 L2150.8,198.2 L2151.1,198.6 L2151.3,199.0 L2151.7,199.4 L2152.0,199.8 L2152.4,200.1 L2152.8,200.5Z" fill="#f3efea" stroke="#4e4842" stroke-width="0.5" opacity="1"/><path d="M2153.1,200.4 L2153.4,199.9 L2153.5,199.4 L2153.7,198.9 L2153.8,198.4 L2153.8,197.9 L2153.8,197.4 L2153.8,196.9 L2153.8,196.4 L2153.7,195.9 L2153.5,195.4 L2153.4,194.9 L2153.1,194.4 L2152.8,194.4 L2152.6,194.9 L2152.4,195.4 L2152.3,195.9 L2152.2,196.4 L2152.1,196.9 L2152.1,197.4 L2152.1,197.9 L2152.2,198.4 L2152.3,198.9 L2152.4,199.4 L2152.6,199.9 L2152.8,200.4Z" fill="#f3efea" stroke="#4e4842" stroke-width="0.5" opacity="1"/><path d="M2153.1,200.5 L2153.6,200.1 L2153.9,199.8 L2154.3,199.4 L2154.6,199.0 L2154.9,198.6 L2155.2,198.2 L2155.4,197.7 L2155.6,197.2 L2155.7,196.8 L2155.9,196.3 L2156.0,195.7 L2156.0,195.2 L2155.7,195.0 L2155.3,195.4 L2154.9,195.7 L2154.5,196.1 L2154.2,196.5 L2153.9,196.9 L2153.7,197.3 L2153.4,197.8 L2153.3,198.3 L2153.1,198.7 L2153.0,199.2 L2152.9,199.8 L2152.8,200.3Z" fill="#f3efea" stroke="#4e4842" stroke-width="0.5" opacity="1"/><path d="M2153.1,200.5 L2153.5,200.5 L2154.0,200.4 L2154.4,200.3 L2154.8,200.1 L2155.2,200.0 L2155.5,199.8 L2155.9,199.5 L2156.2,199.2 L2156.5,198.9 L2156.8,198.6 L2157.0,198.2 L2157.3,197.8 L2157.1,197.6 L2156.6,197.6 L2156.2,197.7 L2155.8,197.8 L2155.4,197.9 L2155.0,198.1 L2154.6,198.3 L2154.3,198.6 L2154.0,198.8 L2153.7,199.1 L2153.4,199.5 L2153.1,199.8 L2152.9,200.3Z" fill="#f3efea" stroke="#4e4842" stroke-width="0.5" opacity="1"/><path d="M2153.0,200.5 L2153.4,200.7 L2153.9,200.9 L2154.3,201.0 L2154.7,201.0 L2155.1,201.1 L2155.5,201.1 L2155.9,201.0 L2156.4,200.9 L2156.8,200.8 L2157.2,200.6 L2157.6,200.4 L2158.0,200.2 L2158.0,199.9 L2157.5,199.7 L2157.1,199.5 L2156.7,199.4 L2156.3,199.4 L2155.8,199.4 L2155.4,199.4 L2155.0,199.4 L2154.6,199.5 L2154.2,199.6 L2153.8,199.8 L2153.4,200.0 L2153.0,200.2Z" fill="#f3efea" stroke="#4e4842" stroke-width="0.5" opacity="1"/><line x1="2153.0" y1="197.4" x2="2153.0" y2="205.4" stroke="#4e4842" stroke-width="0.8" stroke-linecap="round" opacity="1"/><path d="M2183.7,185.7 L2184.4,187.0 L2184.8,188.3 L2185.1,189.6 L2185.4,190.9 L2185.7,192.2 L2185.9,193.5 L2186.1,194.8 L2186.3,196.1 L2186.5,197.4 L2186.7,198.7 L2186.9,200.0 L2187.1,201.2 L2187.3,202.5 L2187.4,203.8 L2187.6,205.1 L2187.8,206.4 L2187.9,207.7 L2188.1,209.0 L2188.2,210.3 L2188.4,211.6 L2188.5,212.9 L2188.7,214.2 L2188.8,215.5 L2189.0,216.8 L2189.1,218.1 L2189.3,219.4 L2189.4,220.7 L2189.5,222.0 L2189.7,223.3 L2189.8,224.6 L2189.9,225.9 L2190.1,227.2 L2190.2,228.5 L2190.3,229.8 L2190.4,231.1 L2190.6,232.4 L2190.7,233.7 L2190.8,235.0 L2190.9,236.3 L2191.1,237.6 L2191.2,238.9 L2191.3,240.2 L2191.4,241.5 L2191.5,242.8 L2191.6,244.0 L2191.8,245.3 L2191.9,246.6 L2192.0,247.9 L2192.1,249.2 L2192.2,250.5 L2192.3,251.8 L2192.4,253.1 L2192.6,254.4 L2192.7,255.7 L2192.8,257.0 L2192.9,258.3 L2193.0,259.6 L2193.1,260.9 L2193.2,262.2 L2193.3,263.5 L2193.4,264.8 L2193.5,266.1 L2193.6,267.4 L2193.7,268.7 L2193.8,270.0 L2194.0,271.3 L2194.1,272.6 L2194.2,273.9 L2194.2,275.2 L2194.2,276.5 L2194.2,277.8 L2194.3,279.1 L2194.3,280.4 L2194.3,281.7 L2194.3,283.0 L2194.0,284.3 L2193.3,285.5 L2192.2,286.8 L2190.4,288.1 L2185.0,289.4 L2185.0,289.4 L2179.5,288.1 L2177.7,286.8 L2176.5,285.5 L2175.8,284.3 L2175.4,283.0 L2175.3,281.7 L2175.3,280.4 L2175.3,279.1 L2175.2,277.8 L2175.2,276.5 L2175.2,275.2 L2175.2,273.9 L2175.2,272.6 L2175.3,271.3 L2175.3,270.0 L2175.4,268.7 L2175.4,267.4 L2175.5,266.1 L2175.5,264.8 L2175.6,263.5 L2175.6,262.2 L2175.7,260.9 L2175.7,259.6 L2175.8,258.3 L2175.8,257.0 L2175.9,255.7 L2175.9,254.4 L2176.0,253.1 L2176.0,251.8 L2176.1,250.5 L2176.2,249.2 L2176.2,247.9 L2176.3,246.6 L2176.3,245.3 L2176.4,244.0 L2176.5,242.8 L2176.5,241.5 L2176.6,240.2 L2176.7,238.9 L2176.7,237.6 L2176.8,236.3 L2176.8,235.0 L2176.9,233.7 L2177.0,232.4 L2177.1,231.1 L2177.1,229.8 L2177.2,228.5 L2177.3,227.2 L2177.4,225.9 L2177.4,224.6 L2177.5,223.3 L2177.6,222.0 L2177.7,220.7 L2177.7,219.4 L2177.8,218.1 L2177.9,216.8 L2178.0,215.5 L2178.1,214.2 L2178.2,212.9 L2178.3,211.6 L2178.4,210.3 L2178.5,209.0 L2178.6,207.7 L2178.7,206.4 L2178.8,205.1 L2178.9,203.8 L2179.0,202.5 L2179.1,201.2 L2179.3,200.0 L2179.4,198.7 L2179.5,197.4 L2179.7,196.1 L2179.8,194.8 L2180.0,193.5 L2180.2,192.2 L2180.4,190.9 L2180.6,189.6 L2180.9,188.3 L2181.2,187.0 L2181.8,185.7Z" fill="#d3cfca" stroke="#5c5650" stroke-width="1"/><ellipse cx="2182.3" cy="197.4" rx="3.0" ry="2.6" transform="rotate(20 2183.0 197.4)" fill="#aaa49e" stroke="#3f3a35" stroke-width="0.8"/><ellipse cx="2181.8" cy="196.4" rx="1.2" ry="1.2" fill="#d8d3ce"/><ellipse cx="2184.2" cy="207.7" rx="4.0" ry="3.5" transform="rotate(-20 2183.3 207.7)" fill="#aaa49e" stroke="#3f3a35" stroke-width="0.8"/><ellipse cx="2184.9" cy="206.7" rx="1.6" ry="1.4" fill="#d8d3ce"/><ellipse cx="2182.3" cy="218.1" rx="4.8" ry="4.2" transform="rotate(20 2183.5 218.1)" fill="#aaa49e" stroke="#3f3a35" stroke-width="0.8"/><ellipse cx="2181.5" cy="217.1" rx="2.0" ry="1.7" fill="#d8d3ce"/><ellipse cx="2185.0" cy="228.5" rx="5.5" ry="4.9" transform="rotate(-20 2183.7 228.5)" fill="#aaa49e" stroke="#3f3a35" stroke-width="0.8"/><ellipse cx="2186.0" cy="227.5" rx="2.3" ry="1.9" fill="#d8d3ce"/><ellipse cx="2182.5" cy="238.9" rx="6.2" ry="5.4" transform="rotate(20 2183.9 238.9)" fill="#aaa49e" stroke="#3f3a35" stroke-width="0.8"/><ellipse cx="2181.4" cy="237.9" rx="2.5" ry="2.2" fill="#d8d3ce"/><ellipse cx="2185.7" cy="249.2" rx="6.8" ry="6.0" transform="rotate(-20 2184.1 249.2)" fill="#aaa49e" stroke="#3f3a35" stroke-width="0.8"/><ellipse cx="2186.9" cy="248.2" rx="2.8" ry="2.4" fill="#d8d3ce"/><ellipse cx="2182.6" cy="259.6" rx="7.3" ry="6.5" transform="rotate(20 2184.4 259.6)" fill="#aaa49e" stroke="#3f3a35" stroke-width="0.8"/><ellipse cx="2181.3" cy="258.6" rx="3.0" ry="2.6" fill="#d8d3ce"/><ellipse cx="2186.4" cy="270.0" rx="7.9" ry="7.0" transform="rotate(-20 2184.6 270.0)" fill="#aaa49e" stroke="#3f3a35" stroke-width="0.8"/><ellipse cx="2187.8" cy="269.0" rx="3.2" ry="2.8" fill="#d8d3ce"/><ellipse cx="2182.9" cy="280.4" rx="8.1" ry="7.1" transform="rotate(20 2184.8 280.4)" fill="#aaa49e" stroke="#3f3a35" stroke-width="0.8"/><ellipse cx="2181.5" cy="279.4" rx="3.3" ry="2.9" fill="#d8d3ce"/><line x1="2271.4" y1="286.8" x2="2272.5" y2="185.2" stroke="#4e4842" stroke-width="1.2" stroke-linecap="round" opacity="1"/><line x1="2272.1" y1="286.8" x2="2273.6" y2="186.3" stroke="#4e4842" stroke-width="1.2" stroke-linecap="round" opacity="1"/><path d="M2271.5,196.1 L2269.6,194.9 L2267.6,194.2 L2265.5,194.0 L2263.3,194.4 L2261.3,195.3 L2259.5,196.6 L2257.9,198.5 L2256.5,200.7 L2255.4,203.2 L2254.6,206.1 L2253.9,209.3 L2253.6,212.8 L2253.9,212.9 L2255.5,209.8 L2257.0,207.0 L2258.4,204.7 L2259.8,202.7 L2261.2,201.1 L2262.4,199.8 L2263.6,198.8 L2264.8,197.9 L2266.1,197.3 L2267.5,196.8 L2269.3,196.5 L2271.4,196.4Z" fill="#ede8e2" stroke="#4e4842" stroke-width="0.85" opacity="1"/><path d="M2271.4,196.3 Q2259.3,191.9 2253.8,212.8" fill="none" stroke="#7a736c" stroke-width="0.5" stroke-linecap="round" opacity="1"/><path d="M2273.6,194.2 L2275.7,194.9 L2277.5,195.5 L2279.0,196.3 L2280.3,197.2 L2281.4,198.2 L2282.5,199.4 L2283.6,200.7 L2284.6,202.3 L2285.7,204.2 L2286.8,206.4 L2287.8,208.9 L2288.9,211.8 L2289.2,211.7 L2289.5,208.6 L2289.3,205.7 L2288.9,203.0 L2288.1,200.6 L2287.1,198.4 L2285.7,196.5 L2284.1,195.0 L2282.2,193.9 L2280.1,193.2 L2278.0,193.0 L2275.8,193.2 L2273.6,193.9Z" fill="#ede8e2" stroke="#4e4842" stroke-width="0.85" opacity="1"/><path d="M2273.6,194.1 Q2286.9,193.0 2289.1,211.7" fill="none" stroke="#7a736c" stroke-width="0.5" stroke-linecap="round" opacity="1"/><path d="M2271.4,209.4 L2269.9,208.5 L2268.1,208.1 L2266.3,208.1 L2264.6,208.6 L2262.9,209.5 L2261.5,210.9 L2260.3,212.6 L2259.4,214.5 L2258.7,216.8 L2258.2,219.3 L2258.0,222.0 L2258.0,224.9 L2258.3,225.0 L2259.6,222.4 L2260.7,220.0 L2261.8,218.0 L2262.9,216.3 L2263.8,214.9 L2264.8,213.7 L2265.6,212.7 L2266.5,211.9 L2267.4,211.2 L2268.5,210.6 L2269.8,210.1 L2271.4,209.7Z" fill="#ede8e2" stroke="#4e4842" stroke-width="0.85" opacity="1"/><path d="M2271.4,209.5 Q2261.5,207.3 2258.2,225.0" fill="none" stroke="#7a736c" stroke-width="0.5" stroke-linecap="round" opacity="1"/><path d="M2272.7,205.2 L2273.7,204.4 L2274.5,203.7 L2275.2,203.1 L2275.8,202.7 L2276.4,202.3 L2276.8,202.1 L2277.0,201.9 L2277.3,201.7 L2277.5,201.4 L2277.8,201.2 L2278.3,201.0 L2279.1,200.8 L2279.2,200.6 L2278.9,199.8 L2278.3,199.2 L2277.5,198.9 L2276.6,198.8 L2275.7,198.9 L2274.9,199.3 L2274.2,199.9 L2273.6,200.7 L2273.2,201.6 L2272.8,202.6 L2272.5,203.7 L2272.4,205.0Z" fill="#ede8e2" stroke="#4e4842" stroke-width="0.85" opacity="1"/><path d="M2272.5,205.1 Q2275.8,198.5 2279.2,200.7" fill="none" stroke="#7a736c" stroke-width="0.5" stroke-linecap="round" opacity="1"/><path d="M2271.4,224.8 L2269.8,223.8 L2268.0,223.4 L2266.0,223.3 L2263.9,223.7 L2261.9,224.6 L2260.0,225.8 L2258.2,227.5 L2256.6,229.4 L2255.1,231.7 L2253.7,234.3 L2252.4,237.1 L2251.4,240.4 L2251.7,240.5 L2254.0,238.1 L2256.1,235.9 L2258.0,234.0 L2259.8,232.3 L2261.4,230.9 L2263.0,229.6 L2264.4,228.6 L2265.7,227.7 L2267.0,226.9 L2268.3,226.2 L2269.7,225.7 L2271.4,225.1Z" fill="#ede8e2" stroke="#4e4842" stroke-width="0.85" opacity="1"/><path d="M2271.4,225.0 Q2261.5,222.8 2251.6,240.4" fill="none" stroke="#7a736c" stroke-width="0.5" stroke-linecap="round" opacity="1"/><path d="M2272.6,231.7 L2274.8,231.8 L2276.8,232.0 L2278.4,232.3 L2279.7,232.7 L2280.8,233.3 L2281.8,233.9 L2282.7,234.7 L2283.7,235.6 L2284.7,236.9 L2285.7,238.5 L2286.7,240.4 L2287.8,242.7 L2288.1,242.6 L2288.3,240.0 L2288.2,237.6 L2287.7,235.4 L2286.9,233.5 L2285.7,231.8 L2284.3,230.4 L2282.5,229.5 L2280.6,229.0 L2278.5,229.0 L2276.5,229.4 L2274.5,230.2 L2272.5,231.5Z" fill="#ede8e2" stroke="#4e4842" stroke-width="0.85" opacity="1"/><path d="M2272.5,231.6 Q2285.8,227.2 2288.0,242.6" fill="none" stroke="#7a736c" stroke-width="0.5" stroke-linecap="round" opacity="1"/><path d="M2271.4,249.1 L2268.7,248.1 L2266.0,247.6 L2263.2,247.4 L2260.5,247.7 L2257.8,248.3 L2255.2,249.3 L2252.8,250.7 L2250.5,252.4 L2248.5,254.5 L2246.6,256.9 L2245.0,259.5 L2243.7,262.4 L2243.9,262.6 L2246.4,260.6 L2248.7,258.8 L2250.9,257.3 L2253.1,255.9 L2255.2,254.7 L2257.3,253.6 L2259.4,252.7 L2261.5,251.8 L2263.8,251.1 L2266.1,250.5 L2268.7,249.9 L2271.4,249.4Z" fill="#ede8e2" stroke="#4e4842" stroke-width="0.85" opacity="1"/><path d="M2271.4,249.3 Q2254.9,247.1 2243.8,262.5" fill="none" stroke="#7a736c" stroke-width="0.5" stroke-linecap="round" opacity="1"/><path d="M2273.0,256.0 L2275.3,256.1 L2277.4,256.3 L2279.3,256.5 L2281.1,256.8 L2282.7,257.2 L2284.4,257.6 L2286.0,258.2 L2287.7,258.8 L2289.5,259.5 L2291.4,260.4 L2293.4,261.4 L2295.6,262.6 L2295.8,262.4 L2294.7,260.1 L2293.2,258.1 L2291.6,256.4 L2289.8,255.0 L2287.8,253.8 L2285.7,253.0 L2283.5,252.6 L2281.3,252.5 L2279.1,252.8 L2276.9,253.4 L2274.9,254.4 L2272.9,255.7Z" fill="#ede8e2" stroke="#4e4842" stroke-width="0.85" opacity="1"/><path d="M2273.0,255.9 Q2285.8,251.5 2295.7,262.5" fill="none" stroke="#7a736c" stroke-width="0.5" stroke-linecap="round" opacity="1"/><path d="M2271.4,275.6 L2270.3,275.7 L2269.2,275.9 L2268.1,276.4 L2267.0,277.0 L2266.1,277.8 L2265.1,278.7 L2264.3,279.7 L2263.5,280.9 L2262.8,282.2 L2262.2,283.6 L2261.7,285.1 L2261.4,286.7 L2261.6,286.9 L2262.7,285.6 L2263.7,284.5 L2264.7,283.4 L2265.6,282.4 L2266.4,281.4 L2267.2,280.6 L2268.0,279.7 L2268.7,278.9 L2269.4,278.2 L2270.1,277.4 L2270.8,276.7 L2271.5,275.9Z" fill="#ede8e2" stroke="#4e4842" stroke-width="0.85" opacity="1"/><path d="M2271.4,275.8 Q2265.9,278.0 2261.5,286.8" fill="none" stroke="#7a736c" stroke-width="0.5" stroke-linecap="round" opacity="1"/><path d="M2273.6,275.9 L2275.2,276.4 L2276.8,276.9 L2278.2,277.4 L2279.6,277.8 L2280.9,278.3 L2282.2,278.7 L2283.5,279.1 L2284.8,279.5 L2286.0,280.0 L2287.3,280.4 L2288.7,280.9 L2290.1,281.4 L2290.3,281.2 L2289.5,279.9 L2288.4,278.7 L2287.3,277.7 L2286.0,276.9 L2284.7,276.1 L2283.3,275.6 L2281.8,275.2 L2280.2,274.9 L2278.6,274.8 L2276.9,274.9 L2275.3,275.1 L2273.6,275.6Z" fill="#ede8e2" stroke="#4e4842" stroke-width="0.85" opacity="1"/><path d="M2273.6,275.8 Q2283.6,275.8 2290.2,281.3" fill="none" stroke="#7a736c" stroke-width="0.5" stroke-linecap="round" opacity="1"/><path d="M2268.0,253.6 L2267.0,254.1 L2266.2,254.7 L2265.6,255.5 L2265.0,256.3 L2264.6,257.2 L2264.3,258.2 L2264.2,259.2 L2264.2,260.3 L2264.4,261.4 L2264.7,262.5 L2265.1,263.6 L2265.8,264.7 L2266.1,264.7 L2266.7,263.7 L2267.3,262.6 L2267.7,261.7 L2268.1,260.8 L2268.4,259.9 L2268.6,259.1 L2268.7,258.2 L2268.7,257.4 L2268.7,256.5 L2268.7,255.7 L2268.5,254.8 L2268.2,253.7Z" fill="#ede8e2" stroke="#4e4842" stroke-width="0.85" opacity="1"/><path d="M2268.1,253.7 Q2265.9,258.1 2265.9,264.7" fill="none" stroke="#7a736c" stroke-width="0.5" stroke-linecap="round" opacity="1"/><path d="M2272.5,188.1 L2272.1,187.8 L2271.7,187.6 L2271.3,187.5 L2270.9,187.4 L2270.5,187.3 L2270.1,187.2 L2269.7,187.2 L2269.3,187.2 L2268.8,187.3 L2268.4,187.4 L2268.0,187.5 L2267.6,187.7 L2267.5,188.0 L2267.9,188.3 L2268.3,188.5 L2268.7,188.7 L2269.1,188.8 L2269.6,188.9 L2270.0,188.9 L2270.4,188.9 L2270.8,188.9 L2271.2,188.8 L2271.7,188.7 L2272.1,188.6 L2272.5,188.4Z" fill="#f3efea" stroke="#4e4842" stroke-width="0.5" opacity="1"/><path d="M2272.6,188.1 L2272.4,187.7 L2272.1,187.3 L2271.8,187.0 L2271.5,186.7 L2271.2,186.4 L2270.9,186.2 L2270.5,186.0 L2270.1,185.8 L2269.7,185.6 L2269.3,185.5 L2268.9,185.4 L2268.4,185.4 L2268.2,185.7 L2268.5,186.1 L2268.7,186.5 L2269.0,186.8 L2269.3,187.1 L2269.6,187.4 L2270.0,187.6 L2270.3,187.8 L2270.7,188.0 L2271.1,188.1 L2271.5,188.3 L2272.0,188.3 L2272.4,188.4Z" fill="#f3efea" stroke="#4e4842" stroke-width="0.5" opacity="1"/><path d="M2272.7,188.2 L2272.6,187.6 L2272.5,187.1 L2272.4,186.6 L2272.2,186.1 L2272.1,185.7 L2271.8,185.2 L2271.6,184.8 L2271.3,184.4 L2271.0,184.0 L2270.6,183.6 L2270.2,183.2 L2269.8,182.9 L2269.5,183.1 L2269.6,183.6 L2269.6,184.1 L2269.8,184.6 L2269.9,185.1 L2270.1,185.6 L2270.3,186.0 L2270.6,186.4 L2270.9,186.9 L2271.2,187.3 L2271.6,187.6 L2271.9,188.0 L2272.4,188.3Z" fill="#f3efea" stroke="#4e4842" stroke-width="0.5" opacity="1"/><path d="M2272.7,188.2 L2272.9,187.7 L2273.1,187.2 L2273.2,186.7 L2273.3,186.2 L2273.4,185.7 L2273.4,185.2 L2273.4,184.7 L2273.3,184.2 L2273.2,183.7 L2273.1,183.2 L2272.9,182.7 L2272.7,182.2 L2272.4,182.2 L2272.1,182.7 L2272.0,183.2 L2271.8,183.7 L2271.8,184.2 L2271.7,184.7 L2271.7,185.2 L2271.7,185.7 L2271.8,186.2 L2271.8,186.7 L2272.0,187.2 L2272.1,187.7 L2272.4,188.2Z" fill="#f3efea" stroke="#4e4842" stroke-width="0.5" opacity="1"/><path d="M2272.7,188.3 L2273.1,188.0 L2273.5,187.6 L2273.8,187.3 L2274.2,186.9 L2274.5,186.4 L2274.7,186.0 L2274.9,185.6 L2275.1,185.1 L2275.3,184.6 L2275.4,184.1 L2275.5,183.6 L2275.5,183.1 L2275.3,182.9 L2274.8,183.2 L2274.4,183.6 L2274.1,184.0 L2273.8,184.4 L2273.5,184.8 L2273.2,185.2 L2273.0,185.7 L2272.8,186.1 L2272.6,186.6 L2272.5,187.1 L2272.4,187.6 L2272.4,188.2Z" fill="#f3efea" stroke="#4e4842" stroke-width="0.5" opacity="1"/><path d="M2272.6,188.4 L2273.1,188.3 L2273.5,188.3 L2273.9,188.1 L2274.3,188.0 L2274.7,187.8 L2275.1,187.6 L2275.4,187.4 L2275.8,187.1 L2276.1,186.8 L2276.3,186.5 L2276.6,186.1 L2276.8,185.7 L2276.7,185.4 L2276.2,185.4 L2275.7,185.5 L2275.3,185.6 L2274.9,185.8 L2274.5,186.0 L2274.2,186.2 L2273.8,186.4 L2273.5,186.7 L2273.2,187.0 L2272.9,187.3 L2272.7,187.7 L2272.4,188.1Z" fill="#f3efea" stroke="#4e4842" stroke-width="0.5" opacity="1"/><path d="M2272.5,188.4 L2273.0,188.6 L2273.4,188.7 L2273.8,188.8 L2274.2,188.9 L2274.7,188.9 L2275.1,188.9 L2275.5,188.9 L2275.9,188.8 L2276.3,188.7 L2276.7,188.5 L2277.1,188.3 L2277.5,188.0 L2277.5,187.7 L2277.1,187.5 L2276.6,187.4 L2276.2,187.3 L2275.8,187.2 L2275.4,187.2 L2275.0,187.2 L2274.5,187.3 L2274.1,187.4 L2273.7,187.5 L2273.3,187.6 L2272.9,187.8 L2272.5,188.1Z" fill="#f3efea" stroke="#4e4842" stroke-width="0.5" opacity="1"/><line x1="2272.5" y1="185.2" x2="2272.5" y2="193.2" stroke="#4e4842" stroke-width="0.8" stroke-linecap="round" opacity="1"/><ellipse cx="2280.3" cy="231.6" rx="3.5" ry="9" transform="rotate(15 2280.3 231.6)" fill="#e8e2da" stroke="#5c5650" stroke-width="0.7"/><path d="M2317.8,179.7 C2324.8,179.7 2326.8,199.7 2330.8,229.7 L2331.9,282.3 Q2331.9,293.3 2318.9,293.3 Q2305.9,293.3 2305.9,282.3 L2304.8,234.7 C2307.8,199.7 2310.8,179.7 2317.8,179.7Z" fill="#ede7df" stroke="#6a5f56" stroke-width="1"/><clipPath id="cm"><path d="M2317.8,179.7 C2324.8,179.7 2326.8,199.7 2330.8,229.7 L2331.9,282.3 Q2331.9,293.3 2318.9,293.3 Q2305.9,293.3 2305.9,282.3 L2304.8,234.7 C2307.8,199.7 2310.8,179.7 2317.8,179.7Z"/></clipPath><g clip-path="url(#cm)"><rect x="2302.7" y="183.1" width="4.2" height="3.2" rx="1.3" fill="#f6f2ec" stroke="#8d8178" stroke-width="0.55"/><rect x="2307.7" y="183.1" width="4.2" height="3.2" rx="1.3" fill="#f6f2ec" stroke="#8d8178" stroke-width="0.55"/><rect x="2312.7" y="183.1" width="4.2" height="3.2" rx="1.3" fill="#f6f2ec" stroke="#8d8178" stroke-width="0.55"/><rect x="2317.7" y="183.1" width="4.2" height="3.2" rx="1.3" fill="#f6f2ec" stroke="#8d8178" stroke-width="0.55"/><rect x="2322.7" y="183.1" width="4.2" height="3.2" rx="1.3" fill="#f6f2ec" stroke="#8d8178" stroke-width="0.55"/><rect x="2327.7" y="183.1" width="4.2" height="3.2" rx="1.3" fill="#f6f2ec" stroke="#8d8178" stroke-width="0.55"/><rect x="2332.7" y="183.1" width="4.2" height="3.2" rx="1.3" fill="#f6f2ec" stroke="#8d8178" stroke-width="0.55"/><rect x="2302.7" y="187.3" width="4.2" height="3.2" rx="1.3" fill="#f6f2ec" stroke="#8d8178" stroke-width="0.55"/><rect x="2307.7" y="187.3" width="4.2" height="3.2" rx="1.3" fill="#f6f2ec" stroke="#8d8178" stroke-width="0.55"/><rect x="2312.7" y="187.3" width="4.2" height="3.2" rx="1.3" fill="#f6f2ec" stroke="#8d8178" stroke-width="0.55"/><rect x="2317.7" y="187.3" width="4.2" height="3.2" rx="1.3" fill="#f6f2ec" stroke="#8d8178" stroke-width="0.55"/><rect x="2322.7" y="187.3" width="4.2" height="3.2" rx="1.3" fill="#f6f2ec" stroke="#8d8178" stroke-width="0.55"/><rect x="2327.7" y="187.3" width="4.2" height="3.2" rx="1.3" fill="#f6f2ec" stroke="#8d8178" stroke-width="0.55"/><rect x="2332.7" y="187.3" width="4.2" height="3.2" rx="1.3" fill="#f6f2ec" stroke="#8d8178" stroke-width="0.55"/><rect x="2302.7" y="191.5" width="4.2" height="3.2" rx="1.3" fill="#f6f2ec" stroke="#8d8178" stroke-width="0.55"/><rect x="2307.7" y="191.5" width="4.2" height="3.2" rx="1.3" fill="#f6f2ec" stroke="#8d8178" stroke-width="0.55"/><rect x="2312.7" y="191.5" width="4.2" height="3.2" rx="1.3" fill="#f6f2ec" stroke="#8d8178" stroke-width="0.55"/><rect x="2317.7" y="191.5" width="4.2" height="3.2" rx="1.3" fill="#f6f2ec" stroke="#8d8178" stroke-width="0.55"/><rect x="2322.7" y="191.5" width="4.2" height="3.2" rx="1.3" fill="#f6f2ec" stroke="#8d8178" stroke-width="0.55"/><rect x="2327.7" y="191.5" width="4.2" height="3.2" rx="1.3" fill="#f6f2ec" stroke="#8d8178" stroke-width="0.55"/><rect x="2332.7" y="191.5" width="4.2" height="3.2" rx="1.3" fill="#f6f2ec" stroke="#8d8178" stroke-width="0.55"/><rect x="2302.7" y="195.7" width="4.2" height="3.2" rx="1.3" fill="#f6f2ec" stroke="#8d8178" stroke-width="0.55"/><rect x="2307.7" y="195.7" width="4.2" height="3.2" rx="1.3" fill="#f6f2ec" stroke="#8d8178" stroke-width="0.55"/><rect x="2312.7" y="195.7" width="4.2" height="3.2" rx="1.3" fill="#f6f2ec" stroke="#8d8178" stroke-width="0.55"/><rect x="2317.7" y="195.7" width="4.2" height="3.2" rx="1.3" fill="#f6f2ec" stroke="#8d8178" stroke-width="0.55"/><rect x="2322.7" y="195.7" width="4.2" height="3.2" rx="1.3" fill="#f6f2ec" stroke="#8d8178" stroke-width="0.55"/><rect x="2327.7" y="195.7" width="4.2" height="3.2" rx="1.3" fill="#f6f2ec" stroke="#8d8178" stroke-width="0.55"/><rect x="2332.7" y="195.7" width="4.2" height="3.2" rx="1.3" fill="#f6f2ec" stroke="#8d8178" stroke-width="0.55"/><rect x="2302.7" y="199.9" width="4.2" height="3.2" rx="1.3" fill="#f6f2ec" stroke="#8d8178" stroke-width="0.55"/><rect x="2307.7" y="199.9" width="4.2" height="3.2" rx="1.3" fill="#f6f2ec" stroke="#8d8178" stroke-width="0.55"/><rect x="2312.7" y="199.9" width="4.2" height="3.2" rx="1.3" fill="#f6f2ec" stroke="#8d8178" stroke-width="0.55"/><rect x="2317.7" y="199.9" width="4.2" height="3.2" rx="1.3" fill="#f6f2ec" stroke="#8d8178" stroke-width="0.55"/><rect x="2322.7" y="199.9" width="4.2" height="3.2" rx="1.3" fill="#f6f2ec" stroke="#8d8178" stroke-width="0.55"/><rect x="2327.7" y="199.9" width="4.2" height="3.2" rx="1.3" fill="#f6f2ec" stroke="#8d8178" stroke-width="0.55"/><rect x="2332.7" y="199.9" width="4.2" height="3.2" rx="1.3" fill="#f6f2ec" stroke="#8d8178" stroke-width="0.55"/><rect x="2302.7" y="204.1" width="4.2" height="3.2" rx="1.3" fill="#f6f2ec" stroke="#8d8178" stroke-width="0.55"/><rect x="2307.7" y="204.1" width="4.2" height="3.2" rx="1.3" fill="#f6f2ec" stroke="#8d8178" stroke-width="0.55"/><rect x="2312.7" y="204.1" width="4.2" height="3.2" rx="1.3" fill="#f6f2ec" stroke="#8d8178" stroke-width="0.55"/><rect x="2317.7" y="204.1" width="4.2" height="3.2" rx="1.3" fill="#f6f2ec" stroke="#8d8178" stroke-width="0.55"/><rect x="2322.7" y="204.1" width="4.2" height="3.2" rx="1.3" fill="#f6f2ec" stroke="#8d8178" stroke-width="0.55"/><rect x="2327.7" y="204.1" width="4.2" height="3.2" rx="1.3" fill="#f6f2ec" stroke="#8d8178" stroke-width="0.55"/><rect x="2332.7" y="204.1" width="4.2" height="3.2" rx="1.3" fill="#f6f2ec" stroke="#8d8178" stroke-width="0.55"/><rect x="2302.7" y="208.3" width="4.2" height="3.2" rx="1.3" fill="#f6f2ec" stroke="#8d8178" stroke-width="0.55"/><rect x="2307.7" y="208.3" width="4.2" height="3.2" rx="1.3" fill="#f6f2ec" stroke="#8d8178" stroke-width="0.55"/><rect x="2312.7" y="208.3" width="4.2" height="3.2" rx="1.3" fill="#f6f2ec" stroke="#8d8178" stroke-width="0.55"/><rect x="2317.7" y="208.3" width="4.2" height="3.2" rx="1.3" fill="#f6f2ec" stroke="#8d8178" stroke-width="0.55"/><rect x="2322.7" y="208.3" width="4.2" height="3.2" rx="1.3" fill="#f6f2ec" stroke="#8d8178" stroke-width="0.55"/><rect x="2327.7" y="208.3" width="4.2" height="3.2" rx="1.3" fill="#f6f2ec" stroke="#8d8178" stroke-width="0.55"/><rect x="2332.7" y="208.3" width="4.2" height="3.2" rx="1.3" fill="#f6f2ec" stroke="#8d8178" stroke-width="0.55"/><rect x="2302.7" y="212.5" width="4.2" height="3.2" rx="1.3" fill="#f6f2ec" stroke="#8d8178" stroke-width="0.55"/><rect x="2307.7" y="212.5" width="4.2" height="3.2" rx="1.3" fill="#f6f2ec" stroke="#8d8178" stroke-width="0.55"/><rect x="2312.7" y="212.5" width="4.2" height="3.2" rx="1.3" fill="#f6f2ec" stroke="#8d8178" stroke-width="0.55"/><rect x="2317.7" y="212.5" width="4.2" height="3.2" rx="1.3" fill="#f6f2ec" stroke="#8d8178" stroke-width="0.55"/><rect x="2322.7" y="212.5" width="4.2" height="3.2" rx="1.3" fill="#f6f2ec" stroke="#8d8178" stroke-width="0.55"/><rect x="2327.7" y="212.5" width="4.2" height="3.2" rx="1.3" fill="#f6f2ec" stroke="#8d8178" stroke-width="0.55"/><rect x="2332.7" y="212.5" width="4.2" height="3.2" rx="1.3" fill="#f6f2ec" stroke="#8d8178" stroke-width="0.55"/><rect x="2302.7" y="216.7" width="4.2" height="3.2" rx="1.3" fill="#f6f2ec" stroke="#8d8178" stroke-width="0.55"/><rect x="2307.7" y="216.7" width="4.2" height="3.2" rx="1.3" fill="#f6f2ec" stroke="#8d8178" stroke-width="0.55"/><rect x="2312.7" y="216.7" width="4.2" height="3.2" rx="1.3" fill="#f6f2ec" stroke="#8d8178" stroke-width="0.55"/><rect x="2317.7" y="216.7" width="4.2" height="3.2" rx="1.3" fill="#f6f2ec" stroke="#8d8178" stroke-width="0.55"/><rect x="2322.7" y="216.7" width="4.2" height="3.2" rx="1.3" fill="#f6f2ec" stroke="#8d8178" stroke-width="0.55"/><rect x="2327.7" y="216.7" width="4.2" height="3.2" rx="1.3" fill="#f6f2ec" stroke="#8d8178" stroke-width="0.55"/><rect x="2332.7" y="216.7" width="4.2" height="3.2" rx="1.3" fill="#f6f2ec" stroke="#8d8178" stroke-width="0.55"/><rect x="2302.7" y="220.9" width="4.2" height="3.2" rx="1.3" fill="#f6f2ec" stroke="#8d8178" stroke-width="0.55"/><rect x="2307.7" y="220.9" width="4.2" height="3.2" rx="1.3" fill="#f6f2ec" stroke="#8d8178" stroke-width="0.55"/><rect x="2312.7" y="220.9" width="4.2" height="3.2" rx="1.3" fill="#f6f2ec" stroke="#8d8178" stroke-width="0.55"/><rect x="2317.7" y="220.9" width="4.2" height="3.2" rx="1.3" fill="#f6f2ec" stroke="#8d8178" stroke-width="0.55"/><rect x="2322.7" y="220.9" width="4.2" height="3.2" rx="1.3" fill="#f6f2ec" stroke="#8d8178" stroke-width="0.55"/><rect x="2327.7" y="220.9" width="4.2" height="3.2" rx="1.3" fill="#f6f2ec" stroke="#8d8178" stroke-width="0.55"/><rect x="2332.7" y="220.9" width="4.2" height="3.2" rx="1.3" fill="#f6f2ec" stroke="#8d8178" stroke-width="0.55"/><rect x="2302.7" y="225.1" width="4.2" height="3.2" rx="1.3" fill="#f6f2ec" stroke="#8d8178" stroke-width="0.55"/><rect x="2307.7" y="225.1" width="4.2" height="3.2" rx="1.3" fill="#f6f2ec" stroke="#8d8178" stroke-width="0.55"/><rect x="2312.7" y="225.1" width="4.2" height="3.2" rx="1.3" fill="#f6f2ec" stroke="#8d8178" stroke-width="0.55"/><rect x="2317.7" y="225.1" width="4.2" height="3.2" rx="1.3" fill="#f6f2ec" stroke="#8d8178" stroke-width="0.55"/><rect x="2322.7" y="225.1" width="4.2" height="3.2" rx="1.3" fill="#f6f2ec" stroke="#8d8178" stroke-width="0.55"/><rect x="2327.7" y="225.1" width="4.2" height="3.2" rx="1.3" fill="#f6f2ec" stroke="#8d8178" stroke-width="0.55"/><rect x="2332.7" y="225.1" width="4.2" height="3.2" rx="1.3" fill="#f6f2ec" stroke="#8d8178" stroke-width="0.55"/><rect x="2302.7" y="229.3" width="4.2" height="3.2" rx="1.3" fill="#f6f2ec" stroke="#8d8178" stroke-width="0.55"/><rect x="2307.7" y="229.3" width="4.2" height="3.2" rx="1.3" fill="#f6f2ec" stroke="#8d8178" stroke-width="0.55"/><rect x="2312.7" y="229.3" width="4.2" height="3.2" rx="1.3" fill="#f6f2ec" stroke="#8d8178" stroke-width="0.55"/><rect x="2317.7" y="229.3" width="4.2" height="3.2" rx="1.3" fill="#f6f2ec" stroke="#8d8178" stroke-width="0.55"/><rect x="2322.7" y="229.3" width="4.2" height="3.2" rx="1.3" fill="#f6f2ec" stroke="#8d8178" stroke-width="0.55"/><rect x="2327.7" y="229.3" width="4.2" height="3.2" rx="1.3" fill="#f6f2ec" stroke="#8d8178" stroke-width="0.55"/><rect x="2332.7" y="229.3" width="4.2" height="3.2" rx="1.3" fill="#f6f2ec" stroke="#8d8178" stroke-width="0.55"/><rect x="2302.7" y="233.5" width="4.2" height="3.2" rx="1.3" fill="#f6f2ec" stroke="#8d8178" stroke-width="0.55"/><rect x="2307.7" y="233.5" width="4.2" height="3.2" rx="1.3" fill="#f6f2ec" stroke="#8d8178" stroke-width="0.55"/><rect x="2312.7" y="233.5" width="4.2" height="3.2" rx="1.3" fill="#f6f2ec" stroke="#8d8178" stroke-width="0.55"/><rect x="2317.7" y="233.5" width="4.2" height="3.2" rx="1.3" fill="#f6f2ec" stroke="#8d8178" stroke-width="0.55"/><rect x="2322.7" y="233.5" width="4.2" height="3.2" rx="1.3" fill="#f6f2ec" stroke="#8d8178" stroke-width="0.55"/><rect x="2327.7" y="233.5" width="4.2" height="3.2" rx="1.3" fill="#f6f2ec" stroke="#8d8178" stroke-width="0.55"/><rect x="2332.7" y="233.5" width="4.2" height="3.2" rx="1.3" fill="#f6f2ec" stroke="#8d8178" stroke-width="0.55"/><rect x="2302.7" y="237.7" width="4.2" height="3.2" rx="1.3" fill="#f6f2ec" stroke="#8d8178" stroke-width="0.55"/><rect x="2307.7" y="237.7" width="4.2" height="3.2" rx="1.3" fill="#f6f2ec" stroke="#8d8178" stroke-width="0.55"/><rect x="2312.7" y="237.7" width="4.2" height="3.2" rx="1.3" fill="#f6f2ec" stroke="#8d8178" stroke-width="0.55"/><rect x="2317.7" y="237.7" width="4.2" height="3.2" rx="1.3" fill="#f6f2ec" stroke="#8d8178" stroke-width="0.55"/><rect x="2322.7" y="237.7" width="4.2" height="3.2" rx="1.3" fill="#f6f2ec" stroke="#8d8178" stroke-width="0.55"/><rect x="2327.7" y="237.7" width="4.2" height="3.2" rx="1.3" fill="#f6f2ec" stroke="#8d8178" stroke-width="0.55"/><rect x="2332.7" y="237.7" width="4.2" height="3.2" rx="1.3" fill="#f6f2ec" stroke="#8d8178" stroke-width="0.55"/><rect x="2302.7" y="241.9" width="4.2" height="3.2" rx="1.3" fill="#f6f2ec" stroke="#8d8178" stroke-width="0.55"/><rect x="2307.7" y="241.9" width="4.2" height="3.2" rx="1.3" fill="#f6f2ec" stroke="#8d8178" stroke-width="0.55"/><rect x="2312.7" y="241.9" width="4.2" height="3.2" rx="1.3" fill="#f6f2ec" stroke="#8d8178" stroke-width="0.55"/><rect x="2317.7" y="241.9" width="4.2" height="3.2" rx="1.3" fill="#f6f2ec" stroke="#8d8178" stroke-width="0.55"/><rect x="2322.7" y="241.9" width="4.2" height="3.2" rx="1.3" fill="#f6f2ec" stroke="#8d8178" stroke-width="0.55"/><rect x="2327.7" y="241.9" width="4.2" height="3.2" rx="1.3" fill="#f6f2ec" stroke="#8d8178" stroke-width="0.55"/><rect x="2332.7" y="241.9" width="4.2" height="3.2" rx="1.3" fill="#f6f2ec" stroke="#8d8178" stroke-width="0.55"/><rect x="2302.7" y="246.1" width="4.2" height="3.2" rx="1.3" fill="#f6f2ec" stroke="#8d8178" stroke-width="0.55"/><rect x="2307.7" y="246.1" width="4.2" height="3.2" rx="1.3" fill="#f6f2ec" stroke="#8d8178" stroke-width="0.55"/><rect x="2312.7" y="246.1" width="4.2" height="3.2" rx="1.3" fill="#f6f2ec" stroke="#8d8178" stroke-width="0.55"/><rect x="2317.7" y="246.1" width="4.2" height="3.2" rx="1.3" fill="#f6f2ec" stroke="#8d8178" stroke-width="0.55"/><rect x="2322.7" y="246.1" width="4.2" height="3.2" rx="1.3" fill="#f6f2ec" stroke="#8d8178" stroke-width="0.55"/><rect x="2327.7" y="246.1" width="4.2" height="3.2" rx="1.3" fill="#f6f2ec" stroke="#8d8178" stroke-width="0.55"/><rect x="2332.7" y="246.1" width="4.2" height="3.2" rx="1.3" fill="#f6f2ec" stroke="#8d8178" stroke-width="0.55"/><rect x="2302.7" y="250.3" width="4.2" height="3.2" rx="1.3" fill="#f6f2ec" stroke="#8d8178" stroke-width="0.55"/><rect x="2307.7" y="250.3" width="4.2" height="3.2" rx="1.3" fill="#f6f2ec" stroke="#8d8178" stroke-width="0.55"/><rect x="2312.7" y="250.3" width="4.2" height="3.2" rx="1.3" fill="#f6f2ec" stroke="#8d8178" stroke-width="0.55"/><rect x="2317.7" y="250.3" width="4.2" height="3.2" rx="1.3" fill="#f6f2ec" stroke="#8d8178" stroke-width="0.55"/><rect x="2322.7" y="250.3" width="4.2" height="3.2" rx="1.3" fill="#f6f2ec" stroke="#8d8178" stroke-width="0.55"/><rect x="2327.7" y="250.3" width="4.2" height="3.2" rx="1.3" fill="#f6f2ec" stroke="#8d8178" stroke-width="0.55"/><rect x="2332.7" y="250.3" width="4.2" height="3.2" rx="1.3" fill="#f6f2ec" stroke="#8d8178" stroke-width="0.55"/><rect x="2302.7" y="254.5" width="4.2" height="3.2" rx="1.3" fill="#f6f2ec" stroke="#8d8178" stroke-width="0.55"/><rect x="2307.7" y="254.5" width="4.2" height="3.2" rx="1.3" fill="#f6f2ec" stroke="#8d8178" stroke-width="0.55"/><rect x="2312.7" y="254.5" width="4.2" height="3.2" rx="1.3" fill="#f6f2ec" stroke="#8d8178" stroke-width="0.55"/><rect x="2317.7" y="254.5" width="4.2" height="3.2" rx="1.3" fill="#f6f2ec" stroke="#8d8178" stroke-width="0.55"/><rect x="2322.7" y="254.5" width="4.2" height="3.2" rx="1.3" fill="#f6f2ec" stroke="#8d8178" stroke-width="0.55"/><rect x="2327.7" y="254.5" width="4.2" height="3.2" rx="1.3" fill="#f6f2ec" stroke="#8d8178" stroke-width="0.55"/><rect x="2332.7" y="254.5" width="4.2" height="3.2" rx="1.3" fill="#f6f2ec" stroke="#8d8178" stroke-width="0.55"/><rect x="2302.7" y="258.7" width="4.2" height="3.2" rx="1.3" fill="#f6f2ec" stroke="#8d8178" stroke-width="0.55"/><rect x="2307.7" y="258.7" width="4.2" height="3.2" rx="1.3" fill="#f6f2ec" stroke="#8d8178" stroke-width="0.55"/><rect x="2312.7" y="258.7" width="4.2" height="3.2" rx="1.3" fill="#f6f2ec" stroke="#8d8178" stroke-width="0.55"/><rect x="2317.7" y="258.7" width="4.2" height="3.2" rx="1.3" fill="#f6f2ec" stroke="#8d8178" stroke-width="0.55"/><rect x="2322.7" y="258.7" width="4.2" height="3.2" rx="1.3" fill="#f6f2ec" stroke="#8d8178" stroke-width="0.55"/><rect x="2327.7" y="258.7" width="4.2" height="3.2" rx="1.3" fill="#f6f2ec" stroke="#8d8178" stroke-width="0.55"/><rect x="2332.7" y="258.7" width="4.2" height="3.2" rx="1.3" fill="#f6f2ec" stroke="#8d8178" stroke-width="0.55"/><rect x="2302.7" y="262.9" width="4.2" height="3.2" rx="1.3" fill="#f6f2ec" stroke="#8d8178" stroke-width="0.55"/><rect x="2307.7" y="262.9" width="4.2" height="3.2" rx="1.3" fill="#f6f2ec" stroke="#8d8178" stroke-width="0.55"/><rect x="2312.7" y="262.9" width="4.2" height="3.2" rx="1.3" fill="#f6f2ec" stroke="#8d8178" stroke-width="0.55"/><rect x="2317.7" y="262.9" width="4.2" height="3.2" rx="1.3" fill="#f6f2ec" stroke="#8d8178" stroke-width="0.55"/><rect x="2322.7" y="262.9" width="4.2" height="3.2" rx="1.3" fill="#f6f2ec" stroke="#8d8178" stroke-width="0.55"/><rect x="2327.7" y="262.9" width="4.2" height="3.2" rx="1.3" fill="#f6f2ec" stroke="#8d8178" stroke-width="0.55"/><rect x="2332.7" y="262.9" width="4.2" height="3.2" rx="1.3" fill="#f6f2ec" stroke="#8d8178" stroke-width="0.55"/><rect x="2302.7" y="267.1" width="4.2" height="3.2" rx="1.3" fill="#f6f2ec" stroke="#8d8178" stroke-width="0.55"/><rect x="2307.7" y="267.1" width="4.2" height="3.2" rx="1.3" fill="#f6f2ec" stroke="#8d8178" stroke-width="0.55"/><rect x="2312.7" y="267.1" width="4.2" height="3.2" rx="1.3" fill="#f6f2ec" stroke="#8d8178" stroke-width="0.55"/><rect x="2317.7" y="267.1" width="4.2" height="3.2" rx="1.3" fill="#f6f2ec" stroke="#8d8178" stroke-width="0.55"/><rect x="2322.7" y="267.1" width="4.2" height="3.2" rx="1.3" fill="#f6f2ec" stroke="#8d8178" stroke-width="0.55"/><rect x="2327.7" y="267.1" width="4.2" height="3.2" rx="1.3" fill="#f6f2ec" stroke="#8d8178" stroke-width="0.55"/><rect x="2332.7" y="267.1" width="4.2" height="3.2" rx="1.3" fill="#f6f2ec" stroke="#8d8178" stroke-width="0.55"/><rect x="2302.7" y="271.3" width="4.2" height="3.2" rx="1.3" fill="#f6f2ec" stroke="#8d8178" stroke-width="0.55"/><rect x="2307.7" y="271.3" width="4.2" height="3.2" rx="1.3" fill="#f6f2ec" stroke="#8d8178" stroke-width="0.55"/><rect x="2312.7" y="271.3" width="4.2" height="3.2" rx="1.3" fill="#f6f2ec" stroke="#8d8178" stroke-width="0.55"/><rect x="2317.7" y="271.3" width="4.2" height="3.2" rx="1.3" fill="#f6f2ec" stroke="#8d8178" stroke-width="0.55"/><rect x="2322.7" y="271.3" width="4.2" height="3.2" rx="1.3" fill="#f6f2ec" stroke="#8d8178" stroke-width="0.55"/><rect x="2327.7" y="271.3" width="4.2" height="3.2" rx="1.3" fill="#f6f2ec" stroke="#8d8178" stroke-width="0.55"/><rect x="2332.7" y="271.3" width="4.2" height="3.2" rx="1.3" fill="#f6f2ec" stroke="#8d8178" stroke-width="0.55"/><rect x="2302.7" y="275.5" width="4.2" height="3.2" rx="1.3" fill="#f6f2ec" stroke="#8d8178" stroke-width="0.55"/><rect x="2307.7" y="275.5" width="4.2" height="3.2" rx="1.3" fill="#f6f2ec" stroke="#8d8178" stroke-width="0.55"/><rect x="2312.7" y="275.5" width="4.2" height="3.2" rx="1.3" fill="#f6f2ec" stroke="#8d8178" stroke-width="0.55"/><rect x="2317.7" y="275.5" width="4.2" height="3.2" rx="1.3" fill="#f6f2ec" stroke="#8d8178" stroke-width="0.55"/><rect x="2322.7" y="275.5" width="4.2" height="3.2" rx="1.3" fill="#f6f2ec" stroke="#8d8178" stroke-width="0.55"/><rect x="2327.7" y="275.5" width="4.2" height="3.2" rx="1.3" fill="#f6f2ec" stroke="#8d8178" stroke-width="0.55"/><rect x="2332.7" y="275.5" width="4.2" height="3.2" rx="1.3" fill="#f6f2ec" stroke="#8d8178" stroke-width="0.55"/><rect x="2302.7" y="279.7" width="4.2" height="3.2" rx="1.3" fill="#f6f2ec" stroke="#8d8178" stroke-width="0.55"/><rect x="2307.7" y="279.7" width="4.2" height="3.2" rx="1.3" fill="#f6f2ec" stroke="#8d8178" stroke-width="0.55"/><rect x="2312.7" y="279.7" width="4.2" height="3.2" rx="1.3" fill="#f6f2ec" stroke="#8d8178" stroke-width="0.55"/><rect x="2317.7" y="279.7" width="4.2" height="3.2" rx="1.3" fill="#f6f2ec" stroke="#8d8178" stroke-width="0.55"/><rect x="2322.7" y="279.7" width="4.2" height="3.2" rx="1.3" fill="#f6f2ec" stroke="#8d8178" stroke-width="0.55"/><rect x="2327.7" y="279.7" width="4.2" height="3.2" rx="1.3" fill="#f6f2ec" stroke="#8d8178" stroke-width="0.55"/><rect x="2332.7" y="279.7" width="4.2" height="3.2" rx="1.3" fill="#f6f2ec" stroke="#8d8178" stroke-width="0.55"/><rect x="2302.7" y="283.9" width="4.2" height="3.2" rx="1.3" fill="#f6f2ec" stroke="#8d8178" stroke-width="0.55"/><rect x="2307.7" y="283.9" width="4.2" height="3.2" rx="1.3" fill="#f6f2ec" stroke="#8d8178" stroke-width="0.55"/><rect x="2312.7" y="283.9" width="4.2" height="3.2" rx="1.3" fill="#f6f2ec" stroke="#8d8178" stroke-width="0.55"/><rect x="2317.7" y="283.9" width="4.2" height="3.2" rx="1.3" fill="#f6f2ec" stroke="#8d8178" stroke-width="0.55"/><rect x="2322.7" y="283.9" width="4.2" height="3.2" rx="1.3" fill="#f6f2ec" stroke="#8d8178" stroke-width="0.55"/><rect x="2327.7" y="283.9" width="4.2" height="3.2" rx="1.3" fill="#f6f2ec" stroke="#8d8178" stroke-width="0.55"/><rect x="2332.7" y="283.9" width="4.2" height="3.2" rx="1.3" fill="#f6f2ec" stroke="#8d8178" stroke-width="0.55"/><rect x="2302.7" y="288.1" width="4.2" height="3.2" rx="1.3" fill="#f6f2ec" stroke="#8d8178" stroke-width="0.55"/><rect x="2307.7" y="288.1" width="4.2" height="3.2" rx="1.3" fill="#f6f2ec" stroke="#8d8178" stroke-width="0.55"/><rect x="2312.7" y="288.1" width="4.2" height="3.2" rx="1.3" fill="#f6f2ec" stroke="#8d8178" stroke-width="0.55"/><rect x="2317.7" y="288.1" width="4.2" height="3.2" rx="1.3" fill="#f6f2ec" stroke="#8d8178" stroke-width="0.55"/><rect x="2322.7" y="288.1" width="4.2" height="3.2" rx="1.3" fill="#f6f2ec" stroke="#8d8178" stroke-width="0.55"/><rect x="2327.7" y="288.1" width="4.2" height="3.2" rx="1.3" fill="#f6f2ec" stroke="#8d8178" stroke-width="0.55"/><rect x="2332.7" y="288.1" width="4.2" height="3.2" rx="1.3" fill="#f6f2ec" stroke="#8d8178" stroke-width="0.55"/><rect x="2302.7" y="292.3" width="4.2" height="3.2" rx="1.3" fill="#f6f2ec" stroke="#8d8178" stroke-width="0.55"/><rect x="2307.7" y="292.3" width="4.2" height="3.2" rx="1.3" fill="#f6f2ec" stroke="#8d8178" stroke-width="0.55"/><rect x="2312.7" y="292.3" width="4.2" height="3.2" rx="1.3" fill="#f6f2ec" stroke="#8d8178" stroke-width="0.55"/><rect x="2317.7" y="292.3" width="4.2" height="3.2" rx="1.3" fill="#f6f2ec" stroke="#8d8178" stroke-width="0.55"/><rect x="2322.7" y="292.3" width="4.2" height="3.2" rx="1.3" fill="#f6f2ec" stroke="#8d8178" stroke-width="0.55"/><rect x="2327.7" y="292.3" width="4.2" height="3.2" rx="1.3" fill="#f6f2ec" stroke="#8d8178" stroke-width="0.55"/><rect x="2332.7" y="292.3" width="4.2" height="3.2" rx="1.3" fill="#f6f2ec" stroke="#8d8178" stroke-width="0.55"/></g></svg>
<div class="bar"><div class="track"></div><div class="fill"></div></div>
<div class="tick" style="left:528px"></div>
<div class="tick" style="left:664px"></div>
<div class="tick" style="left:800px"></div>
<div class="tick" style="left:936px"></div>
<div class="tick" style="left:1070px"></div>
<div class="tick" style="left:1206px"></div>
<div class="tick" style="left:1342px"></div>
<div class="tick" style="left:1478px"></div>
<div class="tick" style="left:1614px"></div>
<div class="tick" style="left:1750px"></div>
<div class="tick" style="left:1886px"></div>
<div class="tick" style="left:2020px"></div>
<div class="tick" style="left:2156px"></div>
<div class="tick" style="left:2292px"></div>
<div class="lab" style="left:233.00px;top:421px;height:96px"><div>1:</div><div>Cellular</div><div>Organisms</div></div>
<div class="lab" style="left:369.00px;top:421px;height:96px"><div>2:</div><div>Domain:</div><div>Eukaryota</div></div>
<div class="lab" style="left:505.00px;top:421px;height:96px"><div>3:</div><div>Kingdom:</div><div>Viridiplantae</div></div>
<div class="lab" style="left:641.00px;top:421px;height:96px"><div>4:</div><div>Phylum:</div><div>Streptophyta</div></div>
<div class="lab" style="left:775.00px;top:421px;height:96px"><div>5:</div><div>Land plants</div><div>(Embryophyta)</div></div>
<div class="lab" style="left:911.00px;top:421px;height:96px"><div>6:</div><div>Class:</div><div>Magnoliopsida</div></div>
<div class="lab" style="left:1047.00px;top:421px;height:96px"><div>7:</div><div>Monocots</div><div>(Liliopsida)</div></div>
<div class="lab" style="left:1183.00px;top:421px;height:96px"><div>8:</div><div>Order:</div><div>Poales</div></div>
<div class="lab" style="left:1319.00px;top:421px;height:96px"><div>9:</div><div>Family:</div><div>Poaceae</div></div>
<div class="lab" style="left:1455.00px;top:421px;height:96px"><div>10:</div><div>Subfamily:</div><div>Panicoideae</div></div>
<div class="lab" style="left:1591.00px;top:421px;height:96px"><div>11:</div><div>Tribe:</div><div>Andropogoneae</div></div>
<div class="lab" style="left:1725.00px;top:421px;height:96px"><div>12:</div><div>Genus:</div><div>Zea</div></div>
<div class="lab" style="left:1861.00px;top:421px;height:128px"><div>13:</div><div>Species:</div><div>Zea</div><div>mays</div></div>
<div class="lab" style="left:1997.00px;top:421px;height:128px"><div>14:</div><div>Subspecies:</div><div>Zea mays</div><div>mays</div></div></body></html>
